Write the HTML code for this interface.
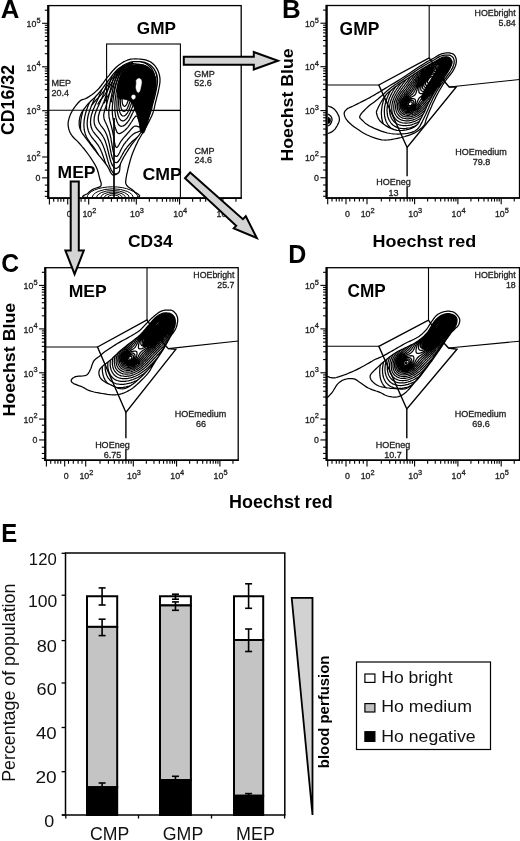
<!DOCTYPE html>
<html><head><meta charset="utf-8"><style>
html,body{margin:0;padding:0;background:#fff;overflow:hidden;width:520px;height:841px;}
svg{display:block;will-change:transform;}
text{font-family:"Liberation Sans", sans-serif;}
text[fill="#222"]{stroke:#222;stroke-width:0.3px;}
</style></head><body>
<svg width="520" height="841" viewBox="0 0 520 841">
<rect width="520" height="841" fill="#fff"/>
<rect x="48.5" y="5.6" width="192.7" height="192.5" fill="none" stroke="#000" stroke-width="1.3"/>
<line x1="48.2" y1="5.0" x2="48.2" y2="198.9" stroke="#000" stroke-width="2.2"/>
<line x1="47.7" y1="198.1" x2="241.79999999999998" y2="198.1" stroke="#000" stroke-width="1.6"/>
<line x1="42.1" y1="23.299999999999997" x2="48.5" y2="23.299999999999997" stroke="#000" stroke-width="1.1"/>
<line x1="44.800000000000004" y1="53.70519518861682" x2="48.5" y2="53.70519518861682" stroke="#000" stroke-width="1.1"/>
<line x1="44.800000000000004" y1="46.04522541969469" x2="48.5" y2="46.04522541969469" stroke="#000" stroke-width="1.1"/>
<line x1="44.800000000000004" y1="40.610390377233635" x2="48.5" y2="40.610390377233635" stroke="#000" stroke-width="1.1"/>
<line x1="44.800000000000004" y1="36.39480481138318" x2="48.5" y2="36.39480481138318" stroke="#000" stroke-width="1.1"/>
<line x1="44.800000000000004" y1="32.950420608311504" x2="48.5" y2="32.950420608311504" stroke="#000" stroke-width="1.1"/>
<line x1="44.800000000000004" y1="30.03823525937983" x2="48.5" y2="30.03823525937983" stroke="#000" stroke-width="1.1"/>
<line x1="44.800000000000004" y1="27.515585565850458" x2="48.5" y2="27.515585565850458" stroke="#000" stroke-width="1.1"/>
<line x1="44.800000000000004" y1="25.290450839389372" x2="48.5" y2="25.290450839389372" stroke="#000" stroke-width="1.1"/>
<line x1="42.1" y1="66.8" x2="48.5" y2="66.8" stroke="#000" stroke-width="1.1"/>
<line x1="44.800000000000004" y1="97.48478319035121" x2="48.5" y2="97.48478319035121" stroke="#000" stroke-width="1.1"/>
<line x1="44.800000000000004" y1="89.75437691780681" x2="48.5" y2="89.75437691780681" stroke="#000" stroke-width="1.1"/>
<line x1="44.800000000000004" y1="84.26956638070244" x2="48.5" y2="84.26956638070244" stroke="#000" stroke-width="1.1"/>
<line x1="44.800000000000004" y1="80.01521680964876" x2="48.5" y2="80.01521680964876" stroke="#000" stroke-width="1.1"/>
<line x1="44.800000000000004" y1="76.53916010815804" x2="48.5" y2="76.53916010815804" stroke="#000" stroke-width="1.1"/>
<line x1="44.800000000000004" y1="73.60019604337413" x2="48.5" y2="73.60019604337413" stroke="#000" stroke-width="1.1"/>
<line x1="44.800000000000004" y1="71.05434957105368" x2="48.5" y2="71.05434957105368" stroke="#000" stroke-width="1.1"/>
<line x1="44.800000000000004" y1="68.80875383561364" x2="48.5" y2="68.80875383561364" stroke="#000" stroke-width="1.1"/>
<line x1="42.1" y1="110.69999999999999" x2="48.5" y2="110.69999999999999" stroke="#000" stroke-width="1.1"/>
<line x1="44.800000000000004" y1="143.06231120075768" x2="48.5" y2="143.06231120075768" stroke="#000" stroke-width="1.1"/>
<line x1="44.800000000000004" y1="134.90928590647962" x2="48.5" y2="134.90928590647962" stroke="#000" stroke-width="1.1"/>
<line x1="44.800000000000004" y1="129.12462240151535" x2="48.5" y2="129.12462240151535" stroke="#000" stroke-width="1.1"/>
<line x1="44.800000000000004" y1="124.63768879924231" x2="48.5" y2="124.63768879924231" stroke="#000" stroke-width="1.1"/>
<line x1="44.800000000000004" y1="120.9715971072373" x2="48.5" y2="120.9715971072373" stroke="#000" stroke-width="1.1"/>
<line x1="44.800000000000004" y1="117.8719607473399" x2="48.5" y2="117.8719607473399" stroke="#000" stroke-width="1.1"/>
<line x1="44.800000000000004" y1="115.186933602273" x2="48.5" y2="115.186933602273" stroke="#000" stroke-width="1.1"/>
<line x1="44.800000000000004" y1="112.81857181295925" x2="48.5" y2="112.81857181295925" stroke="#000" stroke-width="1.1"/>
<line x1="42.1" y1="157.0" x2="48.5" y2="157.0" stroke="#000" stroke-width="1.1"/>
<line x1="44.800000000000004" y1="10.205195188616816" x2="48.5" y2="10.205195188616816" stroke="#000" stroke-width="1.1"/>
<line x1="42.1" y1="177.85" x2="48.5" y2="177.85" stroke="#000" stroke-width="1.1"/>
<line x1="44.800000000000004" y1="163.1" x2="48.5" y2="163.1" stroke="#000" stroke-width="1.1"/>
<line x1="44.800000000000004" y1="170.1" x2="48.5" y2="170.1" stroke="#000" stroke-width="1.1"/>
<line x1="44.800000000000004" y1="185.1" x2="48.5" y2="185.1" stroke="#000" stroke-width="1.1"/>
<line x1="44.800000000000004" y1="191.35" x2="48.5" y2="191.35" stroke="#000" stroke-width="1.1"/>
<line x1="44.800000000000004" y1="196.35" x2="48.5" y2="196.35" stroke="#000" stroke-width="1.1"/>
<line x1="88.7" y1="198.1" x2="88.7" y2="204.4" stroke="#000" stroke-width="1.1"/>
<line x1="103.02902779360551" y1="198.1" x2="103.02902779360551" y2="201.70000000000002" stroke="#000" stroke-width="1.1"/>
<line x1="111.41097172465594" y1="198.1" x2="111.41097172465594" y2="201.70000000000002" stroke="#000" stroke-width="1.1"/>
<line x1="117.35805558721101" y1="198.1" x2="117.35805558721101" y2="201.70000000000002" stroke="#000" stroke-width="1.1"/>
<line x1="121.97097220639449" y1="198.1" x2="121.97097220639449" y2="201.70000000000002" stroke="#000" stroke-width="1.1"/>
<line x1="125.73999951826144" y1="198.1" x2="125.73999951826144" y2="201.70000000000002" stroke="#000" stroke-width="1.1"/>
<line x1="128.9266667046786" y1="198.1" x2="128.9266667046786" y2="201.70000000000002" stroke="#000" stroke-width="1.1"/>
<line x1="131.68708338081652" y1="198.1" x2="131.68708338081652" y2="201.70000000000002" stroke="#000" stroke-width="1.1"/>
<line x1="134.12194344931186" y1="198.1" x2="134.12194344931186" y2="201.70000000000002" stroke="#000" stroke-width="1.1"/>
<line x1="136.3" y1="198.1" x2="136.3" y2="204.4" stroke="#000" stroke-width="1.1"/>
<line x1="149.33459881225036" y1="198.1" x2="149.33459881225036" y2="201.70000000000002" stroke="#000" stroke-width="1.1"/>
<line x1="156.95935032936137" y1="198.1" x2="156.95935032936137" y2="201.70000000000002" stroke="#000" stroke-width="1.1"/>
<line x1="162.36919762450077" y1="198.1" x2="162.36919762450077" y2="201.70000000000002" stroke="#000" stroke-width="1.1"/>
<line x1="166.56540118774961" y1="198.1" x2="166.56540118774961" y2="201.70000000000002" stroke="#000" stroke-width="1.1"/>
<line x1="169.99394914161178" y1="198.1" x2="169.99394914161178" y2="201.70000000000002" stroke="#000" stroke-width="1.1"/>
<line x1="172.8927451326173" y1="198.1" x2="172.8927451326173" y2="201.70000000000002" stroke="#000" stroke-width="1.1"/>
<line x1="175.40379643675115" y1="198.1" x2="175.40379643675115" y2="201.70000000000002" stroke="#000" stroke-width="1.1"/>
<line x1="177.61870065872276" y1="198.1" x2="177.61870065872276" y2="201.70000000000002" stroke="#000" stroke-width="1.1"/>
<line x1="179.6" y1="198.1" x2="179.6" y2="204.4" stroke="#000" stroke-width="1.1"/>
<line x1="192.63459881225037" y1="198.1" x2="192.63459881225037" y2="201.70000000000002" stroke="#000" stroke-width="1.1"/>
<line x1="200.25935032936138" y1="198.1" x2="200.25935032936138" y2="201.70000000000002" stroke="#000" stroke-width="1.1"/>
<line x1="205.66919762450078" y1="198.1" x2="205.66919762450078" y2="201.70000000000002" stroke="#000" stroke-width="1.1"/>
<line x1="209.86540118774963" y1="198.1" x2="209.86540118774963" y2="201.70000000000002" stroke="#000" stroke-width="1.1"/>
<line x1="213.29394914161176" y1="198.1" x2="213.29394914161176" y2="201.70000000000002" stroke="#000" stroke-width="1.1"/>
<line x1="216.19274513261732" y1="198.1" x2="216.19274513261732" y2="201.70000000000002" stroke="#000" stroke-width="1.1"/>
<line x1="218.70379643675116" y1="198.1" x2="218.70379643675116" y2="201.70000000000002" stroke="#000" stroke-width="1.1"/>
<line x1="220.91870065872277" y1="198.1" x2="220.91870065872277" y2="201.70000000000002" stroke="#000" stroke-width="1.1"/>
<line x1="222.9" y1="198.1" x2="222.9" y2="204.4" stroke="#000" stroke-width="1.1"/>
<line x1="235.93459881225039" y1="198.1" x2="235.93459881225039" y2="201.70000000000002" stroke="#000" stroke-width="1.1"/>
<line x1="67.7" y1="198.1" x2="67.7" y2="204.4" stroke="#000" stroke-width="1.1"/>
<line x1="49.4" y1="198.1" x2="49.4" y2="204.4" stroke="#000" stroke-width="1.1"/>
<line x1="53.7" y1="198.1" x2="53.7" y2="201.70000000000002" stroke="#000" stroke-width="1.1"/>
<line x1="58.0" y1="198.1" x2="58.0" y2="201.70000000000002" stroke="#000" stroke-width="1.1"/>
<line x1="60.9" y1="198.1" x2="60.9" y2="201.70000000000002" stroke="#000" stroke-width="1.1"/>
<line x1="63.7" y1="198.1" x2="63.7" y2="201.70000000000002" stroke="#000" stroke-width="1.1"/>
<line x1="71.5" y1="198.1" x2="71.5" y2="201.70000000000002" stroke="#000" stroke-width="1.1"/>
<line x1="76.3" y1="198.1" x2="76.3" y2="201.70000000000002" stroke="#000" stroke-width="1.1"/>
<line x1="81.1" y1="198.1" x2="81.1" y2="201.70000000000002" stroke="#000" stroke-width="1.1"/>
<line x1="85.0" y1="198.1" x2="85.0" y2="201.70000000000002" stroke="#000" stroke-width="1.1"/>
<text x="40.5" y="27.00" font-size="8.8" text-anchor="end" fill="#222">10<tspan font-size="7.4" dy="-4.4">5</tspan></text>
<text x="40.5" y="70.50" font-size="8.8" text-anchor="end" fill="#222">10<tspan font-size="7.4" dy="-4.4">4</tspan></text>
<text x="40.5" y="114.40" font-size="8.8" text-anchor="end" fill="#222">10<tspan font-size="7.4" dy="-4.4">3</tspan></text>
<text x="40.5" y="160.70" font-size="8.8" text-anchor="end" fill="#222">10<tspan font-size="7.4" dy="-4.4">2</tspan></text>
<text x="40.5" y="181.35" font-size="8.8" text-anchor="end" fill="#222">0</text>
<text x="69.20" y="217.10" font-size="8.8" text-anchor="middle" fill="#222">0</text>
<text x="82.40" y="217.10" font-size="8.8" fill="#222">10<tspan font-size="7.4" dy="-4.4">2</tspan></text>
<text x="130.00" y="217.10" font-size="8.8" fill="#222">10<tspan font-size="7.4" dy="-4.4">3</tspan></text>
<text x="173.30" y="217.10" font-size="8.8" fill="#222">10<tspan font-size="7.4" dy="-4.4">4</tspan></text>
<text x="216.60" y="217.10" font-size="8.8" fill="#222">10<tspan font-size="7.4" dy="-4.4">5</tspan></text>
<clipPath id="clipA"><path d="M138.5 61.5 L140.2 61.6 L142.0 61.9 L143.8 62.2 L145.4 62.7 L147.0 63.3 L148.5 64.0 L149.8 64.8 L151.1 65.8 L152.2 66.8 L153.3 68.0 L154.2 69.2 L155.0 70.5 L155.7 71.8 L156.3 73.2 L156.8 74.7 L157.1 76.2 L157.4 77.8 L157.5 79.5 L157.5 81.3 L157.4 83.1 L157.1 85.1 L156.8 87.0 L156.4 89.0 L156.0 91.0 L155.6 93.0 L155.1 95.0 L154.6 97.0 L154.1 99.1 L153.5 101.1 L153.0 103.0 L152.5 104.8 L152.1 106.6 L151.8 108.3 L151.3 110.1 L150.7 111.9 L150.0 114.0 L149.1 116.3 L148.0 118.9 L146.8 121.6 L145.5 124.2 L144.2 126.7 L143.0 129.0 L141.8 131.0 L140.6 132.8 L139.4 134.5 L138.2 136.1 L137.0 137.6 L136.0 139.0 L135.1 140.2 L134.3 141.2 L133.5 142.2 L132.8 143.1 L132.0 144.1 L131.1 145.4 L130.1 147.0 L128.9 148.7 L127.7 150.6 L126.5 152.5 L125.4 154.3 L124.4 156.0 L123.5 157.5 L122.8 158.9 L122.1 160.3 L121.4 161.6 L120.9 162.9 L120.4 164.2 L120.1 165.6 L119.9 167.1 L119.8 168.6 L119.7 170.0 L119.4 171.3 L119.0 172.3 L118.3 173.1 L117.4 173.8 L116.4 174.3 L115.3 174.6 L114.4 174.9 L113.6 175.0 L113.0 175.0 L112.6 174.9 L112.2 174.6 L111.9 174.2 L111.5 173.7 L111.0 173.0 L110.5 172.1 L110.0 171.1 L109.4 169.9 L108.8 168.6 L108.0 167.2 L107.0 165.6 L105.7 163.9 L104.2 161.9 L102.6 159.9 L100.9 157.7 L99.1 155.6 L97.5 153.5 L95.9 151.4 L94.2 149.3 L92.6 147.1 L91.0 145.0 L89.4 142.9 L88.0 141.0 L86.6 139.2 L85.3 137.4 L84.0 135.7 L82.9 134.1 L81.8 132.5 L81.0 131.0 L80.4 129.6 L79.9 128.3 L79.6 127.1 L79.3 125.9 L79.2 124.6 L79.2 123.3 L79.2 121.9 L79.3 120.3 L79.6 118.8 L79.9 117.2 L80.4 115.6 L81.0 114.0 L81.8 112.4 L82.8 110.7 L84.0 109.0 L85.3 107.4 L86.6 105.7 L88.0 104.0 L89.5 102.4 L91.1 100.8 L92.8 99.2 L94.6 97.6 L96.3 95.8 L98.0 94.0 L99.7 92.0 L101.4 89.8 L103.1 87.6 L104.7 85.3 L106.4 83.1 L108.0 81.0 L109.5 79.0 L111.0 77.0 L112.4 75.1 L113.9 73.3 L115.4 71.6 L117.0 70.0 L118.7 68.5 L120.5 67.2 L122.4 65.9 L124.3 64.8 L126.2 63.8 L128.0 63.0 L129.8 62.4 L131.6 61.9 L133.3 61.7 L135.1 61.5 L136.8 61.5Z"/></clipPath>
<clipPath id="clipA2"><path d="M60 40 L136 40 L128 100 L60 110 Z"/></clipPath>
<path d="M138.3 59.0 L140.2 59.1 L142.3 59.4 L144.3 59.7 L146.3 60.2 L148.1 60.8 L149.8 61.5 L151.3 62.4 L152.7 63.5 L153.9 64.7 L155.1 66.0 L156.1 67.4 L157.0 68.8 L157.8 70.3 L158.5 71.9 L159.0 73.6 L159.5 75.3 L159.8 77.1 L160.0 78.9 L160.0 80.7 L159.9 82.6 L159.6 84.6 L159.3 86.5 L158.9 88.5 L158.5 90.4 L158.1 92.3 L157.6 94.3 L157.1 96.2 L156.6 98.1 L156.1 100.1 L155.6 102.0 L155.2 103.9 L154.8 105.7 L154.4 107.6 L154.0 109.4 L153.4 111.4 L152.7 113.5 L151.8 115.8 L150.6 118.2 L149.4 120.6 L148.1 123.1 L146.8 125.6 L145.5 128.0 L144.2 130.3 L142.9 132.6 L141.6 134.8 L140.3 137.0 L139.0 139.2 L137.9 141.3 L136.9 143.4 L135.9 145.4 L135.0 147.4 L134.1 149.4 L133.3 151.4 L132.5 153.5 L131.7 155.7 L131.0 157.9 L130.3 160.2 L129.7 162.5 L129.1 164.7 L128.5 167.0 L127.9 169.3 L127.4 171.8 L126.8 174.2 L126.4 176.5 L126.0 178.6 L125.8 180.4 L125.7 181.8 L125.7 182.8 L125.9 183.6 L126.1 184.3 L126.5 185.0 L127.1 185.8 L128.0 186.7 L129.1 187.5 L130.4 188.4 L131.7 189.3 L132.9 190.2 L133.8 191.1 L135.1 192.2 L137.0 193.4 L138.7 194.6 L139.7 195.8 L139.2 196.8 L136.5 197.5 L130.6 197.9 L121.7 198.1 L111.3 198.2 L100.9 198.1 L92.0 197.8 L86.0 197.5 L83.3 197.0 L82.6 196.4 L83.5 195.6 L85.1 194.8 L86.9 194.0 L88.0 193.2 L88.7 192.5 L89.5 191.8 L90.4 191.0 L91.4 190.3 L92.4 189.6 L93.5 189.0 L94.7 188.5 L96.2 188.0 L97.6 187.6 L99.0 187.2 L100.2 186.6 L100.9 185.8 L101.2 184.8 L101.2 183.6 L100.9 182.2 L100.4 180.8 L99.9 179.3 L99.5 177.7 L99.1 176.1 L98.7 174.4 L98.3 172.7 L97.7 170.8 L97.1 168.9 L96.2 167.0 L95.1 164.9 L93.8 162.7 L92.4 160.5 L90.9 158.2 L89.4 156.0 L88.0 154.0 L86.6 152.1 L85.2 150.3 L83.8 148.5 L82.3 146.8 L80.9 145.1 L79.5 143.5 L78.0 141.9 L76.5 140.4 L75.0 139.0 L73.5 137.5 L72.2 136.0 L71.1 134.4 L70.2 132.7 L69.4 130.9 L68.8 129.0 L68.4 127.1 L68.1 125.2 L68.1 123.3 L68.3 121.3 L68.8 119.3 L69.4 117.2 L70.2 115.1 L71.1 113.1 L72.1 111.2 L73.2 109.3 L74.5 107.4 L75.9 105.5 L77.3 103.8 L78.7 102.3 L80.0 101.0 L81.2 100.1 L82.3 99.6 L83.3 99.3 L84.4 99.0 L85.6 98.6 L87.0 97.9 L88.6 96.9 L90.3 95.7 L92.2 94.4 L94.1 93.0 L95.9 91.4 L97.7 89.8 L99.3 88.0 L100.9 86.0 L102.5 83.9 L104.0 81.8 L105.5 79.7 L107.1 77.7 L108.7 75.8 L110.2 73.9 L111.7 72.0 L113.3 70.2 L114.9 68.5 L116.5 67.0 L118.2 65.6 L120.0 64.2 L121.8 63.0 L123.6 61.9 L125.5 61.0 L127.3 60.2 L129.1 59.6 L130.9 59.2 L132.8 59.0 L134.6 58.9 L136.4 58.9ZM138.5 61.5 L140.2 61.6 L142.0 61.9 L143.8 62.2 L145.4 62.7 L147.0 63.3 L148.5 64.0 L149.8 64.8 L151.1 65.8 L152.2 66.8 L153.3 68.0 L154.2 69.2 L155.0 70.5 L155.7 71.8 L156.3 73.2 L156.8 74.7 L157.1 76.2 L157.4 77.8 L157.5 79.5 L157.5 81.3 L157.4 83.1 L157.1 85.1 L156.8 87.0 L156.4 89.0 L156.0 91.0 L155.6 93.0 L155.1 95.0 L154.6 97.0 L154.1 99.1 L153.5 101.1 L153.0 103.0 L152.5 104.8 L152.1 106.6 L151.8 108.3 L151.3 110.1 L150.7 111.9 L150.0 114.0 L149.1 116.3 L148.0 118.9 L146.8 121.6 L145.5 124.2 L144.2 126.7 L143.0 129.0 L141.8 131.0 L140.6 132.8 L139.4 134.5 L138.2 136.1 L137.0 137.6 L136.0 139.0 L135.1 140.2 L134.3 141.2 L133.5 142.2 L132.8 143.1 L132.0 144.1 L131.1 145.4 L130.1 147.0 L128.9 148.7 L127.7 150.6 L126.5 152.5 L125.4 154.3 L124.4 156.0 L123.5 157.5 L122.8 158.9 L122.1 160.3 L121.4 161.6 L120.9 162.9 L120.4 164.2 L120.1 165.6 L119.9 167.1 L119.8 168.6 L119.7 170.0 L119.4 171.3 L119.0 172.3 L118.3 173.1 L117.4 173.8 L116.4 174.3 L115.3 174.6 L114.4 174.9 L113.6 175.0 L113.0 175.0 L112.6 174.9 L112.2 174.6 L111.9 174.2 L111.5 173.7 L111.0 173.0 L110.5 172.1 L110.0 171.1 L109.4 169.9 L108.8 168.6 L108.0 167.2 L107.0 165.6 L105.7 163.9 L104.2 161.9 L102.6 159.9 L100.9 157.7 L99.1 155.6 L97.5 153.5 L95.9 151.4 L94.2 149.3 L92.6 147.1 L91.0 145.0 L89.4 142.9 L88.0 141.0 L86.6 139.2 L85.3 137.4 L84.0 135.7 L82.9 134.1 L81.8 132.5 L81.0 131.0 L80.4 129.6 L79.9 128.3 L79.6 127.1 L79.3 125.9 L79.2 124.6 L79.2 123.3 L79.2 121.9 L79.3 120.3 L79.6 118.8 L79.9 117.2 L80.4 115.6 L81.0 114.0 L81.8 112.4 L82.8 110.7 L84.0 109.0 L85.3 107.4 L86.6 105.7 L88.0 104.0 L89.5 102.4 L91.1 100.8 L92.8 99.2 L94.6 97.6 L96.3 95.8 L98.0 94.0 L99.7 92.0 L101.4 89.8 L103.1 87.6 L104.7 85.3 L106.4 83.1 L108.0 81.0 L109.5 79.0 L111.0 77.0 L112.4 75.1 L113.9 73.3 L115.4 71.6 L117.0 70.0 L118.7 68.5 L120.5 67.2 L122.4 65.9 L124.3 64.8 L126.2 63.8 L128.0 63.0 L129.8 62.4 L131.6 61.9 L133.3 61.7 L135.1 61.5 L136.8 61.5Z" fill="none" stroke="#000" stroke-width="1.25" stroke-linejoin="round"/>
<g clip-path="url(#clipA)"><path d="M117.2 200.0 L115.8 200.0 L114.2 200.0 L113.0 200.0 L111.9 199.5 L111.0 199.0 L110.0 198.2 L109.2 197.5 L108.5 196.8 L107.8 196.0 L107.2 195.2 L106.5 194.2 L106.0 193.5 L105.4 192.5 L104.8 191.5 L104.2 190.5 L103.8 189.6 L103.2 188.6 L102.8 187.6 L102.2 186.6 L101.8 185.5 L101.3 184.5 L100.9 183.5 L100.4 182.5 L100.0 181.5 L99.5 180.3 L99.0 179.2 L98.6 178.2 L98.2 177.2 L97.8 176.2 L97.3 175.0 L96.8 174.0 L96.4 173.0 L96.0 172.0 L95.5 170.9 L95.0 169.8 L94.5 168.8 L94.0 167.8 L93.5 166.8 L93.1 165.8 L92.5 164.8 L92.0 163.8 L91.5 162.8 L91.0 161.9 L90.5 161.0 L89.9 160.0 L89.3 159.0 L88.8 158.2 L88.2 157.2 L87.5 156.2 L87.0 155.5 L86.3 154.5 L85.8 153.6 L85.2 152.8 L84.5 151.8 L84.0 150.9 L83.4 150.0 L82.8 149.0 L82.2 148.1 L81.8 147.2 L81.2 146.2 L80.8 145.2 L80.2 144.1 L79.8 143.0 L79.4 142.0 L79.0 141.0 L78.6 139.8 L78.2 138.6 L78.0 137.5 L77.7 136.2 L77.5 135.0 L77.2 133.5 L77.1 132.2 L77.0 131.0 L76.9 129.5 L76.9 128.0 L76.9 126.5 L77.0 125.0 L77.1 123.8 L77.2 122.2 L77.3 121.0 L77.5 119.8 L77.8 118.3 L78.0 117.0 L78.2 115.8 L78.5 114.5 L78.8 113.5 L79.0 112.2 L79.4 111.0 L79.7 109.8 L80.0 108.8 L80.4 107.5 L80.8 106.3 L81.1 105.2 L81.5 104.0 L81.8 103.0 L82.2 101.8 L82.6 100.8 L83.0 99.6 L83.4 98.5 L83.8 97.5 L84.2 96.2 L84.6 95.2 L85.0 94.1 L85.4 93.0 L85.8 92.0 L86.2 90.8 L86.6 89.8 L87.0 88.7 L87.5 87.5 L87.8 86.5 L88.2 85.3 L88.7 84.2 L89.0 83.2 L89.5 82.0 L89.8 81.0 L90.2 79.9 L90.7 78.8 L91.0 77.8 L91.5 76.5 L91.8 75.5 L92.2 74.3 L92.6 73.2 L93.0 72.2 L93.4 71.0 L93.8 70.0 L94.2 68.8 L94.6 67.8 L95.0 66.8 L95.5 65.5 L95.8 64.5 L96.2 63.4 L96.7 62.2 L97.1 61.2 L97.5 60.2 L98.0 59.0 L98.4 58.0 L98.8 57.0 L99.2 55.8 L99.7 54.8 L100.1 53.8 L100.5 52.8 L101.0 51.6 L101.5 50.5 L102.2 50.0 L103.8 50.0 L105.2 50.0 L106.8 50.0 L108.2 50.0 L109.8 49.9 L111.2 49.9 L112.8 49.9 L114.2 49.9 L115.8 49.9 L117.2 49.9 L118.8 49.9 L120.2 49.9 L121.8 49.9 L123.2 49.9 L124.8 49.9 L126.2 49.9 L127.8 49.9 L129.2 49.9 L130.8 49.9 L132.2 49.9 L133.8 49.9 L135.2 49.9 L136.8 49.9 L138.2 49.9 L139.8 49.9 L141.2 49.9 L142.8 49.9 L144.2 49.9 L145.8 49.9 L147.2 49.9 L148.8 49.9 L150.2 49.9 L151.8 49.9 L153.2 49.9 L154.8 49.9 L156.2 49.9 L157.8 49.9 L159.2 49.9 L160.8 49.9 L162.2 49.9 L163.8 50.0 L165.2 50.0 L166.8 50.0 L168.2 50.0 L169.8 50.0 L170.0 51.0 L170.0 52.5 L170.0 54.0 L170.0 55.5 L170.0 57.0 L170.0 58.5 L170.0 60.0 L170.0 61.5 L170.0 63.0 L170.0 64.5 L170.0 66.0 L170.0 67.5 L170.0 69.0 L170.0 70.5 L170.1 72.0 L170.1 73.5 L170.1 75.0 L170.1 76.5 L170.1 78.0 L170.1 79.5 L170.1 81.0 L170.1 82.5 L170.0 84.0 L170.0 85.5 L170.0 87.0 L170.0 88.5 L170.0 90.0 L170.0 91.5 L170.0 93.0 L170.0 94.5 L170.0 96.0 L170.0 97.5 L170.0 99.0 L170.0 100.5 L170.0 102.0 L170.0 103.5 L170.0 105.0 L170.0 106.4 L169.7 107.5 L169.2 108.7 L168.9 109.8 L168.5 110.9 L168.1 112.0 L167.8 113.0 L167.3 114.2 L166.9 115.2 L166.5 116.4 L166.1 117.5 L165.7 118.5 L165.2 119.7 L164.8 120.8 L164.4 121.8 L164.0 122.8 L163.5 124.0 L163.1 125.0 L162.7 126.0 L162.2 127.1 L161.8 128.2 L161.4 129.2 L160.9 130.2 L160.5 131.3 L160.0 132.4 L159.5 133.5 L159.1 134.5 L158.7 135.5 L158.2 136.5 L157.8 137.6 L157.2 138.7 L156.8 139.8 L156.3 140.8 L155.9 141.8 L155.4 142.8 L155.0 143.8 L154.5 144.8 L154.0 145.8 L153.5 146.9 L153.0 147.9 L152.5 149.0 L152.0 150.0 L151.5 151.0 L151.0 152.0 L150.6 153.0 L150.1 154.0 L149.6 155.0 L149.1 156.0 L148.5 157.0 L148.0 158.0 L147.5 159.0 L147.0 160.0 L146.5 160.9 L146.0 161.9 L145.5 162.8 L145.0 163.8 L144.5 164.8 L143.9 165.8 L143.4 166.8 L142.8 167.8 L142.2 168.7 L141.8 169.6 L141.2 170.5 L140.6 171.5 L140.1 172.5 L139.5 173.4 L139.0 174.3 L138.4 175.2 L137.8 176.2 L137.2 177.1 L136.7 178.0 L136.1 179.0 L135.5 179.9 L135.0 180.8 L134.3 181.8 L133.8 182.6 L133.1 183.5 L132.5 184.5 L132.0 185.2 L131.3 186.2 L130.7 187.0 L130.0 188.0 L129.5 188.8 L128.8 189.7 L128.2 190.5 L127.5 191.3 L126.8 192.2 L126.2 193.0 L125.5 193.8 L124.8 194.6 L124.0 195.4 L123.2 196.1 L122.5 196.8 L121.7 197.5 L120.8 198.2 L120.0 198.8 L119.0 199.3 L118.0 199.8ZM116.5 192.8 L115.0 192.9 L113.8 192.6 L112.8 192.2 L111.8 191.6 L111.0 191.0 L110.2 190.2 L109.5 189.5 L108.8 188.5 L108.2 187.8 L107.5 186.8 L107.0 185.8 L106.5 185.0 L106.0 184.0 L105.5 183.0 L105.0 182.0 L104.5 180.9 L104.0 179.8 L103.6 178.8 L103.1 177.8 L102.7 176.8 L102.2 175.5 L101.8 174.5 L101.4 173.5 L101.0 172.4 L100.6 171.2 L100.2 170.2 L99.8 169.2 L99.3 168.0 L98.9 167.0 L98.5 166.0 L98.0 164.9 L97.5 163.8 L97.0 162.8 L96.6 161.8 L96.1 160.8 L95.6 159.8 L95.1 158.8 L94.6 157.8 L94.0 156.8 L93.5 155.9 L92.9 155.0 L92.3 154.0 L91.8 153.1 L91.1 152.2 L90.5 151.3 L89.9 150.5 L89.2 149.6 L88.7 148.8 L88.0 147.8 L87.4 147.0 L86.8 146.0 L86.2 145.2 L85.6 144.2 L85.0 143.3 L84.5 142.4 L84.0 141.5 L83.5 140.5 L83.0 139.3 L82.6 138.2 L82.2 137.2 L81.8 136.0 L81.5 134.9 L81.2 133.8 L81.0 132.5 L80.8 131.0 L80.6 129.8 L80.5 128.2 L80.5 127.0 L80.5 125.5 L80.5 124.2 L80.6 122.8 L80.8 121.5 L80.9 120.0 L81.1 118.8 L81.4 117.5 L81.6 116.2 L81.9 115.0 L82.2 113.8 L82.5 112.5 L82.8 111.5 L83.1 110.2 L83.5 109.1 L83.8 108.0 L84.2 106.8 L84.6 105.8 L85.0 104.6 L85.4 103.5 L85.8 102.5 L86.2 101.2 L86.6 100.2 L87.0 99.2 L87.5 98.0 L87.9 97.0 L88.2 96.0 L88.7 94.8 L89.1 93.8 L89.5 92.8 L90.0 91.5 L90.4 90.5 L90.8 89.5 L91.2 88.2 L91.6 87.2 L92.0 86.2 L92.5 85.0 L92.8 84.0 L93.2 82.9 L93.7 81.8 L94.0 80.8 L94.5 79.5 L94.8 78.5 L95.2 77.3 L95.6 76.2 L96.0 75.2 L96.4 74.0 L96.8 73.0 L97.2 71.8 L97.6 70.8 L98.0 69.7 L98.4 68.5 L98.8 67.5 L99.2 66.3 L99.6 65.2 L100.0 64.2 L100.5 63.0 L100.9 62.0 L101.3 61.0 L101.8 59.8 L102.2 58.8 L102.6 57.8 L103.0 56.8 L103.5 55.6 L104.0 54.5 L104.4 53.5 L104.8 52.5 L105.3 51.5 L105.8 50.5 L106.8 50.0 L108.2 50.0 L109.8 50.0 L111.2 50.0 L112.8 49.9 L114.2 49.9 L115.8 49.9 L117.2 49.9 L118.8 49.9 L120.2 49.9 L121.8 49.9 L123.2 49.9 L124.8 49.9 L126.2 49.9 L127.8 49.9 L129.2 49.9 L130.8 49.9 L132.2 49.9 L133.8 49.9 L135.2 49.9 L136.8 49.9 L138.2 49.9 L139.8 49.9 L141.2 49.9 L142.8 49.9 L144.2 49.9 L145.8 49.9 L147.2 49.9 L148.8 49.9 L150.2 49.9 L151.8 49.9 L153.2 49.9 L154.8 49.9 L156.2 49.9 L157.8 49.9 L159.2 50.0 L160.8 50.0 L162.2 50.0 L163.8 50.0 L165.2 50.0 L166.2 50.3 L166.8 51.3 L167.2 52.4 L167.7 53.5 L168.1 54.5 L168.5 55.5 L169.0 56.8 L169.3 57.8 L169.7 59.0 L170.0 60.1 L170.0 61.5 L170.0 63.0 L170.0 64.5 L170.0 66.0 L170.0 67.5 L170.0 69.0 L170.0 70.5 L170.0 72.0 L170.0 73.5 L170.0 75.0 L170.0 76.5 L170.0 78.0 L170.0 79.5 L170.0 81.0 L170.0 82.5 L170.0 84.0 L170.0 85.5 L170.0 87.0 L170.0 88.5 L170.0 90.0 L170.0 91.5 L170.0 93.0 L170.0 94.3 L169.7 95.5 L169.4 96.8 L169.1 98.0 L168.8 99.2 L168.5 100.3 L168.1 101.5 L167.8 102.8 L167.5 103.8 L167.1 105.0 L166.8 106.0 L166.3 107.2 L166.0 108.3 L165.6 109.5 L165.2 110.5 L164.8 111.8 L164.4 112.8 L164.0 113.8 L163.6 115.0 L163.2 116.0 L162.8 117.1 L162.3 118.2 L161.9 119.2 L161.5 120.3 L161.0 121.5 L160.6 122.5 L160.2 123.5 L159.8 124.6 L159.3 125.8 L158.9 126.8 L158.4 127.8 L158.0 128.8 L157.5 130.0 L157.0 131.0 L156.6 132.0 L156.2 133.0 L155.7 134.0 L155.2 135.1 L154.8 136.2 L154.3 137.2 L153.8 138.2 L153.3 139.2 L152.9 140.2 L152.4 141.2 L151.9 142.2 L151.5 143.2 L151.0 144.2 L150.5 145.2 L150.0 146.2 L149.5 147.2 L149.0 148.2 L148.5 149.2 L148.0 150.2 L147.4 151.2 L146.9 152.2 L146.4 153.2 L145.8 154.2 L145.3 155.2 L144.8 156.2 L144.2 157.1 L143.8 158.0 L143.2 159.0 L142.6 160.0 L142.1 161.0 L141.5 161.9 L141.0 162.8 L140.4 163.8 L139.8 164.8 L139.2 165.7 L138.8 166.5 L138.1 167.5 L137.5 168.5 L137.0 169.3 L136.4 170.2 L135.8 171.2 L135.2 172.0 L134.6 173.0 L134.0 173.9 L133.4 174.8 L132.8 175.8 L132.2 176.5 L131.6 177.5 L131.0 178.3 L130.4 179.2 L129.8 180.1 L129.1 181.0 L128.5 181.8 L127.8 182.8 L127.2 183.5 L126.5 184.5 L125.9 185.2 L125.2 186.1 L124.5 186.9 L123.8 187.8 L123.1 188.5 L122.3 189.2 L121.5 190.0 L120.8 190.7 L120.0 191.2 L119.0 191.9 L118.0 192.4 L116.8 192.7ZM116.2 186.0 L114.9 186.0 L113.8 185.7 L112.8 185.1 L111.9 184.5 L111.2 183.8 L110.5 183.0 L109.8 182.0 L109.2 181.2 L108.7 180.2 L108.1 179.2 L107.6 178.2 L107.2 177.2 L106.7 176.2 L106.2 175.2 L105.8 174.0 L105.4 173.0 L105.0 172.0 L104.5 170.8 L104.2 169.8 L103.8 168.6 L103.3 167.5 L103.0 166.5 L102.5 165.2 L102.2 164.2 L101.8 163.1 L101.3 162.0 L101.0 161.0 L100.5 159.8 L100.1 158.8 L99.6 157.8 L99.2 156.8 L98.8 155.7 L98.2 154.7 L97.8 153.7 L97.2 152.8 L96.7 151.8 L96.1 150.8 L95.5 149.8 L95.0 149.0 L94.3 148.0 L93.7 147.2 L93.0 146.3 L92.4 145.5 L91.8 144.7 L91.0 143.8 L90.5 143.0 L89.8 142.1 L89.2 141.2 L88.5 140.3 L88.0 139.5 L87.4 138.5 L86.8 137.5 L86.3 136.5 L85.9 135.5 L85.5 134.5 L85.1 133.2 L84.8 132.1 L84.5 131.0 L84.2 129.7 L84.1 128.2 L84.0 127.0 L83.9 125.5 L83.9 124.0 L84.0 122.5 L84.1 121.2 L84.2 119.8 L84.5 118.5 L84.7 117.2 L84.9 116.0 L85.2 114.8 L85.5 113.7 L85.8 112.5 L86.2 111.2 L86.5 110.2 L86.9 109.0 L87.3 108.0 L87.7 106.8 L88.1 105.8 L88.5 104.7 L89.0 103.5 L89.4 102.5 L89.8 101.5 L90.2 100.3 L90.7 99.2 L91.1 98.2 L91.5 97.2 L92.0 96.1 L92.4 95.0 L92.8 94.0 L93.2 93.0 L93.7 91.8 L94.1 90.8 L94.5 89.8 L95.0 88.5 L95.4 87.5 L95.8 86.5 L96.2 85.2 L96.6 84.2 L97.0 83.1 L97.4 82.0 L97.8 81.0 L98.2 79.8 L98.5 78.8 L99.0 77.5 L99.3 76.5 L99.8 75.3 L100.1 74.2 L100.5 73.2 L100.9 72.0 L101.3 71.0 L101.7 69.8 L102.1 68.8 L102.5 67.7 L102.9 66.5 L103.3 65.5 L103.8 64.4 L104.2 63.2 L104.6 62.2 L105.0 61.2 L105.5 60.0 L105.9 59.0 L106.3 58.0 L106.8 57.0 L107.2 55.9 L107.8 54.8 L108.2 53.8 L108.7 52.8 L109.2 51.8 L109.7 50.8 L110.2 50.0 L111.8 50.0 L113.2 50.0 L114.8 50.0 L116.2 50.0 L117.8 49.9 L119.2 49.9 L120.8 49.9 L122.2 49.9 L123.8 49.9 L125.2 49.9 L126.8 49.9 L128.2 49.9 L129.8 49.9 L131.2 49.9 L132.8 49.9 L134.2 49.9 L135.8 49.9 L137.2 49.9 L138.8 49.9 L140.2 49.9 L141.8 49.9 L143.2 49.9 L144.8 49.9 L146.2 49.9 L147.8 49.9 L149.2 49.9 L150.8 49.9 L152.2 50.0 L153.8 50.0 L155.2 50.0 L156.8 50.0 L158.2 50.0 L159.8 50.0 L161.1 50.0 L161.8 51.0 L162.2 51.8 L162.9 52.8 L163.4 53.8 L164.0 54.8 L164.5 55.8 L164.9 56.8 L165.4 57.8 L165.8 58.8 L166.2 60.0 L166.6 61.0 L167.0 62.2 L167.3 63.2 L167.6 64.5 L167.9 65.8 L168.1 67.0 L168.3 68.2 L168.5 69.5 L168.7 71.0 L168.8 72.2 L168.9 73.8 L169.0 75.0 L169.0 76.5 L169.1 78.0 L169.0 79.5 L169.0 80.8 L168.9 82.2 L168.8 83.8 L168.6 85.0 L168.5 86.2 L168.3 87.8 L168.1 89.0 L167.9 90.2 L167.6 91.5 L167.4 92.8 L167.1 94.0 L166.8 95.2 L166.5 96.5 L166.2 97.5 L165.9 98.8 L165.6 100.0 L165.2 101.1 L164.9 102.2 L164.5 103.5 L164.2 104.5 L163.8 105.8 L163.4 106.8 L163.0 108.0 L162.7 109.0 L162.2 110.2 L161.9 111.2 L161.5 112.3 L161.0 113.5 L160.7 114.5 L160.2 115.6 L159.8 116.8 L159.4 117.8 L159.0 118.8 L158.5 120.0 L158.1 121.0 L157.7 122.0 L157.2 123.1 L156.8 124.2 L156.4 125.2 L156.0 126.2 L155.5 127.3 L155.0 128.5 L154.6 129.5 L154.1 130.5 L153.7 131.5 L153.2 132.5 L152.8 133.5 L152.2 134.6 L151.8 135.7 L151.2 136.7 L150.8 137.8 L150.3 138.8 L149.8 139.8 L149.3 140.8 L148.8 141.8 L148.2 142.7 L147.8 143.7 L147.2 144.7 L146.8 145.6 L146.2 146.5 L145.7 147.5 L145.1 148.5 L144.6 149.5 L144.0 150.5 L143.5 151.4 L143.0 152.2 L142.4 153.2 L141.8 154.2 L141.2 155.1 L140.7 156.0 L140.1 157.0 L139.5 157.9 L139.0 158.8 L138.3 159.8 L137.8 160.6 L137.2 161.5 L136.5 162.5 L136.0 163.3 L135.3 164.2 L134.8 165.1 L134.1 166.0 L133.5 166.9 L132.9 167.8 L132.2 168.7 L131.7 169.5 L131.0 170.5 L130.5 171.2 L129.8 172.2 L129.2 173.0 L128.5 174.0 L128.0 174.8 L127.3 175.8 L126.7 176.5 L126.0 177.5 L125.4 178.2 L124.8 179.1 L124.0 180.0 L123.4 180.8 L122.8 181.5 L122.0 182.4 L121.2 183.1 L120.5 183.8 L119.6 184.5 L118.8 185.1 L117.8 185.6 L116.5 186.0ZM116.0 179.8 L114.8 179.6 L113.8 179.2 L112.8 178.5 L112.0 177.8 L111.4 177.0 L110.8 176.1 L110.2 175.2 L109.7 174.2 L109.2 173.2 L108.8 172.2 L108.2 171.0 L107.8 170.0 L107.5 169.0 L107.0 167.8 L106.7 166.8 L106.3 165.5 L105.9 164.5 L105.5 163.2 L105.2 162.2 L104.8 161.0 L104.5 160.0 L104.1 158.8 L103.7 157.8 L103.3 156.5 L102.9 155.5 L102.5 154.3 L102.1 153.2 L101.7 152.2 L101.2 151.2 L100.8 150.0 L100.3 149.0 L99.8 148.0 L99.2 147.1 L98.8 146.2 L98.1 145.2 L97.5 144.3 L96.9 143.5 L96.2 142.6 L95.6 141.8 L94.9 141.0 L94.2 140.2 L93.5 139.3 L92.9 138.5 L92.2 137.8 L91.5 136.8 L91.0 136.0 L90.3 135.0 L89.8 134.0 L89.2 133.0 L88.8 132.0 L88.4 131.0 L88.0 129.8 L87.8 128.7 L87.5 127.4 L87.3 126.0 L87.2 124.8 L87.2 123.2 L87.2 121.8 L87.4 120.5 L87.5 119.2 L87.7 117.8 L88.0 116.5 L88.2 115.4 L88.5 114.2 L88.9 113.0 L89.2 111.8 L89.6 110.8 L90.0 109.6 L90.4 108.5 L90.8 107.5 L91.2 106.4 L91.7 105.2 L92.1 104.2 L92.6 103.2 L93.0 102.2 L93.5 101.1 L94.0 100.0 L94.4 99.0 L94.8 98.0 L95.3 97.0 L95.8 95.8 L96.2 94.8 L96.6 93.8 L97.0 92.8 L97.5 91.5 L97.9 90.5 L98.3 89.5 L98.7 88.2 L99.1 87.2 L99.5 86.1 L99.9 85.0 L100.3 84.0 L100.7 82.8 L101.0 81.8 L101.5 80.5 L101.8 79.5 L102.2 78.2 L102.6 77.2 L103.0 76.0 L103.3 75.0 L103.8 73.8 L104.1 72.8 L104.5 71.7 L104.9 70.5 L105.3 69.5 L105.8 68.3 L106.1 67.2 L106.5 66.2 L107.0 65.0 L107.4 64.0 L107.8 63.0 L108.2 61.9 L108.7 60.8 L109.2 59.8 L109.6 58.8 L110.1 57.8 L110.5 56.8 L111.0 55.8 L111.5 54.8 L112.0 53.8 L112.5 52.8 L113.1 51.8 L113.6 50.8 L114.2 50.0 L115.8 50.0 L117.2 50.0 L118.8 50.0 L120.2 50.0 L121.8 49.9 L123.2 49.9 L124.8 49.9 L126.2 49.9 L127.8 49.9 L129.2 49.9 L130.8 49.9 L132.2 49.9 L133.8 49.9 L135.2 49.9 L136.8 49.9 L138.2 49.9 L139.8 49.9 L141.2 49.9 L142.8 49.9 L144.2 49.9 L145.8 50.0 L147.2 50.0 L148.8 50.0 L150.2 50.0 L151.8 50.0 L153.2 50.0 L154.8 50.0 L155.8 50.2 L156.5 51.0 L157.2 51.8 L158.0 52.7 L158.6 53.5 L159.2 54.4 L159.8 55.2 L160.5 56.2 L161.0 57.1 L161.5 58.0 L162.0 59.0 L162.5 60.0 L163.0 61.1 L163.5 62.2 L163.9 63.2 L164.2 64.4 L164.6 65.5 L164.9 66.8 L165.2 68.0 L165.5 69.2 L165.7 70.5 L165.9 71.8 L166.0 73.0 L166.1 74.5 L166.2 76.0 L166.3 77.2 L166.3 78.8 L166.3 80.2 L166.2 81.5 L166.1 83.0 L166.0 84.4 L165.9 85.8 L165.7 87.0 L165.5 88.4 L165.3 89.8 L165.0 91.0 L164.8 92.2 L164.5 93.5 L164.2 94.7 L164.0 95.8 L163.7 97.0 L163.3 98.2 L163.0 99.5 L162.7 100.5 L162.3 101.8 L162.0 102.8 L161.6 104.0 L161.2 105.1 L160.9 106.2 L160.5 107.4 L160.1 108.5 L159.8 109.5 L159.3 110.8 L159.0 111.8 L158.5 113.0 L158.1 114.0 L157.8 115.0 L157.3 116.2 L156.9 117.2 L156.5 118.3 L156.0 119.5 L155.6 120.5 L155.2 121.5 L154.8 122.6 L154.3 123.8 L153.9 124.8 L153.4 125.8 L153.0 126.8 L152.5 127.9 L152.0 129.0 L151.5 130.0 L151.1 131.0 L150.6 132.0 L150.1 133.0 L149.6 134.0 L149.1 135.0 L148.6 136.0 L148.1 137.0 L147.6 138.0 L147.1 139.0 L146.5 140.0 L146.0 140.9 L145.5 141.8 L144.9 142.8 L144.4 143.8 L143.8 144.7 L143.2 145.6 L142.7 146.5 L142.0 147.5 L141.5 148.3 L140.9 149.2 L140.2 150.2 L139.7 151.0 L139.0 152.0 L138.5 152.8 L137.8 153.8 L137.2 154.6 L136.6 155.5 L136.0 156.3 L135.3 157.2 L134.8 158.0 L134.0 159.0 L133.5 159.8 L132.8 160.7 L132.2 161.5 L131.5 162.4 L130.9 163.2 L130.2 164.2 L129.6 165.0 L129.0 165.9 L128.4 166.8 L127.8 167.6 L127.1 168.5 L126.5 169.4 L125.9 170.2 L125.2 171.2 L124.6 172.0 L124.0 172.9 L123.4 173.8 L122.8 174.6 L122.0 175.5 L121.3 176.2 L120.7 177.0 L119.9 177.8 L119.0 178.5 L118.2 179.0 L117.2 179.5 L116.0 179.8ZM116.8 173.8 L115.2 173.8 L114.2 173.5 L113.3 172.8 L112.6 172.0 L112.0 171.1 L111.5 170.2 L110.9 169.2 L110.5 168.2 L110.0 167.2 L109.6 166.0 L109.2 165.0 L108.8 163.8 L108.5 162.8 L108.1 161.5 L107.8 160.4 L107.4 159.2 L107.1 158.0 L106.8 156.8 L106.4 155.8 L106.1 154.5 L105.8 153.3 L105.4 152.2 L105.0 151.0 L104.7 150.0 L104.3 148.8 L103.9 147.8 L103.5 146.6 L103.0 145.5 L102.6 144.5 L102.1 143.5 L101.6 142.5 L101.0 141.5 L100.5 140.6 L99.9 139.8 L99.2 138.9 L98.6 138.0 L97.9 137.2 L97.2 136.5 L96.5 135.6 L95.8 134.8 L95.1 134.0 L94.5 133.2 L93.8 132.3 L93.2 131.5 L92.6 130.5 L92.1 129.5 L91.7 128.5 L91.2 127.3 L91.0 126.2 L90.7 125.0 L90.6 123.5 L90.5 122.0 L90.6 120.5 L90.7 119.0 L90.9 117.8 L91.1 116.5 L91.4 115.2 L91.8 114.1 L92.1 113.0 L92.5 111.8 L92.9 110.8 L93.2 109.7 L93.7 108.5 L94.2 107.5 L94.6 106.5 L95.0 105.5 L95.5 104.4 L96.0 103.3 L96.5 102.2 L96.9 101.2 L97.4 100.2 L97.8 99.2 L98.3 98.2 L98.8 97.1 L99.2 96.0 L99.6 95.0 L100.0 94.0 L100.5 92.8 L100.9 91.8 L101.3 90.8 L101.7 89.5 L102.1 88.5 L102.5 87.2 L102.8 86.2 L103.2 85.0 L103.6 84.0 L104.0 82.8 L104.3 81.8 L104.7 80.5 L105.1 79.5 L105.5 78.2 L105.8 77.2 L106.2 76.0 L106.5 75.0 L107.0 73.8 L107.3 72.8 L107.8 71.5 L108.1 70.5 L108.5 69.5 L109.0 68.2 L109.3 67.2 L109.8 66.2 L110.2 65.0 L110.7 64.0 L111.1 63.0 L111.5 62.0 L112.0 60.9 L112.5 59.9 L113.0 58.8 L113.5 57.8 L114.0 56.8 L114.5 55.9 L115.0 55.0 L115.5 54.0 L116.1 53.0 L116.8 52.0 L117.2 51.2 L117.9 50.2 L119.0 50.0 L120.5 50.0 L122.0 50.0 L123.5 50.0 L125.0 50.0 L126.5 50.0 L128.0 49.9 L129.5 49.9 L131.0 49.9 L132.5 49.9 L134.0 49.9 L135.5 49.9 L137.0 50.0 L138.5 50.0 L140.0 50.0 L141.5 50.0 L143.0 50.0 L144.5 50.0 L146.0 50.0 L147.5 50.0 L149.0 50.0 L150.0 50.5 L150.8 51.1 L151.5 51.8 L152.4 52.5 L153.2 53.2 L153.9 54.0 L154.7 54.8 L155.4 55.5 L156.0 56.2 L156.8 57.1 L157.4 58.0 L158.0 58.9 L158.6 59.8 L159.2 60.8 L159.7 61.8 L160.2 62.7 L160.7 63.8 L161.1 64.8 L161.5 65.8 L161.9 67.0 L162.2 68.0 L162.6 69.2 L162.9 70.5 L163.1 71.8 L163.3 73.0 L163.5 74.5 L163.6 75.8 L163.7 77.2 L163.8 78.5 L163.8 80.0 L163.7 81.2 L163.7 82.8 L163.6 84.2 L163.4 85.5 L163.2 87.0 L163.1 88.2 L162.9 89.5 L162.6 90.8 L162.4 92.0 L162.1 93.2 L161.8 94.5 L161.5 95.8 L161.2 96.9 L160.9 98.0 L160.6 99.2 L160.2 100.5 L159.9 101.5 L159.6 102.8 L159.2 103.8 L158.9 105.0 L158.5 106.1 L158.1 107.2 L157.8 108.3 L157.4 109.5 L157.0 110.5 L156.6 111.8 L156.2 112.8 L155.8 114.0 L155.4 115.0 L155.0 116.1 L154.6 117.2 L154.2 118.2 L153.8 119.3 L153.3 120.5 L152.9 121.5 L152.5 122.5 L152.0 123.6 L151.5 124.7 L151.1 125.8 L150.6 126.8 L150.1 127.8 L149.7 128.8 L149.2 129.8 L148.7 130.8 L148.2 131.8 L147.6 132.8 L147.1 133.8 L146.5 134.8 L146.0 135.7 L145.5 136.6 L144.9 137.5 L144.3 138.5 L143.8 139.4 L143.2 140.2 L142.5 141.2 L142.0 142.0 L141.3 143.0 L140.8 143.8 L140.0 144.8 L139.5 145.5 L138.8 146.4 L138.1 147.2 L137.5 148.0 L136.8 149.0 L136.1 149.8 L135.5 150.5 L134.8 151.5 L134.1 152.2 L133.5 153.0 L132.8 153.9 L132.1 154.8 L131.5 155.5 L130.8 156.4 L130.1 157.2 L129.5 158.0 L128.8 159.0 L128.2 159.8 L127.5 160.7 L127.0 161.5 L126.3 162.5 L125.8 163.3 L125.1 164.2 L124.5 165.1 L123.9 166.0 L123.2 167.0 L122.7 167.8 L122.1 168.8 L121.5 169.5 L120.8 170.5 L120.1 171.2 L119.4 172.0 L118.6 172.8 L117.8 173.3 L116.8 173.8ZM116.2 168.3 L115.0 168.1 L114.1 167.5 L113.4 166.8 L112.8 165.8 L112.2 164.9 L111.8 163.9 L111.3 162.8 L110.9 161.8 L110.5 160.5 L110.2 159.5 L109.9 158.2 L109.6 157.0 L109.2 155.8 L109.0 154.8 L108.7 153.5 L108.4 152.2 L108.1 151.0 L107.8 149.8 L107.5 148.6 L107.2 147.5 L106.9 146.2 L106.5 145.0 L106.2 144.0 L105.8 142.8 L105.5 141.8 L105.0 140.5 L104.6 139.5 L104.1 138.5 L103.6 137.5 L103.0 136.5 L102.5 135.6 L101.9 134.8 L101.2 133.9 L100.5 133.0 L99.9 132.2 L99.2 131.5 L98.5 130.7 L97.8 129.9 L97.0 129.0 L96.5 128.2 L95.8 127.2 L95.3 126.2 L94.9 125.2 L94.5 124.0 L94.2 122.8 L94.1 121.5 L94.1 120.0 L94.2 118.5 L94.3 117.2 L94.6 116.0 L94.9 114.8 L95.2 113.6 L95.6 112.5 L96.0 111.4 L96.5 110.2 L96.9 109.2 L97.3 108.2 L97.8 107.2 L98.2 106.2 L98.8 105.1 L99.2 104.0 L99.7 103.0 L100.2 102.0 L100.6 101.0 L101.0 100.0 L101.5 98.9 L102.0 97.8 L102.4 96.8 L102.8 95.8 L103.2 94.5 L103.6 93.5 L104.0 92.3 L104.3 91.2 L104.8 90.0 L105.1 89.0 L105.5 87.8 L105.8 86.8 L106.2 85.5 L106.5 84.4 L106.9 83.2 L107.2 82.0 L107.5 81.0 L107.9 79.8 L108.3 78.8 L108.7 77.5 L109.0 76.4 L109.4 75.2 L109.8 74.2 L110.2 73.0 L110.5 72.0 L111.0 70.8 L111.3 69.8 L111.8 68.7 L112.2 67.5 L112.6 66.5 L113.1 65.5 L113.5 64.5 L114.0 63.4 L114.5 62.3 L115.0 61.3 L115.5 60.3 L116.0 59.4 L116.5 58.5 L117.1 57.5 L117.7 56.5 L118.2 55.6 L118.8 54.8 L119.5 53.8 L120.1 53.0 L120.8 52.2 L121.5 51.3 L122.2 50.5 L123.0 50.0 L124.5 50.0 L126.0 50.0 L127.5 50.0 L129.0 50.0 L130.5 50.0 L132.0 50.0 L133.5 50.0 L135.0 50.0 L136.5 50.0 L138.0 50.0 L139.5 50.0 L141.0 50.0 L142.2 50.2 L143.2 50.8 L144.0 51.2 L145.0 51.9 L145.9 52.5 L146.8 53.0 L147.8 53.7 L148.5 54.3 L149.5 55.0 L150.2 55.6 L151.0 56.2 L151.9 57.0 L152.7 57.8 L153.4 58.5 L154.1 59.2 L154.8 60.0 L155.5 60.9 L156.1 61.8 L156.8 62.7 L157.3 63.5 L157.8 64.5 L158.3 65.5 L158.8 66.5 L159.2 67.6 L159.7 68.8 L160.0 69.9 L160.3 71.0 L160.6 72.2 L160.9 73.5 L161.1 74.8 L161.2 76.2 L161.3 77.5 L161.4 79.0 L161.4 80.5 L161.4 82.0 L161.3 83.5 L161.2 84.8 L161.1 86.2 L160.9 87.5 L160.7 88.8 L160.5 90.1 L160.2 91.5 L160.0 92.7 L159.8 93.8 L159.5 95.0 L159.2 96.2 L158.8 97.5 L158.5 98.8 L158.2 99.8 L157.9 101.0 L157.5 102.2 L157.2 103.2 L156.9 104.5 L156.5 105.6 L156.2 106.8 L155.8 108.0 L155.4 109.0 L155.0 110.2 L154.7 111.2 L154.3 112.5 L153.9 113.5 L153.5 114.7 L153.1 115.8 L152.7 116.8 L152.3 118.0 L151.9 119.0 L151.5 120.0 L151.0 121.2 L150.5 122.2 L150.1 123.2 L149.7 124.2 L149.2 125.2 L148.7 126.2 L148.2 127.2 L147.7 128.2 L147.2 129.2 L146.6 130.2 L146.0 131.2 L145.5 132.1 L145.0 133.0 L144.3 134.0 L143.8 134.8 L143.1 135.8 L142.5 136.6 L141.8 137.5 L141.2 138.2 L140.5 139.1 L139.8 140.0 L139.0 140.8 L138.4 141.5 L137.7 142.2 L136.9 143.0 L136.2 143.8 L135.5 144.5 L134.8 145.3 L134.0 146.1 L133.2 146.9 L132.5 147.7 L131.8 148.5 L131.1 149.2 L130.5 150.0 L129.8 150.8 L129.0 151.7 L128.4 152.5 L127.8 153.3 L127.1 154.2 L126.5 155.0 L125.8 156.0 L125.2 156.9 L124.7 157.8 L124.1 158.8 L123.5 159.7 L123.0 160.5 L122.4 161.5 L121.8 162.5 L121.2 163.4 L120.7 164.2 L120.0 165.2 L119.4 166.0 L118.8 166.8 L117.9 167.5 L117.0 168.1ZM116.8 162.6 L115.2 162.5 L114.5 162.0 L113.8 161.0 L113.2 160.1 L112.8 159.0 L112.4 158.0 L112.0 156.8 L111.7 155.8 L111.4 154.5 L111.1 153.2 L110.9 152.0 L110.6 150.8 L110.4 149.5 L110.1 148.2 L109.9 147.0 L109.6 145.8 L109.4 144.5 L109.1 143.2 L108.8 142.0 L108.5 140.8 L108.2 139.8 L107.9 138.5 L107.5 137.3 L107.2 136.2 L106.8 135.1 L106.3 134.0 L105.9 133.0 L105.4 132.0 L104.8 131.0 L104.2 130.0 L103.7 129.2 L103.0 128.3 L102.4 127.5 L101.8 126.7 L101.0 125.8 L100.5 125.0 L99.8 124.0 L99.3 123.0 L98.9 122.0 L98.5 120.8 L98.3 119.5 L98.3 118.0 L98.4 116.5 L98.7 115.2 L99.0 114.0 L99.3 113.0 L99.7 111.8 L100.1 110.8 L100.5 109.7 L101.0 108.5 L101.4 107.5 L101.9 106.5 L102.3 105.5 L102.8 104.5 L103.2 103.3 L103.7 102.2 L104.1 101.2 L104.5 100.1 L104.9 99.0 L105.2 97.9 L105.7 96.8 L106.0 95.7 L106.4 94.5 L106.7 93.2 L107.0 92.2 L107.4 91.0 L107.8 89.8 L108.0 88.8 L108.4 87.5 L108.7 86.2 L109.0 85.2 L109.4 84.0 L109.7 82.8 L110.0 81.8 L110.4 80.5 L110.8 79.4 L111.1 78.2 L111.5 77.0 L111.8 76.0 L112.2 74.8 L112.6 73.8 L113.0 72.6 L113.4 71.5 L113.8 70.5 L114.2 69.4 L114.7 68.2 L115.1 67.2 L115.6 66.2 L116.1 65.2 L116.6 64.2 L117.1 63.2 L117.6 62.2 L118.2 61.2 L118.8 60.3 L119.3 59.5 L119.9 58.5 L120.5 57.7 L121.2 56.8 L121.9 56.0 L122.6 55.2 L123.3 54.5 L124.1 53.8 L125.0 53.1 L125.8 52.5 L126.8 52.0 L127.8 51.5 L129.0 51.1 L130.2 50.9 L131.8 50.9 L133.0 51.0 L134.2 51.3 L135.5 51.7 L136.5 52.0 L137.6 52.5 L138.7 53.0 L139.7 53.5 L140.7 54.0 L141.7 54.5 L142.6 55.0 L143.6 55.5 L144.5 56.0 L145.5 56.6 L146.5 57.2 L147.4 57.8 L148.2 58.3 L149.2 59.0 L150.0 59.6 L150.8 60.3 L151.5 61.0 L152.3 61.8 L153.0 62.5 L153.8 63.4 L154.4 64.2 L155.0 65.1 L155.5 66.0 L156.1 67.0 L156.6 68.0 L157.0 69.0 L157.5 70.2 L157.9 71.2 L158.2 72.5 L158.5 73.7 L158.8 74.9 L159.0 76.2 L159.1 77.5 L159.2 79.0 L159.3 80.2 L159.3 81.8 L159.2 83.0 L159.1 84.5 L159.0 86.0 L158.8 87.2 L158.7 88.5 L158.5 89.8 L158.2 91.0 L158.0 92.3 L157.7 93.5 L157.5 94.8 L157.2 96.0 L156.9 97.2 L156.6 98.5 L156.2 99.7 L156.0 100.8 L155.6 102.0 L155.3 103.2 L155.0 104.3 L154.7 105.5 L154.3 106.8 L154.0 107.8 L153.6 109.0 L153.3 110.2 L152.9 111.2 L152.5 112.5 L152.2 113.5 L151.8 114.8 L151.4 115.8 L151.0 116.9 L150.6 118.0 L150.2 119.0 L149.7 120.0 L149.2 121.2 L148.8 122.2 L148.3 123.2 L147.8 124.2 L147.3 125.2 L146.8 126.2 L146.2 127.1 L145.7 128.0 L145.1 129.0 L144.5 129.9 L143.9 130.8 L143.2 131.6 L142.5 132.5 L141.9 133.2 L141.1 134.0 L140.4 134.8 L139.6 135.5 L138.8 136.2 L138.0 136.8 L137.1 137.5 L136.2 138.1 L135.5 138.8 L134.5 139.5 L133.8 140.1 L133.0 140.8 L132.2 141.5 L131.5 142.2 L130.8 143.0 L130.0 143.8 L129.2 144.6 L128.5 145.5 L127.9 146.2 L127.2 147.0 L126.5 148.0 L125.9 148.8 L125.2 149.7 L124.7 150.5 L124.1 151.5 L123.5 152.5 L123.0 153.4 L122.5 154.3 L122.0 155.2 L121.4 156.2 L120.9 157.2 L120.4 158.2 L119.8 159.2 L119.2 160.1 L118.6 161.0 L117.9 161.8 L117.0 162.5ZM116.5 156.5 L115.4 156.2 L114.7 155.5 L114.2 154.5 L113.8 153.3 L113.4 152.2 L113.1 151.0 L112.9 149.8 L112.6 148.5 L112.4 147.2 L112.2 146.0 L112.0 144.8 L111.8 143.3 L111.5 142.0 L111.3 140.8 L111.1 139.5 L110.9 138.2 L110.6 137.0 L110.3 135.8 L110.0 134.5 L109.8 133.4 L109.4 132.2 L109.1 131.0 L108.7 130.0 L108.3 128.8 L107.9 127.8 L107.5 126.7 L107.0 125.5 L106.5 124.5 L106.1 123.5 L105.6 122.5 L105.1 121.5 L104.7 120.5 L104.2 119.3 L104.0 118.2 L103.8 116.8 L103.7 115.5 L103.8 114.2 L104.0 113.0 L104.3 111.8 L104.6 110.5 L105.0 109.2 L105.3 108.2 L105.7 107.0 L106.0 106.0 L106.4 104.8 L106.8 103.5 L107.1 102.5 L107.4 101.2 L107.8 100.1 L108.0 99.0 L108.4 97.8 L108.7 96.5 L109.0 95.4 L109.3 94.2 L109.6 93.0 L109.9 91.8 L110.2 90.5 L110.5 89.3 L110.8 88.2 L111.1 87.0 L111.4 85.8 L111.7 84.5 L112.0 83.5 L112.4 82.2 L112.7 81.0 L113.0 80.0 L113.4 78.8 L113.8 77.6 L114.1 76.5 L114.5 75.4 L114.9 74.2 L115.3 73.2 L115.8 72.0 L116.2 71.0 L116.6 70.0 L117.0 69.0 L117.5 68.0 L118.0 67.0 L118.5 66.0 L119.1 65.0 L119.7 64.0 L120.2 63.1 L120.8 62.2 L121.5 61.3 L122.1 60.5 L122.8 59.8 L123.5 59.0 L124.3 58.2 L125.2 57.5 L126.0 57.0 L127.0 56.4 L128.0 56.0 L129.2 55.6 L130.5 55.4 L132.0 55.4 L133.2 55.6 L134.5 55.9 L135.8 56.2 L136.8 56.6 L137.9 57.0 L139.0 57.4 L140.0 57.8 L141.1 58.2 L142.2 58.7 L143.2 59.2 L144.2 59.7 L145.2 60.2 L146.2 60.7 L147.1 61.2 L148.0 61.8 L148.9 62.5 L149.8 63.2 L150.5 63.8 L151.2 64.6 L152.0 65.4 L152.7 66.2 L153.2 67.1 L153.8 68.0 L154.4 69.0 L154.9 70.0 L155.3 71.0 L155.8 72.1 L156.1 73.2 L156.5 74.5 L156.7 75.8 L156.9 77.0 L157.1 78.2 L157.2 79.8 L157.2 81.2 L157.2 82.8 L157.2 84.2 L157.0 85.8 L156.9 87.0 L156.7 88.2 L156.5 89.7 L156.3 91.0 L156.0 92.2 L155.8 93.5 L155.5 94.8 L155.2 95.9 L155.0 97.1 L154.7 98.2 L154.4 99.5 L154.2 100.8 L153.9 102.0 L153.6 103.2 L153.3 104.5 L153.0 105.5 L152.7 106.8 L152.4 108.0 L152.0 109.2 L151.7 110.2 L151.4 111.5 L151.0 112.6 L150.6 113.8 L150.2 114.9 L149.8 116.0 L149.5 117.0 L149.0 118.2 L148.5 119.2 L148.1 120.2 L147.6 121.2 L147.1 122.2 L146.6 123.2 L146.0 124.2 L145.5 125.1 L144.9 126.0 L144.2 126.9 L143.6 127.8 L142.9 128.5 L142.2 129.2 L141.3 130.0 L140.5 130.6 L139.5 131.2 L138.5 131.7 L137.5 132.1 L136.3 132.5 L135.2 132.9 L134.2 133.5 L133.4 134.0 L132.5 134.7 L131.8 135.4 L131.0 136.1 L130.2 136.9 L129.5 137.7 L128.8 138.5 L128.1 139.2 L127.4 140.0 L126.8 140.8 L126.0 141.7 L125.4 142.5 L124.8 143.3 L124.1 144.2 L123.5 145.1 L122.9 146.0 L122.4 147.0 L121.8 148.0 L121.3 149.0 L120.8 150.0 L120.3 151.0 L119.9 152.0 L119.4 153.0 L118.8 154.0 L118.2 155.0 L117.6 155.8 L116.8 156.4ZM116.8 147.5 L115.9 147.0 L115.4 146.0 L115.1 144.8 L114.8 143.5 L114.5 142.2 L114.3 141.0 L114.1 139.8 L113.9 138.5 L113.7 137.2 L113.5 136.0 L113.2 134.7 L113.0 133.5 L112.7 132.2 L112.5 131.0 L112.2 129.8 L111.9 128.5 L111.6 127.2 L111.2 126.0 L111.0 125.0 L110.6 123.8 L110.3 122.5 L110.0 121.3 L109.7 120.2 L109.5 119.0 L109.2 117.8 L109.0 116.4 L108.9 115.0 L108.8 113.5 L108.8 112.0 L108.9 110.5 L109.1 109.2 L109.2 107.8 L109.5 106.5 L109.7 105.2 L109.9 104.0 L110.1 102.8 L110.4 101.5 L110.6 100.2 L110.8 99.0 L111.1 97.8 L111.3 96.5 L111.6 95.2 L111.8 94.0 L112.1 92.8 L112.4 91.5 L112.6 90.2 L112.9 89.0 L113.2 87.8 L113.5 86.5 L113.8 85.4 L114.0 84.2 L114.4 83.0 L114.7 81.8 L115.0 80.8 L115.4 79.5 L115.8 78.4 L116.1 77.2 L116.5 76.2 L116.9 75.0 L117.3 74.0 L117.8 73.0 L118.2 71.8 L118.8 70.8 L119.2 69.8 L119.8 68.8 L120.2 67.9 L120.8 67.0 L121.5 66.0 L122.0 65.2 L122.8 64.3 L123.4 63.5 L124.1 62.8 L125.0 62.0 L125.8 61.4 L126.8 60.8 L127.8 60.3 L128.8 59.9 L130.0 59.7 L131.5 59.6 L133.0 59.7 L134.2 59.9 L135.5 60.2 L136.7 60.5 L137.8 60.8 L139.0 61.1 L140.2 61.5 L141.2 61.8 L142.5 62.2 L143.5 62.6 L144.5 63.0 L145.6 63.5 L146.5 64.0 L147.5 64.6 L148.3 65.2 L149.2 66.0 L150.0 66.7 L150.7 67.5 L151.3 68.2 L152.0 69.2 L152.5 70.1 L153.0 71.0 L153.5 72.0 L154.0 73.2 L154.3 74.2 L154.6 75.5 L154.9 76.8 L155.1 78.0 L155.2 79.4 L155.3 80.8 L155.3 82.2 L155.3 83.8 L155.2 85.0 L155.0 86.5 L154.9 87.8 L154.7 89.0 L154.5 90.2 L154.2 91.5 L154.0 92.8 L153.8 94.0 L153.5 95.3 L153.2 96.5 L153.0 97.8 L152.8 99.2 L152.5 100.5 L152.3 101.8 L152.0 103.0 L151.8 104.2 L151.5 105.5 L151.3 106.8 L151.0 107.8 L150.7 109.0 L150.4 110.2 L150.0 111.5 L149.7 112.5 L149.3 113.8 L149.0 114.8 L148.5 116.0 L148.1 117.0 L147.7 118.0 L147.2 119.0 L146.8 120.0 L146.2 121.0 L145.6 122.0 L145.0 123.0 L144.4 123.8 L143.8 124.6 L143.0 125.3 L142.2 126.0 L141.2 126.5 L140.0 126.9 L138.6 126.8 L137.5 126.4 L136.4 126.0 L135.0 126.0 L134.0 126.5 L133.2 127.0 L132.5 127.8 L131.8 128.5 L131.0 129.4 L130.3 130.2 L129.6 131.0 L129.0 131.8 L128.2 132.6 L127.5 133.5 L126.8 134.2 L126.2 135.0 L125.5 135.8 L124.8 136.5 L124.0 137.4 L123.2 138.2 L122.6 139.0 L122.0 139.8 L121.3 140.8 L120.8 141.5 L120.2 142.5 L119.6 143.5 L119.1 144.5 L118.5 145.5 L118.0 146.4 L117.3 147.2ZM119.5 133.6 L118.2 133.4 L117.5 132.8 L116.8 131.8 L116.4 130.8 L116.0 129.8 L115.5 128.5 L115.2 127.5 L114.8 126.2 L114.5 125.0 L114.2 124.0 L113.9 122.8 L113.6 121.5 L113.4 120.2 L113.1 119.0 L112.9 117.8 L112.7 116.5 L112.5 115.0 L112.4 113.8 L112.3 112.2 L112.3 110.8 L112.3 109.2 L112.3 107.8 L112.4 106.2 L112.5 105.0 L112.7 103.5 L112.8 102.2 L113.0 100.8 L113.2 99.5 L113.3 98.2 L113.5 97.0 L113.8 95.5 L114.0 94.2 L114.2 93.0 L114.4 91.8 L114.7 90.5 L114.9 89.2 L115.2 88.0 L115.5 86.8 L115.8 85.6 L116.0 84.5 L116.4 83.2 L116.7 82.0 L117.0 81.0 L117.4 79.8 L117.8 78.7 L118.2 77.5 L118.6 76.5 L119.0 75.4 L119.5 74.3 L120.0 73.2 L120.5 72.2 L121.0 71.3 L121.5 70.5 L122.1 69.5 L122.8 68.6 L123.4 67.8 L124.1 67.0 L124.8 66.2 L125.7 65.5 L126.5 64.9 L127.5 64.4 L128.5 64.0 L129.8 63.7 L131.2 63.5 L132.8 63.5 L134.2 63.7 L135.5 63.8 L137.0 64.0 L138.2 64.2 L139.5 64.4 L140.8 64.6 L142.0 64.9 L143.2 65.2 L144.2 65.6 L145.2 66.0 L146.2 66.6 L147.2 67.2 L148.0 67.8 L148.8 68.5 L149.5 69.3 L150.2 70.2 L150.8 71.0 L151.4 72.0 L151.8 73.0 L152.3 74.0 L152.7 75.2 L153.0 76.4 L153.2 77.7 L153.4 79.0 L153.5 80.2 L153.6 81.8 L153.5 83.2 L153.4 84.5 L153.3 86.0 L153.1 87.2 L152.9 88.5 L152.6 89.8 L152.4 91.0 L152.1 92.2 L151.8 93.5 L151.6 94.8 L151.4 96.0 L151.2 97.2 L151.0 98.5 L150.8 100.0 L150.7 101.2 L150.5 102.8 L150.3 104.0 L150.2 105.2 L150.0 106.5 L149.7 107.8 L149.5 109.0 L149.2 110.2 L148.9 111.5 L148.5 112.7 L148.2 113.8 L147.8 114.9 L147.3 116.0 L146.9 117.0 L146.4 118.0 L145.8 119.0 L145.2 120.0 L144.7 120.8 L144.0 121.6 L143.2 122.3 L142.2 122.8 L140.8 122.8 L140.0 122.2 L139.3 121.2 L138.8 120.2 L138.5 119.2 L138.1 118.0 L137.7 117.0 L137.0 116.1 L136.0 116.0 L135.1 116.8 L134.5 117.5 L133.8 118.5 L133.2 119.2 L132.6 120.2 L132.0 121.2 L131.5 122.0 L130.8 123.0 L130.2 123.9 L129.6 124.8 L129.0 125.6 L128.4 126.5 L127.8 127.3 L127.0 128.2 L126.2 129.0 L125.5 129.7 L124.8 130.4 L124.0 131.1 L123.1 131.8 L122.2 132.3 L121.2 132.9 L120.2 133.3ZM121.8 126.3 L120.5 126.1 L119.5 125.5 L118.8 124.8 L118.2 124.0 L117.7 123.0 L117.2 122.0 L116.8 120.8 L116.5 119.8 L116.1 118.5 L115.8 117.2 L115.6 116.0 L115.4 114.8 L115.2 113.5 L115.0 112.0 L114.9 110.8 L114.9 109.2 L114.8 107.8 L114.8 106.2 L114.9 104.8 L114.9 103.2 L115.0 102.0 L115.1 100.5 L115.3 99.2 L115.4 97.8 L115.6 96.5 L115.8 95.2 L116.0 93.8 L116.2 92.5 L116.4 91.2 L116.6 90.0 L116.9 88.8 L117.2 87.5 L117.5 86.2 L117.8 85.1 L118.0 84.0 L118.4 82.8 L118.8 81.6 L119.1 80.5 L119.5 79.5 L120.0 78.2 L120.4 77.2 L120.9 76.2 L121.3 75.2 L121.9 74.2 L122.5 73.2 L123.0 72.5 L123.7 71.5 L124.3 70.8 L125.1 70.0 L125.9 69.2 L126.8 68.7 L127.8 68.1 L128.8 67.7 L130.0 67.4 L131.2 67.2 L132.8 67.1 L134.2 67.0 L135.8 67.0 L137.0 67.0 L138.5 67.0 L139.8 67.0 L141.2 67.2 L142.5 67.4 L143.7 67.8 L144.8 68.2 L145.8 68.7 L146.6 69.2 L147.5 70.0 L148.2 70.7 L148.9 71.5 L149.5 72.3 L150.1 73.2 L150.5 74.2 L151.0 75.4 L151.3 76.5 L151.6 77.8 L151.8 79.0 L151.9 80.5 L151.9 82.0 L151.9 83.5 L151.7 84.8 L151.5 86.2 L151.2 87.4 L151.0 88.5 L150.7 89.8 L150.3 91.0 L150.0 92.0 L149.6 93.2 L149.2 94.4 L149.0 95.5 L148.7 96.8 L148.5 98.2 L148.5 99.8 L148.6 101.2 L148.7 102.8 L148.7 104.2 L148.7 105.8 L148.5 107.2 L148.3 108.5 L148.1 109.8 L147.8 111.0 L147.5 112.2 L147.2 113.2 L146.8 114.3 L146.3 115.5 L145.8 116.5 L145.2 117.3 L144.6 118.2 L143.8 119.0 L142.8 119.4 L141.8 118.9 L141.2 117.9 L141.0 116.8 L140.8 115.2 L140.8 113.8 L140.9 112.2 L141.0 111.0 L141.2 109.5 L141.4 108.2 L141.6 107.0 L141.7 105.5 L141.6 104.0 L141.0 103.2 L139.5 103.2 L138.5 103.7 L137.8 104.3 L137.0 105.1 L136.3 106.0 L135.8 106.8 L135.2 107.8 L134.7 108.8 L134.2 109.8 L133.7 110.8 L133.2 111.8 L132.8 112.8 L132.2 113.8 L131.8 114.9 L131.2 115.9 L130.8 116.9 L130.2 117.9 L129.8 118.8 L129.2 119.8 L128.5 120.8 L128.0 121.5 L127.3 122.5 L126.6 123.2 L125.9 124.0 L125.1 124.8 L124.2 125.4 L123.2 125.9 L122.0 126.2ZM123.2 120.8 L122.0 120.8 L121.0 120.2 L120.2 119.5 L119.5 118.5 L119.0 117.5 L118.6 116.5 L118.2 115.5 L117.9 114.2 L117.6 113.0 L117.4 111.8 L117.2 110.5 L117.1 109.0 L117.0 107.8 L116.9 106.2 L116.9 104.8 L116.9 103.2 L116.9 101.8 L117.0 100.2 L117.1 99.0 L117.2 97.5 L117.4 96.2 L117.5 95.0 L117.7 93.5 L117.9 92.2 L118.1 91.0 L118.4 89.8 L118.7 88.5 L119.0 87.2 L119.2 86.1 L119.6 85.0 L119.9 83.8 L120.3 82.8 L120.7 81.5 L121.1 80.5 L121.5 79.5 L122.0 78.5 L122.5 77.5 L123.1 76.5 L123.8 75.5 L124.3 74.8 L125.0 74.0 L125.8 73.2 L126.7 72.5 L127.5 72.0 L128.5 71.5 L129.8 71.1 L131.0 70.8 L132.2 70.5 L133.5 70.3 L134.8 70.0 L136.0 69.8 L137.2 69.5 L138.5 69.3 L139.8 69.2 L141.0 69.3 L142.5 69.5 L143.6 69.8 L144.8 70.2 L145.6 70.8 L146.5 71.4 L147.2 72.1 L148.0 73.0 L148.5 73.8 L149.1 74.8 L149.5 75.8 L149.9 77.0 L150.2 78.2 L150.4 79.5 L150.5 81.0 L150.4 82.5 L150.3 84.0 L150.1 85.2 L149.8 86.5 L149.5 87.5 L149.0 88.8 L148.6 89.8 L148.2 90.8 L147.6 91.8 L147.0 92.8 L146.5 93.5 L145.8 94.4 L145.0 95.1 L144.1 95.8 L143.2 96.3 L142.2 96.8 L141.1 97.2 L140.0 97.7 L139.0 98.2 L138.0 98.7 L137.2 99.2 L136.3 100.0 L135.6 100.8 L135.0 101.6 L134.5 102.5 L133.9 103.5 L133.5 104.5 L133.0 105.6 L132.5 106.8 L132.1 107.8 L131.7 108.8 L131.2 109.9 L130.8 111.0 L130.3 112.0 L129.9 113.0 L129.4 114.0 L128.9 115.0 L128.3 116.0 L127.8 116.9 L127.2 117.8 L126.5 118.6 L125.8 119.4 L125.0 120.0 L124.0 120.6ZM144.2 115.3 L143.2 114.9 L143.0 113.5 L143.0 112.5 L143.2 111.0 L143.5 109.9 L143.9 108.8 L144.3 107.8 L144.9 106.8 L145.8 106.0 L146.6 106.8 L146.8 108.0 L146.7 109.2 L146.5 110.7 L146.2 111.8 L145.8 113.0 L145.3 114.0 L144.8 114.9ZM123.8 116.0 L122.5 115.9 L121.6 115.2 L121.0 114.5 L120.5 113.5 L120.0 112.4 L119.6 111.2 L119.3 110.0 L119.1 108.8 L118.9 107.5 L118.8 106.0 L118.7 104.8 L118.6 103.2 L118.6 101.8 L118.7 100.2 L118.8 98.8 L118.8 97.5 L119.0 96.0 L119.1 94.8 L119.3 93.5 L119.5 92.2 L119.8 91.0 L120.0 89.8 L120.3 88.5 L120.7 87.2 L121.0 86.1 L121.3 85.0 L121.8 83.9 L122.2 82.8 L122.7 81.8 L123.2 80.8 L123.7 79.8 L124.2 79.0 L125.0 78.0 L125.7 77.2 L126.5 76.5 L127.2 76.0 L128.2 75.4 L129.2 75.0 L130.5 74.5 L131.5 74.2 L132.5 73.8 L133.7 73.2 L134.8 72.8 L135.8 72.3 L136.8 71.9 L138.0 71.5 L139.2 71.2 L140.5 71.1 L142.0 71.2 L143.2 71.4 L144.2 71.8 L145.2 72.4 L146.0 73.0 L146.8 73.8 L147.5 74.8 L148.0 75.7 L148.5 76.8 L148.8 77.8 L149.0 79.0 L149.2 80.5 L149.2 82.0 L149.0 83.5 L148.8 84.8 L148.5 85.8 L148.1 87.0 L147.6 88.0 L147.1 89.0 L146.5 90.0 L145.9 90.8 L145.2 91.5 L144.5 92.2 L143.5 93.0 L142.7 93.5 L141.7 94.0 L140.5 94.5 L139.5 94.8 L138.2 95.2 L137.2 95.5 L136.2 96.0 L135.2 96.6 L134.5 97.3 L133.8 98.2 L133.2 99.1 L132.8 100.0 L132.2 101.2 L131.8 102.2 L131.5 103.2 L131.0 104.5 L130.7 105.5 L130.2 106.6 L129.8 107.8 L129.4 108.8 L129.0 109.8 L128.5 110.8 L128.0 111.8 L127.4 112.8 L126.8 113.7 L126.1 114.5 L125.3 115.2 L124.5 115.8ZM124.5 111.3 L123.2 111.2 L122.3 110.5 L121.8 109.6 L121.3 108.5 L121.0 107.5 L120.7 106.2 L120.5 104.8 L120.4 103.5 L120.3 102.0 L120.3 100.5 L120.3 99.0 L120.4 97.5 L120.5 96.2 L120.7 94.8 L120.9 93.5 L121.1 92.2 L121.4 91.0 L121.7 89.8 L122.0 88.7 L122.4 87.5 L122.8 86.5 L123.2 85.3 L123.8 84.3 L124.2 83.4 L124.8 82.5 L125.5 81.7 L126.2 80.9 L127.1 80.2 L128.0 79.7 L129.1 79.2 L130.2 78.8 L131.1 78.2 L132.0 77.6 L132.8 77.0 L133.7 76.2 L134.5 75.6 L135.3 75.0 L136.2 74.3 L137.2 73.8 L138.2 73.3 L139.2 73.0 L140.5 72.7 L141.9 72.8 L143.1 73.0 L144.2 73.5 L145.0 74.0 L145.8 74.8 L146.5 75.6 L147.0 76.5 L147.5 77.8 L147.8 78.8 L148.0 80.2 L148.0 81.5 L147.9 82.8 L147.7 84.0 L147.3 85.2 L147.0 86.2 L146.5 87.2 L145.9 88.2 L145.2 89.1 L144.5 89.9 L143.8 90.6 L142.8 91.2 L141.9 91.8 L140.8 92.2 L139.6 92.5 L138.2 92.7 L137.0 92.8 L135.5 92.9 L134.2 93.2 L133.3 93.8 L132.6 94.5 L132.0 95.5 L131.6 96.5 L131.2 97.5 L130.8 98.8 L130.5 99.8 L130.1 101.0 L129.8 102.0 L129.4 103.2 L129.0 104.3 L128.5 105.5 L128.1 106.5 L127.7 107.5 L127.2 108.5 L126.5 109.5 L125.9 110.2 L125.1 111.0ZM124.8 106.3 L123.6 106.0 L123.0 105.1 L122.6 104.0 L122.3 102.8 L122.2 101.5 L122.1 100.0 L122.1 98.5 L122.2 97.0 L122.3 95.8 L122.5 94.4 L122.8 93.1 L123.0 92.0 L123.4 90.8 L123.8 89.8 L124.2 88.6 L124.8 87.7 L125.4 86.8 L126.2 86.0 L127.2 85.5 L128.5 85.4 L129.6 85.8 L130.8 86.2 L131.3 85.2 L131.8 84.1 L132.1 83.0 L132.6 82.0 L133.0 81.0 L133.6 80.0 L134.2 79.0 L134.8 78.2 L135.5 77.2 L136.2 76.5 L137.0 75.8 L137.8 75.2 L138.8 74.7 L140.0 74.3 L141.2 74.2 L142.5 74.3 L143.7 74.8 L144.5 75.3 L145.2 76.0 L145.9 77.0 L146.4 78.0 L146.8 79.2 L146.9 80.5 L146.9 82.0 L146.7 83.2 L146.4 84.5 L146.0 85.6 L145.5 86.5 L144.9 87.5 L144.2 88.2 L143.4 89.0 L142.5 89.7 L141.5 90.2 L140.5 90.5 L139.0 90.7 L137.5 90.5 L136.5 90.2 L135.3 89.8 L134.4 89.2 L133.5 88.7 L132.5 88.0 L131.8 87.5 L130.8 88.0 L130.5 89.2 L130.2 90.4 L130.0 91.7 L129.8 93.0 L129.5 94.2 L129.3 95.5 L129.0 96.8 L128.8 97.9 L128.5 99.0 L128.1 100.2 L127.8 101.5 L127.4 102.5 L127.0 103.5 L126.5 104.5 L125.8 105.5 L125.0 106.2ZM140.0 89.0 L138.8 89.0 L137.5 88.5 L136.7 88.0 L135.9 87.2 L135.3 86.2 L134.9 85.2 L134.7 84.0 L134.8 82.8 L135.0 81.5 L135.4 80.2 L135.9 79.2 L136.5 78.4 L137.2 77.5 L138.0 76.8 L138.8 76.2 L139.8 75.8 L141.1 75.5 L142.2 75.6 L143.3 76.0 L144.2 76.7 L144.9 77.5 L145.4 78.5 L145.8 79.5 L145.9 81.0 L145.9 82.5 L145.6 83.8 L145.2 84.8 L144.7 85.8 L144.0 86.8 L143.3 87.5 L142.5 88.1 L141.5 88.7 L140.2 89.0ZM140.8 87.5 L139.2 87.5 L138.2 87.1 L137.5 86.5 L136.8 85.5 L136.4 84.5 L136.2 83.0 L136.3 82.0 L136.7 80.8 L137.1 79.8 L137.7 78.8 L138.4 78.0 L139.2 77.4 L140.2 76.9 L141.8 76.8 L143.0 77.2 L143.8 77.8 L144.4 78.8 L144.8 79.8 L145.0 81.2 L144.9 82.8 L144.5 84.0 L144.0 85.0 L143.5 85.8 L142.7 86.5 L141.8 87.2 L140.8 87.5ZM141.2 86.0 L139.8 86.1 L138.8 85.7 L138.0 84.8 L137.6 83.8 L137.5 82.2 L137.8 81.0 L138.3 80.0 L139.0 79.1 L139.8 78.5 L141.0 78.0 L142.3 78.2 L143.2 79.0 L143.8 80.0 L144.0 81.1 L144.0 82.2 L143.6 83.5 L143.1 84.5 L142.5 85.2 L141.5 85.9ZM141.2 84.5 L139.8 84.5 L139.1 83.8 L138.8 82.5 L139.0 81.2 L139.6 80.2 L140.5 79.6 L141.5 79.5 L142.5 80.2 L142.9 81.2 L142.8 82.7 L142.2 83.7 L141.5 84.4Z" fill="none" stroke="#000" stroke-width="1.25" stroke-linejoin="round"/></g>
<g clip-path="url(#clipA2)"><path d="M156.1 90.0 L156.0 90.4 L155.9 90.8 L155.8 91.2 L155.7 91.5 L155.7 91.9 L155.6 92.3 L155.5 92.7 L155.4 93.1 L155.3 93.4 L155.2 93.8 L155.1 94.2 L155.1 94.6 L155.0 94.9 L154.9 95.3 L154.8 95.7 L154.7 96.1 L154.6 96.5 L154.5 96.9 L154.4 97.3 L154.3 97.7 L154.2 98.1 L154.0 98.5 L153.9 98.9 L153.8 99.3 L153.7 99.8 L153.6 100.2 L153.5 100.6 L153.3 101.1 L153.2 101.6 L153.1 102.1 L153.0 102.6 L152.8 103.1 L152.7 103.7 L152.5 104.3 L152.4 104.8 L152.2 105.5 L152.1 106.1 L151.9 106.8 L151.8 107.6 L151.6 108.3 L151.4 109.1 L151.2 110.0 L150.9 110.8 L150.7 111.7 L150.4 112.6 L150.1 113.6 L149.7 114.6 L149.3 115.6 L148.9 116.8 L148.5 117.9 L148.0 119.2 L147.5 120.5 L146.9 121.9 L146.3 123.3 L145.6 124.9 L144.8 126.5 L144.0 128.2 L143.1 129.8 L142.1 131.1 L141.0 132.2 L139.9 132.8 L138.7 133.1 L137.5 133.9 L136.3 135.0 L134.9 136.3 L133.4 137.7 L131.8 139.7 L129.9 142.2 L127.7 145.4 L122.2 160.0 L119.8 161.5 L117.7 161.8 L116.0 160.5 L114.8 158.3 L113.7 156.0 L112.5 154.0 L111.3 152.3 L110.1 150.7 L108.9 149.2 L107.7 147.7 L106.6 146.2 L105.4 144.8 L104.3 143.4 L103.2 142.0 L102.2 140.6 L101.1 139.2 L100.1 137.9 L99.1 136.6 L98.1 135.2 L97.1 133.9 L96.1 132.6 L95.1 131.4 L94.1 130.1 L93.0 128.8 L92.1 127.6 L91.1 126.2 L90.2 124.9 L89.5 123.5 L88.9 121.9 L88.4 120.3 L88.2 118.7 L88.1 116.9 L88.1 115.2 L88.1 113.6 L88.4 111.8 L89.1 109.9 L90.1 108.0 L91.3 106.2 L92.5 104.4 L93.8 102.6 L95.2 101.0 L96.6 99.4 L98.0 98.0 L99.3 96.6 L100.5 95.3 L101.5 94.2 L102.3 93.0 L103.1 92.0 L103.8 91.0 L104.5 90.0 L105.1 89.1 L105.7 88.1 L106.3 87.3 L106.8 86.4 L107.3 85.6 L107.9 84.8 L108.4 84.0 L108.9 83.2 L109.4 82.4 L109.9 81.7 L110.4 80.9 L110.9 80.2 L111.4 79.5 L111.8 78.8 L112.3 78.1 L112.8 77.4 L113.2 76.7 L113.7 76.1 L114.1 75.4 L114.6 74.7 L115.0 74.1 L115.5 73.5 L116.0 72.8 L116.5 72.2 L117.0 71.6 L117.5 71.0 L118.1 70.4 L118.6 69.9 L119.2 69.3 L119.8 68.8 L120.4 68.3 L121.0 67.8 L121.6 67.3 L122.2 66.8 L122.9 66.4 L123.5 66.0 L124.2 65.6 L124.9 65.2 L125.6 64.8 L126.3 64.5 L127.0 64.1 L127.7 63.8 L128.4 63.5 L129.1 63.3 L129.8 63.0 L130.6 62.8 L131.3 62.7 L132.1 62.5 L132.8 62.4 L133.6 62.3 L134.3 62.2 L135.1 62.1 L135.8 62.1 L136.6 62.1 L137.3 62.1 L138.1 62.1 L138.8 62.1 L139.5 62.2 L140.3 62.2 L141.0 62.3 L141.7 62.4 L142.4 62.5 L143.1 62.7 L143.9 62.9 L144.5 63.0 L145.2 63.2 L145.9 63.5 L146.6 63.7 L147.2 64.0 L147.9 64.3 L148.5 64.7 L149.1 65.0 L149.7 65.4 L150.3 65.9 L150.8 66.3 L151.3 66.8 L151.9 67.2 L152.3 67.8 L152.8 68.3 L153.2 68.8 L153.6 69.4 L154.0 69.9 L154.4 70.5 L154.7 71.1 L155.1 71.7 L155.4 72.3 L155.6 72.9 L155.9 73.5 L156.1 74.1 L156.3 74.7 L156.5 75.3 L156.6 75.9 L156.8 76.5 L156.9 77.1 L157.0 77.7 L157.1 78.3 L157.1 78.9 L157.2 79.5 L157.2 80.1 L157.2 80.6 L157.2 81.2 L157.2 81.8 L157.2 82.3 L157.1 82.8 L157.1 83.3 L157.0 83.9 L157.0 84.3 L156.9 84.8 L156.8 85.3 L156.8 85.8 L156.7 86.2 L156.6 86.7 L156.6 87.1 L156.5 87.5 L156.4 88.0 L156.4 88.4 L156.3 88.8 L156.2 89.2 L156.1 89.6ZM155.9 90.0 L155.8 90.4 L155.8 90.8 L155.7 91.2 L155.6 91.5 L155.5 91.9 L155.4 92.3 L155.4 92.7 L155.3 93.0 L155.2 93.4 L155.1 93.8 L155.0 94.1 L154.9 94.5 L154.8 94.9 L154.7 95.3 L154.6 95.6 L154.5 96.0 L154.4 96.4 L154.3 96.8 L154.2 97.2 L154.1 97.6 L154.0 98.0 L153.9 98.4 L153.8 98.8 L153.7 99.2 L153.6 99.6 L153.5 100.1 L153.3 100.5 L153.2 101.0 L153.1 101.5 L153.0 102.0 L152.8 102.5 L152.7 103.0 L152.6 103.5 L152.4 104.1 L152.3 104.7 L152.1 105.3 L152.0 106.0 L151.8 106.7 L151.6 107.4 L151.5 108.1 L151.3 108.9 L151.1 109.7 L150.8 110.6 L150.6 111.5 L150.3 112.5 L150.0 113.5 L149.7 114.5 L149.3 115.6 L148.9 116.8 L148.5 118.1 L148.1 119.4 L147.5 120.8 L147.0 122.3 L146.4 123.9 L145.7 125.6 L144.9 127.3 L144.1 129.1 L143.1 130.6 L142.1 131.6 L141.0 132.1 L139.9 131.8 L138.9 130.6 L137.8 130.5 L136.7 130.8 L135.6 131.3 L134.3 132.0 L133.0 133.1 L131.5 134.8 L129.7 136.9 L125.5 147.7 L123.6 148.6 L122.0 148.6 L120.6 147.5 L119.6 145.6 L118.7 143.8 L117.8 142.1 L116.8 140.7 L115.9 139.4 L114.9 138.1 L113.9 136.9 L113.0 135.7 L112.1 134.5 L111.2 133.3 L110.3 132.2 L109.5 131.1 L108.6 130.0 L107.8 128.9 L106.9 127.8 L106.1 126.8 L105.3 125.7 L104.4 124.7 L103.6 123.7 L102.7 122.7 L101.9 121.7 L101.0 120.7 L100.2 119.7 L99.4 118.6 L98.7 117.5 L98.1 116.3 L97.6 115.1 L97.2 113.8 L97.0 112.4 L96.7 111.1 L96.3 109.9 L96.2 108.5 L96.5 107.1 L97.2 105.5 L98.0 104.0 L98.9 102.5 L99.8 101.0 L100.8 99.6 L101.9 98.3 L102.9 97.1 L103.9 95.9 L104.8 94.8 L105.5 93.7 L106.1 92.7 L106.7 91.8 L107.2 90.9 L107.7 90.0 L108.2 89.1 L108.6 88.3 L109.1 87.5 L109.5 86.7 L109.9 85.9 L110.3 85.1 L110.7 84.4 L111.1 83.7 L111.5 82.9 L112.0 82.2 L112.4 81.5 L112.7 80.8 L113.1 80.1 L113.5 79.5 L113.9 78.8 L114.3 78.1 L114.7 77.4 L115.1 76.8 L115.4 76.1 L115.8 75.5 L116.2 74.8 L116.6 74.2 L117.1 73.5 L117.5 72.9 L117.9 72.3 L118.4 71.7 L118.9 71.1 L119.4 70.5 L119.9 69.9 L120.4 69.4 L120.9 68.9 L121.5 68.3 L122.1 67.8 L122.7 67.4 L123.3 66.9 L123.9 66.5 L124.6 66.1 L125.2 65.7 L125.9 65.3 L126.6 65.0 L127.3 64.7 L128.0 64.4 L128.7 64.1 L129.4 63.9 L130.1 63.6 L130.8 63.4 L131.5 63.3 L132.3 63.1 L133.0 63.0 L133.7 62.9 L134.5 62.8 L135.2 62.7 L135.9 62.7 L136.7 62.7 L137.4 62.7 L138.1 62.7 L138.9 62.7 L139.6 62.8 L140.3 62.8 L141.0 62.9 L141.7 63.0 L142.4 63.1 L143.1 63.3 L143.8 63.4 L144.5 63.6 L145.1 63.8 L145.8 64.0 L146.5 64.3 L147.1 64.6 L147.7 64.9 L148.3 65.2 L148.9 65.6 L149.5 66.0 L150.1 66.4 L150.6 66.8 L151.1 67.3 L151.6 67.8 L152.1 68.3 L152.5 68.8 L152.9 69.3 L153.3 69.8 L153.7 70.4 L154.1 71.0 L154.4 71.5 L154.7 72.1 L155.0 72.7 L155.3 73.3 L155.5 73.9 L155.8 74.5 L156.0 75.0 L156.1 75.6 L156.3 76.2 L156.4 76.8 L156.5 77.4 L156.6 78.0 L156.7 78.6 L156.8 79.1 L156.8 79.7 L156.9 80.3 L156.9 80.8 L156.9 81.4 L156.9 81.9 L156.9 82.4 L156.8 82.9 L156.8 83.4 L156.8 83.9 L156.7 84.4 L156.7 84.9 L156.6 85.4 L156.6 85.8 L156.5 86.3 L156.5 86.7 L156.4 87.1 L156.3 87.6 L156.3 88.0 L156.2 88.4 L156.1 88.8 L156.1 89.2 L156.0 89.6ZM155.8 90.0 L155.7 90.4 L155.6 90.8 L155.6 91.1 L155.5 91.5 L155.4 91.9 L155.3 92.3 L155.2 92.6 L155.1 93.0 L155.0 93.4 L154.9 93.7 L154.8 94.1 L154.8 94.5 L154.7 94.8 L154.6 95.2 L154.5 95.6 L154.4 96.0 L154.3 96.3 L154.2 96.7 L154.1 97.1 L154.0 97.5 L153.9 97.9 L153.8 98.3 L153.7 98.7 L153.5 99.1 L153.4 99.5 L153.3 100.0 L153.2 100.4 L153.1 100.9 L153.0 101.4 L152.8 101.8 L152.7 102.3 L152.6 102.9 L152.4 103.4 L152.3 104.0 L152.2 104.5 L152.0 105.2 L151.9 105.8 L151.7 106.5 L151.5 107.2 L151.3 107.9 L151.2 108.7 L151.0 109.5 L150.7 110.4 L150.5 111.3 L150.2 112.3 L150.0 113.4 L149.7 114.5 L149.3 115.6 L149.0 116.9 L148.6 118.2 L148.1 119.6 L147.6 121.1 L147.1 122.8 L146.5 124.4 L145.8 126.2 L145.0 128.1 L144.1 130.0 L143.2 131.4 L142.1 132.1 L141.0 132.1 L139.9 130.8 L139.0 128.2 L138.1 127.1 L137.2 126.6 L136.2 126.4 L135.2 126.3 L134.2 126.6 L133.1 127.4 L131.8 128.5 L128.8 135.3 L127.5 135.7 L126.2 135.4 L125.3 134.4 L124.5 133.0 L123.8 131.5 L123.1 130.2 L122.4 129.1 L121.6 128.0 L120.9 127.0 L120.2 126.1 L119.5 125.1 L118.8 124.2 L118.1 123.3 L117.5 122.4 L116.8 121.6 L116.1 120.7 L115.5 119.9 L114.8 119.1 L114.2 118.3 L113.5 117.5 L112.8 116.8 L112.1 116.0 L111.4 115.3 L110.7 114.5 L110.0 113.8 L109.2 113.1 L108.5 112.3 L107.9 111.5 L107.2 110.7 L106.7 109.8 L106.3 108.9 L105.8 107.9 L105.3 107.0 L104.5 106.2 L104.0 105.3 L104.0 104.2 L104.3 103.0 L104.8 101.8 L105.3 100.6 L105.9 99.4 L106.5 98.3 L107.1 97.2 L107.8 96.1 L108.4 95.2 L109.0 94.2 L109.5 93.3 L109.9 92.4 L110.3 91.6 L110.6 90.8 L111.0 90.0 L111.3 89.2 L111.6 88.5 L111.9 87.7 L112.2 87.0 L112.5 86.2 L112.8 85.5 L113.1 84.8 L113.4 84.1 L113.7 83.4 L114.0 82.8 L114.3 82.1 L114.6 81.4 L114.9 80.8 L115.2 80.1 L115.5 79.4 L115.8 78.8 L116.1 78.1 L116.4 77.5 L116.8 76.8 L117.1 76.2 L117.4 75.6 L117.8 74.9 L118.1 74.3 L118.5 73.6 L118.9 73.0 L119.2 72.4 L119.7 71.8 L120.1 71.2 L120.5 70.6 L121.0 70.0 L121.5 69.4 L122.0 68.9 L122.5 68.4 L123.1 67.9 L123.7 67.4 L124.3 67.0 L124.9 66.6 L125.6 66.2 L126.2 65.9 L126.9 65.6 L127.6 65.2 L128.2 65.0 L128.9 64.7 L129.6 64.4 L130.3 64.2 L131.0 64.0 L131.7 63.9 L132.5 63.7 L133.2 63.6 L133.9 63.5 L134.6 63.4 L135.3 63.4 L136.1 63.3 L136.8 63.3 L137.5 63.3 L138.2 63.3 L138.9 63.3 L139.6 63.3 L140.3 63.4 L141.0 63.5 L141.7 63.6 L142.4 63.7 L143.1 63.8 L143.7 64.0 L144.4 64.2 L145.1 64.4 L145.7 64.6 L146.3 64.9 L147.0 65.1 L147.6 65.4 L148.2 65.8 L148.8 66.1 L149.3 66.5 L149.9 66.9 L150.4 67.4 L150.9 67.8 L151.4 68.3 L151.8 68.8 L152.3 69.3 L152.7 69.8 L153.1 70.3 L153.4 70.9 L153.8 71.4 L154.1 72.0 L154.4 72.5 L154.7 73.1 L154.9 73.7 L155.2 74.2 L155.4 74.8 L155.6 75.4 L155.8 76.0 L155.9 76.5 L156.1 77.1 L156.2 77.7 L156.3 78.3 L156.4 78.8 L156.5 79.4 L156.5 79.9 L156.6 80.5 L156.6 81.0 L156.6 81.5 L156.6 82.1 L156.6 82.6 L156.6 83.1 L156.6 83.6 L156.5 84.0 L156.5 84.5 L156.5 85.0 L156.4 85.4 L156.4 85.9 L156.3 86.3 L156.3 86.8 L156.2 87.2 L156.2 87.6 L156.1 88.0 L156.0 88.4 L156.0 88.8 L155.9 89.2 L155.9 89.6ZM155.6 90.0 L155.6 90.4 L155.5 90.8 L155.4 91.1 L155.3 91.5 L155.2 91.9 L155.2 92.2 L155.1 92.6 L155.0 93.0 L154.9 93.3 L154.8 93.7 L154.7 94.1 L154.6 94.4 L154.5 94.8 L154.4 95.1 L154.3 95.5 L154.2 95.9 L154.1 96.3 L154.0 96.6 L153.9 97.0 L153.8 97.4 L153.7 97.8 L153.6 98.2 L153.5 98.6 L153.4 99.0 L153.3 99.4 L153.2 99.9 L153.1 100.3 L153.0 100.8 L152.8 101.2 L152.7 101.7 L152.6 102.2 L152.5 102.7 L152.3 103.3 L152.2 103.8 L152.0 104.4 L151.9 105.0 L151.7 105.6 L151.6 106.3 L151.4 107.0 L151.2 107.7 L151.0 108.5 L150.8 109.3 L150.6 110.2 L150.4 111.2 L150.2 112.2 L149.9 113.2 L149.6 114.4 L149.3 115.6 L149.0 116.9 L148.6 118.3 L148.2 119.8 L147.7 121.5 L147.2 123.2 L146.5 125.0 L145.9 126.9 L145.1 129.0 L144.2 130.9 L143.2 132.3 L142.1 132.6 L141.0 132.0 L140.0 129.8 L139.1 125.8 L138.3 123.8 L137.6 122.4 L136.9 121.4 L136.2 120.6 L135.4 120.1 L134.6 120.0 L133.8 120.0 L132.2 123.0 L131.3 122.7 L130.5 122.2 L129.9 121.4 L129.4 120.3 L128.9 119.3 L128.4 118.3 L127.9 117.5 L127.4 116.7 L126.9 115.9 L126.4 115.2 L125.9 114.6 L125.5 113.9 L125.0 113.2 L124.6 112.6 L124.1 112.0 L123.6 111.4 L123.2 110.9 L122.7 110.3 L122.2 109.8 L121.7 109.3 L121.2 108.8 L120.6 108.3 L120.1 107.8 L119.5 107.4 L118.9 106.9 L118.3 106.5 L117.7 106.0 L117.1 105.5 L116.4 105.1 L115.8 104.5 L115.3 104.0 L114.7 103.4 L113.9 102.9 L112.7 102.6 L111.9 102.1 L111.5 101.3 L111.4 100.5 L111.5 99.6 L111.7 98.7 L111.9 97.8 L112.1 96.9 L112.4 96.1 L112.7 95.2 L113.0 94.4 L113.3 93.7 L113.5 92.9 L113.7 92.2 L113.9 91.4 L114.0 90.7 L114.2 90.0 L114.4 89.3 L114.5 88.6 L114.7 87.9 L114.9 87.3 L115.0 86.6 L115.2 85.9 L115.4 85.3 L115.6 84.6 L115.8 83.9 L116.0 83.3 L116.2 82.7 L116.4 82.0 L116.7 81.4 L116.9 80.7 L117.1 80.1 L117.4 79.5 L117.6 78.8 L117.8 78.2 L118.1 77.6 L118.4 76.9 L118.6 76.3 L118.9 75.6 L119.2 75.0 L119.5 74.4 L119.8 73.7 L120.1 73.1 L120.4 72.4 L120.8 71.8 L121.2 71.2 L121.6 70.6 L122.0 70.0 L122.5 69.4 L123.0 68.9 L123.5 68.4 L124.1 68.0 L124.7 67.5 L125.3 67.1 L125.9 66.8 L126.5 66.4 L127.2 66.1 L127.9 65.8 L128.5 65.5 L129.2 65.3 L129.9 65.0 L130.6 64.8 L131.3 64.6 L132.0 64.5 L132.7 64.3 L133.4 64.2 L134.1 64.1 L134.8 64.0 L135.5 64.0 L136.2 63.9 L136.9 63.9 L137.6 63.9 L138.3 63.9 L138.9 63.9 L139.6 63.9 L140.3 64.0 L141.0 64.0 L141.7 64.1 L142.4 64.2 L143.0 64.4 L143.7 64.5 L144.3 64.7 L145.0 64.9 L145.6 65.2 L146.2 65.4 L146.8 65.7 L147.4 66.0 L148.0 66.3 L148.6 66.7 L149.1 67.1 L149.6 67.5 L150.2 67.9 L150.6 68.3 L151.1 68.8 L151.6 69.3 L152.0 69.8 L152.4 70.3 L152.8 70.8 L153.1 71.3 L153.5 71.9 L153.8 72.4 L154.1 73.0 L154.4 73.5 L154.6 74.1 L154.9 74.6 L155.1 75.2 L155.3 75.7 L155.4 76.3 L155.6 76.9 L155.8 77.4 L155.9 78.0 L156.0 78.5 L156.1 79.0 L156.1 79.6 L156.2 80.1 L156.2 80.7 L156.3 81.2 L156.3 81.7 L156.3 82.2 L156.3 82.7 L156.3 83.2 L156.3 83.7 L156.3 84.1 L156.3 84.6 L156.2 85.1 L156.2 85.5 L156.2 85.9 L156.1 86.4 L156.1 86.8 L156.0 87.2 L156.0 87.6 L156.0 88.0 L155.9 88.4 L155.8 88.8 L155.8 89.2 L155.7 89.6Z" fill="none" stroke="#000" stroke-width="1.25" stroke-linejoin="round"/></g>
<path d="M123.0 70.0 L123.8 69.1 L124.7 68.3 L125.7 67.6 L126.8 67.0 L127.9 66.5 L129.0 66.0 L130.2 65.6 L131.5 65.2 L132.9 64.9 L134.3 64.7 L135.6 64.6 L137.0 64.5 L138.4 64.5 L139.7 64.5 L141.1 64.6 L142.4 64.8 L143.8 65.1 L145.0 65.5 L146.2 66.0 L147.4 66.6 L148.5 67.3 L149.6 68.1 L150.6 69.0 L151.5 70.0 L152.4 71.1 L153.2 72.3 L153.9 73.7 L154.5 75.1 L155.1 76.5 L155.5 78.0 L155.8 79.6 L156.0 81.2 L156.0 82.9 L156.0 84.6 L155.9 86.3 L155.8 88.0 L155.6 89.7 L155.2 91.3 L154.8 93.0 L154.4 94.7 L153.9 96.3 L153.5 98.0 L153.1 99.7 L152.7 101.4 L152.2 103.1 L151.8 104.7 L151.4 106.4 L151.0 108.0 L150.6 109.6 L150.3 111.1 L150.0 112.6 L149.7 114.0 L149.4 115.5 L149.0 117.0 L148.6 118.5 L148.2 120.1 L147.8 121.6 L147.4 123.1 L147.0 124.6 L146.5 126.0 L146.0 127.4 L145.5 128.8 L145.0 130.2 L144.5 131.4 L144.0 132.4 L143.5 133.0 L143.0 133.3 L142.4 133.3 L141.9 133.0 L141.4 132.5 L140.9 131.8 L140.5 131.0 L140.2 129.9 L139.9 128.6 L139.8 127.0 L139.6 125.3 L139.3 123.6 L139.0 122.0 L138.6 120.4 L138.2 118.7 L137.7 117.1 L137.2 115.4 L136.6 113.7 L136.0 112.0 L135.3 110.3 L134.6 108.4 L133.8 106.6 L132.9 104.8 L132.0 103.3 L131.0 102.0 L129.9 101.1 L128.8 100.4 L127.5 99.9 L126.3 99.6 L125.1 99.3 L124.0 99.0 L122.9 98.8 L121.9 98.9 L120.9 98.9 L119.9 98.9 L119.1 98.7 L118.5 98.0 L118.0 96.9 L117.7 95.3 L117.5 93.6 L117.4 91.7 L117.4 89.8 L117.5 88.0 L117.6 86.3 L117.9 84.6 L118.2 82.9 L118.6 81.2 L119.0 79.6 L119.5 78.0 L120.0 76.5 L120.5 75.0 L121.0 73.6 L121.6 72.3 L122.3 71.1Z" fill="#000" stroke="#000" stroke-width="1.0" stroke-linejoin="round"/>
<path d="M87.0 197.8 A25.5 11.0 0 0 1 138.0 197.8M92.2 197.8 A20.5 9.0 0 0 1 133.2 197.8M96.4 197.8 A16.5 7.3 0 0 1 129.4 197.8M100.6 197.8 A12.5 5.8 0 0 1 125.6 197.8M104.3 197.8 A9.0 4.3 0 0 1 122.3 197.8M107.5 197.8 A6.0 2.8 0 0 1 119.5 197.8" fill="none" stroke="#000" stroke-width="1.0" stroke-linejoin="round"/>
<path d="M136.5 80.0 L136.8 79.6 L137.3 79.2 L137.9 78.8 L138.5 78.6 L139.0 78.5 L139.5 78.5 L139.9 78.7 L140.3 78.9 L140.7 79.3 L141.1 79.8 L141.3 80.4 L141.5 81.0 L141.6 81.7 L141.6 82.5 L141.5 83.3 L141.3 84.2 L141.2 85.1 L141.0 86.0 L140.8 86.9 L140.6 88.0 L140.3 89.0 L140.1 90.0 L139.8 90.9 L139.5 91.5 L139.2 91.9 L138.9 92.2 L138.5 92.3 L138.1 92.4 L137.8 92.2 L137.5 92.0 L137.2 91.6 L136.9 91.0 L136.6 90.3 L136.3 89.5 L136.1 88.7 L136.0 88.0 L135.9 87.3 L136.0 86.7 L136.0 86.0 L136.1 85.3 L136.2 84.7 L136.3 84.0 L136.3 83.3 L136.3 82.6 L136.2 81.8 L136.2 81.1 L136.3 80.5ZM132.0 95.5 L132.3 95.3 L132.7 95.1 L133.2 94.9 L133.7 94.9 L134.2 94.9 L134.5 95.0 L134.8 95.3 L135.0 95.6 L135.2 96.1 L135.3 96.6 L135.3 97.1 L135.3 97.5 L135.1 97.9 L134.9 98.3 L134.6 98.6 L134.2 99.0 L133.8 99.2 L133.5 99.3 L133.2 99.3 L132.9 99.1 L132.5 98.9 L132.2 98.6 L132.0 98.3 L131.8 98.0 L131.7 97.6 L131.6 97.2 L131.6 96.7 L131.7 96.2 L131.8 95.8Z" fill="#fff" stroke="#fff" stroke-width="0.5" stroke-linejoin="round"/>
<rect x="106.6" y="44" width="73.8" height="66.5" fill="none" stroke="#000" stroke-width="1.1"/>
<line x1="48.5" y1="110.2" x2="180.4" y2="110.2" stroke="#000" stroke-width="1.1"/>
<line x1="180.4" y1="110.2" x2="180.4" y2="198" stroke="#000" stroke-width="1.1"/>
<line x1="114" y1="118" x2="114" y2="198" stroke="#000" stroke-width="1.7"/>
<text transform="translate(0.75,17.90) scale(1.0123,1)" font-size="25.51" font-weight="bold" fill="#000">A</text>
<text transform="translate(136.81,34.30) scale(1.0462,1)" font-size="16.43" font-weight="bold" fill="#000">GMP</text>
<text transform="translate(57.56,177.90) scale(1.0431,1)" font-size="16.81" font-weight="bold" fill="#000">MEP</text>
<text transform="translate(142.39,179.90) scale(1.0337,1)" font-size="17.14" font-weight="bold" fill="#000">CMP</text>
<text x="51.5" y="85.8" font-size="9" text-anchor="start" fill="#222" >MEP</text>
<text x="51.5" y="95.8" font-size="9" text-anchor="start" fill="#222" >20.4</text>
<text x="194.2" y="76.5" font-size="9" text-anchor="start" fill="#222" >GMP</text>
<text x="194.2" y="86.4" font-size="9" text-anchor="start" fill="#222" >52.6</text>
<text x="194.6" y="153.8" font-size="9" text-anchor="start" fill="#222" >CMP</text>
<text x="194.6" y="163.1" font-size="9" text-anchor="start" fill="#222" >24.6</text>
<text transform="translate(14.30,135.01) rotate(-90) scale(0.9462,1)" font-size="18.76" font-weight="bold" fill="#000">CD16/32</text>
<text transform="translate(128.00,246.70) scale(1.0095,1)" font-size="17.29" font-weight="bold" fill="#000">CD34</text>
<rect x="326.8" y="5.5" width="192.7" height="192.5" fill="none" stroke="#000" stroke-width="1.3"/>
<line x1="326.5" y1="4.9" x2="326.5" y2="198.8" stroke="#000" stroke-width="2.2"/>
<line x1="326.0" y1="198.0" x2="520.1" y2="198.0" stroke="#000" stroke-width="1.6"/>
<line x1="320.40000000000003" y1="23.2" x2="326.8" y2="23.2" stroke="#000" stroke-width="1.1"/>
<line x1="323.1" y1="53.60519518861682" x2="326.8" y2="53.60519518861682" stroke="#000" stroke-width="1.1"/>
<line x1="323.1" y1="45.94522541969469" x2="326.8" y2="45.94522541969469" stroke="#000" stroke-width="1.1"/>
<line x1="323.1" y1="40.510390377233634" x2="326.8" y2="40.510390377233634" stroke="#000" stroke-width="1.1"/>
<line x1="323.1" y1="36.29480481138319" x2="326.8" y2="36.29480481138319" stroke="#000" stroke-width="1.1"/>
<line x1="323.1" y1="32.8504206083115" x2="326.8" y2="32.8504206083115" stroke="#000" stroke-width="1.1"/>
<line x1="323.1" y1="29.93823525937983" x2="326.8" y2="29.93823525937983" stroke="#000" stroke-width="1.1"/>
<line x1="323.1" y1="27.415585565850456" x2="326.8" y2="27.415585565850456" stroke="#000" stroke-width="1.1"/>
<line x1="323.1" y1="25.19045083938937" x2="326.8" y2="25.19045083938937" stroke="#000" stroke-width="1.1"/>
<line x1="320.40000000000003" y1="66.7" x2="326.8" y2="66.7" stroke="#000" stroke-width="1.1"/>
<line x1="323.1" y1="97.38478319035121" x2="326.8" y2="97.38478319035121" stroke="#000" stroke-width="1.1"/>
<line x1="323.1" y1="89.65437691780681" x2="326.8" y2="89.65437691780681" stroke="#000" stroke-width="1.1"/>
<line x1="323.1" y1="84.16956638070245" x2="326.8" y2="84.16956638070245" stroke="#000" stroke-width="1.1"/>
<line x1="323.1" y1="79.91521680964877" x2="326.8" y2="79.91521680964877" stroke="#000" stroke-width="1.1"/>
<line x1="323.1" y1="76.43916010815805" x2="326.8" y2="76.43916010815805" stroke="#000" stroke-width="1.1"/>
<line x1="323.1" y1="73.50019604337413" x2="326.8" y2="73.50019604337413" stroke="#000" stroke-width="1.1"/>
<line x1="323.1" y1="70.95434957105368" x2="326.8" y2="70.95434957105368" stroke="#000" stroke-width="1.1"/>
<line x1="323.1" y1="68.70875383561363" x2="326.8" y2="68.70875383561363" stroke="#000" stroke-width="1.1"/>
<line x1="320.40000000000003" y1="110.6" x2="326.8" y2="110.6" stroke="#000" stroke-width="1.1"/>
<line x1="323.1" y1="142.96231120075768" x2="326.8" y2="142.96231120075768" stroke="#000" stroke-width="1.1"/>
<line x1="323.1" y1="134.80928590647963" x2="326.8" y2="134.80928590647963" stroke="#000" stroke-width="1.1"/>
<line x1="323.1" y1="129.02462240151533" x2="326.8" y2="129.02462240151533" stroke="#000" stroke-width="1.1"/>
<line x1="323.1" y1="124.53768879924232" x2="326.8" y2="124.53768879924232" stroke="#000" stroke-width="1.1"/>
<line x1="323.1" y1="120.8715971072373" x2="326.8" y2="120.8715971072373" stroke="#000" stroke-width="1.1"/>
<line x1="323.1" y1="117.7719607473399" x2="326.8" y2="117.7719607473399" stroke="#000" stroke-width="1.1"/>
<line x1="323.1" y1="115.086933602273" x2="326.8" y2="115.086933602273" stroke="#000" stroke-width="1.1"/>
<line x1="323.1" y1="112.71857181295925" x2="326.8" y2="112.71857181295925" stroke="#000" stroke-width="1.1"/>
<line x1="320.40000000000003" y1="156.9" x2="326.8" y2="156.9" stroke="#000" stroke-width="1.1"/>
<line x1="323.1" y1="10.105195188616817" x2="326.8" y2="10.105195188616817" stroke="#000" stroke-width="1.1"/>
<line x1="320.40000000000003" y1="177.75" x2="326.8" y2="177.75" stroke="#000" stroke-width="1.1"/>
<line x1="323.1" y1="163.0" x2="326.8" y2="163.0" stroke="#000" stroke-width="1.1"/>
<line x1="323.1" y1="170.0" x2="326.8" y2="170.0" stroke="#000" stroke-width="1.1"/>
<line x1="323.1" y1="185.0" x2="326.8" y2="185.0" stroke="#000" stroke-width="1.1"/>
<line x1="323.1" y1="191.25" x2="326.8" y2="191.25" stroke="#000" stroke-width="1.1"/>
<line x1="323.1" y1="196.25" x2="326.8" y2="196.25" stroke="#000" stroke-width="1.1"/>
<line x1="367.0" y1="198.0" x2="367.0" y2="204.3" stroke="#000" stroke-width="1.1"/>
<line x1="381.3290277936055" y1="198.0" x2="381.3290277936055" y2="201.60000000000002" stroke="#000" stroke-width="1.1"/>
<line x1="389.71097172465596" y1="198.0" x2="389.71097172465596" y2="201.60000000000002" stroke="#000" stroke-width="1.1"/>
<line x1="395.65805558721104" y1="198.0" x2="395.65805558721104" y2="201.60000000000002" stroke="#000" stroke-width="1.1"/>
<line x1="400.2709722063945" y1="198.0" x2="400.2709722063945" y2="201.60000000000002" stroke="#000" stroke-width="1.1"/>
<line x1="404.0399995182614" y1="198.0" x2="404.0399995182614" y2="201.60000000000002" stroke="#000" stroke-width="1.1"/>
<line x1="407.2266667046786" y1="198.0" x2="407.2266667046786" y2="201.60000000000002" stroke="#000" stroke-width="1.1"/>
<line x1="409.98708338081656" y1="198.0" x2="409.98708338081656" y2="201.60000000000002" stroke="#000" stroke-width="1.1"/>
<line x1="412.42194344931187" y1="198.0" x2="412.42194344931187" y2="201.60000000000002" stroke="#000" stroke-width="1.1"/>
<line x1="414.6" y1="198.0" x2="414.6" y2="204.3" stroke="#000" stroke-width="1.1"/>
<line x1="427.6345988122504" y1="198.0" x2="427.6345988122504" y2="201.60000000000002" stroke="#000" stroke-width="1.1"/>
<line x1="435.2593503293614" y1="198.0" x2="435.2593503293614" y2="201.60000000000002" stroke="#000" stroke-width="1.1"/>
<line x1="440.6691976245008" y1="198.0" x2="440.6691976245008" y2="201.60000000000002" stroke="#000" stroke-width="1.1"/>
<line x1="444.8654011877496" y1="198.0" x2="444.8654011877496" y2="201.60000000000002" stroke="#000" stroke-width="1.1"/>
<line x1="448.2939491416118" y1="198.0" x2="448.2939491416118" y2="201.60000000000002" stroke="#000" stroke-width="1.1"/>
<line x1="451.19274513261735" y1="198.0" x2="451.19274513261735" y2="201.60000000000002" stroke="#000" stroke-width="1.1"/>
<line x1="453.7037964367512" y1="198.0" x2="453.7037964367512" y2="201.60000000000002" stroke="#000" stroke-width="1.1"/>
<line x1="455.91870065872274" y1="198.0" x2="455.91870065872274" y2="201.60000000000002" stroke="#000" stroke-width="1.1"/>
<line x1="457.9" y1="198.0" x2="457.9" y2="204.3" stroke="#000" stroke-width="1.1"/>
<line x1="470.9345988122504" y1="198.0" x2="470.9345988122504" y2="201.60000000000002" stroke="#000" stroke-width="1.1"/>
<line x1="478.5593503293614" y1="198.0" x2="478.5593503293614" y2="201.60000000000002" stroke="#000" stroke-width="1.1"/>
<line x1="483.9691976245008" y1="198.0" x2="483.9691976245008" y2="201.60000000000002" stroke="#000" stroke-width="1.1"/>
<line x1="488.16540118774964" y1="198.0" x2="488.16540118774964" y2="201.60000000000002" stroke="#000" stroke-width="1.1"/>
<line x1="491.5939491416118" y1="198.0" x2="491.5939491416118" y2="201.60000000000002" stroke="#000" stroke-width="1.1"/>
<line x1="494.4927451326173" y1="198.0" x2="494.4927451326173" y2="201.60000000000002" stroke="#000" stroke-width="1.1"/>
<line x1="497.00379643675114" y1="198.0" x2="497.00379643675114" y2="201.60000000000002" stroke="#000" stroke-width="1.1"/>
<line x1="499.2187006587228" y1="198.0" x2="499.2187006587228" y2="201.60000000000002" stroke="#000" stroke-width="1.1"/>
<line x1="501.20000000000005" y1="198.0" x2="501.20000000000005" y2="204.3" stroke="#000" stroke-width="1.1"/>
<line x1="514.2345988122504" y1="198.0" x2="514.2345988122504" y2="201.60000000000002" stroke="#000" stroke-width="1.1"/>
<line x1="346.0" y1="198.0" x2="346.0" y2="204.3" stroke="#000" stroke-width="1.1"/>
<line x1="327.7" y1="198.0" x2="327.7" y2="204.3" stroke="#000" stroke-width="1.1"/>
<line x1="332.0" y1="198.0" x2="332.0" y2="201.60000000000002" stroke="#000" stroke-width="1.1"/>
<line x1="336.3" y1="198.0" x2="336.3" y2="201.60000000000002" stroke="#000" stroke-width="1.1"/>
<line x1="339.2" y1="198.0" x2="339.2" y2="201.60000000000002" stroke="#000" stroke-width="1.1"/>
<line x1="342.0" y1="198.0" x2="342.0" y2="201.60000000000002" stroke="#000" stroke-width="1.1"/>
<line x1="349.8" y1="198.0" x2="349.8" y2="201.60000000000002" stroke="#000" stroke-width="1.1"/>
<line x1="354.6" y1="198.0" x2="354.6" y2="201.60000000000002" stroke="#000" stroke-width="1.1"/>
<line x1="359.40000000000003" y1="198.0" x2="359.40000000000003" y2="201.60000000000002" stroke="#000" stroke-width="1.1"/>
<line x1="363.3" y1="198.0" x2="363.3" y2="201.60000000000002" stroke="#000" stroke-width="1.1"/>
<text x="318.8" y="26.90" font-size="8.8" text-anchor="end" fill="#222">10<tspan font-size="7.4" dy="-4.4">5</tspan></text>
<text x="318.8" y="70.40" font-size="8.8" text-anchor="end" fill="#222">10<tspan font-size="7.4" dy="-4.4">4</tspan></text>
<text x="318.8" y="114.30" font-size="8.8" text-anchor="end" fill="#222">10<tspan font-size="7.4" dy="-4.4">3</tspan></text>
<text x="318.8" y="160.60" font-size="8.8" text-anchor="end" fill="#222">10<tspan font-size="7.4" dy="-4.4">2</tspan></text>
<text x="318.8" y="181.25" font-size="8.8" text-anchor="end" fill="#222">0</text>
<text x="347.50" y="217.00" font-size="8.8" text-anchor="middle" fill="#222">0</text>
<text x="360.70" y="217.00" font-size="8.8" fill="#222">10<tspan font-size="7.4" dy="-4.4">2</tspan></text>
<text x="408.30" y="217.00" font-size="8.8" fill="#222">10<tspan font-size="7.4" dy="-4.4">3</tspan></text>
<text x="451.60" y="217.00" font-size="8.8" fill="#222">10<tspan font-size="7.4" dy="-4.4">4</tspan></text>
<text x="494.90" y="217.00" font-size="8.8" fill="#222">10<tspan font-size="7.4" dy="-4.4">5</tspan></text>
<clipPath id="clipB"><path d="M448.0 57.0 L448.7 57.2 L449.3 57.6 L449.8 58.0 L450.3 58.5 L450.7 59.0 L451.0 59.5 L451.3 60.0 L451.6 60.5 L451.9 61.0 L452.0 61.5 L452.1 62.2 L452.0 63.0 L451.8 63.9 L451.5 64.9 L451.0 66.0 L450.5 67.2 L449.8 68.5 L449.0 70.0 L448.0 71.7 L446.8 73.5 L445.5 75.5 L444.1 77.6 L442.8 79.6 L441.5 81.5 L440.3 83.3 L439.1 85.1 L437.9 86.8 L436.7 88.5 L435.6 90.2 L434.5 92.0 L433.4 93.8 L432.4 95.6 L431.4 97.4 L430.5 99.2 L429.5 101.1 L428.5 103.0 L427.5 105.0 L426.6 107.1 L425.6 109.2 L424.7 111.4 L423.6 113.5 L422.5 115.5 L421.4 117.6 L420.3 119.7 L419.2 121.8 L417.9 123.8 L416.3 125.6 L414.4 127.0 L412.0 128.1 L409.2 129.1 L406.1 129.8 L403.0 130.3 L399.9 130.5 L397.0 130.3 L394.2 129.7 L391.5 128.7 L388.7 127.4 L386.2 125.9 L383.9 124.3 L382.0 122.9 L380.5 121.5 L379.3 119.9 L378.3 118.4 L377.6 116.8 L377.1 115.3 L376.7 114.0 L376.5 112.9 L376.4 112.0 L376.6 111.2 L376.9 110.3 L377.4 109.3 L378.0 108.0 L378.8 106.3 L379.9 104.2 L381.1 102.0 L382.5 99.8 L383.8 97.8 L385.0 96.0 L386.2 94.6 L387.3 93.4 L388.4 92.4 L389.6 91.4 L390.8 90.5 L392.0 89.5 L393.2 88.5 L394.4 87.6 L395.6 86.6 L396.9 85.7 L398.4 84.6 L400.0 83.5 L401.9 82.2 L404.0 80.9 L406.2 79.4 L408.5 77.9 L410.8 76.4 L413.0 75.0 L415.2 73.5 L417.5 72.0 L419.8 70.5 L422.0 69.1 L424.1 67.7 L426.0 66.5 L427.8 65.5 L429.4 64.5 L430.9 63.7 L432.3 63.0 L433.7 62.2 L435.0 61.5 L436.3 60.7 L437.5 60.0 L438.7 59.2 L439.8 58.5 L440.9 58.0 L442.0 57.5 L443.1 57.2 L444.2 57.0 L445.2 56.8 L446.3 56.8 L447.2 56.9Z"/></clipPath>
<path d="M448.7 52.8 L449.5 52.9 L450.4 53.1 L451.2 53.3 L452.1 53.5 L452.8 53.9 L453.5 54.3 L454.1 54.8 L454.6 55.5 L455.1 56.1 L455.4 56.9 L455.8 57.7 L456.0 58.5 L456.2 59.3 L456.3 60.2 L456.3 61.1 L456.3 62.1 L456.2 63.0 L456.0 64.0 L455.7 65.0 L455.4 66.0 L454.9 67.1 L454.4 68.1 L454.0 69.1 L453.5 70.0 L453.1 70.7 L452.7 71.4 L452.4 71.9 L451.9 72.5 L451.4 73.2 L450.8 74.0 L450.0 75.0 L449.1 76.1 L448.2 77.3 L447.1 78.6 L446.1 80.0 L445.0 81.5 L443.9 83.2 L442.7 85.0 L441.5 87.0 L440.3 89.0 L439.1 91.0 L438.0 93.0 L437.0 94.9 L436.0 96.8 L435.1 98.7 L434.2 100.6 L433.2 102.5 L432.3 104.6 L431.3 106.9 L430.3 109.3 L429.2 111.8 L428.2 114.3 L427.3 116.6 L426.5 118.5 L425.9 120.1 L425.6 121.4 L425.3 122.5 L425.0 123.5 L424.5 124.5 L423.8 125.6 L422.8 126.8 L421.6 128.0 L420.3 129.1 L418.9 130.3 L417.4 131.3 L415.8 132.3 L414.2 133.2 L412.4 133.9 L410.6 134.7 L408.7 135.3 L406.8 135.9 L405.0 136.5 L403.2 137.0 L401.3 137.5 L399.5 137.9 L397.6 138.3 L395.8 138.7 L394.0 139.0 L392.2 139.3 L390.5 139.6 L388.8 139.8 L387.1 140.0 L385.3 140.1 L383.5 140.0 L381.6 139.8 L379.7 139.4 L377.8 138.9 L375.8 138.3 L373.9 137.7 L372.0 137.0 L370.2 136.3 L368.4 135.5 L366.6 134.7 L364.8 133.7 L362.9 132.7 L361.0 131.5 L358.9 130.1 L356.6 128.6 L354.3 126.9 L352.1 125.2 L350.1 123.5 L348.5 122.0 L347.2 120.5 L346.2 119.1 L345.4 117.7 L344.8 116.4 L344.4 115.1 L344.2 114.0 L344.2 113.0 L344.5 112.0 L345.0 111.2 L345.6 110.4 L346.3 109.7 L347.0 109.0 L347.7 108.5 L348.3 108.1 L349.1 107.8 L350.0 107.4 L351.2 106.9 L352.7 106.2 L354.7 105.2 L357.0 104.1 L359.7 102.8 L362.4 101.4 L365.0 100.1 L367.5 98.8 L369.8 97.6 L372.0 96.3 L374.2 95.1 L376.3 93.8 L378.3 92.6 L380.2 91.5 L382.0 90.4 L383.7 89.4 L385.3 88.4 L386.8 87.5 L388.4 86.5 L390.0 85.5 L391.6 84.5 L393.2 83.6 L394.9 82.6 L396.5 81.6 L398.2 80.6 L400.0 79.5 L401.9 78.3 L403.8 77.0 L405.8 75.7 L407.9 74.3 L409.9 72.9 L412.0 71.5 L414.2 70.1 L416.4 68.6 L418.7 67.1 L420.9 65.6 L423.1 64.2 L425.0 63.0 L426.8 61.9 L428.4 61.0 L429.9 60.2 L431.4 59.4 L432.7 58.7 L434.0 58.0 L435.2 57.3 L436.3 56.6 L437.3 56.0 L438.3 55.4 L439.2 54.9 L440.0 54.5 L440.8 54.2 L441.5 53.9 L442.1 53.7 L442.7 53.6 L443.3 53.4 L444.0 53.3 L444.7 53.2 L445.5 53.0 L446.3 52.9 L447.1 52.8 L447.9 52.8ZM448.5 55.0 L449.4 55.1 L450.2 55.4 L450.9 55.8 L451.5 56.1 L452.0 56.6 L452.5 57.0 L452.9 57.4 L453.2 57.9 L453.5 58.3 L453.7 58.9 L453.9 59.4 L454.0 60.0 L454.1 60.6 L454.2 61.3 L454.2 62.1 L454.1 62.8 L454.0 63.6 L453.8 64.5 L453.5 65.4 L453.2 66.2 L452.9 67.1 L452.4 68.1 L451.8 69.2 L451.0 70.5 L450.0 72.0 L448.8 73.6 L447.5 75.4 L446.2 77.3 L444.8 79.2 L443.5 81.0 L442.3 82.8 L441.0 84.6 L439.8 86.4 L438.6 88.3 L437.4 90.1 L436.3 92.0 L435.3 93.9 L434.3 95.7 L433.3 97.6 L432.4 99.5 L431.5 101.5 L430.5 103.5 L429.5 105.6 L428.6 107.9 L427.6 110.2 L426.6 112.5 L425.6 114.8 L424.5 117.0 L423.4 119.3 L422.3 121.6 L421.1 123.9 L419.9 126.1 L418.5 128.0 L417.0 129.6 L415.3 130.8 L413.5 131.7 L411.6 132.4 L409.6 132.9 L407.4 133.3 L405.0 133.6 L402.4 133.8 L399.6 134.0 L396.6 134.0 L393.5 133.8 L390.5 133.5 L387.5 133.0 L384.5 132.2 L381.3 131.2 L378.2 129.9 L375.1 128.7 L372.4 127.4 L370.0 126.2 L368.0 125.1 L366.4 124.0 L365.0 122.9 L363.9 121.9 L362.9 120.9 L362.0 120.0 L361.2 119.2 L360.5 118.6 L360.0 118.0 L359.7 117.4 L359.7 116.6 L360.0 115.7 L360.7 114.5 L361.7 113.2 L363.0 111.7 L364.4 110.2 L366.0 108.6 L367.5 107.2 L369.1 105.8 L370.7 104.5 L372.5 103.2 L374.3 101.9 L376.1 100.5 L378.0 99.0 L379.9 97.3 L382.0 95.5 L384.0 93.7 L386.1 91.8 L388.1 90.1 L390.0 88.5 L391.8 87.1 L393.4 85.9 L395.0 84.8 L396.6 83.8 L398.2 82.7 L400.0 81.5 L401.9 80.2 L403.8 78.9 L405.8 77.6 L407.9 76.2 L409.9 74.9 L412.0 73.5 L414.2 72.1 L416.4 70.6 L418.7 69.1 L420.9 67.6 L423.1 66.2 L425.0 65.0 L426.8 64.0 L428.4 63.0 L429.9 62.2 L431.3 61.5 L432.7 60.7 L434.0 60.0 L435.3 59.2 L436.5 58.5 L437.6 57.8 L438.7 57.1 L439.8 56.5 L441.0 56.0 L442.3 55.6 L443.6 55.3 L444.9 55.1 L446.2 55.0 L447.4 55.0ZM448.0 57.0 L448.7 57.2 L449.3 57.6 L449.8 58.0 L450.3 58.5 L450.7 59.0 L451.0 59.5 L451.3 60.0 L451.6 60.5 L451.9 61.0 L452.0 61.5 L452.1 62.2 L452.0 63.0 L451.8 63.9 L451.5 64.9 L451.0 66.0 L450.5 67.2 L449.8 68.5 L449.0 70.0 L448.0 71.7 L446.8 73.5 L445.5 75.5 L444.1 77.6 L442.8 79.6 L441.5 81.5 L440.3 83.3 L439.1 85.1 L437.9 86.8 L436.7 88.5 L435.6 90.2 L434.5 92.0 L433.4 93.8 L432.4 95.6 L431.4 97.4 L430.5 99.2 L429.5 101.1 L428.5 103.0 L427.5 105.0 L426.6 107.1 L425.6 109.2 L424.7 111.4 L423.6 113.5 L422.5 115.5 L421.4 117.6 L420.3 119.7 L419.2 121.8 L417.9 123.8 L416.3 125.6 L414.4 127.0 L412.0 128.1 L409.2 129.1 L406.1 129.8 L403.0 130.3 L399.9 130.5 L397.0 130.3 L394.2 129.7 L391.5 128.7 L388.7 127.4 L386.2 125.9 L383.9 124.3 L382.0 122.9 L380.5 121.5 L379.3 119.9 L378.3 118.4 L377.6 116.8 L377.1 115.3 L376.7 114.0 L376.5 112.9 L376.4 112.0 L376.6 111.2 L376.9 110.3 L377.4 109.3 L378.0 108.0 L378.8 106.3 L379.9 104.2 L381.1 102.0 L382.5 99.8 L383.8 97.8 L385.0 96.0 L386.2 94.6 L387.3 93.4 L388.4 92.4 L389.6 91.4 L390.8 90.5 L392.0 89.5 L393.2 88.5 L394.4 87.6 L395.6 86.6 L396.9 85.7 L398.4 84.6 L400.0 83.5 L401.9 82.2 L404.0 80.9 L406.2 79.4 L408.5 77.9 L410.8 76.4 L413.0 75.0 L415.2 73.5 L417.5 72.0 L419.8 70.5 L422.0 69.1 L424.1 67.7 L426.0 66.5 L427.8 65.5 L429.4 64.5 L430.9 63.7 L432.3 63.0 L433.7 62.2 L435.0 61.5 L436.3 60.7 L437.5 60.0 L438.7 59.2 L439.8 58.5 L440.9 58.0 L442.0 57.5 L443.1 57.2 L444.2 57.0 L445.2 56.8 L446.3 56.8 L447.2 56.9Z" fill="none" stroke="#000" stroke-width="1.25" stroke-linejoin="round"/>
<g clip-path="url(#clipB)"><path d="M402.0 135.0 L400.5 135.0 L399.0 135.0 L397.8 134.9 L396.5 134.7 L395.2 134.5 L394.0 134.1 L393.0 133.8 L391.8 133.2 L390.8 132.8 L390.0 132.2 L389.0 131.6 L388.2 131.0 L387.5 130.2 L386.7 129.5 L386.0 128.6 L385.4 127.8 L384.8 126.8 L384.2 125.9 L383.8 124.9 L383.2 123.8 L382.9 122.8 L382.5 121.5 L382.2 120.5 L382.0 119.2 L381.7 118.0 L381.6 116.5 L381.5 115.2 L381.4 113.8 L381.4 112.2 L381.5 110.8 L381.6 109.5 L381.8 108.2 L382.0 106.8 L382.2 105.5 L382.5 104.2 L382.8 103.1 L383.0 102.0 L383.4 100.8 L383.8 99.7 L384.2 98.5 L384.6 97.5 L385.0 96.4 L385.5 95.2 L385.9 94.2 L386.4 93.2 L386.9 92.2 L387.4 91.2 L388.0 90.2 L388.5 89.3 L389.0 88.4 L389.5 87.5 L390.2 86.5 L390.8 85.5 L391.3 84.8 L391.9 83.8 L392.5 82.9 L393.1 82.0 L393.8 81.0 L394.3 80.2 L395.0 79.3 L395.6 78.5 L396.2 77.5 L396.8 76.8 L397.5 75.8 L398.1 75.0 L398.8 74.2 L399.5 73.2 L400.0 72.5 L400.8 71.5 L401.4 70.8 L402.0 69.9 L402.7 69.0 L403.3 68.2 L404.0 67.3 L404.6 66.5 L405.2 65.7 L406.0 64.8 L406.6 64.0 L407.2 63.2 L408.0 62.2 L408.6 61.5 L409.2 60.7 L410.0 59.8 L410.6 59.0 L411.2 58.2 L412.0 57.3 L412.7 56.5 L413.3 55.8 L414.0 54.9 L414.8 54.0 L415.4 53.2 L416.0 52.5 L416.8 51.7 L417.5 50.9 L418.2 50.0 L418.9 49.2 L419.6 48.5 L420.3 47.8 L421.1 47.0 L421.8 46.2 L422.5 45.5 L423.5 45.0 L425.0 45.0 L426.5 45.0 L428.0 45.0 L429.5 44.9 L431.0 44.9 L432.5 44.9 L434.0 44.9 L435.5 44.9 L437.0 44.9 L438.5 44.9 L440.0 44.9 L441.5 44.9 L443.0 44.9 L444.5 44.9 L446.0 44.9 L447.5 44.9 L449.0 44.9 L450.5 44.9 L452.0 44.9 L453.5 44.9 L455.0 44.9 L456.5 44.9 L458.0 44.9 L459.5 44.9 L460.1 45.8 L460.1 47.2 L460.1 48.8 L460.1 50.2 L460.1 51.8 L460.1 53.2 L460.1 54.8 L460.1 56.2 L460.1 57.8 L460.1 59.2 L460.1 60.8 L460.1 62.2 L460.1 63.8 L460.1 65.2 L460.1 66.8 L460.1 68.2 L460.1 69.8 L460.1 71.2 L460.1 72.8 L460.1 74.2 L460.1 75.8 L460.1 77.2 L460.1 78.8 L460.1 80.2 L460.1 81.8 L460.0 83.2 L460.0 84.8 L460.0 86.2 L460.0 87.8 L460.0 89.2 L459.8 90.5 L459.2 91.2 L458.5 92.2 L457.9 93.0 L457.2 93.8 L456.5 94.7 L455.9 95.5 L455.2 96.3 L454.5 97.2 L453.9 98.0 L453.2 98.8 L452.5 99.7 L451.8 100.5 L451.2 101.2 L450.5 102.0 L449.8 102.9 L449.0 103.8 L448.4 104.5 L447.7 105.2 L447.0 106.1 L446.2 106.9 L445.5 107.8 L444.8 108.5 L444.2 109.2 L443.5 110.0 L442.8 110.8 L442.0 111.6 L441.2 112.4 L440.5 113.2 L439.8 113.9 L439.0 114.7 L438.2 115.4 L437.5 116.2 L436.8 116.9 L436.0 117.6 L435.2 118.3 L434.5 119.0 L433.7 119.8 L432.8 120.5 L432.0 121.2 L431.2 121.8 L430.4 122.5 L429.5 123.2 L428.8 123.8 L427.8 124.5 L427.0 125.1 L426.0 125.8 L425.2 126.3 L424.2 126.9 L423.4 127.5 L422.5 128.0 L421.5 128.6 L420.5 129.2 L419.5 129.7 L418.5 130.2 L417.5 130.7 L416.5 131.2 L415.5 131.6 L414.5 132.0 L413.3 132.5 L412.2 132.9 L411.1 133.2 L410.0 133.6 L408.8 133.9 L407.5 134.2 L406.2 134.5 L405.0 134.7 L403.8 134.9 L402.2 135.0ZM404.8 131.5 L403.2 131.6 L401.8 131.6 L400.2 131.6 L399.0 131.4 L397.8 131.2 L396.5 130.9 L395.3 130.5 L394.2 130.1 L393.2 129.6 L392.3 129.0 L391.5 128.4 L390.6 127.8 L389.8 127.0 L389.1 126.2 L388.5 125.5 L387.8 124.5 L387.2 123.6 L386.8 122.7 L386.2 121.7 L385.8 120.5 L385.5 119.5 L385.1 118.2 L384.8 117.0 L384.6 115.8 L384.5 114.5 L384.4 113.0 L384.3 111.5 L384.4 110.0 L384.5 108.5 L384.6 107.2 L384.8 106.0 L385.1 104.8 L385.3 103.5 L385.7 102.2 L386.0 101.1 L386.3 100.0 L386.8 98.8 L387.2 97.8 L387.6 96.8 L388.0 95.7 L388.5 94.6 L389.0 93.6 L389.5 92.6 L390.0 91.7 L390.5 90.8 L391.1 89.8 L391.7 88.8 L392.2 87.8 L392.8 87.0 L393.4 86.0 L394.0 85.1 L394.6 84.2 L395.2 83.3 L395.8 82.5 L396.5 81.5 L397.0 80.8 L397.8 79.8 L398.3 79.0 L399.0 78.1 L399.6 77.2 L400.2 76.4 L400.9 75.5 L401.5 74.7 L402.2 73.8 L402.8 73.0 L403.5 72.1 L404.2 71.2 L404.8 70.5 L405.5 69.5 L406.1 68.8 L406.8 67.9 L407.4 67.0 L408.0 66.2 L408.8 65.3 L409.4 64.5 L410.0 63.7 L410.8 62.8 L411.4 62.0 L412.0 61.2 L412.8 60.3 L413.4 59.5 L414.0 58.7 L414.8 57.8 L415.4 57.0 L416.1 56.2 L416.8 55.4 L417.5 54.6 L418.2 53.8 L418.8 53.0 L419.5 52.2 L420.2 51.4 L421.0 50.6 L421.8 49.8 L422.5 49.0 L423.2 48.2 L423.9 47.5 L424.7 46.8 L425.4 46.0 L426.2 45.2 L427.2 45.0 L428.8 45.0 L430.2 45.0 L431.8 45.0 L433.2 44.9 L434.8 44.9 L436.2 44.9 L437.8 44.9 L439.2 44.9 L440.8 44.9 L442.2 44.9 L443.8 44.9 L445.2 44.9 L446.8 44.9 L448.2 44.9 L449.8 44.9 L451.2 44.9 L452.8 44.9 L454.2 44.9 L455.8 44.9 L457.2 44.9 L458.8 44.9 L460.1 45.0 L460.1 46.5 L460.1 48.0 L460.1 49.5 L460.1 51.0 L460.1 52.5 L460.1 54.0 L460.1 55.5 L460.1 57.0 L460.1 58.5 L460.1 60.0 L460.1 61.5 L460.1 63.0 L460.1 64.5 L460.1 66.0 L460.1 67.5 L460.1 69.0 L460.1 70.5 L460.1 72.0 L460.1 73.5 L460.1 75.0 L460.1 76.5 L460.1 78.0 L460.0 79.5 L460.0 81.0 L460.0 82.5 L460.0 84.0 L460.0 85.5 L459.6 86.5 L459.0 87.3 L458.3 88.2 L457.8 89.0 L457.0 90.0 L456.4 90.8 L455.8 91.6 L455.0 92.5 L454.4 93.2 L453.8 94.1 L453.0 95.0 L452.4 95.8 L451.8 96.5 L451.0 97.4 L450.3 98.2 L449.7 99.0 L449.0 99.8 L448.2 100.6 L447.5 101.5 L446.9 102.2 L446.2 103.0 L445.5 103.8 L444.8 104.7 L444.0 105.5 L443.3 106.2 L442.7 107.0 L442.0 107.8 L441.2 108.6 L440.5 109.4 L439.8 110.2 L439.0 111.0 L438.3 111.8 L437.5 112.5 L436.8 113.2 L436.0 114.0 L435.3 114.8 L434.5 115.5 L433.8 116.2 L433.0 116.9 L432.2 117.6 L431.5 118.2 L430.6 119.0 L429.8 119.7 L429.0 120.3 L428.2 121.0 L427.2 121.7 L426.5 122.3 L425.5 123.0 L424.8 123.5 L423.8 124.2 L422.9 124.8 L422.0 125.3 L421.0 125.9 L420.0 126.4 L419.0 127.0 L418.0 127.5 L417.0 128.0 L416.0 128.4 L415.0 128.8 L413.9 129.2 L412.8 129.7 L411.8 130.0 L410.5 130.4 L409.2 130.7 L408.0 131.0 L406.8 131.2 L405.5 131.4ZM404.8 128.5 L403.2 128.5 L402.0 128.5 L400.5 128.3 L399.2 128.1 L398.1 127.8 L397.0 127.4 L396.0 126.9 L395.0 126.4 L394.0 125.8 L393.2 125.2 L392.4 124.5 L391.6 123.8 L391.0 123.0 L390.3 122.0 L389.8 121.2 L389.2 120.2 L388.8 119.2 L388.3 118.0 L387.9 117.0 L387.6 115.8 L387.4 114.5 L387.2 113.2 L387.1 111.8 L387.0 110.2 L387.1 108.8 L387.2 107.2 L387.4 106.0 L387.6 104.8 L387.8 103.5 L388.1 102.2 L388.5 101.0 L388.8 100.0 L389.2 98.8 L389.6 97.8 L390.1 96.8 L390.5 95.8 L391.0 94.7 L391.5 93.7 L392.0 92.8 L392.6 91.8 L393.1 90.8 L393.7 89.8 L394.2 88.9 L394.8 88.0 L395.5 87.0 L396.0 86.2 L396.7 85.2 L397.2 84.5 L397.9 83.5 L398.5 82.7 L399.2 81.8 L399.8 81.0 L400.5 80.0 L401.0 79.2 L401.8 78.3 L402.4 77.5 L403.0 76.7 L403.7 75.8 L404.3 75.0 L405.0 74.0 L405.6 73.2 L406.2 72.4 L406.9 71.5 L407.5 70.8 L408.2 69.8 L408.8 69.0 L409.5 68.1 L410.2 67.2 L410.8 66.5 L411.5 65.6 L412.1 64.8 L412.8 64.0 L413.5 63.0 L414.1 62.2 L414.8 61.4 L415.5 60.5 L416.1 59.8 L416.8 59.0 L417.5 58.1 L418.2 57.2 L418.8 56.5 L419.5 55.7 L420.2 54.8 L421.0 54.0 L421.6 53.2 L422.3 52.5 L423.0 51.7 L423.8 50.9 L424.5 50.1 L425.2 49.4 L426.0 48.6 L426.8 47.9 L427.5 47.1 L428.2 46.4 L429.0 45.7 L429.8 45.0 L431.2 45.0 L432.8 45.0 L434.2 45.0 L435.8 44.9 L437.2 44.9 L438.8 44.9 L440.2 44.9 L441.8 44.9 L443.2 44.9 L444.8 44.9 L446.2 44.9 L447.8 44.9 L449.2 44.9 L450.8 44.9 L452.2 44.9 L453.8 44.9 L455.2 44.9 L456.8 44.9 L458.2 44.9 L459.8 44.9 L460.1 46.0 L460.1 47.5 L460.1 49.0 L460.1 50.5 L460.1 52.0 L460.1 53.5 L460.1 55.0 L460.1 56.5 L460.1 58.0 L460.1 59.5 L460.1 61.0 L460.1 62.5 L460.1 64.0 L460.1 65.5 L460.1 67.0 L460.1 68.5 L460.1 70.0 L460.1 71.5 L460.1 73.0 L460.1 74.5 L460.0 76.0 L460.0 77.5 L460.0 79.0 L460.0 80.5 L460.0 82.0 L459.5 82.8 L458.8 83.8 L458.2 84.5 L457.5 85.5 L457.0 86.2 L456.2 87.2 L455.6 88.0 L455.0 88.8 L454.2 89.7 L453.6 90.5 L453.0 91.2 L452.2 92.2 L451.5 93.0 L450.9 93.8 L450.2 94.5 L449.5 95.4 L448.8 96.2 L448.2 97.0 L447.5 97.8 L446.8 98.6 L446.0 99.5 L445.3 100.2 L444.7 101.0 L444.0 101.8 L443.2 102.6 L442.5 103.5 L441.8 104.2 L441.2 105.0 L440.5 105.8 L439.8 106.6 L439.0 107.4 L438.2 108.2 L437.5 109.0 L436.8 109.8 L436.1 110.5 L435.4 111.2 L434.6 112.0 L433.9 112.8 L433.1 113.5 L432.3 114.2 L431.5 115.0 L430.8 115.7 L430.0 116.4 L429.2 117.1 L428.4 117.8 L427.5 118.5 L426.8 119.1 L425.9 119.8 L425.0 120.4 L424.2 121.0 L423.2 121.6 L422.3 122.2 L421.5 122.8 L420.5 123.4 L419.5 123.9 L418.5 124.5 L417.5 125.0 L416.5 125.4 L415.5 125.9 L414.5 126.3 L413.2 126.7 L412.2 127.1 L411.0 127.5 L409.8 127.8 L408.7 128.0 L407.3 128.2 L406.0 128.4 L404.8 128.5ZM407.8 125.5 L406.2 125.7 L404.8 125.7 L403.2 125.7 L402.0 125.5 L400.7 125.2 L399.5 124.9 L398.4 124.5 L397.3 124.0 L396.4 123.5 L395.5 122.9 L394.7 122.2 L393.9 121.5 L393.2 120.7 L392.5 119.8 L392.0 119.0 L391.4 118.0 L391.0 117.0 L390.5 115.8 L390.2 114.8 L389.9 113.5 L389.7 112.2 L389.5 110.8 L389.5 109.5 L389.5 108.2 L389.6 106.8 L389.8 105.5 L390.0 104.1 L390.2 102.9 L390.6 101.8 L390.9 100.5 L391.3 99.5 L391.8 98.3 L392.2 97.2 L392.6 96.2 L393.1 95.2 L393.6 94.2 L394.2 93.2 L394.7 92.2 L395.2 91.4 L395.8 90.5 L396.4 89.5 L397.0 88.6 L397.6 87.8 L398.2 86.8 L398.8 86.0 L399.5 85.0 L400.1 84.2 L400.8 83.3 L401.4 82.5 L402.0 81.6 L402.7 80.8 L403.2 80.0 L404.0 79.0 L404.6 78.2 L405.2 77.3 L405.9 76.5 L406.5 75.7 L407.2 74.8 L407.8 74.0 L408.5 73.0 L409.1 72.2 L409.8 71.4 L410.4 70.5 L411.0 69.7 L411.8 68.8 L412.3 68.0 L413.0 67.1 L413.7 66.2 L414.3 65.5 L415.0 64.6 L415.6 63.8 L416.2 63.0 L417.0 62.0 L417.6 61.2 L418.2 60.5 L419.0 59.6 L419.7 58.8 L420.3 58.0 L421.0 57.2 L421.8 56.3 L422.4 55.5 L423.1 54.8 L423.8 54.0 L424.5 53.2 L425.2 52.4 L426.0 51.6 L426.8 50.8 L427.5 50.0 L428.2 49.3 L429.0 48.6 L429.8 47.9 L430.5 47.2 L431.3 46.5 L432.1 45.8 L433.0 45.0 L434.2 45.0 L435.8 45.0 L437.2 45.0 L438.8 45.0 L440.2 44.9 L441.8 44.9 L443.2 44.9 L444.8 44.9 L446.2 44.9 L447.8 44.9 L449.2 44.9 L450.8 44.9 L452.2 44.9 L453.8 44.9 L455.2 44.9 L456.8 44.9 L458.2 44.9 L459.8 44.9 L460.1 46.0 L460.1 47.5 L460.1 49.0 L460.1 50.5 L460.1 52.0 L460.1 53.5 L460.1 55.0 L460.1 56.5 L460.1 58.0 L460.1 59.5 L460.1 61.0 L460.1 62.5 L460.1 64.0 L460.1 65.5 L460.1 67.0 L460.1 68.5 L460.1 70.0 L460.1 71.5 L460.0 73.0 L460.0 74.5 L460.0 76.0 L460.0 77.5 L459.8 78.7 L459.2 79.5 L458.5 80.5 L458.0 81.3 L457.3 82.2 L456.7 83.0 L456.0 84.0 L455.4 84.8 L454.8 85.6 L454.0 86.5 L453.4 87.2 L452.8 88.1 L452.0 89.0 L451.4 89.8 L450.7 90.5 L450.0 91.4 L449.3 92.2 L448.6 93.0 L448.0 93.8 L447.2 94.6 L446.5 95.4 L445.8 96.2 L445.1 97.0 L444.5 97.8 L443.8 98.6 L443.0 99.4 L442.3 100.2 L441.6 101.0 L441.0 101.8 L440.2 102.6 L439.5 103.4 L438.8 104.2 L438.1 105.0 L437.4 105.8 L436.7 106.5 L436.0 107.3 L435.2 108.1 L434.5 108.9 L433.8 109.7 L433.0 110.4 L432.2 111.2 L431.5 112.0 L430.8 112.7 L430.0 113.4 L429.2 114.1 L428.5 114.8 L427.7 115.5 L426.8 116.2 L426.0 116.9 L425.2 117.5 L424.2 118.2 L423.5 118.8 L422.5 119.5 L421.7 120.0 L420.8 120.6 L419.8 121.2 L418.8 121.8 L417.8 122.2 L416.8 122.8 L415.8 123.2 L414.8 123.6 L413.8 124.0 L412.5 124.4 L411.5 124.8 L410.2 125.1 L409.0 125.3 L407.8 125.5ZM408.2 123.0 L406.8 123.1 L405.2 123.2 L403.8 123.0 L402.5 122.8 L401.2 122.5 L400.2 122.2 L399.2 121.8 L398.2 121.2 L397.2 120.6 L396.5 120.0 L395.8 119.2 L395.0 118.4 L394.3 117.5 L393.8 116.6 L393.2 115.6 L392.8 114.5 L392.5 113.5 L392.1 112.2 L391.9 111.0 L391.8 109.5 L391.7 108.2 L391.8 107.0 L391.9 105.5 L392.1 104.2 L392.3 103.0 L392.7 101.8 L393.0 100.6 L393.4 99.5 L393.8 98.5 L394.2 97.4 L394.8 96.3 L395.2 95.4 L395.8 94.4 L396.3 93.5 L396.9 92.5 L397.5 91.5 L398.0 90.7 L398.7 89.8 L399.2 88.9 L399.9 88.0 L400.5 87.1 L401.1 86.2 L401.8 85.4 L402.4 84.5 L403.0 83.7 L403.7 82.8 L404.3 82.0 L405.0 81.1 L405.6 80.2 L406.2 79.4 L406.9 78.5 L407.5 77.7 L408.2 76.8 L408.8 76.0 L409.5 75.1 L410.1 74.2 L410.8 73.4 L411.4 72.5 L412.0 71.7 L412.7 70.8 L413.3 70.0 L414.0 69.1 L414.6 68.2 L415.2 67.4 L416.0 66.5 L416.6 65.8 L417.2 64.9 L417.9 64.0 L418.5 63.2 L419.2 62.3 L419.9 61.5 L420.5 60.8 L421.2 59.9 L422.0 59.0 L422.6 58.2 L423.3 57.5 L424.0 56.6 L424.8 55.8 L425.5 55.0 L426.1 54.2 L426.8 53.5 L427.6 52.8 L428.3 52.0 L429.0 51.2 L429.8 50.5 L430.6 49.8 L431.4 49.0 L432.2 48.2 L433.0 47.6 L433.8 47.0 L434.6 46.2 L435.5 45.6 L436.3 45.0 L437.8 45.0 L439.2 45.0 L440.8 45.0 L442.2 45.0 L443.8 44.9 L445.2 44.9 L446.8 44.9 L448.2 44.9 L449.8 44.9 L451.2 44.9 L452.8 44.9 L454.2 44.9 L455.8 44.9 L457.2 44.9 L458.8 45.0 L460.0 45.0 L460.0 46.5 L460.1 48.0 L460.1 49.5 L460.1 51.0 L460.1 52.5 L460.1 54.0 L460.1 55.5 L460.1 57.0 L460.1 58.5 L460.1 60.0 L460.1 61.5 L460.1 63.0 L460.1 64.5 L460.1 66.0 L460.1 67.5 L460.0 69.0 L460.0 70.5 L460.0 72.0 L460.0 73.5 L460.0 74.8 L459.4 75.8 L458.8 76.7 L458.2 77.5 L457.6 78.5 L457.0 79.3 L456.4 80.2 L455.8 81.1 L455.1 82.0 L454.5 82.8 L453.8 83.7 L453.1 84.5 L452.5 85.2 L451.8 86.1 L451.0 87.0 L450.4 87.8 L449.8 88.5 L449.0 89.4 L448.2 90.2 L447.6 91.0 L446.9 91.8 L446.2 92.5 L445.5 93.4 L444.8 94.2 L444.1 95.0 L443.4 95.8 L442.8 96.5 L442.0 97.4 L441.2 98.2 L440.5 99.0 L439.9 99.8 L439.2 100.5 L438.5 101.3 L437.8 102.1 L437.0 103.0 L436.3 103.8 L435.6 104.5 L435.0 105.2 L434.2 106.0 L433.5 106.8 L432.8 107.7 L432.0 108.4 L431.2 109.2 L430.5 110.0 L429.8 110.7 L429.0 111.5 L428.2 112.2 L427.5 112.9 L426.8 113.6 L426.0 114.2 L425.1 115.0 L424.2 115.7 L423.5 116.2 L422.5 117.0 L421.8 117.5 L420.8 118.2 L419.8 118.8 L419.0 119.2 L418.0 119.8 L417.0 120.3 L416.0 120.8 L414.9 121.2 L413.8 121.7 L412.8 122.0 L411.5 122.4 L410.2 122.7 L409.0 122.9ZM408.8 120.8 L407.2 120.9 L405.8 120.8 L404.5 120.7 L403.2 120.5 L402.0 120.1 L401.0 119.8 L400.0 119.2 L399.0 118.6 L398.2 118.0 L397.4 117.2 L396.7 116.5 L396.0 115.5 L395.5 114.7 L395.0 113.7 L394.5 112.5 L394.2 111.5 L394.0 110.2 L393.8 108.8 L393.8 107.2 L393.8 105.8 L394.0 104.5 L394.2 103.2 L394.5 102.0 L394.9 100.8 L395.3 99.8 L395.8 98.5 L396.2 97.5 L396.7 96.5 L397.2 95.5 L397.8 94.6 L398.3 93.8 L398.9 92.8 L399.5 91.8 L400.1 91.0 L400.8 90.0 L401.3 89.2 L402.0 88.3 L402.6 87.5 L403.2 86.6 L403.9 85.8 L404.5 85.0 L405.2 84.0 L405.8 83.2 L406.5 82.3 L407.1 81.5 L407.8 80.6 L408.4 79.8 L409.0 78.9 L409.7 78.0 L410.2 77.2 L411.0 76.2 L411.5 75.5 L412.2 74.5 L412.8 73.8 L413.5 72.8 L414.1 72.0 L414.8 71.1 L415.4 70.2 L416.0 69.5 L416.7 68.5 L417.3 67.8 L418.0 66.8 L418.7 66.0 L419.2 65.2 L420.0 64.3 L420.6 63.5 L421.2 62.7 L422.0 61.8 L422.7 61.0 L423.3 60.2 L424.0 59.4 L424.8 58.5 L425.4 57.8 L426.1 57.0 L426.8 56.2 L427.5 55.4 L428.2 54.6 L429.0 53.8 L429.8 53.1 L430.5 52.3 L431.2 51.6 L432.0 50.9 L432.8 50.2 L433.6 49.5 L434.5 48.8 L435.2 48.1 L436.0 47.5 L437.0 46.8 L437.8 46.2 L438.8 45.6 L439.7 45.0 L441.0 45.0 L442.5 45.0 L444.0 45.0 L445.5 45.0 L447.0 45.0 L448.5 45.0 L450.0 45.0 L451.5 45.0 L453.0 45.0 L454.5 45.0 L456.0 45.0 L457.5 45.0 L459.0 45.0 L460.0 45.2 L460.0 46.8 L460.0 48.2 L460.0 49.8 L460.0 51.2 L460.0 52.8 L460.1 54.2 L460.1 55.8 L460.1 57.2 L460.1 58.8 L460.1 60.2 L460.1 61.8 L460.0 63.2 L460.0 64.8 L460.0 66.2 L460.0 67.8 L460.0 69.2 L460.0 70.8 L459.7 71.8 L459.1 72.8 L458.5 73.8 L458.0 74.7 L457.5 75.5 L456.8 76.5 L456.2 77.3 L455.6 78.2 L455.0 79.1 L454.3 80.0 L453.7 80.8 L453.0 81.7 L452.3 82.5 L451.7 83.2 L451.0 84.1 L450.2 85.0 L449.6 85.8 L449.0 86.5 L448.2 87.3 L447.5 88.2 L446.8 89.0 L446.1 89.8 L445.5 90.5 L444.8 91.3 L444.0 92.1 L443.2 93.0 L442.6 93.8 L441.9 94.5 L441.2 95.2 L440.5 96.1 L439.8 96.9 L439.0 97.7 L438.3 98.5 L437.7 99.2 L437.0 100.0 L436.2 100.8 L435.5 101.7 L434.8 102.5 L434.1 103.2 L433.4 104.0 L432.7 104.8 L432.0 105.5 L431.2 106.3 L430.5 107.1 L429.8 107.9 L429.0 108.7 L428.2 109.5 L427.5 110.2 L426.8 110.9 L426.0 111.7 L425.2 112.3 L424.5 113.0 L423.6 113.8 L422.8 114.4 L422.0 115.0 L421.0 115.7 L420.2 116.2 L419.2 116.9 L418.2 117.5 L417.3 118.0 L416.3 118.5 L415.2 119.0 L414.2 119.4 L413.2 119.8 L412.0 120.1 L410.8 120.4 L409.5 120.7ZM408.5 118.8 L407.0 118.8 L405.8 118.7 L404.4 118.5 L403.2 118.2 L402.1 117.8 L401.1 117.2 L400.2 116.7 L399.4 116.0 L398.6 115.2 L398.0 114.5 L397.3 113.5 L396.8 112.5 L396.4 111.5 L396.0 110.2 L395.8 109.0 L395.6 107.8 L395.6 106.2 L395.8 104.8 L396.0 103.5 L396.2 102.3 L396.5 101.2 L397.0 100.0 L397.4 99.0 L397.8 98.0 L398.3 97.0 L398.9 96.0 L399.5 95.0 L400.0 94.2 L400.6 93.2 L401.2 92.3 L401.9 91.5 L402.5 90.6 L403.2 89.8 L403.8 89.0 L404.5 88.0 L405.0 87.2 L405.8 86.3 L406.4 85.5 L407.0 84.7 L407.7 83.8 L408.2 83.0 L409.0 82.0 L409.5 81.2 L410.2 80.2 L410.8 79.5 L411.5 78.5 L412.0 77.8 L412.7 76.8 L413.3 76.0 L414.0 75.0 L414.5 74.2 L415.2 73.3 L415.8 72.5 L416.5 71.6 L417.1 70.8 L417.8 69.9 L418.5 69.0 L419.0 68.2 L419.8 67.3 L420.4 66.5 L421.0 65.7 L421.8 64.8 L422.4 64.0 L423.0 63.2 L423.8 62.3 L424.4 61.5 L425.1 60.8 L425.8 59.9 L426.5 59.1 L427.2 58.2 L427.9 57.5 L428.6 56.8 L429.3 56.0 L430.0 55.2 L430.8 54.4 L431.5 53.7 L432.2 53.0 L433.0 52.2 L433.8 51.5 L434.7 50.8 L435.5 50.1 L436.3 49.5 L437.2 48.8 L438.0 48.2 L439.0 47.5 L439.9 47.0 L440.8 46.5 L441.8 46.0 L442.8 45.5 L443.9 45.0 L445.2 45.0 L446.8 45.0 L448.2 45.0 L449.8 45.0 L451.2 45.0 L452.8 45.0 L454.2 45.0 L455.8 45.0 L456.9 45.2 L457.8 45.9 L458.5 46.6 L459.2 47.4 L459.8 48.2 L460.0 49.5 L460.0 51.0 L460.0 52.5 L460.0 54.0 L460.0 55.5 L460.0 57.0 L460.0 58.5 L460.0 60.0 L460.0 61.5 L460.0 63.0 L460.0 64.5 L460.0 66.0 L460.0 67.2 L459.5 68.4 L459.0 69.5 L458.5 70.5 L458.0 71.5 L457.5 72.4 L457.0 73.2 L456.4 74.2 L455.8 75.2 L455.2 76.0 L454.5 77.0 L453.9 77.8 L453.2 78.6 L452.6 79.5 L452.0 80.2 L451.2 81.1 L450.5 82.0 L449.9 82.8 L449.2 83.5 L448.5 84.3 L447.8 85.2 L447.0 86.0 L446.4 86.8 L445.7 87.5 L445.0 88.3 L444.2 89.1 L443.5 90.0 L442.8 90.8 L442.1 91.5 L441.5 92.2 L440.8 93.0 L440.0 93.9 L439.2 94.7 L438.5 95.5 L437.9 96.2 L437.2 97.0 L436.5 97.8 L435.8 98.6 L435.0 99.4 L434.3 100.2 L433.6 101.0 L432.9 101.8 L432.2 102.5 L431.5 103.3 L430.8 104.1 L430.0 104.9 L429.3 105.8 L428.6 106.5 L427.8 107.2 L427.1 108.0 L426.4 108.8 L425.6 109.5 L424.8 110.2 L424.0 111.0 L423.2 111.7 L422.5 112.3 L421.7 113.0 L420.8 113.7 L420.0 114.3 L419.0 114.9 L418.1 115.5 L417.2 116.0 L416.2 116.5 L415.2 117.0 L414.0 117.5 L413.0 117.8 L411.8 118.2 L410.5 118.5 L409.2 118.7ZM410.0 116.8 L408.5 116.9 L407.0 116.9 L405.6 116.8 L404.5 116.5 L403.2 116.1 L402.2 115.6 L401.4 115.0 L400.5 114.3 L399.8 113.5 L399.2 112.8 L398.6 111.8 L398.1 110.8 L397.8 109.6 L397.5 108.5 L397.3 107.0 L397.3 105.5 L397.5 104.1 L397.8 102.8 L398.0 101.8 L398.5 100.5 L398.9 99.5 L399.3 98.5 L399.9 97.5 L400.4 96.5 L401.0 95.6 L401.6 94.8 L402.2 93.8 L402.8 93.0 L403.5 92.1 L404.1 91.2 L404.8 90.5 L405.5 89.5 L406.1 88.8 L406.8 87.9 L407.4 87.0 L408.0 86.2 L408.7 85.2 L409.3 84.5 L410.0 83.5 L410.5 82.8 L411.2 81.8 L411.8 81.0 L412.4 80.0 L413.0 79.2 L413.6 78.2 L414.2 77.4 L414.9 76.5 L415.5 75.6 L416.1 74.8 L416.8 73.9 L417.4 73.0 L418.0 72.2 L418.7 71.2 L419.3 70.5 L420.0 69.5 L420.6 68.8 L421.2 67.9 L422.0 67.0 L422.6 66.2 L423.2 65.4 L424.0 64.5 L424.6 63.8 L425.2 62.9 L426.0 62.1 L426.7 61.2 L427.3 60.5 L428.0 59.7 L428.8 58.9 L429.5 58.1 L430.2 57.2 L430.9 56.5 L431.7 55.8 L432.4 55.0 L433.2 54.2 L434.0 53.5 L434.8 52.8 L435.5 52.2 L436.3 51.5 L437.2 50.8 L438.0 50.2 L439.0 49.5 L439.8 49.0 L440.8 48.4 L441.8 47.9 L442.8 47.4 L443.8 47.0 L445.0 46.5 L446.0 46.2 L447.2 45.9 L448.5 45.7 L450.0 45.6 L451.5 45.7 L452.8 46.0 L453.8 46.3 L454.8 46.8 L455.8 47.3 L456.6 48.0 L457.4 48.8 L458.0 49.5 L458.6 50.5 L459.1 51.5 L459.5 52.5 L459.9 53.8 L460.0 55.0 L460.0 56.5 L460.0 58.0 L460.0 59.5 L460.0 61.0 L459.9 62.2 L459.6 63.5 L459.3 64.8 L459.0 65.8 L458.5 67.0 L458.1 68.0 L457.6 69.0 L457.1 70.0 L456.6 71.0 L456.0 72.0 L455.5 72.9 L454.9 73.8 L454.2 74.7 L453.7 75.5 L453.0 76.4 L452.4 77.2 L451.8 78.0 L451.0 78.9 L450.3 79.8 L449.7 80.5 L449.0 81.3 L448.2 82.1 L447.5 83.0 L446.8 83.8 L446.2 84.5 L445.5 85.2 L444.8 86.1 L444.0 86.9 L443.3 87.8 L442.6 88.5 L441.9 89.2 L441.2 90.0 L440.5 90.8 L439.8 91.6 L439.0 92.5 L438.3 93.2 L437.6 94.0 L436.9 94.8 L436.2 95.5 L435.5 96.3 L434.8 97.1 L434.0 97.9 L433.3 98.8 L432.6 99.5 L431.9 100.2 L431.2 101.0 L430.5 101.8 L429.8 102.6 L429.0 103.4 L428.2 104.2 L427.5 105.0 L426.8 105.8 L426.1 106.5 L425.4 107.2 L424.7 108.0 L423.9 108.8 L423.2 109.5 L422.3 110.2 L421.5 111.0 L420.8 111.6 L419.9 112.2 L419.0 112.9 L418.2 113.5 L417.2 114.1 L416.2 114.6 L415.2 115.1 L414.2 115.6 L413.2 116.0 L412.0 116.4 L410.8 116.7ZM409.0 115.3 L407.5 115.3 L406.2 115.1 L405.0 114.8 L404.0 114.4 L403.0 113.9 L402.1 113.2 L401.3 112.5 L400.7 111.8 L400.0 110.8 L399.6 109.8 L399.2 108.8 L399.0 107.5 L398.9 106.0 L398.9 104.5 L399.1 103.2 L399.5 102.0 L399.8 101.0 L400.2 99.9 L400.8 98.9 L401.2 98.0 L401.8 97.0 L402.5 96.0 L403.0 95.2 L403.8 94.3 L404.4 93.5 L405.0 92.7 L405.8 91.8 L406.4 91.0 L407.0 90.2 L407.8 89.3 L408.4 88.5 L409.0 87.7 L409.7 86.8 L410.2 85.9 L410.9 85.0 L411.5 84.1 L412.1 83.2 L412.8 82.3 L413.3 81.5 L413.9 80.5 L414.5 79.6 L415.1 78.8 L415.8 77.8 L416.3 77.0 L417.0 76.0 L417.5 75.2 L418.2 74.3 L418.8 73.5 L419.5 72.5 L420.1 71.8 L420.8 70.9 L421.4 70.0 L422.0 69.2 L422.8 68.3 L423.4 67.5 L424.0 66.7 L424.8 65.8 L425.4 65.0 L426.1 64.2 L426.8 63.4 L427.5 62.5 L428.2 61.8 L428.8 61.0 L429.5 60.2 L430.2 59.4 L431.0 58.6 L431.8 57.8 L432.5 57.0 L433.2 56.3 L434.0 55.5 L434.8 54.8 L435.5 54.1 L436.2 53.5 L437.1 52.8 L438.0 52.1 L438.8 51.5 L439.8 50.8 L440.7 50.2 L441.5 49.8 L442.5 49.2 L443.6 48.8 L444.8 48.3 L445.9 48.0 L447.0 47.8 L448.5 47.6 L450.0 47.6 L451.4 47.8 L452.5 48.0 L453.6 48.5 L454.5 49.0 L455.4 49.8 L456.2 50.5 L456.8 51.2 L457.4 52.2 L457.9 53.2 L458.2 54.3 L458.5 55.5 L458.8 56.9 L458.8 58.2 L458.8 59.8 L458.7 61.0 L458.5 62.2 L458.2 63.5 L457.9 64.8 L457.5 65.8 L457.1 67.0 L456.6 68.0 L456.1 69.0 L455.6 70.0 L455.0 71.0 L454.5 71.9 L453.9 72.8 L453.2 73.7 L452.7 74.5 L452.0 75.4 L451.3 76.2 L450.7 77.0 L450.0 77.8 L449.2 78.7 L448.6 79.5 L447.9 80.2 L447.2 81.0 L446.5 81.8 L445.8 82.6 L445.0 83.5 L444.3 84.2 L443.6 85.0 L443.0 85.8 L442.2 86.6 L441.5 87.4 L440.8 88.2 L440.1 89.0 L439.4 89.8 L438.7 90.5 L438.0 91.3 L437.2 92.1 L436.5 92.9 L435.8 93.7 L435.0 94.5 L434.3 95.2 L433.6 96.0 L432.9 96.8 L432.2 97.5 L431.5 98.2 L430.8 99.0 L430.0 99.8 L429.2 100.6 L428.5 101.4 L427.8 102.2 L427.1 103.0 L426.4 103.8 L425.7 104.5 L425.0 105.3 L424.2 106.1 L423.5 106.9 L422.8 107.6 L422.0 108.4 L421.2 109.1 L420.5 109.8 L419.7 110.5 L418.8 111.2 L418.0 111.8 L417.0 112.5 L416.1 113.0 L415.2 113.5 L414.1 114.0 L413.0 114.4 L412.0 114.8 L410.8 115.0 L409.2 115.2ZM409.2 113.8 L407.8 113.8 L406.5 113.6 L405.4 113.2 L404.2 112.8 L403.4 112.2 L402.6 111.5 L401.9 110.8 L401.3 109.8 L400.8 108.8 L400.5 107.7 L400.3 106.2 L400.3 104.8 L400.5 103.4 L400.8 102.2 L401.2 101.0 L401.7 100.0 L402.2 99.0 L402.8 98.1 L403.3 97.2 L404.0 96.3 L404.6 95.5 L405.3 94.8 L406.0 93.9 L406.8 93.0 L407.4 92.2 L408.0 91.5 L408.8 90.6 L409.4 89.8 L410.0 89.0 L410.7 88.0 L411.3 87.2 L411.9 86.2 L412.5 85.4 L413.1 84.5 L413.7 83.5 L414.2 82.6 L414.8 81.8 L415.4 80.8 L416.0 79.9 L416.6 79.0 L417.2 78.0 L417.8 77.2 L418.5 76.2 L419.0 75.5 L419.7 74.5 L420.2 73.7 L421.0 72.8 L421.5 72.0 L422.2 71.1 L422.9 70.2 L423.5 69.5 L424.2 68.5 L424.9 67.8 L425.5 67.0 L426.2 66.1 L427.0 65.2 L427.6 64.5 L428.3 63.8 L429.0 62.9 L429.8 62.1 L430.5 61.2 L431.2 60.5 L431.8 59.8 L432.5 59.0 L433.2 58.2 L434.0 57.5 L434.8 56.7 L435.5 56.0 L436.3 55.2 L437.2 54.5 L438.0 53.8 L438.8 53.2 L439.8 52.5 L440.5 52.0 L441.5 51.4 L442.5 50.9 L443.5 50.4 L444.6 50.0 L445.8 49.7 L447.0 49.4 L448.5 49.3 L450.0 49.3 L451.2 49.6 L452.4 50.0 L453.3 50.5 L454.2 51.2 L455.0 51.9 L455.7 52.8 L456.2 53.8 L456.7 54.8 L457.0 55.8 L457.3 57.0 L457.4 58.5 L457.4 60.0 L457.3 61.5 L457.1 62.8 L456.8 64.0 L456.5 65.0 L456.0 66.2 L455.6 67.2 L455.2 68.2 L454.6 69.2 L454.1 70.2 L453.5 71.1 L452.9 72.0 L452.2 72.9 L451.6 73.8 L451.0 74.5 L450.2 75.4 L449.6 76.2 L448.9 77.0 L448.2 77.8 L447.5 78.6 L446.8 79.4 L446.0 80.2 L445.3 81.0 L444.6 81.8 L443.9 82.5 L443.2 83.3 L442.5 84.1 L441.8 85.0 L441.1 85.8 L440.4 86.5 L439.7 87.2 L439.0 88.1 L438.2 88.9 L437.5 89.7 L436.8 90.5 L436.1 91.2 L435.4 92.0 L434.7 92.8 L434.0 93.5 L433.2 94.2 L432.5 95.0 L431.8 95.8 L431.0 96.6 L430.2 97.3 L429.5 98.1 L428.8 98.8 L428.0 99.6 L427.2 100.4 L426.5 101.2 L425.8 102.0 L425.1 102.8 L424.4 103.5 L423.7 104.2 L423.0 105.1 L422.2 105.9 L421.5 106.7 L420.8 107.5 L420.0 108.2 L419.2 108.9 L418.5 109.6 L417.7 110.2 L416.8 110.9 L415.9 111.5 L415.0 112.0 L414.0 112.5 L412.8 113.0 L411.8 113.3 L410.5 113.6 L409.2 113.8ZM410.5 112.3 L409.0 112.4 L407.5 112.3 L406.2 112.1 L405.2 111.7 L404.2 111.0 L403.5 110.4 L402.8 109.5 L402.2 108.6 L401.8 107.5 L401.6 106.2 L401.6 104.8 L401.8 103.5 L402.1 102.2 L402.5 101.1 L403.0 100.1 L403.5 99.2 L404.2 98.2 L404.8 97.5 L405.5 96.6 L406.2 95.8 L406.9 95.0 L407.6 94.2 L408.3 93.5 L409.0 92.8 L409.8 91.9 L410.5 91.0 L411.1 90.2 L411.8 89.3 L412.3 88.5 L412.9 87.5 L413.5 86.6 L414.0 85.7 L414.6 84.8 L415.2 83.8 L415.8 82.8 L416.2 81.9 L416.8 81.0 L417.5 80.0 L418.0 79.1 L418.6 78.2 L419.2 77.3 L419.8 76.5 L420.5 75.5 L421.0 74.8 L421.7 73.8 L422.3 73.0 L423.0 72.1 L423.7 71.2 L424.3 70.5 L425.0 69.6 L425.7 68.8 L426.3 68.0 L427.0 67.2 L427.8 66.3 L428.5 65.5 L429.1 64.8 L429.8 64.0 L430.5 63.2 L431.2 62.4 L432.0 61.5 L432.7 60.8 L433.4 60.0 L434.1 59.2 L434.8 58.5 L435.6 57.8 L436.4 57.0 L437.2 56.2 L438.0 55.5 L438.8 54.9 L439.6 54.2 L440.5 53.6 L441.4 53.0 L442.3 52.5 L443.3 52.0 L444.5 51.5 L445.5 51.2 L446.8 50.9 L448.2 50.8 L449.8 50.9 L451.0 51.2 L452.0 51.7 L452.9 52.2 L453.8 53.0 L454.4 53.8 L455.0 54.7 L455.5 55.8 L455.8 56.8 L456.1 58.0 L456.2 59.5 L456.1 61.0 L456.0 62.2 L455.7 63.5 L455.4 64.8 L455.0 65.8 L454.5 67.0 L454.0 68.0 L453.5 69.0 L453.0 69.8 L452.4 70.8 L451.8 71.6 L451.1 72.5 L450.5 73.2 L449.8 74.1 L449.0 74.9 L448.3 75.8 L447.6 76.5 L446.9 77.2 L446.2 78.0 L445.5 78.8 L444.8 79.6 L444.0 80.4 L443.2 81.2 L442.6 82.0 L441.9 82.8 L441.2 83.5 L440.5 84.4 L439.8 85.2 L439.1 86.0 L438.4 86.8 L437.8 87.5 L437.0 88.3 L436.2 89.2 L435.5 90.0 L434.8 90.8 L434.0 91.5 L433.3 92.2 L432.6 93.0 L431.8 93.8 L431.1 94.5 L430.3 95.2 L429.5 96.0 L428.8 96.7 L428.0 97.4 L427.2 98.2 L426.5 98.9 L425.8 99.7 L425.0 100.4 L424.2 101.2 L423.5 102.0 L422.9 102.8 L422.2 103.5 L421.5 104.4 L420.8 105.2 L420.1 106.0 L419.5 106.8 L418.7 107.5 L418.0 108.2 L417.1 109.0 L416.2 109.7 L415.4 110.2 L414.5 110.8 L413.5 111.3 L412.5 111.8 L411.2 112.1ZM410.8 111.0 L409.2 111.2 L407.8 111.1 L406.5 110.8 L405.5 110.3 L404.7 109.8 L404.0 109.0 L403.4 108.0 L403.0 107.0 L402.8 105.5 L402.8 104.5 L403.0 103.1 L403.4 102.0 L403.8 101.0 L404.4 100.0 L405.0 99.1 L405.7 98.2 L406.3 97.5 L407.1 96.8 L407.9 96.0 L408.7 95.2 L409.5 94.5 L410.2 93.8 L411.0 93.0 L411.6 92.2 L412.2 91.4 L412.9 90.5 L413.5 89.5 L414.0 88.7 L414.5 87.8 L415.0 86.8 L415.6 85.8 L416.1 84.8 L416.7 83.8 L417.2 82.8 L417.8 81.8 L418.2 81.0 L418.8 80.0 L419.5 79.0 L420.0 78.2 L420.6 77.2 L421.2 76.3 L421.8 75.5 L422.5 74.6 L423.1 73.8 L423.8 73.0 L424.5 72.0 L425.1 71.2 L425.8 70.5 L426.5 69.6 L427.2 68.8 L427.9 68.0 L428.5 67.2 L429.2 66.5 L430.0 65.6 L430.8 64.8 L431.5 64.0 L432.2 63.2 L432.8 62.5 L433.5 61.8 L434.2 61.0 L435.0 60.2 L435.8 59.4 L436.5 58.6 L437.2 57.8 L438.0 57.1 L438.8 56.5 L439.6 55.8 L440.5 55.1 L441.3 54.5 L442.2 53.9 L443.2 53.4 L444.2 53.0 L445.5 52.6 L446.8 52.3 L448.0 52.2 L449.2 52.3 L450.5 52.6 L451.5 53.1 L452.4 53.8 L453.2 54.5 L453.8 55.3 L454.3 56.2 L454.7 57.5 L455.0 58.8 L455.1 60.0 L455.0 61.5 L454.8 62.8 L454.5 64.0 L454.2 65.0 L453.8 66.2 L453.3 67.2 L452.8 68.2 L452.2 69.0 L451.6 70.0 L451.0 70.8 L450.2 71.7 L449.6 72.5 L448.9 73.2 L448.2 74.0 L447.5 74.8 L446.8 75.5 L446.0 76.3 L445.2 77.1 L444.5 77.9 L443.8 78.7 L443.0 79.5 L442.4 80.2 L441.7 81.0 L441.0 81.9 L440.3 82.8 L439.6 83.5 L439.0 84.2 L438.2 85.1 L437.5 86.0 L436.8 86.8 L436.1 87.5 L435.5 88.2 L434.8 89.0 L434.0 89.8 L433.2 90.6 L432.5 91.3 L431.8 92.0 L431.0 92.8 L430.2 93.5 L429.4 94.2 L428.6 95.0 L427.8 95.7 L427.0 96.4 L426.2 97.0 L425.5 97.8 L424.6 98.5 L423.9 99.2 L423.1 100.0 L422.4 100.8 L421.8 101.5 L421.0 102.5 L420.4 103.2 L419.8 104.1 L419.1 105.0 L418.5 105.8 L417.8 106.6 L417.0 107.4 L416.2 108.1 L415.5 108.8 L414.5 109.4 L413.5 110.0 L412.5 110.5 L411.5 110.8ZM410.0 110.0 L408.5 110.0 L407.2 109.8 L406.2 109.3 L405.4 108.8 L404.8 108.0 L404.2 107.0 L403.9 105.8 L403.9 104.2 L404.1 103.0 L404.5 102.0 L405.0 101.0 L405.7 100.0 L406.3 99.2 L407.0 98.5 L407.8 97.8 L408.7 97.0 L409.5 96.4 L410.4 95.8 L411.2 95.1 L412.0 94.5 L412.8 93.7 L413.5 92.8 L414.0 92.0 L414.6 91.0 L415.1 90.0 L415.6 89.0 L416.0 88.0 L416.5 86.9 L417.0 85.9 L417.5 84.8 L418.0 83.8 L418.5 82.9 L419.0 81.9 L419.5 81.0 L420.1 80.0 L420.7 79.0 L421.2 78.2 L421.9 77.2 L422.5 76.4 L423.1 75.5 L423.8 74.7 L424.5 73.8 L425.0 73.0 L425.8 72.1 L426.5 71.2 L427.1 70.5 L427.8 69.8 L428.5 69.0 L429.2 68.2 L430.0 67.4 L430.8 66.6 L431.5 65.8 L432.2 65.0 L432.9 64.2 L433.6 63.5 L434.3 62.8 L435.0 62.0 L435.8 61.1 L436.5 60.3 L437.2 59.5 L438.0 58.8 L438.8 58.0 L439.5 57.3 L440.2 56.7 L441.1 56.0 L442.0 55.4 L443.0 54.8 L444.0 54.3 L445.0 53.9 L446.2 53.6 L447.5 53.5 L448.8 53.5 L450.0 53.8 L451.0 54.3 L451.9 55.0 L452.6 55.8 L453.2 56.8 L453.6 57.8 L453.9 59.0 L454.0 60.2 L454.0 61.7 L453.8 63.0 L453.5 64.2 L453.1 65.2 L452.7 66.2 L452.2 67.2 L451.6 68.2 L451.0 69.2 L450.4 70.0 L449.7 70.8 L449.0 71.6 L448.2 72.4 L447.5 73.1 L446.8 73.8 L446.0 74.6 L445.2 75.3 L444.5 76.1 L443.8 76.8 L443.0 77.7 L442.3 78.5 L441.6 79.2 L441.0 80.0 L440.2 80.9 L439.6 81.8 L439.0 82.5 L438.2 83.4 L437.5 84.2 L436.9 85.0 L436.2 85.8 L435.5 86.6 L434.8 87.4 L434.0 88.2 L433.2 89.0 L432.5 89.7 L431.8 90.4 L431.0 91.1 L430.2 91.8 L429.5 92.5 L428.6 93.2 L427.8 93.9 L427.0 94.5 L426.1 95.2 L425.2 95.9 L424.5 96.5 L423.5 97.2 L422.8 97.9 L422.0 98.6 L421.2 99.3 L420.5 100.2 L419.9 101.0 L419.3 102.0 L418.8 102.9 L418.2 103.8 L417.5 104.8 L417.0 105.5 L416.2 106.4 L415.5 107.2 L414.8 107.9 L413.9 108.5 L413.0 109.0 L412.0 109.5 L410.8 109.9ZM409.5 109.0 L408.2 108.9 L407.1 108.5 L406.2 107.9 L405.5 107.0 L405.1 106.0 L404.9 104.8 L405.1 103.5 L405.5 102.2 L406.0 101.3 L406.6 100.5 L407.3 99.8 L408.1 99.0 L409.0 98.3 L410.0 97.8 L410.9 97.2 L411.9 96.8 L413.0 96.2 L413.8 95.8 L414.8 95.0 L415.4 94.2 L415.9 93.2 L416.2 92.2 L416.6 91.0 L417.0 89.8 L417.3 88.8 L417.7 87.5 L418.1 86.5 L418.5 85.5 L419.0 84.4 L419.5 83.3 L420.0 82.4 L420.5 81.4 L421.0 80.5 L421.6 79.5 L422.2 78.5 L422.8 77.7 L423.4 76.8 L424.0 76.0 L424.7 75.0 L425.3 74.2 L426.0 73.4 L426.7 72.5 L427.4 71.8 L428.1 71.0 L428.8 70.2 L429.5 69.5 L430.2 68.7 L431.0 67.9 L431.8 67.2 L432.5 66.4 L433.2 65.7 L434.0 64.9 L434.8 64.1 L435.5 63.2 L436.1 62.5 L436.8 61.8 L437.5 60.9 L438.2 60.1 L439.0 59.3 L439.8 58.5 L440.5 57.8 L441.2 57.2 L442.2 56.5 L443.0 56.0 L444.0 55.4 L445.1 55.0 L446.2 54.7 L447.8 54.6 L449.0 54.8 L450.2 55.2 L451.0 55.8 L451.8 56.5 L452.4 57.5 L452.8 58.5 L453.1 59.8 L453.1 61.2 L453.0 62.6 L452.7 63.8 L452.3 65.0 L451.9 66.0 L451.4 67.0 L450.8 68.0 L450.2 68.8 L449.5 69.6 L448.8 70.4 L448.0 71.2 L447.2 71.9 L446.5 72.5 L445.7 73.2 L444.8 74.0 L444.0 74.8 L443.3 75.5 L442.6 76.2 L441.9 77.0 L441.2 77.8 L440.5 78.8 L439.9 79.5 L439.2 80.4 L438.6 81.2 L438.0 82.0 L437.2 82.9 L436.6 83.8 L435.9 84.5 L435.2 85.3 L434.5 86.1 L433.8 86.9 L433.0 87.7 L432.2 88.5 L431.5 89.2 L430.8 89.9 L430.0 90.5 L429.2 91.2 L428.2 92.0 L427.5 92.5 L426.5 93.2 L425.8 93.8 L424.8 94.4 L423.8 95.0 L422.9 95.5 L422.0 96.0 L421.0 96.6 L420.1 97.2 L419.2 98.0 L418.7 98.8 L418.2 99.8 L417.8 100.8 L417.3 102.0 L416.9 103.0 L416.4 104.0 L415.8 105.0 L415.2 105.8 L414.5 106.7 L413.8 107.3 L412.8 108.0 L411.8 108.5 L410.8 108.8 L409.5 109.0ZM422.2 93.5 L420.8 93.7 L419.6 93.2 L419.0 92.3 L418.8 91.0 L418.8 89.5 L419.0 88.2 L419.3 87.0 L419.7 85.8 L420.1 84.8 L420.5 83.8 L421.0 82.7 L421.5 81.7 L422.0 80.7 L422.6 79.8 L423.2 78.8 L423.8 77.9 L424.4 77.0 L425.0 76.2 L425.7 75.2 L426.3 74.5 L427.0 73.7 L427.8 72.8 L428.5 72.0 L429.2 71.2 L429.9 70.5 L430.7 69.8 L431.5 69.0 L432.2 68.3 L433.0 67.6 L433.8 66.9 L434.5 66.1 L435.2 65.4 L436.0 64.5 L436.7 63.8 L437.3 63.0 L438.0 62.1 L438.7 61.2 L439.3 60.5 L440.0 59.7 L440.8 58.9 L441.5 58.2 L442.4 57.5 L443.2 56.9 L444.2 56.3 L445.2 55.9 L446.5 55.6 L448.0 55.6 L449.2 55.9 L450.2 56.5 L451.0 57.2 L451.6 58.0 L452.0 59.1 L452.3 60.2 L452.3 61.8 L452.1 63.0 L451.8 64.2 L451.4 65.2 L450.9 66.2 L450.3 67.2 L449.7 68.0 L449.0 68.9 L448.2 69.7 L447.5 70.3 L446.7 71.0 L445.8 71.8 L445.0 72.3 L444.1 73.0 L443.3 73.8 L442.5 74.5 L441.8 75.2 L441.2 76.0 L440.5 76.9 L439.8 77.8 L439.2 78.6 L438.6 79.5 L438.0 80.3 L437.3 81.2 L436.7 82.0 L436.0 82.9 L435.3 83.8 L434.7 84.5 L434.0 85.3 L433.2 86.1 L432.5 86.8 L431.8 87.6 L431.0 88.3 L430.2 89.0 L429.3 89.8 L428.5 90.3 L427.6 91.0 L426.8 91.5 L425.8 92.1 L424.8 92.7 L423.8 93.1 L422.5 93.5ZM410.8 107.8 L409.2 108.0 L408.0 107.7 L407.0 107.1 L406.3 106.2 L406.0 105.2 L406.0 103.9 L406.3 102.8 L406.9 101.8 L407.5 101.0 L408.3 100.2 L409.2 99.6 L410.2 99.1 L411.2 98.7 L412.8 98.5 L414.2 98.8 L415.0 99.3 L415.5 100.4 L415.6 101.8 L415.4 103.0 L415.0 104.0 L414.5 105.0 L413.8 105.9 L413.0 106.6 L412.1 107.2 L411.0 107.7ZM423.2 91.3 L422.0 91.1 L421.2 90.5 L420.8 89.3 L420.7 88.0 L420.8 86.8 L421.1 85.5 L421.5 84.2 L421.9 83.2 L422.3 82.2 L422.8 81.2 L423.3 80.2 L423.9 79.2 L424.5 78.4 L425.1 77.5 L425.8 76.6 L426.4 75.8 L427.0 75.0 L427.8 74.2 L428.5 73.4 L429.2 72.6 L430.0 71.8 L430.8 71.1 L431.5 70.5 L432.3 69.8 L433.2 69.0 L434.0 68.3 L434.8 67.7 L435.5 67.0 L436.3 66.2 L437.0 65.4 L437.7 64.5 L438.2 63.7 L438.9 62.8 L439.5 61.8 L440.1 61.0 L440.8 60.2 L441.5 59.4 L442.2 58.7 L443.1 58.0 L444.0 57.4 L445.0 56.9 L446.2 56.6 L447.4 56.5 L448.7 56.8 L449.7 57.2 L450.5 58.0 L451.0 58.8 L451.4 60.0 L451.6 61.2 L451.5 62.5 L451.2 63.8 L450.8 65.0 L450.2 66.0 L449.8 66.8 L449.0 67.7 L448.3 68.5 L447.5 69.2 L446.8 69.8 L445.8 70.5 L444.9 71.0 L444.0 71.6 L443.0 72.2 L442.2 72.9 L441.5 73.6 L440.8 74.5 L440.2 75.2 L439.5 76.2 L439.0 77.0 L438.3 78.0 L437.8 78.9 L437.2 79.8 L436.5 80.7 L435.9 81.5 L435.2 82.3 L434.5 83.2 L433.9 84.0 L433.2 84.8 L432.5 85.5 L431.8 86.3 L431.0 87.0 L430.1 87.8 L429.2 88.4 L428.5 89.0 L427.5 89.7 L426.5 90.2 L425.5 90.7 L424.5 91.1 L423.2 91.3ZM410.8 106.8 L409.2 106.9 L408.1 106.5 L407.4 105.8 L407.0 104.5 L407.2 103.2 L407.8 102.2 L408.5 101.4 L409.4 100.8 L410.5 100.3 L411.8 100.2 L412.8 100.5 L413.6 101.2 L413.9 102.5 L413.7 103.8 L413.2 104.8 L412.5 105.7 L411.8 106.3 L410.8 106.8ZM424.8 89.3 L423.5 89.1 L422.8 88.5 L422.3 87.2 L422.3 85.8 L422.6 84.5 L423.0 83.2 L423.4 82.2 L423.9 81.2 L424.4 80.2 L425.0 79.2 L425.5 78.5 L426.2 77.5 L426.8 76.7 L427.5 75.8 L428.2 75.0 L428.9 74.2 L429.7 73.5 L430.5 72.8 L431.2 72.1 L432.0 71.5 L432.9 70.8 L433.8 70.2 L434.7 69.5 L435.5 69.0 L436.5 68.2 L437.2 67.5 L437.9 66.8 L438.5 65.8 L439.0 64.8 L439.5 63.8 L440.0 62.9 L440.5 62.0 L441.2 61.0 L441.8 60.2 L442.5 59.5 L443.3 58.8 L444.2 58.1 L445.2 57.7 L446.5 57.3 L448.0 57.4 L449.0 57.8 L449.8 58.5 L450.5 59.5 L450.8 60.5 L450.9 62.0 L450.7 63.2 L450.3 64.5 L449.8 65.5 L449.2 66.3 L448.5 67.2 L447.8 68.0 L447.0 68.6 L446.0 69.2 L445.1 69.8 L444.0 70.2 L443.0 70.6 L442.0 71.1 L441.1 71.8 L440.3 72.5 L439.8 73.3 L439.2 74.2 L438.6 75.2 L438.1 76.2 L437.5 77.2 L437.0 78.1 L436.5 79.0 L435.8 80.0 L435.2 80.8 L434.6 81.8 L434.0 82.5 L433.2 83.4 L432.5 84.2 L431.8 85.0 L431.0 85.7 L430.2 86.4 L429.5 87.0 L428.5 87.7 L427.6 88.2 L426.6 88.8 L425.5 89.1ZM410.5 105.6 L409.0 105.5 L408.4 104.8 L408.5 103.3 L409.1 102.5 L410.0 101.9 L411.0 101.8 L412.0 102.2 L412.3 103.5 L411.9 104.5 L411.2 105.2ZM444.0 69.0 L442.5 69.2 L441.0 69.0 L440.2 68.5 L440.0 67.2 L440.1 66.0 L440.3 64.8 L440.7 63.5 L441.2 62.5 L441.8 61.5 L442.3 60.8 L443.0 60.0 L443.8 59.2 L444.8 58.6 L445.8 58.2 L447.2 58.1 L448.5 58.4 L449.2 59.0 L449.9 60.0 L450.2 61.2 L450.2 62.2 L450.0 63.5 L449.5 64.8 L449.0 65.6 L448.3 66.5 L447.6 67.2 L446.8 67.9 L445.8 68.4 L444.8 68.8ZM426.5 87.3 L425.0 87.3 L424.2 86.8 L423.8 85.5 L423.9 84.0 L424.2 82.9 L424.7 81.8 L425.2 80.8 L425.7 79.8 L426.2 78.9 L426.9 78.0 L427.5 77.2 L428.2 76.3 L429.0 75.5 L429.7 74.8 L430.5 74.1 L431.2 73.4 L432.2 72.8 L433.0 72.2 L434.0 71.7 L435.2 71.2 L436.5 71.0 L437.5 71.5 L437.7 73.0 L437.4 74.2 L437.0 75.5 L436.6 76.5 L436.1 77.5 L435.6 78.5 L435.0 79.5 L434.5 80.3 L433.8 81.2 L433.2 82.0 L432.5 82.9 L431.8 83.7 L431.0 84.4 L430.2 85.1 L429.4 85.8 L428.5 86.4 L427.5 86.9 L426.5 87.3ZM445.2 67.8 L443.8 68.0 L442.5 67.6 L441.8 66.8 L441.4 65.8 L441.5 64.2 L441.8 63.2 L442.2 62.0 L442.8 61.2 L443.5 60.3 L444.2 59.7 L445.2 59.1 L446.5 58.8 L448.0 59.0 L448.8 59.5 L449.4 60.5 L449.7 61.8 L449.5 63.2 L449.2 64.2 L448.6 65.2 L448.0 66.0 L447.2 66.8 L446.2 67.4 L445.2 67.8ZM427.8 85.3 L426.2 85.4 L425.5 84.5 L425.5 83.2 L425.8 82.1 L426.2 81.0 L426.7 80.0 L427.2 79.1 L427.9 78.2 L428.5 77.4 L429.2 76.6 L430.0 75.9 L430.8 75.2 L431.8 74.6 L432.8 74.0 L433.8 73.7 L434.9 74.0 L435.3 75.0 L435.2 76.2 L434.8 77.5 L434.4 78.5 L433.8 79.5 L433.2 80.4 L432.6 81.2 L432.0 82.0 L431.2 82.8 L430.5 83.5 L429.6 84.2 L428.8 84.8 L427.8 85.3ZM445.2 67.0 L444.0 67.0 L443.0 66.5 L442.4 65.5 L442.3 64.0 L442.6 62.8 L443.1 61.8 L443.8 60.9 L444.5 60.2 L445.5 59.6 L446.8 59.4 L448.0 59.8 L448.7 60.5 L449.1 61.5 L449.0 63.0 L448.7 64.0 L448.1 65.0 L447.5 65.8 L446.5 66.5 L445.5 66.9ZM428.8 83.1 L427.5 82.8 L427.4 81.5 L427.8 80.5 L428.4 79.5 L429.0 78.6 L429.8 77.8 L430.5 77.1 L431.5 76.5 L432.8 76.5 L433.1 77.5 L432.8 78.7 L432.2 79.7 L431.7 80.5 L431.0 81.4 L430.2 82.1 L429.4 82.8ZM445.2 66.3 L444.0 66.1 L443.2 65.3 L443.0 64.0 L443.3 62.8 L443.8 61.8 L444.5 60.9 L445.5 60.3 L446.8 60.0 L447.9 60.5 L448.5 61.5 L448.5 62.8 L448.2 63.8 L447.7 64.8 L447.0 65.5 L446.0 66.1ZM445.8 65.5 L444.5 65.4 L443.8 64.5 L443.7 63.2 L444.1 62.2 L444.8 61.4 L445.8 60.8 L447.0 60.7 L447.8 61.3 L448.0 62.5 L447.8 63.7 L447.2 64.5 L446.4 65.2ZM445.8 64.8 L444.7 64.5 L444.4 63.2 L444.8 62.2 L445.6 61.5 L446.9 61.5 L447.5 62.5 L447.1 63.8 L446.4 64.5ZM446.0 63.9 L445.2 63.2 L445.8 62.3 L446.6 62.5 L446.2 63.7Z" fill="none" stroke="#000" stroke-width="1.25" stroke-linejoin="round"/></g>
<path d="M445.0 58.5 L445.9 58.2 L446.8 58.3 L447.5 58.8 L448.2 59.5 L448.7 60.2 L449.0 61.0 L449.1 61.7 L449.1 62.5 L449.0 63.4 L448.6 64.4 L448.2 65.6 L447.5 67.0 L446.6 68.6 L445.5 70.5 L444.2 72.6 L442.8 74.7 L441.4 76.9 L440.0 79.0 L438.6 81.2 L437.0 83.4 L435.4 85.8 L433.8 88.0 L432.3 90.1 L431.0 92.0 L429.8 93.7 L428.7 95.4 L427.7 96.8 L426.7 98.1 L425.8 99.2 L425.0 100.0 L424.2 100.5 L423.5 100.7 L422.8 100.7 L422.2 100.4 L421.8 100.0 L421.5 99.5 L421.4 98.8 L421.4 98.0 L421.6 97.0 L421.9 95.8 L422.4 94.5 L423.0 93.0 L423.8 91.3 L424.9 89.4 L426.1 87.4 L427.4 85.3 L428.7 83.1 L430.0 81.0 L431.3 78.9 L432.6 76.6 L434.0 74.3 L435.4 72.1 L436.7 70.0 L438.0 68.0 L439.3 66.1 L440.5 64.1 L441.8 62.3 L442.9 60.6 L444.0 59.3Z" fill="#000" stroke="#000" stroke-width="1.0" stroke-linejoin="round"/>
<path d="M328.0 106.0 L328.6 106.2 L329.5 106.6 L330.5 106.9 L331.6 107.4 L332.6 107.9 L333.5 108.5 L334.3 109.2 L335.0 109.9 L335.7 110.8 L336.4 111.7 L337.0 112.6 L337.5 113.5 L338.0 114.4 L338.4 115.4 L338.9 116.4 L339.2 117.4 L339.4 118.5 L339.4 119.5 L339.3 120.6 L339.0 121.7 L338.6 122.8 L338.1 123.9 L337.5 125.0 L337.0 126.0 L336.4 126.9 L335.8 127.9 L335.2 128.8 L334.5 129.6 L333.7 130.3 L333.0 131.0 L332.2 131.6 L331.2 132.1 L330.2 132.6 L329.3 132.9 L328.6 133.3 L328.0 133.5M328.0 114.0 L328.3 114.3 L328.9 114.6 L329.4 115.0 L330.0 115.5 L330.6 116.0 L331.0 116.5 L331.3 117.0 L331.6 117.6 L331.8 118.2 L331.9 118.8 L332.0 119.4 L332.0 120.0 L331.9 120.7 L331.7 121.4 L331.5 122.1 L331.2 122.8 L330.8 123.4 L330.5 124.0 L330.1 124.5 L329.6 124.9 L329.2 125.2 L328.7 125.6 L328.3 125.8 L328.0 126.0" fill="none" stroke="#000" stroke-width="1.25" stroke-linejoin="round"/>
<path d="M328.0 117.0 L328.2 117.2 L328.6 117.4 L329.0 117.6 L329.4 117.9 L329.7 118.2 L330.0 118.5 L330.2 118.9 L330.3 119.3 L330.4 119.7 L330.5 120.2 L330.5 120.6 L330.5 121.0 L330.4 121.4 L330.3 121.8 L330.1 122.1 L329.9 122.5 L329.7 122.8 L329.5 123.0 L329.3 123.2 L329.0 123.3 L328.7 123.4 L328.4 123.4 L328.2 123.5 L328.0 123.5" fill="#000" stroke="#000" stroke-width="1.0" stroke-linejoin="round"/>
<line x1="429.2" y1="5.5" x2="429.2" y2="57.8" stroke="#000" stroke-width="1.1"/>
<line x1="326.8" y1="85" x2="378.8" y2="85" stroke="#000" stroke-width="1.1"/>
<polygon points="378.8,85.0 429.2,57.8 444.5,81.5 449.2,87.0 456.3,87.0 407.1,147.5" fill="none" stroke="#000" stroke-width="1.4" stroke-linejoin="miter"/>
<line x1="449.2" y1="87" x2="519.5" y2="79.5" stroke="#000" stroke-width="1.1"/>
<line x1="407.1" y1="147.5" x2="407.1" y2="176.3" stroke="#000" stroke-width="1.4"/>
<line x1="407.1" y1="186.8" x2="407.1" y2="198.0" stroke="#000" stroke-width="1.4"/>
<text transform="translate(282.12,18.10) scale(0.9984,1)" font-size="25.94" font-weight="bold" fill="#000">B</text>
<text transform="translate(339.60,34.50) scale(1.0005,1)" font-size="17.43" font-weight="bold" fill="#000">GMP</text>
<text x="515.7" y="16.0" font-size="8.8" text-anchor="end" fill="#222" >HOEbright</text>
<text x="515.7" y="26.2" font-size="8.8" text-anchor="end" fill="#222" >5.84</text>
<text x="480.9" y="154.8" font-size="9" text-anchor="middle" fill="#222" >HOEmedium</text>
<text x="481.4" y="165.2" font-size="9" text-anchor="middle" fill="#222" >79.8</text>
<text x="393.6" y="185.4" font-size="9" text-anchor="middle" fill="#222" >HOEneg</text>
<text x="393.6" y="196.0" font-size="9" text-anchor="middle" fill="#222" >13</text>
<text transform="translate(292.90,161.55) rotate(-90) scale(1.1032,1)" font-size="16.07" font-weight="bold" fill="#000">Hoechst Blue</text>
<text transform="translate(372.53,246.50) scale(1.0676,1)" font-size="16.83" font-weight="bold" fill="#000">Hoechst red</text>
<rect x="45.5" y="267.7" width="192.7" height="192.5" fill="none" stroke="#000" stroke-width="1.3"/>
<line x1="45.2" y1="267.09999999999997" x2="45.2" y2="461.0" stroke="#000" stroke-width="2.2"/>
<line x1="44.7" y1="460.2" x2="238.79999999999998" y2="460.2" stroke="#000" stroke-width="1.6"/>
<line x1="39.1" y1="285.4" x2="45.5" y2="285.4" stroke="#000" stroke-width="1.1"/>
<line x1="41.800000000000004" y1="315.80519518861684" x2="45.5" y2="315.80519518861684" stroke="#000" stroke-width="1.1"/>
<line x1="41.800000000000004" y1="308.14522541969467" x2="45.5" y2="308.14522541969467" stroke="#000" stroke-width="1.1"/>
<line x1="41.800000000000004" y1="302.71039037723364" x2="45.5" y2="302.71039037723364" stroke="#000" stroke-width="1.1"/>
<line x1="41.800000000000004" y1="298.4948048113832" x2="45.5" y2="298.4948048113832" stroke="#000" stroke-width="1.1"/>
<line x1="41.800000000000004" y1="295.05042060831147" x2="45.5" y2="295.05042060831147" stroke="#000" stroke-width="1.1"/>
<line x1="41.800000000000004" y1="292.1382352593798" x2="45.5" y2="292.1382352593798" stroke="#000" stroke-width="1.1"/>
<line x1="41.800000000000004" y1="289.61558556585044" x2="45.5" y2="289.61558556585044" stroke="#000" stroke-width="1.1"/>
<line x1="41.800000000000004" y1="287.39045083938936" x2="45.5" y2="287.39045083938936" stroke="#000" stroke-width="1.1"/>
<line x1="39.1" y1="328.9" x2="45.5" y2="328.9" stroke="#000" stroke-width="1.1"/>
<line x1="41.800000000000004" y1="359.58478319035123" x2="45.5" y2="359.58478319035123" stroke="#000" stroke-width="1.1"/>
<line x1="41.800000000000004" y1="351.8543769178068" x2="45.5" y2="351.8543769178068" stroke="#000" stroke-width="1.1"/>
<line x1="41.800000000000004" y1="346.36956638070245" x2="45.5" y2="346.36956638070245" stroke="#000" stroke-width="1.1"/>
<line x1="41.800000000000004" y1="342.11521680964876" x2="45.5" y2="342.11521680964876" stroke="#000" stroke-width="1.1"/>
<line x1="41.800000000000004" y1="338.639160108158" x2="45.5" y2="338.639160108158" stroke="#000" stroke-width="1.1"/>
<line x1="41.800000000000004" y1="335.70019604337415" x2="45.5" y2="335.70019604337415" stroke="#000" stroke-width="1.1"/>
<line x1="41.800000000000004" y1="333.1543495710537" x2="45.5" y2="333.1543495710537" stroke="#000" stroke-width="1.1"/>
<line x1="41.800000000000004" y1="330.90875383561365" x2="45.5" y2="330.90875383561365" stroke="#000" stroke-width="1.1"/>
<line x1="39.1" y1="372.79999999999995" x2="45.5" y2="372.79999999999995" stroke="#000" stroke-width="1.1"/>
<line x1="41.800000000000004" y1="405.1623112007577" x2="45.5" y2="405.1623112007577" stroke="#000" stroke-width="1.1"/>
<line x1="41.800000000000004" y1="397.0092859064796" x2="45.5" y2="397.0092859064796" stroke="#000" stroke-width="1.1"/>
<line x1="41.800000000000004" y1="391.2246224015153" x2="45.5" y2="391.2246224015153" stroke="#000" stroke-width="1.1"/>
<line x1="41.800000000000004" y1="386.7376887992423" x2="45.5" y2="386.7376887992423" stroke="#000" stroke-width="1.1"/>
<line x1="41.800000000000004" y1="383.07159710723727" x2="45.5" y2="383.07159710723727" stroke="#000" stroke-width="1.1"/>
<line x1="41.800000000000004" y1="379.9719607473399" x2="45.5" y2="379.9719607473399" stroke="#000" stroke-width="1.1"/>
<line x1="41.800000000000004" y1="377.286933602273" x2="45.5" y2="377.286933602273" stroke="#000" stroke-width="1.1"/>
<line x1="41.800000000000004" y1="374.91857181295927" x2="45.5" y2="374.91857181295927" stroke="#000" stroke-width="1.1"/>
<line x1="39.1" y1="419.1" x2="45.5" y2="419.1" stroke="#000" stroke-width="1.1"/>
<line x1="41.800000000000004" y1="272.3051951886168" x2="45.5" y2="272.3051951886168" stroke="#000" stroke-width="1.1"/>
<line x1="39.1" y1="439.95" x2="45.5" y2="439.95" stroke="#000" stroke-width="1.1"/>
<line x1="41.800000000000004" y1="425.2" x2="45.5" y2="425.2" stroke="#000" stroke-width="1.1"/>
<line x1="41.800000000000004" y1="432.2" x2="45.5" y2="432.2" stroke="#000" stroke-width="1.1"/>
<line x1="41.800000000000004" y1="447.2" x2="45.5" y2="447.2" stroke="#000" stroke-width="1.1"/>
<line x1="41.800000000000004" y1="453.45" x2="45.5" y2="453.45" stroke="#000" stroke-width="1.1"/>
<line x1="41.800000000000004" y1="458.45" x2="45.5" y2="458.45" stroke="#000" stroke-width="1.1"/>
<line x1="85.7" y1="460.2" x2="85.7" y2="466.5" stroke="#000" stroke-width="1.1"/>
<line x1="100.02902779360551" y1="460.2" x2="100.02902779360551" y2="463.8" stroke="#000" stroke-width="1.1"/>
<line x1="108.41097172465594" y1="460.2" x2="108.41097172465594" y2="463.8" stroke="#000" stroke-width="1.1"/>
<line x1="114.35805558721101" y1="460.2" x2="114.35805558721101" y2="463.8" stroke="#000" stroke-width="1.1"/>
<line x1="118.97097220639449" y1="460.2" x2="118.97097220639449" y2="463.8" stroke="#000" stroke-width="1.1"/>
<line x1="122.73999951826144" y1="460.2" x2="122.73999951826144" y2="463.8" stroke="#000" stroke-width="1.1"/>
<line x1="125.92666670467862" y1="460.2" x2="125.92666670467862" y2="463.8" stroke="#000" stroke-width="1.1"/>
<line x1="128.68708338081652" y1="460.2" x2="128.68708338081652" y2="463.8" stroke="#000" stroke-width="1.1"/>
<line x1="131.12194344931186" y1="460.2" x2="131.12194344931186" y2="463.8" stroke="#000" stroke-width="1.1"/>
<line x1="133.3" y1="460.2" x2="133.3" y2="466.5" stroke="#000" stroke-width="1.1"/>
<line x1="146.33459881225036" y1="460.2" x2="146.33459881225036" y2="463.8" stroke="#000" stroke-width="1.1"/>
<line x1="153.95935032936137" y1="460.2" x2="153.95935032936137" y2="463.8" stroke="#000" stroke-width="1.1"/>
<line x1="159.36919762450077" y1="460.2" x2="159.36919762450077" y2="463.8" stroke="#000" stroke-width="1.1"/>
<line x1="163.56540118774961" y1="460.2" x2="163.56540118774961" y2="463.8" stroke="#000" stroke-width="1.1"/>
<line x1="166.99394914161178" y1="460.2" x2="166.99394914161178" y2="463.8" stroke="#000" stroke-width="1.1"/>
<line x1="169.8927451326173" y1="460.2" x2="169.8927451326173" y2="463.8" stroke="#000" stroke-width="1.1"/>
<line x1="172.40379643675115" y1="460.2" x2="172.40379643675115" y2="463.8" stroke="#000" stroke-width="1.1"/>
<line x1="174.61870065872276" y1="460.2" x2="174.61870065872276" y2="463.8" stroke="#000" stroke-width="1.1"/>
<line x1="176.6" y1="460.2" x2="176.6" y2="466.5" stroke="#000" stroke-width="1.1"/>
<line x1="189.63459881225037" y1="460.2" x2="189.63459881225037" y2="463.8" stroke="#000" stroke-width="1.1"/>
<line x1="197.25935032936138" y1="460.2" x2="197.25935032936138" y2="463.8" stroke="#000" stroke-width="1.1"/>
<line x1="202.66919762450078" y1="460.2" x2="202.66919762450078" y2="463.8" stroke="#000" stroke-width="1.1"/>
<line x1="206.86540118774963" y1="460.2" x2="206.86540118774963" y2="463.8" stroke="#000" stroke-width="1.1"/>
<line x1="210.29394914161176" y1="460.2" x2="210.29394914161176" y2="463.8" stroke="#000" stroke-width="1.1"/>
<line x1="213.19274513261732" y1="460.2" x2="213.19274513261732" y2="463.8" stroke="#000" stroke-width="1.1"/>
<line x1="215.70379643675116" y1="460.2" x2="215.70379643675116" y2="463.8" stroke="#000" stroke-width="1.1"/>
<line x1="217.91870065872277" y1="460.2" x2="217.91870065872277" y2="463.8" stroke="#000" stroke-width="1.1"/>
<line x1="219.9" y1="460.2" x2="219.9" y2="466.5" stroke="#000" stroke-width="1.1"/>
<line x1="232.93459881225039" y1="460.2" x2="232.93459881225039" y2="463.8" stroke="#000" stroke-width="1.1"/>
<line x1="64.7" y1="460.2" x2="64.7" y2="466.5" stroke="#000" stroke-width="1.1"/>
<line x1="46.4" y1="460.2" x2="46.4" y2="466.5" stroke="#000" stroke-width="1.1"/>
<line x1="50.7" y1="460.2" x2="50.7" y2="463.8" stroke="#000" stroke-width="1.1"/>
<line x1="55.0" y1="460.2" x2="55.0" y2="463.8" stroke="#000" stroke-width="1.1"/>
<line x1="57.9" y1="460.2" x2="57.9" y2="463.8" stroke="#000" stroke-width="1.1"/>
<line x1="60.7" y1="460.2" x2="60.7" y2="463.8" stroke="#000" stroke-width="1.1"/>
<line x1="68.5" y1="460.2" x2="68.5" y2="463.8" stroke="#000" stroke-width="1.1"/>
<line x1="73.3" y1="460.2" x2="73.3" y2="463.8" stroke="#000" stroke-width="1.1"/>
<line x1="78.1" y1="460.2" x2="78.1" y2="463.8" stroke="#000" stroke-width="1.1"/>
<line x1="82.0" y1="460.2" x2="82.0" y2="463.8" stroke="#000" stroke-width="1.1"/>
<text x="37.5" y="289.10" font-size="8.8" text-anchor="end" fill="#222">10<tspan font-size="7.4" dy="-4.4">5</tspan></text>
<text x="37.5" y="332.60" font-size="8.8" text-anchor="end" fill="#222">10<tspan font-size="7.4" dy="-4.4">4</tspan></text>
<text x="37.5" y="376.50" font-size="8.8" text-anchor="end" fill="#222">10<tspan font-size="7.4" dy="-4.4">3</tspan></text>
<text x="37.5" y="422.80" font-size="8.8" text-anchor="end" fill="#222">10<tspan font-size="7.4" dy="-4.4">2</tspan></text>
<text x="37.5" y="443.45" font-size="8.8" text-anchor="end" fill="#222">0</text>
<text x="66.20" y="479.20" font-size="8.8" text-anchor="middle" fill="#222">0</text>
<text x="79.40" y="479.20" font-size="8.8" fill="#222">10<tspan font-size="7.4" dy="-4.4">2</tspan></text>
<text x="127.00" y="479.20" font-size="8.8" fill="#222">10<tspan font-size="7.4" dy="-4.4">3</tspan></text>
<text x="170.30" y="479.20" font-size="8.8" fill="#222">10<tspan font-size="7.4" dy="-4.4">4</tspan></text>
<text x="213.60" y="479.20" font-size="8.8" fill="#222">10<tspan font-size="7.4" dy="-4.4">5</tspan></text>
<clipPath id="clipC"><path d="M98.9 372.4 L99.0 371.5 L99.2 370.6 L99.5 369.8 L100.0 369.0 L100.7 368.1 L101.5 367.2 L102.6 366.2 L103.9 365.1 L105.4 364.0 L107.0 362.8 L108.6 361.6 L110.2 360.3 L111.8 358.9 L113.4 357.3 L115.0 355.7 L116.7 354.1 L118.3 352.5 L120.0 351.0 L121.7 349.6 L123.3 348.2 L125.0 346.9 L126.7 345.6 L128.3 344.3 L130.0 343.0 L131.7 341.7 L133.4 340.4 L135.1 339.1 L136.8 337.7 L138.4 336.4 L140.0 335.0 L141.5 333.5 L142.9 332.0 L144.2 330.5 L145.5 329.0 L146.7 327.5 L148.0 326.0 L149.2 324.6 L150.4 323.1 L151.6 321.7 L152.7 320.4 L153.8 319.1 L155.0 318.0 L156.2 317.0 L157.4 316.1 L158.6 315.3 L159.8 314.6 L160.9 314.0 L162.0 313.5 L163.0 313.2 L164.0 313.0 L164.9 312.9 L165.8 312.9 L166.7 312.9 L167.5 313.0 L168.3 313.1 L169.1 313.2 L169.9 313.4 L170.6 313.7 L171.3 314.1 L172.0 314.5 L172.6 315.0 L173.2 315.6 L173.8 316.3 L174.3 317.1 L174.7 318.0 L175.0 319.0 L175.2 320.1 L175.3 321.2 L175.3 322.5 L175.2 323.8 L175.0 325.3 L174.5 327.0 L173.8 328.8 L172.9 330.8 L171.8 332.9 L170.6 335.2 L169.4 337.5 L168.0 340.0 L166.6 342.6 L165.0 345.4 L163.3 348.4 L161.6 351.3 L159.8 354.2 L158.0 357.0 L156.1 359.7 L154.2 362.3 L152.2 364.8 L150.1 367.3 L148.1 369.7 L146.0 372.0 L143.9 374.3 L141.7 376.5 L139.4 378.6 L137.2 380.6 L135.0 382.5 L133.0 384.0 L131.1 385.3 L129.3 386.4 L127.5 387.4 L125.8 388.1 L124.0 388.6 L122.3 388.8 L120.5 388.7 L118.8 388.4 L117.1 387.8 L115.4 387.0 L113.6 386.2 L111.9 385.4 L110.1 384.5 L108.1 383.6 L106.2 382.6 L104.4 381.5 L102.8 380.4 L101.5 379.3 L100.6 378.2 L99.9 377.0 L99.4 375.8 L99.1 374.6 L98.9 373.5Z"/></clipPath>
<path d="M71.2 380.2 L71.5 379.6 L71.9 379.0 L72.6 378.3 L73.4 377.7 L74.4 377.2 L75.6 376.7 L77.1 376.4 L78.8 376.2 L80.8 376.1 L82.8 376.0 L84.6 375.7 L86.0 375.3 L87.1 374.7 L87.9 373.9 L88.6 373.0 L89.2 372.0 L89.7 370.9 L90.3 369.8 L90.9 368.5 L91.4 367.0 L91.9 365.4 L92.4 363.9 L93.0 362.4 L93.7 361.1 L94.6 360.0 L95.6 359.1 L96.6 358.3 L97.7 357.5 L98.8 356.8 L99.8 356.0 L100.6 355.3 L101.3 354.6 L102.0 354.0 L102.8 353.3 L103.8 352.5 L105.0 351.6 L106.6 350.5 L108.5 349.2 L110.6 347.9 L112.7 346.5 L114.9 345.1 L117.0 343.8 L119.0 342.6 L121.1 341.4 L123.2 340.3 L125.3 339.2 L127.3 338.1 L129.2 337.0 L131.0 336.0 L132.7 335.0 L134.4 334.0 L136.0 333.0 L137.6 332.0 L139.0 331.0 L140.3 329.9 L141.6 328.7 L142.7 327.5 L143.8 326.3 L144.9 325.1 L146.0 324.0 L147.1 322.9 L148.1 321.9 L149.1 320.9 L150.0 319.9 L151.0 318.9 L152.0 318.0 L153.0 317.1 L154.0 316.2 L155.1 315.3 L156.1 314.4 L157.1 313.7 L158.0 313.0 L158.9 312.4 L159.8 311.9 L160.6 311.5 L161.4 311.1 L162.2 310.8 L163.0 310.5 L163.8 310.3 L164.5 310.1 L165.2 310.0 L165.9 310.0 L166.7 310.0 L167.5 310.0 L168.4 310.0 L169.3 310.0 L170.2 310.1 L171.2 310.2 L172.1 310.5 L173.0 311.0 L173.9 311.7 L174.8 312.6 L175.7 313.7 L176.5 314.9 L177.1 316.2 L177.5 317.5 L177.7 319.0 L177.7 320.6 L177.5 322.3 L177.2 324.0 L176.8 325.8 L176.2 327.5 L175.5 329.1 L174.6 330.7 L173.5 332.3 L172.3 334.0 L171.1 335.7 L170.0 337.5 L168.9 339.4 L167.8 341.5 L166.6 343.6 L165.4 345.8 L164.2 347.9 L163.0 350.0 L161.7 352.0 L160.4 354.0 L159.0 356.0 L157.7 358.0 L156.3 360.0 L155.0 362.0 L153.8 364.0 L152.6 365.9 L151.5 367.8 L150.4 369.8 L149.0 371.8 L147.5 373.8 L145.7 375.9 L143.6 378.1 L141.4 380.3 L139.2 382.5 L137.0 384.5 L135.0 386.2 L133.2 387.7 L131.5 388.9 L129.8 390.0 L128.2 390.9 L126.6 391.8 L125.0 392.5 L123.4 393.2 L121.9 393.7 L120.3 394.1 L118.7 394.5 L117.0 394.7 L115.0 394.8 L112.7 394.8 L110.1 394.6 L107.4 394.3 L104.7 393.9 L102.1 393.5 L99.8 393.1 L97.7 392.7 L95.8 392.4 L94.1 392.0 L92.4 391.5 L90.9 391.1 L89.4 390.6 L88.1 390.1 L86.9 389.5 L85.8 388.9 L84.8 388.2 L83.7 387.6 L82.5 387.0 L81.1 386.4 L79.5 385.9 L77.9 385.3 L76.3 384.7 L74.9 384.2 L73.8 383.6 L72.9 383.0 L72.2 382.5 L71.7 381.9 L71.3 381.3 L71.2 380.8ZM98.9 372.4 L99.0 371.5 L99.2 370.6 L99.5 369.8 L100.0 369.0 L100.7 368.1 L101.5 367.2 L102.6 366.2 L103.9 365.1 L105.4 364.0 L107.0 362.8 L108.6 361.6 L110.2 360.3 L111.8 358.9 L113.4 357.3 L115.0 355.7 L116.7 354.1 L118.3 352.5 L120.0 351.0 L121.7 349.6 L123.3 348.2 L125.0 346.9 L126.7 345.6 L128.3 344.3 L130.0 343.0 L131.7 341.7 L133.4 340.4 L135.1 339.1 L136.8 337.7 L138.4 336.4 L140.0 335.0 L141.5 333.5 L142.9 332.0 L144.2 330.5 L145.5 329.0 L146.7 327.5 L148.0 326.0 L149.2 324.6 L150.4 323.1 L151.6 321.7 L152.7 320.4 L153.8 319.1 L155.0 318.0 L156.2 317.0 L157.4 316.1 L158.6 315.3 L159.8 314.6 L160.9 314.0 L162.0 313.5 L163.0 313.2 L164.0 313.0 L164.9 312.9 L165.8 312.9 L166.7 312.9 L167.5 313.0 L168.3 313.1 L169.1 313.2 L169.9 313.4 L170.6 313.7 L171.3 314.1 L172.0 314.5 L172.6 315.0 L173.2 315.6 L173.8 316.3 L174.3 317.1 L174.7 318.0 L175.0 319.0 L175.2 320.1 L175.3 321.2 L175.3 322.5 L175.2 323.8 L175.0 325.3 L174.5 327.0 L173.8 328.8 L172.9 330.8 L171.8 332.9 L170.6 335.2 L169.4 337.5 L168.0 340.0 L166.6 342.6 L165.0 345.4 L163.3 348.4 L161.6 351.3 L159.8 354.2 L158.0 357.0 L156.1 359.7 L154.2 362.3 L152.2 364.8 L150.1 367.3 L148.1 369.7 L146.0 372.0 L143.9 374.3 L141.7 376.5 L139.4 378.6 L137.2 380.6 L135.0 382.5 L133.0 384.0 L131.1 385.3 L129.3 386.4 L127.5 387.4 L125.8 388.1 L124.0 388.6 L122.3 388.8 L120.5 388.7 L118.8 388.4 L117.1 387.8 L115.4 387.0 L113.6 386.2 L111.9 385.4 L110.1 384.5 L108.1 383.6 L106.2 382.6 L104.4 381.5 L102.8 380.4 L101.5 379.3 L100.6 378.2 L99.9 377.0 L99.4 375.8 L99.1 374.6 L98.9 373.5Z" fill="none" stroke="#000" stroke-width="1.25" stroke-linejoin="round"/>
<g clip-path="url(#clipC)"><path d="M122.0 387.5 L120.5 387.6 L119.0 387.6 L117.5 387.5 L116.2 387.4 L115.0 387.1 L113.8 386.8 L112.8 386.5 L111.6 386.0 L110.6 385.5 L109.8 385.0 L108.8 384.3 L108.0 383.6 L107.2 382.9 L106.5 382.1 L105.9 381.2 L105.2 380.3 L104.8 379.4 L104.2 378.4 L103.8 377.2 L103.4 376.2 L103.1 375.0 L102.8 373.8 L102.6 372.5 L102.4 371.2 L102.3 369.8 L102.3 368.2 L102.3 366.8 L102.4 365.2 L102.5 363.9 L102.7 362.5 L102.9 361.2 L103.1 360.0 L103.4 358.8 L103.8 357.5 L104.1 356.5 L104.5 355.2 L104.8 354.2 L105.2 353.0 L105.7 352.0 L106.1 351.0 L106.6 350.0 L107.0 349.0 L107.5 348.0 L108.1 347.0 L108.6 346.0 L109.2 345.0 L109.8 344.1 L110.3 343.2 L110.9 342.2 L111.5 341.3 L112.1 340.5 L112.8 339.5 L113.3 338.8 L114.0 337.8 L114.6 337.0 L115.2 336.1 L115.9 335.2 L116.5 334.5 L117.2 333.6 L117.9 332.8 L118.5 332.0 L119.2 331.1 L119.9 330.2 L120.5 329.5 L121.2 328.6 L122.0 327.8 L122.6 327.0 L123.2 326.2 L124.0 325.3 L124.7 324.5 L125.3 323.8 L126.0 322.9 L126.7 322.0 L127.3 321.2 L128.0 320.5 L128.8 319.6 L129.4 318.8 L130.1 318.0 L130.8 317.2 L131.5 316.3 L132.2 315.5 L132.8 314.8 L133.5 313.9 L134.2 313.0 L134.9 312.2 L135.6 311.5 L136.2 310.7 L137.0 309.9 L137.8 309.0 L138.5 308.2 L139.2 307.5 L139.8 306.8 L140.5 306.0 L141.3 305.2 L142.0 304.5 L142.8 303.7 L143.5 302.9 L144.2 302.2 L145.0 301.5 L145.8 300.8 L146.6 300.0 L148.0 300.0 L149.5 300.0 L151.0 300.0 L152.5 300.0 L154.0 299.9 L155.5 299.9 L157.0 299.9 L158.5 299.9 L160.0 299.9 L161.5 299.9 L163.0 299.9 L164.5 299.9 L166.0 299.9 L167.5 299.9 L169.0 299.9 L170.5 299.9 L172.0 299.9 L173.5 299.9 L175.0 299.9 L176.5 299.9 L178.0 299.9 L179.5 299.9 L181.0 299.9 L182.5 299.9 L184.0 299.9 L185.5 299.9 L187.0 299.9 L188.5 299.9 L190.0 299.9 L190.1 301.2 L190.1 302.8 L190.1 304.2 L190.1 305.8 L190.1 307.2 L190.1 308.8 L190.1 310.2 L190.1 311.8 L190.1 313.2 L190.1 314.8 L190.1 316.2 L190.1 317.8 L190.0 319.2 L190.0 320.8 L190.0 322.2 L190.0 323.8 L190.0 325.2 L190.0 326.8 L190.0 328.2 L189.6 329.2 L189.1 330.2 L188.5 331.2 L188.0 332.2 L187.5 333.0 L186.9 334.0 L186.3 335.0 L185.8 335.8 L185.2 336.8 L184.5 337.7 L184.0 338.5 L183.2 339.5 L182.7 340.2 L182.0 341.2 L181.4 342.0 L180.8 342.8 L180.0 343.8 L179.4 344.5 L178.8 345.3 L178.0 346.2 L177.3 347.0 L176.7 347.8 L176.0 348.6 L175.2 349.4 L174.5 350.2 L173.8 351.0 L173.2 351.8 L172.5 352.5 L171.8 353.3 L171.0 354.1 L170.2 354.9 L169.5 355.8 L168.8 356.5 L168.1 357.2 L167.4 358.0 L166.7 358.8 L166.0 359.5 L165.2 360.3 L164.5 361.1 L163.8 361.9 L163.0 362.6 L162.2 363.4 L161.5 364.2 L160.8 364.9 L160.0 365.7 L159.2 366.4 L158.5 367.2 L157.8 367.9 L157.0 368.6 L156.2 369.4 L155.5 370.1 L154.8 370.8 L153.9 371.5 L153.1 372.2 L152.2 373.0 L151.5 373.6 L150.7 374.2 L149.8 375.0 L149.0 375.6 L148.2 376.2 L147.2 377.0 L146.5 377.5 L145.5 378.2 L144.7 378.8 L143.8 379.4 L142.8 380.0 L141.9 380.5 L141.0 381.1 L140.0 381.6 L139.0 382.2 L138.0 382.7 L137.0 383.2 L136.0 383.6 L135.0 384.1 L134.0 384.5 L132.8 385.0 L131.8 385.3 L130.5 385.8 L129.5 386.1 L128.2 386.4 L127.0 386.7 L125.8 387.0 L124.5 387.2 L123.2 387.4 L122.0 387.5ZM123.5 384.3 L122.0 384.3 L120.5 384.3 L119.2 384.2 L117.8 384.0 L116.5 383.8 L115.5 383.5 L114.3 383.0 L113.2 382.5 L112.4 382.0 L111.5 381.4 L110.7 380.8 L109.9 380.0 L109.2 379.2 L108.5 378.3 L107.9 377.5 L107.4 376.5 L106.9 375.5 L106.5 374.5 L106.1 373.2 L105.8 372.0 L105.5 370.8 L105.3 369.5 L105.2 368.2 L105.1 366.8 L105.2 365.2 L105.2 363.8 L105.4 362.5 L105.5 361.2 L105.8 360.0 L106.0 358.8 L106.3 357.5 L106.7 356.2 L107.0 355.2 L107.5 354.0 L107.8 353.0 L108.3 352.0 L108.8 350.9 L109.2 349.8 L109.8 348.8 L110.2 347.9 L110.8 347.0 L111.3 346.0 L111.9 345.0 L112.5 344.1 L113.0 343.2 L113.7 342.2 L114.2 341.5 L114.9 340.5 L115.5 339.7 L116.2 338.8 L116.8 338.0 L117.5 337.1 L118.2 336.2 L118.8 335.5 L119.5 334.6 L120.2 333.8 L120.8 333.0 L121.5 332.1 L122.2 331.2 L122.8 330.5 L123.5 329.7 L124.2 328.8 L124.9 328.0 L125.5 327.2 L126.2 326.4 L127.0 325.5 L127.6 324.8 L128.2 323.9 L129.0 323.0 L129.6 322.2 L130.3 321.5 L131.0 320.6 L131.7 319.8 L132.3 319.0 L133.0 318.2 L133.8 317.3 L134.4 316.5 L135.0 315.8 L135.8 314.9 L136.5 314.0 L137.1 313.2 L137.8 312.5 L138.5 311.7 L139.2 310.8 L140.0 310.0 L140.6 309.2 L141.3 308.5 L142.0 307.8 L142.8 307.0 L143.5 306.2 L144.2 305.4 L145.0 304.6 L145.8 303.9 L146.5 303.2 L147.2 302.4 L148.0 301.7 L148.8 301.0 L149.6 300.2 L150.8 300.0 L152.2 300.0 L153.8 300.0 L155.2 300.0 L156.8 299.9 L158.2 299.9 L159.8 299.9 L161.2 299.9 L162.8 299.9 L164.2 299.9 L165.8 299.9 L167.2 299.9 L168.8 299.9 L170.2 299.9 L171.8 299.9 L173.2 299.9 L174.8 299.9 L176.2 299.9 L177.8 299.9 L179.2 299.9 L180.8 299.9 L182.2 299.9 L183.8 299.9 L185.2 299.9 L186.8 299.9 L188.2 299.9 L189.8 300.0 L190.0 301.0 L190.0 302.5 L190.0 304.0 L190.0 305.5 L190.0 307.0 L190.0 308.5 L190.0 310.0 L190.0 311.5 L190.0 313.0 L190.0 314.5 L190.0 316.0 L190.0 317.5 L190.0 319.0 L190.0 320.5 L190.0 322.0 L190.0 323.2 L189.5 324.3 L189.0 325.4 L188.5 326.5 L188.0 327.5 L187.5 328.5 L187.0 329.4 L186.5 330.3 L186.0 331.2 L185.4 332.2 L184.8 333.2 L184.2 334.0 L183.6 335.0 L183.0 335.9 L182.4 336.8 L181.8 337.7 L181.2 338.5 L180.5 339.4 L179.8 340.2 L179.2 341.0 L178.5 341.9 L177.8 342.8 L177.2 343.5 L176.5 344.3 L175.8 345.2 L175.1 346.0 L174.4 346.8 L173.7 347.5 L173.0 348.3 L172.2 349.1 L171.5 349.9 L170.8 350.8 L170.1 351.5 L169.4 352.2 L168.7 353.0 L167.9 353.8 L167.2 354.5 L166.5 355.3 L165.8 356.1 L165.0 356.9 L164.2 357.7 L163.5 358.4 L162.8 359.2 L162.0 360.0 L161.3 360.8 L160.6 361.5 L159.8 362.2 L159.1 363.0 L158.4 363.8 L157.6 364.5 L156.9 365.2 L156.2 366.0 L155.4 366.8 L154.6 367.5 L153.8 368.2 L153.0 369.0 L152.2 369.7 L151.5 370.4 L150.8 371.1 L149.9 371.8 L149.0 372.5 L148.2 373.1 L147.5 373.8 L146.5 374.5 L145.8 375.1 L144.8 375.8 L144.0 376.3 L143.0 377.0 L142.2 377.5 L141.2 378.1 L140.2 378.7 L139.2 379.2 L138.2 379.7 L137.3 380.2 L136.2 380.7 L135.2 381.2 L134.2 381.6 L133.2 382.0 L132.0 382.4 L131.0 382.8 L129.8 383.1 L128.5 383.5 L127.2 383.7 L126.0 384.0 L124.8 384.1 L123.5 384.3ZM125.5 381.3 L124.0 381.4 L122.5 381.4 L121.0 381.3 L119.8 381.1 L118.5 380.9 L117.3 380.5 L116.2 380.1 L115.2 379.6 L114.2 379.0 L113.5 378.5 L112.6 377.8 L111.9 377.0 L111.2 376.2 L110.5 375.2 L110.0 374.4 L109.5 373.4 L109.0 372.2 L108.7 371.2 L108.3 370.0 L108.1 368.8 L107.9 367.5 L107.8 366.0 L107.8 364.5 L107.8 363.0 L108.0 361.5 L108.1 360.2 L108.4 359.0 L108.7 357.8 L109.0 356.5 L109.3 355.5 L109.7 354.2 L110.1 353.2 L110.5 352.2 L111.0 351.2 L111.5 350.2 L112.0 349.2 L112.5 348.2 L113.1 347.2 L113.7 346.2 L114.2 345.3 L114.8 344.5 L115.5 343.5 L116.0 342.8 L116.7 341.8 L117.3 341.0 L118.0 340.1 L118.6 339.2 L119.2 338.5 L120.0 337.5 L120.6 336.8 L121.2 336.0 L122.0 335.1 L122.7 334.2 L123.3 333.5 L124.0 332.6 L124.7 331.8 L125.4 331.0 L126.0 330.2 L126.8 329.3 L127.4 328.5 L128.0 327.8 L128.8 326.9 L129.5 326.0 L130.1 325.2 L130.8 324.4 L131.5 323.5 L132.1 322.8 L132.8 322.0 L133.5 321.0 L134.1 320.2 L134.8 319.5 L135.5 318.6 L136.2 317.8 L136.8 317.0 L137.5 316.2 L138.2 315.3 L138.9 314.5 L139.5 313.8 L140.2 312.9 L141.0 312.0 L141.7 311.2 L142.4 310.5 L143.0 309.8 L143.8 309.0 L144.5 308.2 L145.2 307.4 L146.0 306.6 L146.8 305.8 L147.5 305.1 L148.2 304.4 L149.0 303.6 L149.8 302.9 L150.5 302.2 L151.4 301.5 L152.2 300.8 L153.0 300.1 L154.2 300.0 L155.8 300.0 L157.2 300.0 L158.8 300.0 L160.2 299.9 L161.8 299.9 L163.2 299.9 L164.8 299.9 L166.2 299.9 L167.8 299.9 L169.2 299.9 L170.8 299.9 L172.2 299.9 L173.8 299.9 L175.2 299.9 L176.8 299.9 L178.2 299.9 L179.8 299.9 L181.2 299.9 L182.8 299.9 L184.2 299.9 L185.8 300.0 L187.2 300.0 L188.8 300.0 L190.0 300.0 L190.0 301.5 L190.0 303.0 L190.0 304.5 L190.0 306.0 L190.0 307.5 L190.0 309.0 L190.0 310.5 L190.0 312.0 L190.0 313.5 L190.0 315.0 L190.0 316.5 L189.7 317.5 L189.4 318.8 L189.0 319.8 L188.6 321.0 L188.2 322.0 L187.8 323.1 L187.2 324.2 L186.8 325.2 L186.3 326.2 L185.8 327.2 L185.3 328.2 L184.8 329.2 L184.2 330.1 L183.7 331.0 L183.1 332.0 L182.5 333.0 L182.0 333.8 L181.3 334.8 L180.8 335.5 L180.1 336.5 L179.5 337.2 L178.8 338.2 L178.1 339.0 L177.5 339.8 L176.8 340.7 L176.1 341.5 L175.4 342.2 L174.8 343.0 L174.0 343.9 L173.2 344.7 L172.5 345.5 L171.8 346.2 L171.1 347.0 L170.4 347.8 L169.7 348.5 L169.0 349.3 L168.2 350.1 L167.5 350.8 L166.8 351.6 L166.0 352.4 L165.2 353.2 L164.5 354.0 L163.8 354.7 L163.0 355.5 L162.3 356.2 L161.6 357.0 L160.9 357.8 L160.2 358.5 L159.4 359.2 L158.7 360.0 L158.0 360.8 L157.2 361.5 L156.5 362.3 L155.8 363.1 L155.0 363.9 L154.2 364.6 L153.5 365.4 L152.8 366.1 L152.0 366.8 L151.2 367.5 L150.5 368.2 L149.6 369.0 L148.8 369.8 L148.0 370.4 L147.2 371.1 L146.4 371.8 L145.5 372.5 L144.8 373.0 L143.8 373.7 L143.0 374.3 L142.0 374.9 L141.1 375.5 L140.2 376.0 L139.2 376.6 L138.2 377.2 L137.2 377.7 L136.2 378.2 L135.2 378.6 L134.2 379.0 L133.0 379.5 L132.0 379.8 L130.8 380.2 L129.7 380.5 L128.5 380.8 L127.2 381.0 L125.8 381.2ZM127.2 378.5 L125.8 378.7 L124.2 378.7 L122.8 378.7 L121.5 378.5 L120.2 378.2 L119.0 377.9 L118.0 377.5 L117.0 377.0 L116.0 376.4 L115.2 375.8 L114.3 375.0 L113.6 374.2 L113.0 373.4 L112.4 372.5 L111.9 371.5 L111.4 370.5 L111.0 369.4 L110.7 368.2 L110.4 367.0 L110.2 365.6 L110.2 364.2 L110.2 362.8 L110.2 361.5 L110.4 360.0 L110.6 358.8 L110.9 357.5 L111.2 356.3 L111.6 355.2 L112.0 354.0 L112.4 353.0 L112.8 352.0 L113.3 351.0 L113.8 350.0 L114.4 349.0 L115.0 348.0 L115.5 347.1 L116.0 346.2 L116.7 345.2 L117.2 344.5 L118.0 343.5 L118.5 342.8 L119.2 341.8 L119.9 341.0 L120.5 340.2 L121.2 339.3 L121.9 338.5 L122.5 337.8 L123.2 336.9 L124.0 336.0 L124.6 335.2 L125.2 334.4 L126.0 333.5 L126.7 332.8 L127.3 332.0 L128.0 331.1 L128.7 330.2 L129.3 329.5 L130.0 328.7 L130.7 327.8 L131.3 327.0 L132.0 326.2 L132.7 325.2 L133.3 324.5 L134.0 323.7 L134.7 322.8 L135.3 322.0 L136.0 321.2 L136.7 320.2 L137.3 319.5 L138.0 318.7 L138.8 317.8 L139.4 317.0 L140.0 316.2 L140.8 315.4 L141.5 314.5 L142.1 313.8 L142.8 313.0 L143.5 312.1 L144.2 311.3 L145.0 310.5 L145.7 309.8 L146.4 309.0 L147.1 308.2 L147.8 307.5 L148.6 306.8 L149.3 306.0 L150.1 305.2 L150.9 304.5 L151.7 303.8 L152.5 303.1 L153.2 302.4 L154.1 301.8 L155.0 301.0 L155.8 300.4 L156.8 300.0 L158.2 300.0 L159.8 300.0 L161.2 300.0 L162.8 299.9 L164.2 299.9 L165.8 299.9 L167.2 299.9 L168.8 299.9 L170.2 299.9 L171.8 299.9 L173.2 299.9 L174.8 299.9 L176.2 299.9 L177.8 299.9 L179.2 299.9 L180.8 299.9 L182.2 300.0 L183.8 300.0 L185.2 300.0 L186.8 300.0 L188.2 300.0 L188.6 301.0 L188.9 302.2 L189.1 303.5 L189.2 305.0 L189.2 306.5 L189.2 308.0 L189.1 309.5 L189.0 310.8 L188.8 312.2 L188.5 313.5 L188.3 314.8 L188.0 316.0 L187.7 317.0 L187.4 318.2 L187.0 319.5 L186.6 320.5 L186.2 321.6 L185.8 322.8 L185.4 323.8 L184.9 324.8 L184.4 325.8 L183.9 326.8 L183.4 327.8 L182.9 328.8 L182.3 329.8 L181.8 330.6 L181.2 331.5 L180.6 332.5 L180.0 333.3 L179.3 334.2 L178.8 335.1 L178.0 336.0 L177.5 336.8 L176.8 337.6 L176.0 338.5 L175.4 339.2 L174.8 340.0 L174.0 340.9 L173.2 341.7 L172.5 342.5 L171.8 343.2 L171.1 344.0 L170.4 344.8 L169.7 345.5 L169.0 346.2 L168.2 347.0 L167.5 347.8 L166.8 348.5 L166.0 349.3 L165.2 350.0 L164.5 350.8 L163.8 351.6 L163.0 352.3 L162.2 353.1 L161.5 353.9 L160.8 354.7 L160.0 355.5 L159.2 356.2 L158.5 357.0 L157.8 357.8 L157.1 358.5 L156.4 359.2 L155.7 360.0 L155.0 360.8 L154.2 361.5 L153.5 362.3 L152.8 363.0 L152.0 363.8 L151.2 364.5 L150.5 365.3 L149.8 366.0 L149.0 366.8 L148.2 367.5 L147.3 368.2 L146.5 369.0 L145.8 369.6 L144.9 370.2 L144.0 371.0 L143.2 371.5 L142.3 372.2 L141.5 372.8 L140.5 373.4 L139.6 374.0 L138.7 374.5 L137.8 375.0 L136.8 375.5 L135.8 376.0 L134.6 376.5 L133.5 376.9 L132.5 377.3 L131.2 377.7 L130.1 378.0 L128.9 378.2 L127.5 378.5ZM126.8 376.3 L125.2 376.3 L124.0 376.2 L122.5 376.0 L121.2 375.8 L120.2 375.4 L119.2 375.0 L118.2 374.5 L117.2 373.8 L116.5 373.2 L115.8 372.4 L115.0 371.5 L114.5 370.8 L113.9 369.8 L113.5 368.8 L113.0 367.5 L112.8 366.4 L112.5 365.1 L112.4 363.8 L112.3 362.2 L112.4 360.8 L112.6 359.5 L112.8 358.2 L113.1 357.0 L113.4 355.8 L113.8 354.8 L114.2 353.5 L114.7 352.5 L115.1 351.5 L115.7 350.5 L116.2 349.5 L116.8 348.6 L117.3 347.8 L118.0 346.8 L118.5 346.0 L119.2 345.0 L119.8 344.2 L120.5 343.3 L121.1 342.5 L121.8 341.7 L122.5 340.8 L123.2 340.0 L123.8 339.2 L124.5 338.4 L125.2 337.5 L125.9 336.8 L126.5 336.0 L127.2 335.1 L128.0 334.2 L128.6 333.5 L129.2 332.7 L130.0 331.8 L130.6 331.0 L131.2 330.2 L132.0 329.3 L132.6 328.5 L133.2 327.7 L134.0 326.8 L134.6 326.0 L135.2 325.1 L135.9 324.2 L136.5 323.5 L137.2 322.6 L137.9 321.8 L138.5 321.0 L139.2 320.1 L139.9 319.2 L140.5 318.5 L141.2 317.6 L142.0 316.8 L142.6 316.0 L143.2 315.2 L144.0 314.3 L144.7 313.5 L145.4 312.8 L146.0 312.0 L146.8 311.2 L147.5 310.4 L148.2 309.6 L149.0 308.8 L149.8 308.1 L150.5 307.3 L151.2 306.6 L152.0 305.9 L152.8 305.2 L153.6 304.5 L154.5 303.8 L155.2 303.1 L156.1 302.5 L157.0 301.8 L157.8 301.2 L158.8 300.6 L159.6 300.0 L161.0 300.0 L162.5 300.0 L164.0 300.0 L165.5 300.0 L167.0 300.0 L168.5 299.9 L170.0 299.9 L171.5 299.9 L173.0 299.9 L174.5 299.9 L176.0 299.9 L177.5 299.9 L179.0 300.0 L180.5 300.0 L182.0 300.0 L183.5 300.0 L185.0 300.0 L185.5 300.8 L186.0 302.0 L186.3 303.0 L186.5 304.2 L186.7 305.8 L186.9 307.0 L186.9 308.5 L186.8 310.0 L186.8 311.3 L186.6 312.8 L186.4 314.0 L186.2 315.2 L185.9 316.5 L185.6 317.8 L185.2 318.8 L184.9 320.0 L184.5 321.1 L184.1 322.2 L183.6 323.2 L183.2 324.2 L182.7 325.2 L182.2 326.2 L181.7 327.2 L181.2 328.2 L180.6 329.2 L180.0 330.2 L179.5 331.0 L178.8 332.0 L178.2 332.8 L177.5 333.8 L177.0 334.5 L176.2 335.4 L175.6 336.2 L174.9 337.0 L174.2 337.8 L173.5 338.6 L172.8 339.5 L172.0 340.2 L171.3 341.0 L170.6 341.8 L169.9 342.5 L169.2 343.2 L168.4 344.0 L167.7 344.8 L166.9 345.5 L166.2 346.2 L165.4 347.0 L164.7 347.8 L163.9 348.5 L163.2 349.2 L162.4 350.0 L161.7 350.8 L161.0 351.5 L160.2 352.2 L159.5 353.0 L158.8 353.8 L158.0 354.5 L157.2 355.3 L156.5 356.1 L155.8 356.9 L155.0 357.7 L154.2 358.5 L153.5 359.2 L152.8 360.0 L152.1 360.8 L151.4 361.5 L150.7 362.2 L149.9 363.0 L149.2 363.8 L148.4 364.5 L147.7 365.2 L146.9 366.0 L146.1 366.8 L145.2 367.5 L144.5 368.1 L143.7 368.8 L142.8 369.5 L142.0 370.1 L141.1 370.8 L140.2 371.3 L139.2 371.9 L138.3 372.5 L137.4 373.0 L136.4 373.5 L135.3 374.0 L134.2 374.5 L133.2 374.8 L132.1 375.2 L131.0 375.6 L129.8 375.8 L128.5 376.1 L127.0 376.2ZM128.5 374.0 L127.0 374.1 L125.5 374.1 L124.2 374.0 L123.0 373.8 L121.8 373.4 L120.8 373.0 L119.8 372.4 L118.8 371.8 L118.0 371.1 L117.2 370.3 L116.6 369.5 L116.0 368.6 L115.5 367.6 L115.1 366.5 L114.8 365.4 L114.5 364.2 L114.3 362.8 L114.3 361.2 L114.4 359.8 L114.6 358.5 L114.9 357.2 L115.2 356.0 L115.5 355.0 L116.0 353.8 L116.5 352.8 L116.9 351.8 L117.5 350.8 L118.0 349.9 L118.5 349.0 L119.2 348.0 L119.8 347.2 L120.5 346.2 L121.0 345.5 L121.8 344.6 L122.4 343.8 L123.1 343.0 L123.8 342.2 L124.5 341.3 L125.2 340.5 L125.8 339.8 L126.5 338.9 L127.2 338.0 L127.9 337.2 L128.5 336.5 L129.2 335.6 L130.0 334.8 L130.6 334.0 L131.2 333.1 L131.9 332.2 L132.5 331.5 L133.2 330.6 L133.9 329.8 L134.5 329.0 L135.2 328.0 L135.8 327.2 L136.5 326.4 L137.2 325.5 L137.8 324.8 L138.5 323.8 L139.1 323.0 L139.8 322.2 L140.5 321.2 L141.1 320.5 L141.8 319.7 L142.5 318.8 L143.1 318.0 L143.8 317.2 L144.5 316.3 L145.2 315.5 L145.8 314.8 L146.5 314.0 L147.2 313.1 L148.0 312.3 L148.7 311.5 L149.4 310.8 L150.2 310.0 L150.9 309.2 L151.7 308.5 L152.5 307.8 L153.2 307.0 L154.0 306.4 L154.8 305.7 L155.6 305.0 L156.5 304.3 L157.2 303.7 L158.2 303.0 L159.0 302.5 L160.0 301.8 L161.0 301.2 L161.8 300.8 L162.8 300.2 L164.0 300.0 L165.5 300.0 L167.0 300.0 L168.5 300.0 L170.0 300.0 L171.5 300.0 L173.0 300.0 L174.5 300.0 L176.0 300.0 L177.5 300.0 L179.0 300.0 L180.5 300.0 L181.8 300.2 L182.4 301.0 L183.0 302.0 L183.5 303.0 L183.9 304.0 L184.2 305.2 L184.5 306.5 L184.6 307.8 L184.7 309.2 L184.8 310.5 L184.7 311.8 L184.6 313.2 L184.4 314.5 L184.2 315.8 L183.9 317.0 L183.6 318.2 L183.2 319.5 L182.9 320.5 L182.5 321.7 L182.1 322.8 L181.6 323.8 L181.2 324.8 L180.7 325.8 L180.2 326.8 L179.6 327.8 L179.0 328.8 L178.5 329.6 L177.9 330.5 L177.2 331.4 L176.6 332.2 L176.0 333.1 L175.3 334.0 L174.7 334.8 L174.0 335.5 L173.2 336.4 L172.5 337.2 L171.8 338.0 L171.1 338.8 L170.4 339.5 L169.6 340.2 L168.9 341.0 L168.1 341.8 L167.4 342.5 L166.6 343.2 L165.8 344.0 L165.1 344.8 L164.3 345.5 L163.5 346.2 L162.8 347.0 L162.0 347.8 L161.3 348.5 L160.5 349.2 L159.8 350.0 L159.0 350.8 L158.3 351.5 L157.5 352.2 L156.8 353.0 L156.1 353.8 L155.4 354.5 L154.6 355.2 L153.9 356.0 L153.2 356.8 L152.5 357.5 L151.8 358.3 L151.0 359.1 L150.2 359.9 L149.5 360.7 L148.8 361.5 L148.0 362.2 L147.3 363.0 L146.5 363.8 L145.8 364.5 L145.0 365.2 L144.2 365.9 L143.5 366.6 L142.7 367.2 L141.8 368.0 L141.0 368.6 L140.1 369.2 L139.2 369.8 L138.2 370.4 L137.3 371.0 L136.3 371.5 L135.3 372.0 L134.2 372.5 L133.2 372.8 L132.0 373.2 L131.0 373.5 L129.8 373.8 L128.5 374.0ZM129.2 372.0 L127.8 372.2 L126.2 372.2 L124.9 372.0 L123.7 371.8 L122.5 371.3 L121.5 370.9 L120.5 370.3 L119.8 369.7 L119.0 369.0 L118.2 368.1 L117.7 367.2 L117.2 366.2 L116.8 365.2 L116.4 364.0 L116.2 362.8 L116.1 361.2 L116.2 359.8 L116.3 358.5 L116.6 357.2 L116.9 356.0 L117.2 355.0 L117.7 353.8 L118.2 352.8 L118.7 351.8 L119.2 350.9 L119.8 350.0 L120.5 349.0 L121.0 348.2 L121.7 347.2 L122.3 346.5 L123.0 345.7 L123.8 344.8 L124.4 344.0 L125.1 343.2 L125.8 342.5 L126.5 341.6 L127.2 340.8 L127.9 340.0 L128.5 339.2 L129.2 338.4 L130.0 337.5 L130.6 336.8 L131.2 335.9 L132.0 335.0 L132.5 334.2 L133.2 333.3 L133.9 332.5 L134.5 331.7 L135.2 330.8 L135.8 330.0 L136.5 329.0 L137.1 328.2 L137.8 327.4 L138.4 326.5 L139.0 325.7 L139.8 324.8 L140.3 324.0 L141.0 323.1 L141.7 322.2 L142.3 321.5 L143.0 320.6 L143.7 319.8 L144.3 319.0 L145.0 318.1 L145.7 317.2 L146.4 316.5 L147.0 315.8 L147.8 314.9 L148.5 314.0 L149.2 313.2 L149.9 312.5 L150.6 311.8 L151.3 311.0 L152.1 310.2 L152.9 309.5 L153.6 308.8 L154.5 308.0 L155.2 307.3 L156.0 306.7 L156.9 306.0 L157.8 305.3 L158.6 304.8 L159.5 304.1 L160.4 303.5 L161.3 303.0 L162.2 302.4 L163.2 301.9 L164.2 301.5 L165.3 301.0 L166.5 300.6 L167.5 300.2 L168.8 300.0 L170.2 300.0 L171.8 300.0 L173.2 300.0 L174.8 300.0 L176.2 300.0 L177.2 300.3 L178.2 300.9 L179.1 301.5 L179.9 302.2 L180.5 303.0 L181.1 304.0 L181.6 305.0 L182.0 306.0 L182.4 307.2 L182.6 308.5 L182.8 309.8 L182.8 311.2 L182.8 312.8 L182.7 314.0 L182.5 315.5 L182.3 316.8 L182.0 318.0 L181.7 319.0 L181.4 320.2 L181.0 321.3 L180.5 322.5 L180.1 323.5 L179.7 324.5 L179.2 325.5 L178.6 326.5 L178.0 327.5 L177.5 328.4 L176.9 329.2 L176.3 330.2 L175.7 331.0 L175.0 331.9 L174.4 332.8 L173.7 333.5 L173.0 334.4 L172.2 335.2 L171.5 336.0 L170.8 336.8 L170.1 337.5 L169.3 338.2 L168.6 339.0 L167.8 339.8 L167.0 340.5 L166.3 341.2 L165.5 342.0 L164.8 342.7 L164.0 343.4 L163.2 344.1 L162.5 344.9 L161.8 345.6 L161.0 346.3 L160.2 347.0 L159.5 347.8 L158.8 348.5 L158.0 349.3 L157.2 350.0 L156.5 350.8 L155.8 351.5 L155.0 352.3 L154.2 353.0 L153.5 353.8 L152.8 354.6 L152.0 355.4 L151.2 356.2 L150.5 357.0 L149.8 357.8 L149.1 358.5 L148.4 359.2 L147.7 360.0 L147.0 360.8 L146.2 361.5 L145.5 362.3 L144.8 363.1 L144.0 363.8 L143.2 364.5 L142.5 365.2 L141.6 366.0 L140.8 366.7 L140.0 367.3 L139.0 368.0 L138.2 368.5 L137.2 369.1 L136.2 369.7 L135.2 370.2 L134.2 370.6 L133.2 371.0 L132.0 371.4 L130.8 371.8 L129.5 372.0ZM129.8 370.3 L128.2 370.4 L126.8 370.4 L125.5 370.2 L124.2 369.9 L123.1 369.5 L122.2 369.0 L121.2 368.4 L120.5 367.7 L119.8 366.8 L119.2 366.0 L118.7 365.0 L118.2 363.9 L118.0 362.8 L117.8 361.2 L117.8 360.0 L117.9 358.8 L118.1 357.5 L118.4 356.2 L118.8 355.2 L119.2 354.0 L119.7 353.0 L120.2 352.1 L120.8 351.2 L121.4 350.2 L122.0 349.4 L122.7 348.5 L123.3 347.8 L124.0 346.9 L124.8 346.1 L125.5 345.2 L126.2 344.5 L126.8 343.8 L127.5 343.0 L128.2 342.2 L129.0 341.3 L129.7 340.5 L130.3 339.8 L131.0 338.9 L131.7 338.0 L132.3 337.2 L133.0 336.3 L133.6 335.5 L134.2 334.6 L134.9 333.8 L135.5 332.9 L136.2 332.0 L136.8 331.2 L137.5 330.2 L138.0 329.5 L138.8 328.5 L139.3 327.8 L140.0 326.8 L140.6 326.0 L141.2 325.2 L142.0 324.2 L142.6 323.5 L143.2 322.6 L143.9 321.8 L144.5 321.0 L145.2 320.1 L145.9 319.2 L146.6 318.5 L147.2 317.7 L148.0 316.8 L148.7 316.0 L149.3 315.2 L150.0 314.5 L150.8 313.7 L151.5 312.9 L152.2 312.1 L153.0 311.4 L153.8 310.6 L154.5 309.9 L155.2 309.2 L156.1 308.5 L157.0 307.8 L157.8 307.2 L158.7 306.5 L159.5 305.9 L160.5 305.3 L161.3 304.8 L162.2 304.2 L163.2 303.7 L164.3 303.2 L165.5 302.8 L166.5 302.4 L167.8 302.0 L169.0 301.8 L170.2 301.6 L171.8 301.5 L173.2 301.6 L174.5 301.9 L175.5 302.2 L176.5 302.8 L177.5 303.4 L178.2 304.1 L179.0 305.0 L179.5 305.9 L180.0 306.9 L180.4 308.0 L180.7 309.2 L180.9 310.5 L181.0 311.8 L181.1 313.2 L181.0 314.6 L180.8 316.0 L180.6 317.2 L180.4 318.5 L180.0 319.8 L179.7 320.8 L179.2 322.0 L178.8 323.0 L178.4 324.0 L177.9 325.0 L177.4 326.0 L176.8 327.0 L176.2 327.8 L175.6 328.8 L175.0 329.7 L174.4 330.5 L173.8 331.3 L173.0 332.2 L172.3 333.0 L171.6 333.8 L170.9 334.5 L170.2 335.2 L169.5 336.0 L168.7 336.8 L167.9 337.5 L167.2 338.2 L166.4 339.0 L165.6 339.8 L164.8 340.5 L164.0 341.2 L163.2 342.0 L162.5 342.7 L161.8 343.4 L161.0 344.1 L160.2 344.8 L159.5 345.5 L158.8 346.3 L158.0 347.0 L157.2 347.8 L156.4 348.5 L155.7 349.2 L154.9 350.0 L154.2 350.8 L153.4 351.5 L152.7 352.2 L151.9 353.0 L151.2 353.8 L150.5 354.5 L149.8 355.3 L149.0 356.1 L148.2 356.9 L147.5 357.7 L146.8 358.5 L146.1 359.2 L145.4 360.0 L144.7 360.8 L144.0 361.5 L143.2 362.3 L142.5 363.0 L141.7 363.8 L140.9 364.5 L140.0 365.2 L139.2 365.9 L138.4 366.5 L137.5 367.1 L136.5 367.8 L135.6 368.2 L134.6 368.8 L133.5 369.2 L132.5 369.6 L131.2 370.0 L130.0 370.2ZM129.5 368.8 L128.0 368.8 L126.7 368.8 L125.4 368.5 L124.2 368.1 L123.2 367.6 L122.4 367.0 L121.5 366.2 L120.9 365.5 L120.3 364.5 L119.8 363.5 L119.5 362.4 L119.3 361.0 L119.2 359.8 L119.3 358.5 L119.6 357.2 L119.9 356.0 L120.3 355.0 L120.8 354.0 L121.3 353.0 L121.9 352.0 L122.5 351.1 L123.1 350.2 L123.8 349.5 L124.5 348.6 L125.2 347.8 L125.9 347.0 L126.7 346.2 L127.4 345.5 L128.1 344.8 L128.8 344.0 L129.5 343.2 L130.2 342.3 L130.9 341.5 L131.5 340.8 L132.2 339.8 L132.9 339.0 L133.5 338.2 L134.2 337.2 L134.8 336.4 L135.4 335.5 L136.0 334.7 L136.6 333.8 L137.2 332.9 L137.9 332.0 L138.5 331.1 L139.1 330.2 L139.8 329.4 L140.4 328.5 L141.0 327.7 L141.7 326.8 L142.3 326.0 L143.0 325.1 L143.7 324.2 L144.2 323.5 L145.0 322.5 L145.6 321.8 L146.2 321.0 L147.0 320.1 L147.7 319.2 L148.3 318.5 L149.0 317.7 L149.8 316.8 L150.5 316.0 L151.1 315.2 L151.8 314.5 L152.5 313.8 L153.2 313.0 L154.0 312.2 L154.8 311.5 L155.6 310.8 L156.4 310.0 L157.2 309.3 L158.0 308.7 L158.9 308.0 L159.8 307.4 L160.8 306.8 L161.6 306.2 L162.5 305.8 L163.5 305.2 L164.7 304.8 L165.8 304.3 L166.9 304.0 L168.0 303.7 L169.5 303.5 L170.8 303.5 L172.0 303.5 L173.2 303.8 L174.5 304.2 L175.4 304.8 L176.2 305.4 L177.0 306.1 L177.7 307.0 L178.2 308.0 L178.7 309.0 L179.0 310.0 L179.3 311.2 L179.4 312.8 L179.5 314.2 L179.4 315.8 L179.2 317.0 L179.0 318.3 L178.7 319.5 L178.3 320.8 L178.0 321.8 L177.5 322.9 L177.0 324.0 L176.5 325.0 L176.0 325.9 L175.5 326.8 L174.8 327.8 L174.2 328.6 L173.6 329.5 L173.0 330.2 L172.2 331.1 L171.5 331.9 L170.8 332.8 L170.0 333.5 L169.3 334.2 L168.5 335.0 L167.8 335.8 L167.0 336.5 L166.2 337.2 L165.5 337.9 L164.8 338.6 L164.0 339.3 L163.2 340.0 L162.4 340.8 L161.6 341.5 L160.8 342.2 L160.0 343.0 L159.2 343.7 L158.5 344.4 L157.8 345.2 L157.0 345.9 L156.2 346.6 L155.5 347.3 L154.8 348.0 L154.0 348.8 L153.2 349.5 L152.5 350.2 L151.7 351.0 L150.9 351.8 L150.2 352.5 L149.4 353.2 L148.7 354.0 L148.0 354.8 L147.2 355.5 L146.5 356.3 L145.8 357.1 L145.0 358.0 L144.3 358.8 L143.7 359.5 L143.0 360.2 L142.2 361.1 L141.5 361.9 L140.8 362.6 L140.0 363.3 L139.2 364.0 L138.4 364.8 L137.5 365.4 L136.6 366.0 L135.8 366.5 L134.8 367.1 L133.8 367.6 L132.7 368.0 L131.5 368.4 L130.2 368.6ZM130.2 367.3 L128.8 367.4 L127.2 367.3 L126.0 367.1 L125.0 366.8 L124.0 366.2 L123.0 365.5 L122.3 364.8 L121.8 364.0 L121.2 363.0 L120.8 361.8 L120.6 360.5 L120.6 359.0 L120.8 357.8 L121.1 356.5 L121.5 355.4 L122.0 354.3 L122.5 353.4 L123.1 352.5 L123.8 351.5 L124.4 350.8 L125.0 350.0 L125.8 349.2 L126.5 348.5 L127.2 347.7 L128.0 347.0 L128.8 346.2 L129.5 345.5 L130.2 344.7 L131.0 343.9 L131.8 343.0 L132.4 342.2 L133.0 341.4 L133.7 340.5 L134.2 339.7 L134.9 338.8 L135.5 337.8 L136.1 337.0 L136.7 336.0 L137.2 335.2 L137.9 334.2 L138.5 333.4 L139.1 332.5 L139.8 331.6 L140.3 330.8 L141.0 329.8 L141.6 329.0 L142.2 328.1 L142.9 327.2 L143.5 326.4 L144.2 325.5 L144.8 324.8 L145.5 323.9 L146.2 323.0 L146.8 322.2 L147.5 321.4 L148.2 320.5 L148.9 319.8 L149.5 319.0 L150.2 318.1 L151.0 317.3 L151.7 316.5 L152.4 315.8 L153.1 315.0 L153.8 314.2 L154.5 313.5 L155.3 312.8 L156.1 312.0 L156.9 311.2 L157.8 310.5 L158.5 309.9 L159.4 309.2 L160.2 308.7 L161.2 308.0 L162.2 307.5 L163.1 307.0 L164.2 306.5 L165.2 306.1 L166.3 305.8 L167.5 305.5 L169.0 305.3 L170.2 305.2 L171.5 305.4 L172.8 305.7 L173.8 306.1 L174.7 306.8 L175.5 307.4 L176.2 308.2 L176.8 309.1 L177.2 310.2 L177.6 311.2 L177.9 312.5 L178.0 313.8 L178.0 315.2 L178.0 316.5 L177.8 318.0 L177.5 319.2 L177.2 320.2 L176.8 321.5 L176.4 322.5 L176.0 323.5 L175.4 324.5 L174.9 325.5 L174.3 326.5 L173.8 327.3 L173.0 328.2 L172.5 329.0 L171.8 329.9 L171.0 330.7 L170.3 331.5 L169.5 332.2 L168.8 333.0 L168.0 333.7 L167.2 334.4 L166.5 335.1 L165.8 335.8 L165.0 336.5 L164.2 337.2 L163.4 338.0 L162.6 338.8 L161.8 339.5 L161.0 340.2 L160.2 340.9 L159.5 341.6 L158.8 342.3 L158.0 343.1 L157.2 343.8 L156.5 344.5 L155.7 345.2 L154.9 346.0 L154.1 346.8 L153.3 347.5 L152.5 348.2 L151.8 348.9 L151.0 349.6 L150.2 350.3 L149.5 351.0 L148.7 351.8 L148.0 352.5 L147.2 353.2 L146.5 354.0 L145.7 354.8 L145.0 355.6 L144.2 356.4 L143.5 357.2 L142.9 358.0 L142.2 358.8 L141.5 359.6 L140.8 360.5 L140.1 361.2 L139.4 362.0 L138.6 362.8 L137.8 363.5 L137.0 364.1 L136.1 364.8 L135.2 365.3 L134.2 365.9 L133.2 366.4 L132.2 366.8 L131.0 367.1ZM130.0 366.0 L128.5 366.1 L127.2 366.0 L126.0 365.7 L125.0 365.2 L124.0 364.5 L123.3 363.8 L122.8 363.0 L122.2 361.9 L121.9 360.8 L121.8 359.2 L122.0 357.8 L122.2 356.7 L122.7 355.5 L123.2 354.5 L123.8 353.6 L124.3 352.8 L125.0 351.9 L125.8 351.1 L126.5 350.3 L127.2 349.6 L128.0 348.9 L128.8 348.2 L129.7 347.5 L130.5 346.8 L131.2 346.0 L131.9 345.2 L132.6 344.5 L133.2 343.7 L133.9 342.8 L134.5 341.9 L135.1 341.0 L135.7 340.0 L136.2 339.2 L136.8 338.2 L137.4 337.2 L138.0 336.4 L138.5 335.5 L139.2 334.5 L139.8 333.7 L140.4 332.8 L141.0 331.8 L141.6 331.0 L142.2 330.0 L142.8 329.2 L143.5 328.3 L144.1 327.5 L144.8 326.7 L145.5 325.8 L146.1 325.0 L146.8 324.1 L147.5 323.2 L148.1 322.5 L148.8 321.7 L149.5 320.8 L150.2 320.0 L150.8 319.2 L151.5 318.5 L152.2 317.6 L153.0 316.8 L153.7 316.0 L154.4 315.2 L155.2 314.5 L155.9 313.8 L156.7 313.0 L157.5 312.3 L158.2 311.7 L159.1 311.0 L160.0 310.3 L160.8 309.8 L161.8 309.2 L162.8 308.6 L163.8 308.1 L164.8 307.7 L166.0 307.3 L167.2 307.0 L168.5 306.9 L170.0 306.9 L171.2 307.1 L172.4 307.5 L173.3 308.0 L174.2 308.8 L174.9 309.5 L175.5 310.4 L176.0 311.4 L176.4 312.5 L176.6 313.8 L176.7 315.2 L176.7 316.8 L176.5 318.2 L176.3 319.5 L176.0 320.5 L175.5 321.8 L175.1 322.8 L174.7 323.8 L174.1 324.8 L173.5 325.8 L173.0 326.5 L172.3 327.5 L171.7 328.2 L171.0 329.1 L170.2 329.9 L169.5 330.7 L168.8 331.4 L168.0 332.1 L167.2 332.8 L166.5 333.5 L165.6 334.2 L164.8 335.0 L164.0 335.7 L163.2 336.4 L162.5 337.1 L161.8 337.8 L161.0 338.5 L160.2 339.2 L159.4 340.0 L158.6 340.8 L157.8 341.5 L157.1 342.2 L156.3 343.0 L155.5 343.7 L154.8 344.4 L154.0 345.1 L153.2 345.8 L152.5 346.5 L151.6 347.2 L150.8 348.0 L150.0 348.7 L149.2 349.3 L148.5 350.0 L147.6 350.8 L146.8 351.5 L146.0 352.2 L145.2 353.0 L144.5 353.7 L143.8 354.5 L143.1 355.2 L142.5 356.0 L141.8 356.9 L141.1 357.8 L140.5 358.5 L139.8 359.5 L139.1 360.2 L138.5 361.0 L137.8 361.8 L137.0 362.5 L136.1 363.2 L135.2 363.9 L134.3 364.5 L133.3 365.0 L132.2 365.5 L131.2 365.8 L130.0 366.0ZM130.5 364.8 L129.0 364.9 L127.5 364.8 L126.5 364.5 L125.5 364.0 L124.6 363.2 L124.0 362.5 L123.4 361.5 L123.1 360.2 L123.0 359.0 L123.1 357.8 L123.5 356.5 L123.9 355.5 L124.4 354.5 L125.0 353.7 L125.8 352.8 L126.5 352.0 L127.2 351.3 L128.0 350.6 L128.8 350.0 L129.8 349.3 L130.5 348.8 L131.5 348.0 L132.2 347.3 L133.0 346.6 L133.7 345.8 L134.3 345.0 L135.0 344.0 L135.5 343.2 L136.0 342.2 L136.6 341.2 L137.2 340.2 L137.7 339.2 L138.2 338.3 L138.8 337.4 L139.3 336.5 L139.9 335.5 L140.5 334.5 L141.0 333.8 L141.7 332.8 L142.2 331.9 L142.8 331.0 L143.5 330.1 L144.1 329.2 L144.8 328.4 L145.4 327.5 L146.0 326.8 L146.8 325.8 L147.4 325.0 L148.0 324.2 L148.8 323.4 L149.5 322.5 L150.1 321.8 L150.8 321.0 L151.5 320.1 L152.2 319.3 L152.9 318.5 L153.6 317.8 L154.3 317.0 L155.0 316.2 L155.8 315.5 L156.5 314.8 L157.3 314.0 L158.1 313.2 L159.0 312.5 L159.8 311.9 L160.7 311.2 L161.5 310.7 L162.5 310.1 L163.5 309.6 L164.5 309.2 L165.7 308.8 L166.8 308.5 L168.2 308.3 L169.8 308.4 L171.0 308.7 L172.0 309.1 L172.9 309.8 L173.7 310.5 L174.2 311.3 L174.8 312.2 L175.2 313.5 L175.5 314.8 L175.6 316.0 L175.5 317.5 L175.3 318.8 L175.1 320.0 L174.8 321.0 L174.3 322.2 L173.8 323.2 L173.3 324.2 L172.8 325.1 L172.2 326.0 L171.5 326.9 L170.8 327.8 L170.1 328.5 L169.4 329.2 L168.7 330.0 L167.8 330.8 L167.0 331.5 L166.2 332.2 L165.5 332.8 L164.7 333.5 L163.9 334.2 L163.0 335.0 L162.2 335.7 L161.5 336.4 L160.8 337.1 L160.0 337.8 L159.2 338.6 L158.5 339.3 L157.8 340.0 L157.0 340.8 L156.2 341.5 L155.4 342.2 L154.6 343.0 L153.8 343.8 L153.0 344.4 L152.2 345.1 L151.5 345.8 L150.6 346.5 L149.8 347.2 L149.0 347.8 L148.2 348.5 L147.2 349.2 L146.5 349.8 L145.6 350.5 L144.8 351.2 L144.0 351.9 L143.2 352.6 L142.5 353.3 L141.8 354.2 L141.1 355.0 L140.5 355.9 L139.9 356.8 L139.3 357.8 L138.7 358.5 L138.0 359.5 L137.4 360.2 L136.8 361.0 L136.0 361.8 L135.2 362.5 L134.2 363.2 L133.3 363.8 L132.3 364.2 L131.2 364.6ZM130.2 363.8 L128.8 363.8 L127.5 363.6 L126.5 363.2 L125.5 362.5 L124.9 361.8 L124.4 360.8 L124.1 359.5 L124.1 358.0 L124.5 356.8 L124.9 355.8 L125.5 354.8 L126.1 354.0 L126.8 353.2 L127.6 352.5 L128.5 351.8 L129.3 351.2 L130.2 350.7 L131.2 350.1 L132.2 349.5 L133.1 349.0 L134.0 348.4 L134.8 347.6 L135.4 346.8 L136.0 345.8 L136.5 344.9 L137.0 343.8 L137.5 342.8 L137.9 341.8 L138.4 340.8 L138.9 339.8 L139.4 338.8 L139.9 337.8 L140.4 336.8 L141.0 335.8 L141.5 334.9 L142.0 334.0 L142.7 333.0 L143.2 332.2 L143.9 331.2 L144.5 330.4 L145.1 329.5 L145.8 328.7 L146.4 327.8 L147.0 327.0 L147.8 326.1 L148.5 325.2 L149.1 324.5 L149.8 323.7 L150.5 322.8 L151.2 322.0 L151.9 321.2 L152.6 320.5 L153.2 319.7 L154.0 318.9 L154.8 318.1 L155.5 317.3 L156.2 316.5 L157.0 315.8 L157.8 315.0 L158.5 314.3 L159.2 313.7 L160.1 313.0 L161.0 312.3 L161.9 311.8 L162.8 311.2 L163.8 310.7 L164.9 310.2 L166.0 309.9 L167.2 309.7 L168.8 309.7 L170.0 309.9 L171.0 310.3 L172.0 310.9 L172.8 311.6 L173.4 312.5 L173.9 313.5 L174.2 314.5 L174.5 316.0 L174.5 317.2 L174.4 318.5 L174.2 319.8 L173.8 321.0 L173.4 322.0 L173.0 323.0 L172.4 324.0 L171.8 325.0 L171.2 325.8 L170.5 326.7 L169.8 327.5 L169.0 328.2 L168.3 329.0 L167.5 329.7 L166.8 330.3 L166.0 331.0 L165.1 331.8 L164.2 332.4 L163.5 333.1 L162.7 333.8 L161.9 334.5 L161.1 335.2 L160.3 336.0 L159.6 336.8 L158.8 337.5 L158.1 338.2 L157.3 339.0 L156.5 339.8 L155.8 340.5 L155.0 341.2 L154.2 341.9 L153.5 342.6 L152.7 343.2 L151.8 344.0 L151.0 344.7 L150.2 345.3 L149.3 346.0 L148.5 346.6 L147.7 347.2 L146.8 347.9 L145.9 348.5 L145.0 349.1 L144.0 349.7 L143.2 350.2 L142.2 351.0 L141.5 351.6 L140.8 352.3 L140.0 353.2 L139.5 354.0 L138.9 355.0 L138.5 356.0 L138.0 357.0 L137.4 358.0 L136.8 359.0 L136.2 359.8 L135.5 360.7 L134.8 361.5 L134.0 362.1 L133.0 362.7 L132.0 363.2 L131.0 363.6ZM141.0 348.8 L139.5 348.9 L138.6 348.2 L138.4 347.0 L138.5 345.6 L138.7 344.2 L139.0 343.2 L139.4 342.0 L139.8 340.9 L140.2 339.8 L140.6 338.8 L141.1 337.8 L141.6 336.8 L142.1 335.8 L142.7 334.8 L143.2 333.9 L143.8 333.0 L144.5 332.0 L145.0 331.2 L145.7 330.2 L146.2 329.5 L147.0 328.5 L147.6 327.8 L148.2 326.9 L149.0 326.0 L149.7 325.2 L150.3 324.5 L151.0 323.7 L151.8 322.9 L152.5 322.1 L153.2 321.2 L153.9 320.5 L154.6 319.8 L155.3 319.0 L156.0 318.2 L156.8 317.5 L157.5 316.7 L158.2 315.9 L159.0 315.2 L159.8 314.5 L160.7 313.8 L161.5 313.2 L162.5 312.6 L163.5 312.0 L164.5 311.6 L165.5 311.2 L166.8 311.0 L168.2 310.9 L169.5 311.1 L170.5 311.5 L171.5 312.2 L172.2 313.0 L172.8 313.8 L173.2 315.0 L173.5 316.2 L173.6 317.5 L173.5 318.8 L173.2 320.0 L172.8 321.2 L172.4 322.2 L171.9 323.2 L171.3 324.2 L170.8 325.0 L170.0 326.0 L169.3 326.8 L168.5 327.5 L167.8 328.2 L167.0 328.8 L166.2 329.5 L165.2 330.2 L164.5 330.8 L163.7 331.5 L162.8 332.2 L162.0 333.0 L161.2 333.7 L160.5 334.4 L159.8 335.1 L159.0 335.9 L158.2 336.7 L157.5 337.4 L156.8 338.2 L156.0 338.9 L155.2 339.6 L154.5 340.3 L153.8 341.0 L152.9 341.8 L152.0 342.5 L151.2 343.2 L150.5 343.8 L149.5 344.5 L148.8 345.0 L147.8 345.7 L146.8 346.2 L146.0 346.8 L145.0 347.3 L144.0 347.8 L142.8 348.2 L141.8 348.6ZM130.0 362.8 L128.5 362.8 L127.5 362.5 L126.5 361.9 L125.8 361.1 L125.3 360.0 L125.1 358.8 L125.3 357.5 L125.7 356.2 L126.2 355.4 L126.9 354.5 L127.7 353.8 L128.5 353.1 L129.5 352.5 L130.5 352.0 L131.5 351.7 L132.8 351.3 L134.0 351.1 L135.5 351.1 L136.6 351.5 L137.0 352.8 L137.0 353.8 L136.8 355.2 L136.5 356.5 L136.2 357.5 L135.7 358.5 L135.1 359.5 L134.5 360.2 L133.7 361.0 L132.8 361.7 L131.8 362.2 L130.8 362.6ZM144.2 345.8 L142.8 345.9 L141.7 345.5 L141.0 344.6 L140.8 343.2 L141.0 341.8 L141.2 340.5 L141.6 339.5 L142.0 338.4 L142.5 337.2 L143.0 336.2 L143.5 335.3 L144.0 334.4 L144.5 333.5 L145.2 332.5 L145.8 331.6 L146.4 330.8 L147.0 329.9 L147.7 329.0 L148.3 328.2 L149.0 327.4 L149.8 326.5 L150.4 325.8 L151.1 325.0 L151.8 324.2 L152.5 323.5 L153.2 322.7 L154.0 321.9 L154.8 321.1 L155.5 320.3 L156.2 319.5 L156.9 318.8 L157.6 318.0 L158.3 317.2 L159.1 316.5 L159.8 315.8 L160.7 315.0 L161.5 314.4 L162.4 313.8 L163.2 313.2 L164.2 312.7 L165.5 312.3 L166.8 312.0 L168.0 312.0 L169.2 312.2 L170.2 312.7 L171.0 313.3 L171.8 314.2 L172.2 315.2 L172.6 316.2 L172.7 317.8 L172.6 319.2 L172.3 320.5 L171.9 321.5 L171.5 322.5 L170.9 323.5 L170.2 324.4 L169.6 325.2 L168.9 326.0 L168.1 326.8 L167.2 327.5 L166.5 328.1 L165.6 328.8 L164.8 329.4 L163.9 330.0 L163.0 330.7 L162.2 331.3 L161.5 332.0 L160.7 332.8 L160.0 333.5 L159.2 334.2 L158.5 335.0 L157.8 335.8 L157.0 336.6 L156.2 337.4 L155.5 338.1 L154.8 338.8 L154.0 339.6 L153.2 340.2 L152.4 341.0 L151.5 341.7 L150.8 342.3 L149.8 343.0 L149.0 343.5 L148.0 344.2 L147.0 344.7 L146.0 345.2 L145.0 345.6ZM130.0 361.8 L128.8 361.7 L127.5 361.3 L126.8 360.6 L126.2 359.5 L126.1 358.2 L126.4 357.0 L127.0 356.0 L127.6 355.2 L128.4 354.5 L129.2 353.9 L130.2 353.5 L131.5 353.2 L133.0 353.2 L134.0 353.6 L134.7 354.5 L135.0 355.5 L135.0 356.8 L134.6 358.0 L134.1 359.0 L133.5 359.8 L132.8 360.5 L131.8 361.2 L130.8 361.6ZM145.5 343.8 L144.0 343.8 L143.2 343.2 L142.7 342.2 L142.6 340.8 L142.8 339.5 L143.2 338.2 L143.6 337.2 L144.0 336.2 L144.5 335.2 L145.1 334.2 L145.7 333.2 L146.2 332.4 L146.8 331.5 L147.5 330.6 L148.1 329.8 L148.8 329.0 L149.5 328.1 L150.2 327.2 L150.9 326.5 L151.6 325.8 L152.3 325.0 L153.0 324.2 L153.8 323.5 L154.5 322.8 L155.2 322.0 L156.0 321.2 L156.8 320.4 L157.5 319.6 L158.2 318.8 L158.9 318.0 L159.6 317.2 L160.4 316.5 L161.2 315.8 L162.0 315.1 L162.8 314.5 L163.8 314.0 L164.8 313.5 L166.0 313.1 L167.2 313.0 L168.5 313.1 L169.5 313.5 L170.5 314.2 L171.1 315.0 L171.6 316.0 L171.9 317.2 L171.9 318.8 L171.7 320.0 L171.3 321.2 L170.8 322.2 L170.2 323.2 L169.7 324.0 L169.0 324.8 L168.2 325.6 L167.5 326.2 L166.5 327.0 L165.8 327.5 L164.8 328.2 L163.9 328.8 L163.0 329.4 L162.2 330.0 L161.3 330.8 L160.5 331.5 L159.8 332.2 L159.1 333.0 L158.4 333.8 L157.8 334.5 L157.0 335.3 L156.2 336.1 L155.5 336.9 L154.8 337.7 L154.0 338.4 L153.2 339.1 L152.5 339.8 L151.5 340.5 L150.8 341.1 L149.8 341.8 L149.0 342.3 L148.0 342.8 L147.0 343.3 L145.8 343.7ZM130.8 360.5 L129.2 360.7 L128.1 360.2 L127.5 359.5 L127.2 358.2 L127.5 357.1 L128.0 356.2 L128.8 355.5 L129.8 354.9 L131.0 354.6 L132.2 354.8 L133.2 355.5 L133.5 356.5 L133.4 357.8 L133.0 358.8 L132.2 359.6 L131.4 360.2ZM147.2 341.8 L145.8 342.0 L144.7 341.5 L144.2 340.5 L144.2 339.0 L144.5 337.8 L144.9 336.8 L145.3 335.8 L145.8 334.8 L146.3 333.8 L147.0 332.8 L147.5 331.9 L148.2 331.0 L148.8 330.2 L149.5 329.3 L150.2 328.5 L150.9 327.8 L151.6 327.0 L152.3 326.2 L153.1 325.5 L153.8 324.8 L154.6 324.0 L155.4 323.2 L156.2 322.5 L156.9 321.8 L157.6 321.0 L158.3 320.2 L159.0 319.4 L159.7 318.5 L160.4 317.8 L161.1 317.0 L161.9 316.2 L162.8 315.5 L163.6 315.0 L164.5 314.5 L165.8 314.0 L167.0 313.9 L168.2 314.0 L169.4 314.5 L170.2 315.2 L170.8 316.1 L171.1 317.2 L171.2 318.8 L171.0 320.0 L170.6 321.2 L170.1 322.2 L169.5 323.2 L168.8 324.0 L168.1 324.8 L167.3 325.5 L166.5 326.1 L165.5 326.7 L164.5 327.2 L163.6 327.8 L162.7 328.2 L161.8 328.9 L161.0 329.6 L160.2 330.3 L159.5 331.1 L158.8 332.0 L158.1 332.8 L157.5 333.5 L156.8 334.3 L156.0 335.2 L155.2 336.0 L154.5 336.7 L153.8 337.5 L153.0 338.2 L152.2 338.8 L151.4 339.5 L150.5 340.1 L149.6 340.8 L148.6 341.2 L147.5 341.7ZM130.5 359.3 L129.1 359.2 L128.5 358.2 L129.0 357.0 L129.8 356.3 L131.0 356.1 L131.8 356.8 L131.8 358.2 L131.1 359.0ZM148.5 340.0 L147.0 340.2 L146.0 339.7 L145.7 338.5 L145.8 337.2 L146.2 336.0 L146.7 335.0 L147.2 334.0 L147.8 333.0 L148.3 332.2 L149.0 331.2 L149.6 330.5 L150.2 329.7 L151.0 328.8 L151.8 328.0 L152.5 327.3 L153.2 326.6 L154.0 325.9 L154.8 325.2 L155.7 324.5 L156.5 323.8 L157.2 323.1 L158.0 322.3 L158.6 321.5 L159.2 320.7 L159.9 319.8 L160.5 319.0 L161.2 318.0 L162.0 317.2 L162.8 316.5 L163.5 315.9 L164.5 315.3 L165.5 314.9 L166.8 314.7 L168.0 314.8 L169.0 315.3 L169.8 316.0 L170.3 317.0 L170.5 318.2 L170.5 319.5 L170.1 320.8 L169.7 321.8 L169.1 322.8 L168.5 323.5 L167.7 324.2 L166.8 325.0 L166.0 325.5 L165.0 326.0 L163.8 326.5 L162.8 327.0 L161.8 327.5 L161.0 328.0 L160.2 328.8 L159.5 329.5 L158.8 330.4 L158.1 331.2 L157.5 332.0 L156.8 333.0 L156.1 333.8 L155.5 334.5 L154.8 335.3 L154.0 336.1 L153.2 336.8 L152.5 337.5 L151.5 338.2 L150.8 338.8 L149.8 339.4 L148.8 339.9ZM149.2 338.3 L147.8 338.2 L147.3 337.2 L147.5 335.8 L147.9 334.8 L148.3 333.8 L148.9 332.8 L149.5 331.9 L150.2 331.0 L150.8 330.2 L151.5 329.5 L152.3 328.8 L153.1 328.0 L154.0 327.3 L154.8 326.7 L155.8 326.1 L156.6 325.5 L157.5 324.9 L158.4 324.2 L159.0 323.5 L159.6 322.5 L160.1 321.5 L160.6 320.5 L161.2 319.5 L161.8 318.7 L162.5 317.8 L163.2 317.0 L164.0 316.4 L165.0 315.9 L166.1 315.5 L167.5 315.5 L168.5 315.9 L169.2 316.6 L169.8 317.6 L169.9 319.0 L169.7 320.2 L169.2 321.4 L168.8 322.3 L168.0 323.2 L167.2 323.9 L166.3 324.5 L165.3 325.0 L164.2 325.4 L163.0 325.6 L161.8 325.9 L160.6 326.2 L159.8 326.9 L159.0 327.8 L158.5 328.6 L157.9 329.5 L157.3 330.5 L156.8 331.4 L156.1 332.2 L155.5 333.1 L154.8 334.0 L154.1 334.8 L153.4 335.5 L152.6 336.2 L151.8 336.9 L150.9 337.5 L150.0 338.0ZM165.0 324.3 L163.5 324.5 L162.2 324.2 L161.5 323.5 L161.2 322.2 L161.5 321.0 L161.9 320.0 L162.4 319.0 L163.0 318.2 L163.8 317.4 L164.7 316.8 L165.8 316.3 L167.0 316.1 L168.1 316.5 L168.9 317.2 L169.3 318.2 L169.3 319.8 L169.0 320.8 L168.5 321.8 L167.8 322.7 L167.0 323.3 L166.0 323.9 L165.0 324.3ZM150.2 336.3 L149.2 336.0 L149.2 334.6 L149.7 333.5 L150.2 332.6 L150.9 331.8 L151.5 331.0 L152.2 330.2 L153.1 329.5 L154.0 328.9 L155.0 328.5 L156.1 328.8 L156.0 330.0 L155.5 331.1 L155.0 332.0 L154.3 333.0 L153.6 333.8 L152.9 334.5 L152.1 335.2 L151.2 335.8 L150.2 336.3ZM165.2 323.5 L163.8 323.5 L162.9 323.0 L162.4 322.0 L162.5 320.5 L162.9 319.5 L163.5 318.5 L164.2 317.8 L165.0 317.2 L166.2 316.8 L167.6 317.0 L168.4 317.8 L168.8 318.8 L168.7 320.0 L168.2 321.1 L167.7 322.0 L166.9 322.8 L166.0 323.3ZM165.5 322.8 L164.2 322.7 L163.4 322.0 L163.2 320.8 L163.5 319.7 L164.1 318.8 L164.9 318.0 L165.9 317.5 L167.1 317.5 L168.0 318.2 L168.2 319.5 L167.9 320.8 L167.2 321.7 L166.5 322.3 L165.5 322.8ZM165.8 322.0 L164.5 321.9 L164.0 321.0 L164.2 319.8 L164.8 318.9 L165.6 318.2 L167.0 318.2 L167.6 319.0 L167.5 320.3 L166.9 321.2 L166.0 321.9ZM165.5 321.3 L164.8 320.5 L165.2 319.3 L166.2 318.9 L167.0 319.8 L166.5 320.8 L165.5 321.3Z" fill="none" stroke="#000" stroke-width="1.25" stroke-linejoin="round"/></g>
<path d="M167.0 316.5 L167.7 316.5 L168.5 316.6 L169.2 316.9 L169.8 317.4 L170.2 317.9 L170.5 318.5 L170.6 319.2 L170.6 319.9 L170.5 320.8 L170.2 321.7 L169.7 322.8 L169.0 324.0 L167.9 325.4 L166.6 327.0 L165.0 328.7 L163.4 330.5 L161.6 332.3 L160.0 334.0 L158.3 335.7 L156.6 337.6 L154.8 339.4 L153.0 341.2 L151.4 342.7 L150.0 344.0 L148.8 345.0 L147.9 345.7 L147.0 346.2 L146.3 346.6 L145.6 346.9 L145.0 347.0 L144.4 347.0 L143.8 346.9 L143.3 346.6 L142.9 346.1 L142.6 345.6 L142.5 345.0 L142.6 344.3 L142.8 343.4 L143.1 342.5 L143.6 341.4 L144.2 340.3 L145.0 339.0 L146.0 337.6 L147.2 335.9 L148.6 334.2 L150.1 332.4 L151.5 330.7 L153.0 329.0 L154.5 327.4 L156.1 325.7 L157.7 324.1 L159.3 322.6 L160.7 321.2 L162.0 320.0 L163.1 319.0 L164.0 318.2 L164.8 317.6 L165.6 317.1 L166.3 316.7Z" fill="#000" stroke="#000" stroke-width="1.0" stroke-linejoin="round"/>
<line x1="147" y1="267.7" x2="147" y2="320" stroke="#000" stroke-width="1.1"/>
<line x1="45.5" y1="347" x2="97.5" y2="347" stroke="#000" stroke-width="1.1"/>
<polygon points="97.5,347.0 147.0,320.0 162.5,342.3 168.3,348.6 175.8,349.4 125.9,412.5" fill="none" stroke="#000" stroke-width="1.4" stroke-linejoin="miter"/>
<line x1="168.3" y1="348.6" x2="238.2" y2="341" stroke="#000" stroke-width="1.1"/>
<line x1="125.9" y1="412.5" x2="125.9" y2="438.2" stroke="#000" stroke-width="1.4"/>
<line x1="125.9" y1="449.2" x2="125.9" y2="460.2" stroke="#000" stroke-width="1.4"/>
<text transform="translate(1.31,272.00) scale(0.9358,1)" font-size="26.43" font-weight="bold" fill="#000">C</text>
<text transform="translate(68.66,297.00) scale(1.0282,1)" font-size="17.10" font-weight="bold" fill="#000">MEP</text>
<text x="234.4" y="278.2" font-size="8.8" text-anchor="end" fill="#222" >HOEbright</text>
<text x="234.4" y="288.4" font-size="8.8" text-anchor="end" fill="#222" >25.7</text>
<text x="200.5" y="417.0" font-size="9" text-anchor="middle" fill="#222" >HOEmedium</text>
<text x="201.0" y="427.4" font-size="9" text-anchor="middle" fill="#222" >66</text>
<text x="112.4" y="447.6" font-size="9" text-anchor="middle" fill="#222" >HOEneg</text>
<text x="112.4" y="458.2" font-size="9" text-anchor="middle" fill="#222" >6.75</text>
<text transform="translate(15.00,416.56) rotate(-90) scale(1.0337,1)" font-size="17.24" font-weight="bold" fill="#000">Hoechst Blue</text>
<text transform="translate(229.03,508.20) scale(1.0255,1)" font-size="17.52" font-weight="bold" fill="#000">Hoechst red</text>
<rect x="326.8" y="267.7" width="192.7" height="192.5" fill="none" stroke="#000" stroke-width="1.3"/>
<line x1="326.5" y1="267.09999999999997" x2="326.5" y2="461.0" stroke="#000" stroke-width="2.2"/>
<line x1="326.0" y1="460.2" x2="520.1" y2="460.2" stroke="#000" stroke-width="1.6"/>
<line x1="320.40000000000003" y1="285.4" x2="326.8" y2="285.4" stroke="#000" stroke-width="1.1"/>
<line x1="323.1" y1="315.80519518861684" x2="326.8" y2="315.80519518861684" stroke="#000" stroke-width="1.1"/>
<line x1="323.1" y1="308.14522541969467" x2="326.8" y2="308.14522541969467" stroke="#000" stroke-width="1.1"/>
<line x1="323.1" y1="302.71039037723364" x2="326.8" y2="302.71039037723364" stroke="#000" stroke-width="1.1"/>
<line x1="323.1" y1="298.4948048113832" x2="326.8" y2="298.4948048113832" stroke="#000" stroke-width="1.1"/>
<line x1="323.1" y1="295.05042060831147" x2="326.8" y2="295.05042060831147" stroke="#000" stroke-width="1.1"/>
<line x1="323.1" y1="292.1382352593798" x2="326.8" y2="292.1382352593798" stroke="#000" stroke-width="1.1"/>
<line x1="323.1" y1="289.61558556585044" x2="326.8" y2="289.61558556585044" stroke="#000" stroke-width="1.1"/>
<line x1="323.1" y1="287.39045083938936" x2="326.8" y2="287.39045083938936" stroke="#000" stroke-width="1.1"/>
<line x1="320.40000000000003" y1="328.9" x2="326.8" y2="328.9" stroke="#000" stroke-width="1.1"/>
<line x1="323.1" y1="359.58478319035123" x2="326.8" y2="359.58478319035123" stroke="#000" stroke-width="1.1"/>
<line x1="323.1" y1="351.8543769178068" x2="326.8" y2="351.8543769178068" stroke="#000" stroke-width="1.1"/>
<line x1="323.1" y1="346.36956638070245" x2="326.8" y2="346.36956638070245" stroke="#000" stroke-width="1.1"/>
<line x1="323.1" y1="342.11521680964876" x2="326.8" y2="342.11521680964876" stroke="#000" stroke-width="1.1"/>
<line x1="323.1" y1="338.639160108158" x2="326.8" y2="338.639160108158" stroke="#000" stroke-width="1.1"/>
<line x1="323.1" y1="335.70019604337415" x2="326.8" y2="335.70019604337415" stroke="#000" stroke-width="1.1"/>
<line x1="323.1" y1="333.1543495710537" x2="326.8" y2="333.1543495710537" stroke="#000" stroke-width="1.1"/>
<line x1="323.1" y1="330.90875383561365" x2="326.8" y2="330.90875383561365" stroke="#000" stroke-width="1.1"/>
<line x1="320.40000000000003" y1="372.79999999999995" x2="326.8" y2="372.79999999999995" stroke="#000" stroke-width="1.1"/>
<line x1="323.1" y1="405.1623112007577" x2="326.8" y2="405.1623112007577" stroke="#000" stroke-width="1.1"/>
<line x1="323.1" y1="397.0092859064796" x2="326.8" y2="397.0092859064796" stroke="#000" stroke-width="1.1"/>
<line x1="323.1" y1="391.2246224015153" x2="326.8" y2="391.2246224015153" stroke="#000" stroke-width="1.1"/>
<line x1="323.1" y1="386.7376887992423" x2="326.8" y2="386.7376887992423" stroke="#000" stroke-width="1.1"/>
<line x1="323.1" y1="383.07159710723727" x2="326.8" y2="383.07159710723727" stroke="#000" stroke-width="1.1"/>
<line x1="323.1" y1="379.9719607473399" x2="326.8" y2="379.9719607473399" stroke="#000" stroke-width="1.1"/>
<line x1="323.1" y1="377.286933602273" x2="326.8" y2="377.286933602273" stroke="#000" stroke-width="1.1"/>
<line x1="323.1" y1="374.91857181295927" x2="326.8" y2="374.91857181295927" stroke="#000" stroke-width="1.1"/>
<line x1="320.40000000000003" y1="419.1" x2="326.8" y2="419.1" stroke="#000" stroke-width="1.1"/>
<line x1="323.1" y1="272.3051951886168" x2="326.8" y2="272.3051951886168" stroke="#000" stroke-width="1.1"/>
<line x1="320.40000000000003" y1="439.95" x2="326.8" y2="439.95" stroke="#000" stroke-width="1.1"/>
<line x1="323.1" y1="425.2" x2="326.8" y2="425.2" stroke="#000" stroke-width="1.1"/>
<line x1="323.1" y1="432.2" x2="326.8" y2="432.2" stroke="#000" stroke-width="1.1"/>
<line x1="323.1" y1="447.2" x2="326.8" y2="447.2" stroke="#000" stroke-width="1.1"/>
<line x1="323.1" y1="453.45" x2="326.8" y2="453.45" stroke="#000" stroke-width="1.1"/>
<line x1="323.1" y1="458.45" x2="326.8" y2="458.45" stroke="#000" stroke-width="1.1"/>
<line x1="367.0" y1="460.2" x2="367.0" y2="466.5" stroke="#000" stroke-width="1.1"/>
<line x1="381.3290277936055" y1="460.2" x2="381.3290277936055" y2="463.8" stroke="#000" stroke-width="1.1"/>
<line x1="389.71097172465596" y1="460.2" x2="389.71097172465596" y2="463.8" stroke="#000" stroke-width="1.1"/>
<line x1="395.65805558721104" y1="460.2" x2="395.65805558721104" y2="463.8" stroke="#000" stroke-width="1.1"/>
<line x1="400.2709722063945" y1="460.2" x2="400.2709722063945" y2="463.8" stroke="#000" stroke-width="1.1"/>
<line x1="404.0399995182614" y1="460.2" x2="404.0399995182614" y2="463.8" stroke="#000" stroke-width="1.1"/>
<line x1="407.2266667046786" y1="460.2" x2="407.2266667046786" y2="463.8" stroke="#000" stroke-width="1.1"/>
<line x1="409.98708338081656" y1="460.2" x2="409.98708338081656" y2="463.8" stroke="#000" stroke-width="1.1"/>
<line x1="412.42194344931187" y1="460.2" x2="412.42194344931187" y2="463.8" stroke="#000" stroke-width="1.1"/>
<line x1="414.6" y1="460.2" x2="414.6" y2="466.5" stroke="#000" stroke-width="1.1"/>
<line x1="427.6345988122504" y1="460.2" x2="427.6345988122504" y2="463.8" stroke="#000" stroke-width="1.1"/>
<line x1="435.2593503293614" y1="460.2" x2="435.2593503293614" y2="463.8" stroke="#000" stroke-width="1.1"/>
<line x1="440.6691976245008" y1="460.2" x2="440.6691976245008" y2="463.8" stroke="#000" stroke-width="1.1"/>
<line x1="444.8654011877496" y1="460.2" x2="444.8654011877496" y2="463.8" stroke="#000" stroke-width="1.1"/>
<line x1="448.2939491416118" y1="460.2" x2="448.2939491416118" y2="463.8" stroke="#000" stroke-width="1.1"/>
<line x1="451.19274513261735" y1="460.2" x2="451.19274513261735" y2="463.8" stroke="#000" stroke-width="1.1"/>
<line x1="453.7037964367512" y1="460.2" x2="453.7037964367512" y2="463.8" stroke="#000" stroke-width="1.1"/>
<line x1="455.91870065872274" y1="460.2" x2="455.91870065872274" y2="463.8" stroke="#000" stroke-width="1.1"/>
<line x1="457.9" y1="460.2" x2="457.9" y2="466.5" stroke="#000" stroke-width="1.1"/>
<line x1="470.9345988122504" y1="460.2" x2="470.9345988122504" y2="463.8" stroke="#000" stroke-width="1.1"/>
<line x1="478.5593503293614" y1="460.2" x2="478.5593503293614" y2="463.8" stroke="#000" stroke-width="1.1"/>
<line x1="483.9691976245008" y1="460.2" x2="483.9691976245008" y2="463.8" stroke="#000" stroke-width="1.1"/>
<line x1="488.16540118774964" y1="460.2" x2="488.16540118774964" y2="463.8" stroke="#000" stroke-width="1.1"/>
<line x1="491.5939491416118" y1="460.2" x2="491.5939491416118" y2="463.8" stroke="#000" stroke-width="1.1"/>
<line x1="494.4927451326173" y1="460.2" x2="494.4927451326173" y2="463.8" stroke="#000" stroke-width="1.1"/>
<line x1="497.00379643675114" y1="460.2" x2="497.00379643675114" y2="463.8" stroke="#000" stroke-width="1.1"/>
<line x1="499.2187006587228" y1="460.2" x2="499.2187006587228" y2="463.8" stroke="#000" stroke-width="1.1"/>
<line x1="501.20000000000005" y1="460.2" x2="501.20000000000005" y2="466.5" stroke="#000" stroke-width="1.1"/>
<line x1="514.2345988122504" y1="460.2" x2="514.2345988122504" y2="463.8" stroke="#000" stroke-width="1.1"/>
<line x1="346.0" y1="460.2" x2="346.0" y2="466.5" stroke="#000" stroke-width="1.1"/>
<line x1="327.7" y1="460.2" x2="327.7" y2="466.5" stroke="#000" stroke-width="1.1"/>
<line x1="332.0" y1="460.2" x2="332.0" y2="463.8" stroke="#000" stroke-width="1.1"/>
<line x1="336.3" y1="460.2" x2="336.3" y2="463.8" stroke="#000" stroke-width="1.1"/>
<line x1="339.2" y1="460.2" x2="339.2" y2="463.8" stroke="#000" stroke-width="1.1"/>
<line x1="342.0" y1="460.2" x2="342.0" y2="463.8" stroke="#000" stroke-width="1.1"/>
<line x1="349.8" y1="460.2" x2="349.8" y2="463.8" stroke="#000" stroke-width="1.1"/>
<line x1="354.6" y1="460.2" x2="354.6" y2="463.8" stroke="#000" stroke-width="1.1"/>
<line x1="359.40000000000003" y1="460.2" x2="359.40000000000003" y2="463.8" stroke="#000" stroke-width="1.1"/>
<line x1="363.3" y1="460.2" x2="363.3" y2="463.8" stroke="#000" stroke-width="1.1"/>
<text x="318.8" y="289.10" font-size="8.8" text-anchor="end" fill="#222">10<tspan font-size="7.4" dy="-4.4">5</tspan></text>
<text x="318.8" y="332.60" font-size="8.8" text-anchor="end" fill="#222">10<tspan font-size="7.4" dy="-4.4">4</tspan></text>
<text x="318.8" y="376.50" font-size="8.8" text-anchor="end" fill="#222">10<tspan font-size="7.4" dy="-4.4">3</tspan></text>
<text x="318.8" y="422.80" font-size="8.8" text-anchor="end" fill="#222">10<tspan font-size="7.4" dy="-4.4">2</tspan></text>
<text x="318.8" y="443.45" font-size="8.8" text-anchor="end" fill="#222">0</text>
<text x="347.50" y="479.20" font-size="8.8" text-anchor="middle" fill="#222">0</text>
<text x="360.70" y="479.20" font-size="8.8" fill="#222">10<tspan font-size="7.4" dy="-4.4">2</tspan></text>
<text x="408.30" y="479.20" font-size="8.8" fill="#222">10<tspan font-size="7.4" dy="-4.4">3</tspan></text>
<text x="451.60" y="479.20" font-size="8.8" fill="#222">10<tspan font-size="7.4" dy="-4.4">4</tspan></text>
<text x="494.90" y="479.20" font-size="8.8" fill="#222">10<tspan font-size="7.4" dy="-4.4">5</tspan></text>
<clipPath id="clipD"><path d="M370.2 375.6 L370.6 374.7 L371.1 373.8 L371.9 372.9 L372.8 372.0 L373.8 370.9 L375.0 369.8 L376.3 368.5 L377.8 367.1 L379.4 365.6 L381.1 364.0 L382.8 362.5 L384.6 361.0 L386.4 359.5 L388.3 358.0 L390.2 356.5 L392.2 355.1 L394.1 353.7 L396.0 352.5 L397.9 351.4 L399.7 350.5 L401.5 349.6 L403.3 348.8 L405.2 347.9 L407.0 347.0 L408.9 346.1 L410.7 345.1 L412.6 344.2 L414.5 343.2 L416.3 342.1 L418.0 341.0 L419.6 339.8 L421.2 338.6 L422.8 337.3 L424.2 336.0 L425.6 334.5 L427.0 333.0 L428.3 331.3 L429.5 329.4 L430.7 327.3 L431.9 325.4 L432.9 323.5 L434.0 322.0 L435.0 320.7 L435.9 319.6 L436.8 318.7 L437.7 317.9 L438.6 317.2 L439.5 316.5 L440.4 315.9 L441.4 315.4 L442.3 314.9 L443.2 314.6 L444.1 314.2 L445.0 314.0 L445.9 313.8 L446.7 313.7 L447.5 313.6 L448.4 313.6 L449.2 313.7 L450.0 313.8 L450.9 314.0 L451.8 314.3 L452.7 314.6 L453.6 315.0 L454.3 315.5 L455.0 316.0 L455.5 316.5 L456.0 317.1 L456.4 317.8 L456.7 318.5 L456.9 319.2 L457.0 320.0 L457.0 320.9 L456.9 321.8 L456.7 322.8 L456.4 323.9 L456.0 324.9 L455.5 326.0 L454.9 327.1 L454.2 328.3 L453.5 329.4 L452.6 330.6 L451.8 331.8 L451.0 333.0 L450.2 334.1 L449.5 335.1 L448.7 336.2 L447.9 337.3 L447.0 338.5 L446.0 340.0 L444.9 341.7 L443.6 343.6 L442.3 345.6 L440.9 347.7 L439.5 349.8 L438.0 352.0 L436.5 354.2 L434.9 356.5 L433.2 358.9 L431.5 361.3 L429.7 363.6 L428.0 366.0 L426.2 368.4 L424.3 370.9 L422.4 373.4 L420.6 375.8 L418.7 378.0 L417.0 380.0 L415.3 381.7 L413.7 383.2 L412.2 384.5 L410.7 385.7 L409.3 386.7 L408.0 387.5 L406.9 388.1 L406.1 388.5 L405.3 388.8 L404.4 388.9 L403.4 389.0 L402.0 389.0 L400.1 389.0 L397.9 388.9 L395.5 388.7 L393.0 388.5 L390.6 388.3 L388.5 388.0 L386.6 387.8 L384.9 387.5 L383.2 387.2 L381.7 386.9 L380.2 386.5 L378.8 386.0 L377.4 385.3 L376.1 384.6 L374.9 383.7 L373.8 382.8 L372.8 381.9 L372.0 381.0 L371.3 380.1 L370.8 379.2 L370.4 378.3 L370.1 377.4 L370.1 376.5Z"/></clipPath>
<path d="M327.0 376.4 L327.7 376.6 L328.7 376.9 L329.8 377.3 L331.1 377.6 L332.4 377.9 L333.7 377.9 L335.0 377.8 L336.3 377.5 L337.7 377.1 L339.1 376.7 L340.7 376.2 L342.3 375.6 L344.0 375.0 L345.9 374.3 L347.9 373.5 L349.9 372.7 L351.8 371.9 L353.8 371.0 L355.8 370.1 L357.7 369.1 L359.7 368.1 L361.7 367.0 L363.6 366.0 L365.4 365.0 L367.1 364.0 L368.8 363.1 L370.4 362.1 L372.0 361.2 L373.5 360.3 L375.0 359.5 L376.4 358.8 L377.7 358.3 L378.9 357.8 L380.1 357.3 L381.5 356.7 L383.0 356.0 L384.7 355.1 L386.6 354.1 L388.6 352.9 L390.6 351.8 L392.6 350.6 L394.6 349.5 L396.5 348.4 L398.4 347.3 L400.3 346.2 L402.2 345.1 L404.1 344.0 L406.0 343.0 L408.0 342.0 L410.0 341.1 L412.0 340.2 L414.0 339.3 L415.9 338.3 L417.7 337.3 L419.3 336.2 L420.8 335.0 L422.2 333.9 L423.5 332.6 L424.8 331.3 L426.0 330.0 L427.1 328.6 L428.2 327.0 L429.2 325.4 L430.2 323.8 L431.1 322.3 L432.0 321.0 L432.9 319.8 L433.7 318.7 L434.5 317.6 L435.3 316.7 L436.1 315.8 L437.0 315.0 L437.9 314.3 L438.9 313.7 L439.9 313.2 L440.9 312.7 L442.0 312.3 L443.0 312.0 L444.0 311.7 L445.1 311.5 L446.1 311.3 L447.2 311.2 L448.2 311.2 L449.2 311.2 L450.2 311.3 L451.2 311.5 L452.2 311.7 L453.2 312.0 L454.1 312.4 L455.0 313.0 L455.9 313.8 L456.8 314.7 L457.7 315.7 L458.5 316.8 L459.2 318.0 L459.6 319.0 L459.8 320.0 L459.8 321.0 L459.6 322.1 L459.3 323.1 L459.0 324.1 L458.5 325.0 L457.9 325.9 L457.2 326.8 L456.3 327.6 L455.4 328.4 L454.6 329.2 L453.8 330.0 L453.1 330.7 L452.5 331.2 L451.9 331.8 L451.3 332.3 L450.6 333.1 L449.8 334.0 L448.8 335.2 L447.7 336.5 L446.6 338.0 L445.4 339.6 L444.2 341.2 L443.0 342.8 L441.9 344.4 L440.9 345.9 L439.8 347.6 L438.7 349.2 L437.6 351.0 L436.3 352.9 L434.9 354.9 L433.5 357.0 L432.1 359.1 L430.5 361.4 L428.8 363.8 L427.0 366.3 L424.9 369.1 L422.6 372.1 L420.2 375.3 L417.8 378.4 L415.5 381.3 L413.5 383.8 L411.8 385.9 L410.3 387.7 L408.9 389.2 L407.6 390.6 L406.3 391.9 L405.0 393.0 L403.7 394.0 L402.4 394.9 L401.1 395.6 L399.8 396.2 L398.4 396.7 L397.0 397.0 L395.5 397.2 L393.9 397.1 L392.2 397.0 L390.6 396.7 L389.0 396.4 L387.5 396.0 L386.2 395.5 L384.9 395.0 L383.8 394.4 L382.6 393.7 L381.3 393.0 L379.8 392.3 L378.1 391.6 L376.1 391.0 L374.1 390.3 L372.1 389.6 L370.1 388.8 L368.3 388.0 L366.7 387.1 L365.1 386.1 L363.6 385.0 L362.2 384.0 L360.8 383.0 L359.6 382.2 L358.5 381.4 L357.6 380.7 L356.7 380.1 L355.8 379.6 L354.9 379.1 L353.8 378.8 L352.5 378.6 L351.1 378.5 L349.6 378.6 L348.1 378.7 L346.6 379.0 L345.2 379.3 L343.9 379.7 L342.6 380.3 L341.4 380.9 L340.2 381.7 L339.1 382.6 L338.0 383.6 L336.9 384.8 L335.9 386.3 L335.0 387.9 L334.0 389.5 L333.1 391.0 L332.2 392.3 L331.2 393.5 L330.2 394.6 L329.2 395.7 L328.3 396.6 L327.6 397.4 L327.0 398.0M370.2 375.6 L370.6 374.7 L371.1 373.8 L371.9 372.9 L372.8 372.0 L373.8 370.9 L375.0 369.8 L376.3 368.5 L377.8 367.1 L379.4 365.6 L381.1 364.0 L382.8 362.5 L384.6 361.0 L386.4 359.5 L388.3 358.0 L390.2 356.5 L392.2 355.1 L394.1 353.7 L396.0 352.5 L397.9 351.4 L399.7 350.5 L401.5 349.6 L403.3 348.8 L405.2 347.9 L407.0 347.0 L408.9 346.1 L410.7 345.1 L412.6 344.2 L414.5 343.2 L416.3 342.1 L418.0 341.0 L419.6 339.8 L421.2 338.6 L422.8 337.3 L424.2 336.0 L425.6 334.5 L427.0 333.0 L428.3 331.3 L429.5 329.4 L430.7 327.3 L431.9 325.4 L432.9 323.5 L434.0 322.0 L435.0 320.7 L435.9 319.6 L436.8 318.7 L437.7 317.9 L438.6 317.2 L439.5 316.5 L440.4 315.9 L441.4 315.4 L442.3 314.9 L443.2 314.6 L444.1 314.2 L445.0 314.0 L445.9 313.8 L446.7 313.7 L447.5 313.6 L448.4 313.6 L449.2 313.7 L450.0 313.8 L450.9 314.0 L451.8 314.3 L452.7 314.6 L453.6 315.0 L454.3 315.5 L455.0 316.0 L455.5 316.5 L456.0 317.1 L456.4 317.8 L456.7 318.5 L456.9 319.2 L457.0 320.0 L457.0 320.9 L456.9 321.8 L456.7 322.8 L456.4 323.9 L456.0 324.9 L455.5 326.0 L454.9 327.1 L454.2 328.3 L453.5 329.4 L452.6 330.6 L451.8 331.8 L451.0 333.0 L450.2 334.1 L449.5 335.1 L448.7 336.2 L447.9 337.3 L447.0 338.5 L446.0 340.0 L444.9 341.7 L443.6 343.6 L442.3 345.6 L440.9 347.7 L439.5 349.8 L438.0 352.0 L436.5 354.2 L434.9 356.5 L433.2 358.9 L431.5 361.3 L429.7 363.6 L428.0 366.0 L426.2 368.4 L424.3 370.9 L422.4 373.4 L420.6 375.8 L418.7 378.0 L417.0 380.0 L415.3 381.7 L413.7 383.2 L412.2 384.5 L410.7 385.7 L409.3 386.7 L408.0 387.5 L406.9 388.1 L406.1 388.5 L405.3 388.8 L404.4 388.9 L403.4 389.0 L402.0 389.0 L400.1 389.0 L397.9 388.9 L395.5 388.7 L393.0 388.5 L390.6 388.3 L388.5 388.0 L386.6 387.8 L384.9 387.5 L383.2 387.2 L381.7 386.9 L380.2 386.5 L378.8 386.0 L377.4 385.3 L376.1 384.6 L374.9 383.7 L373.8 382.8 L372.8 381.9 L372.0 381.0 L371.3 380.1 L370.8 379.2 L370.4 378.3 L370.1 377.4 L370.1 376.5Z" fill="none" stroke="#000" stroke-width="1.25" stroke-linejoin="round"/>
<g clip-path="url(#clipD)"><path d="M399.5 391.5 L398.0 391.6 L396.5 391.6 L395.2 391.5 L393.8 391.3 L392.5 391.0 L391.4 390.8 L390.2 390.4 L389.2 389.9 L388.2 389.4 L387.2 388.8 L386.5 388.2 L385.6 387.5 L384.8 386.8 L384.2 386.0 L383.5 385.2 L382.9 384.2 L382.3 383.2 L381.8 382.2 L381.4 381.2 L381.0 380.2 L380.6 379.0 L380.3 377.8 L380.1 376.5 L379.9 375.2 L379.8 373.8 L379.7 372.5 L379.7 371.0 L379.8 369.8 L379.9 368.2 L380.0 367.0 L380.2 365.7 L380.5 364.4 L380.8 363.2 L381.1 362.0 L381.5 360.8 L381.8 359.8 L382.2 358.5 L382.6 357.5 L383.1 356.5 L383.5 355.5 L384.0 354.5 L384.5 353.5 L385.0 352.5 L385.6 351.5 L386.2 350.5 L386.8 349.5 L387.2 348.7 L387.9 347.8 L388.5 346.8 L389.1 346.0 L389.8 345.1 L390.4 344.2 L391.0 343.4 L391.7 342.5 L392.3 341.8 L393.0 340.8 L393.7 340.0 L394.3 339.2 L395.0 338.4 L395.7 337.5 L396.4 336.8 L397.0 336.0 L397.8 335.1 L398.5 334.2 L399.1 333.5 L399.8 332.7 L400.5 331.8 L401.2 331.0 L401.8 330.2 L402.5 329.5 L403.2 328.6 L403.9 327.8 L404.6 327.0 L405.2 326.2 L406.0 325.3 L406.6 324.5 L407.3 323.8 L408.0 322.9 L408.7 322.0 L409.3 321.2 L410.0 320.4 L410.8 319.5 L411.4 318.8 L412.0 318.0 L412.8 317.2 L413.5 316.3 L414.2 315.5 L414.8 314.8 L415.5 313.9 L416.2 313.1 L417.0 312.2 L417.6 311.5 L418.3 310.8 L419.0 310.0 L419.8 309.2 L420.5 308.3 L421.2 307.6 L422.0 306.8 L422.7 306.0 L423.5 305.2 L424.2 304.5 L425.0 303.8 L425.8 303.0 L426.5 302.3 L427.2 301.6 L428.0 301.0 L428.8 300.2 L430.0 300.0 L431.5 300.0 L433.0 300.0 L434.5 300.0 L436.0 299.9 L437.5 299.9 L439.0 299.9 L440.5 299.9 L442.0 299.9 L443.5 299.9 L445.0 299.9 L446.5 299.9 L448.0 299.9 L449.5 299.9 L451.0 299.9 L452.5 299.9 L454.0 299.9 L455.5 299.9 L457.0 299.9 L458.5 299.9 L460.0 299.9 L461.5 299.9 L463.0 299.9 L464.5 299.9 L466.0 299.9 L467.5 299.9 L469.0 299.9 L470.1 300.2 L470.1 301.8 L470.1 303.2 L470.1 304.8 L470.1 306.2 L470.1 307.8 L470.1 309.2 L470.1 310.8 L470.1 312.2 L470.1 313.8 L470.1 315.2 L470.1 316.8 L470.1 318.2 L470.0 319.8 L470.0 321.2 L470.0 322.8 L470.0 324.2 L470.0 325.8 L470.0 327.2 L470.0 328.8 L469.8 330.0 L469.3 331.0 L468.8 332.0 L468.2 333.0 L467.8 333.9 L467.2 334.8 L466.6 335.8 L466.0 336.7 L465.5 337.5 L464.9 338.5 L464.2 339.4 L463.6 340.2 L463.0 341.1 L462.4 342.0 L461.8 342.8 L461.0 343.8 L460.4 344.5 L459.8 345.4 L459.0 346.2 L458.4 347.0 L457.8 347.8 L457.0 348.6 L456.3 349.5 L455.6 350.2 L454.9 351.0 L454.2 351.8 L453.5 352.6 L452.8 353.4 L452.0 354.2 L451.2 355.0 L450.5 355.8 L449.8 356.5 L449.1 357.2 L448.4 358.0 L447.7 358.8 L447.0 359.5 L446.2 360.2 L445.5 361.0 L444.8 361.8 L444.0 362.6 L443.2 363.3 L442.5 364.1 L441.8 364.9 L441.0 365.7 L440.2 366.4 L439.5 367.2 L438.8 367.9 L438.0 368.7 L437.2 369.5 L436.5 370.2 L435.8 370.9 L435.0 371.7 L434.2 372.4 L433.5 373.1 L432.8 373.8 L432.0 374.5 L431.2 375.2 L430.4 376.0 L429.5 376.8 L428.8 377.4 L428.0 378.1 L427.2 378.8 L426.3 379.5 L425.5 380.1 L424.6 380.8 L423.8 381.4 L422.9 382.0 L422.0 382.7 L421.1 383.2 L420.2 383.8 L419.2 384.5 L418.4 385.0 L417.5 385.5 L416.5 386.1 L415.5 386.6 L414.5 387.1 L413.5 387.6 L412.5 388.0 L411.4 388.5 L410.2 389.0 L409.2 389.3 L408.1 389.8 L407.0 390.1 L405.8 390.4 L404.5 390.7 L403.3 391.0 L402.0 391.2 L400.8 391.4 L399.5 391.5ZM401.8 388.3 L400.2 388.4 L398.8 388.4 L397.2 388.3 L396.0 388.2 L394.8 388.0 L393.5 387.6 L392.4 387.2 L391.2 386.8 L390.3 386.2 L389.5 385.7 L388.5 385.0 L387.8 384.3 L387.0 383.6 L386.3 382.8 L385.7 382.0 L385.1 381.0 L384.6 380.0 L384.1 379.0 L383.7 378.0 L383.3 376.8 L383.0 375.5 L382.8 374.2 L382.6 373.0 L382.5 371.5 L382.5 370.2 L382.5 369.0 L382.6 367.5 L382.8 366.2 L383.0 364.8 L383.2 363.5 L383.5 362.5 L383.8 361.2 L384.2 360.0 L384.6 359.0 L385.0 357.9 L385.5 356.8 L385.9 355.8 L386.4 354.8 L387.0 353.8 L387.5 352.8 L388.0 351.9 L388.5 351.0 L389.2 350.0 L389.8 349.1 L390.3 348.2 L391.0 347.3 L391.6 346.5 L392.2 345.6 L392.9 344.8 L393.5 344.0 L394.2 343.1 L394.9 342.2 L395.5 341.5 L396.2 340.6 L397.0 339.8 L397.6 339.0 L398.3 338.2 L399.0 337.4 L399.8 336.5 L400.4 335.8 L401.0 335.0 L401.8 334.2 L402.5 333.3 L403.1 332.5 L403.8 331.8 L404.5 330.9 L405.2 330.0 L405.9 329.2 L406.5 328.5 L407.2 327.6 L407.9 326.8 L408.5 326.0 L409.2 325.1 L410.0 324.2 L410.6 323.5 L411.2 322.7 L412.0 321.8 L412.6 321.0 L413.2 320.2 L414.0 319.3 L414.7 318.5 L415.3 317.8 L416.0 316.9 L416.8 316.0 L417.4 315.2 L418.1 314.5 L418.8 313.7 L419.5 312.8 L420.2 312.0 L420.9 311.2 L421.6 310.5 L422.3 309.8 L423.0 309.0 L423.8 308.2 L424.5 307.4 L425.2 306.7 L426.0 305.9 L426.8 305.2 L427.5 304.5 L428.3 303.8 L429.1 303.0 L429.9 302.2 L430.8 301.5 L431.5 300.9 L432.3 300.2 L433.5 300.0 L435.0 300.0 L436.5 300.0 L438.0 300.0 L439.5 299.9 L441.0 299.9 L442.5 299.9 L444.0 299.9 L445.5 299.9 L447.0 299.9 L448.5 299.9 L450.0 299.9 L451.5 299.9 L453.0 299.9 L454.5 299.9 L456.0 299.9 L457.5 299.9 L459.0 299.9 L460.5 299.9 L462.0 299.9 L463.5 299.9 L465.0 299.9 L466.5 299.9 L468.0 300.0 L469.5 300.0 L470.0 300.8 L470.0 302.2 L470.0 303.8 L470.0 305.2 L470.0 306.8 L470.0 308.2 L470.0 309.8 L470.0 311.2 L470.0 312.8 L470.0 314.2 L470.0 315.8 L470.0 317.2 L470.0 318.8 L470.0 320.2 L470.0 321.8 L470.0 323.2 L469.9 324.5 L469.5 325.5 L469.0 326.6 L468.5 327.7 L468.0 328.7 L467.5 329.7 L467.0 330.7 L466.5 331.6 L466.0 332.5 L465.4 333.5 L464.8 334.5 L464.2 335.4 L463.7 336.2 L463.0 337.2 L462.5 338.0 L461.8 339.0 L461.2 339.8 L460.5 340.8 L459.9 341.5 L459.2 342.4 L458.5 343.2 L457.9 344.0 L457.2 344.8 L456.5 345.7 L455.8 346.5 L455.1 347.2 L454.4 348.0 L453.8 348.8 L453.0 349.6 L452.2 350.4 L451.5 351.2 L450.8 352.0 L450.0 352.7 L449.3 353.5 L448.6 354.2 L447.8 355.0 L447.1 355.8 L446.4 356.5 L445.6 357.2 L444.9 358.0 L444.2 358.8 L443.4 359.5 L442.7 360.2 L442.0 361.0 L441.2 361.8 L440.5 362.5 L439.8 363.3 L439.0 364.1 L438.2 364.8 L437.5 365.6 L436.8 366.4 L436.0 367.1 L435.2 367.9 L434.5 368.6 L433.8 369.4 L433.0 370.1 L432.2 370.9 L431.5 371.6 L430.8 372.3 L430.0 373.0 L429.2 373.8 L428.4 374.5 L427.5 375.2 L426.8 375.9 L426.0 376.6 L425.2 377.2 L424.2 378.0 L423.5 378.6 L422.6 379.2 L421.8 379.9 L420.9 380.5 L420.0 381.1 L419.0 381.7 L418.2 382.2 L417.2 382.8 L416.2 383.4 L415.2 383.9 L414.2 384.4 L413.2 384.9 L412.2 385.4 L411.2 385.8 L410.0 386.2 L409.0 386.6 L407.8 387.0 L406.8 387.3 L405.5 387.6 L404.2 387.9 L403.0 388.1 L401.8 388.3ZM401.0 385.5 L399.7 385.5 L398.2 385.4 L397.0 385.2 L395.8 384.9 L394.5 384.5 L393.5 384.1 L392.5 383.6 L391.5 383.0 L390.8 382.5 L389.9 381.8 L389.2 381.0 L388.5 380.2 L387.8 379.2 L387.2 378.3 L386.8 377.3 L386.3 376.2 L385.9 375.2 L385.6 374.0 L385.3 372.8 L385.1 371.5 L385.0 370.0 L385.0 368.5 L385.1 367.0 L385.2 365.5 L385.4 364.2 L385.7 363.0 L386.0 361.8 L386.3 360.8 L386.7 359.5 L387.1 358.5 L387.5 357.5 L388.0 356.4 L388.5 355.4 L389.0 354.4 L389.5 353.5 L390.1 352.5 L390.7 351.5 L391.2 350.7 L391.9 349.8 L392.5 348.9 L393.2 348.0 L393.8 347.2 L394.5 346.3 L395.1 345.5 L395.8 344.7 L396.5 343.8 L397.2 343.0 L397.8 342.2 L398.5 341.5 L399.2 340.6 L400.0 339.8 L400.6 339.0 L401.3 338.2 L402.0 337.4 L402.8 336.5 L403.4 335.8 L404.0 335.0 L404.8 334.1 L405.5 333.2 L406.1 332.5 L406.8 331.7 L407.5 330.8 L408.2 330.0 L408.8 329.2 L409.5 328.4 L410.2 327.5 L410.8 326.8 L411.5 325.9 L412.2 325.0 L412.8 324.2 L413.5 323.4 L414.2 322.5 L414.8 321.8 L415.5 320.9 L416.2 320.0 L416.8 319.2 L417.5 318.5 L418.2 317.6 L418.9 316.8 L419.6 316.0 L420.2 315.2 L421.0 314.3 L421.7 313.5 L422.4 312.8 L423.1 312.0 L423.8 311.2 L424.5 310.4 L425.2 309.6 L426.0 308.9 L426.8 308.1 L427.5 307.3 L428.2 306.6 L429.0 305.9 L429.8 305.2 L430.5 304.5 L431.4 303.8 L432.2 303.0 L433.0 302.4 L433.8 301.8 L434.8 301.0 L435.5 300.4 L436.5 300.0 L438.0 300.0 L439.5 300.0 L441.0 300.0 L442.5 300.0 L444.0 299.9 L445.5 299.9 L447.0 299.9 L448.5 299.9 L450.0 299.9 L451.5 299.9 L453.0 299.9 L454.5 299.9 L456.0 299.9 L457.5 299.9 L459.0 299.9 L460.5 299.9 L462.0 299.9 L463.5 300.0 L465.0 300.0 L466.5 300.0 L468.0 300.0 L469.5 300.0 L470.0 300.8 L470.0 302.2 L470.0 303.8 L470.0 305.2 L470.0 306.8 L470.0 308.2 L470.0 309.8 L470.0 311.2 L470.0 312.8 L470.0 314.2 L470.0 315.8 L470.0 317.0 L469.7 318.2 L469.3 319.5 L469.0 320.6 L468.6 321.8 L468.2 322.9 L467.8 324.0 L467.4 325.0 L467.0 326.0 L466.5 327.1 L466.0 328.2 L465.5 329.2 L465.0 330.1 L464.5 331.0 L463.9 332.0 L463.4 333.0 L462.8 334.0 L462.2 334.8 L461.6 335.8 L461.0 336.6 L460.4 337.5 L459.8 338.3 L459.1 339.2 L458.5 340.0 L457.8 340.9 L457.1 341.8 L456.4 342.5 L455.8 343.3 L455.0 344.1 L454.2 345.0 L453.5 345.8 L452.9 346.5 L452.2 347.2 L451.4 348.0 L450.7 348.8 L450.0 349.5 L449.2 350.3 L448.5 351.0 L447.8 351.8 L447.0 352.6 L446.2 353.3 L445.5 354.1 L444.8 354.8 L444.0 355.6 L443.2 356.3 L442.5 357.1 L441.8 357.8 L441.0 358.6 L440.2 359.4 L439.5 360.1 L438.8 360.9 L438.0 361.7 L437.2 362.4 L436.5 363.2 L435.8 364.0 L435.0 364.7 L434.3 365.5 L433.5 366.2 L432.8 367.0 L432.0 367.8 L431.3 368.5 L430.5 369.2 L429.8 370.0 L429.0 370.8 L428.2 371.5 L427.5 372.2 L426.8 372.9 L426.0 373.5 L425.2 374.2 L424.3 375.0 L423.5 375.7 L422.8 376.3 L421.8 377.0 L421.0 377.6 L420.1 378.2 L419.2 378.9 L418.3 379.5 L417.5 380.0 L416.5 380.6 L415.5 381.2 L414.5 381.7 L413.5 382.2 L412.5 382.7 L411.5 383.1 L410.5 383.5 L409.2 383.9 L408.2 384.3 L407.0 384.6 L405.8 384.9 L404.5 385.2 L403.2 385.3 L401.8 385.5ZM404.0 382.8 L402.5 382.9 L401.0 382.9 L399.5 382.8 L398.2 382.6 L397.0 382.3 L396.0 382.0 L394.9 381.5 L394.0 381.0 L393.0 380.4 L392.2 379.8 L391.4 379.0 L390.7 378.2 L390.0 377.3 L389.5 376.5 L388.9 375.5 L388.5 374.5 L388.1 373.2 L387.8 372.1 L387.5 370.8 L387.4 369.5 L387.3 368.0 L387.3 366.5 L387.5 365.0 L387.7 363.8 L387.9 362.5 L388.2 361.3 L388.6 360.2 L389.0 359.1 L389.4 358.0 L389.9 357.0 L390.4 356.0 L390.9 355.0 L391.5 354.0 L392.0 353.2 L392.6 352.2 L393.2 351.3 L393.8 350.5 L394.5 349.6 L395.1 348.8 L395.8 348.0 L396.5 347.0 L397.2 346.2 L397.8 345.5 L398.5 344.7 L399.2 343.8 L400.0 343.0 L400.6 342.2 L401.3 341.5 L402.0 340.7 L402.8 339.8 L403.5 339.0 L404.1 338.2 L404.8 337.5 L405.5 336.6 L406.2 335.8 L406.8 335.0 L407.5 334.2 L408.2 333.2 L408.8 332.5 L409.5 331.7 L410.2 330.8 L410.8 330.0 L411.5 329.2 L412.2 328.2 L412.8 327.5 L413.5 326.6 L414.2 325.8 L414.8 325.0 L415.5 324.1 L416.2 323.2 L416.8 322.5 L417.5 321.6 L418.2 320.8 L418.8 320.0 L419.5 319.1 L420.2 318.2 L420.8 317.5 L421.5 316.7 L422.2 315.8 L423.0 315.0 L423.6 314.2 L424.3 313.5 L425.0 312.7 L425.8 311.9 L426.5 311.1 L427.2 310.3 L428.0 309.6 L428.8 308.8 L429.5 308.1 L430.2 307.4 L431.0 306.7 L431.8 306.0 L432.6 305.2 L433.5 304.5 L434.2 303.9 L435.0 303.2 L436.0 302.5 L436.8 302.0 L437.8 301.3 L438.5 300.8 L439.5 300.1 L440.8 300.0 L442.2 300.0 L443.8 300.0 L445.2 300.0 L446.8 300.0 L448.2 300.0 L449.8 299.9 L451.2 299.9 L452.8 299.9 L454.2 299.9 L455.8 299.9 L457.2 299.9 L458.8 300.0 L460.2 300.0 L461.8 300.0 L463.2 300.0 L464.8 300.0 L466.2 300.0 L467.0 300.7 L467.4 301.8 L467.8 302.8 L468.1 304.0 L468.4 305.2 L468.5 306.5 L468.6 308.0 L468.7 309.5 L468.6 311.0 L468.5 312.5 L468.4 313.8 L468.2 315.0 L468.0 316.2 L467.7 317.5 L467.4 318.8 L467.1 320.0 L466.8 321.1 L466.4 322.2 L466.0 323.3 L465.5 324.5 L465.1 325.5 L464.7 326.5 L464.2 327.5 L463.7 328.5 L463.2 329.5 L462.7 330.5 L462.1 331.5 L461.5 332.5 L461.0 333.3 L460.3 334.2 L459.8 335.1 L459.1 336.0 L458.5 336.9 L457.8 337.8 L457.2 338.5 L456.5 339.4 L455.8 340.2 L455.2 341.0 L454.5 341.8 L453.8 342.6 L453.0 343.4 L452.2 344.2 L451.5 345.0 L450.8 345.8 L450.0 346.5 L449.3 347.2 L448.6 348.0 L447.8 348.8 L447.1 349.5 L446.3 350.2 L445.5 351.0 L444.8 351.8 L444.0 352.5 L443.3 353.2 L442.5 354.0 L441.8 354.7 L441.0 355.5 L440.2 356.2 L439.5 357.0 L438.8 357.7 L438.0 358.5 L437.3 359.2 L436.5 360.0 L435.8 360.8 L435.1 361.5 L434.3 362.2 L433.6 363.0 L432.9 363.8 L432.1 364.5 L431.4 365.2 L430.7 366.0 L429.9 366.8 L429.2 367.5 L428.4 368.2 L427.7 369.0 L426.9 369.8 L426.1 370.5 L425.3 371.2 L424.5 372.0 L423.8 372.7 L423.0 373.3 L422.2 374.0 L421.3 374.8 L420.5 375.4 L419.7 376.0 L418.8 376.7 L417.9 377.2 L417.0 377.8 L416.0 378.4 L415.0 379.0 L414.1 379.5 L413.1 380.0 L412.0 380.5 L411.0 380.9 L410.0 381.3 L408.8 381.7 L407.8 382.0 L406.5 382.3 L405.2 382.6 L404.0 382.8ZM403.8 380.5 L402.2 380.6 L401.0 380.5 L399.5 380.3 L398.3 380.0 L397.2 379.6 L396.2 379.2 L395.2 378.7 L394.3 378.0 L393.5 377.3 L392.8 376.6 L392.1 375.8 L391.5 374.9 L391.0 374.0 L390.5 373.0 L390.0 371.8 L389.8 370.6 L389.5 369.2 L389.4 368.0 L389.4 366.5 L389.5 365.0 L389.6 363.8 L389.9 362.5 L390.2 361.2 L390.5 360.2 L391.0 359.0 L391.4 358.0 L391.9 357.0 L392.4 356.0 L393.0 355.0 L393.5 354.2 L394.1 353.2 L394.8 352.3 L395.3 351.5 L396.0 350.6 L396.7 349.8 L397.3 349.0 L398.0 348.2 L398.8 347.3 L399.5 346.5 L400.2 345.8 L400.8 345.0 L401.5 344.2 L402.2 343.4 L403.0 342.6 L403.7 341.8 L404.4 341.0 L405.0 340.2 L405.8 339.4 L406.5 338.5 L407.1 337.8 L407.8 337.0 L408.5 336.1 L409.1 335.2 L409.8 334.5 L410.5 333.5 L411.1 332.8 L411.8 331.9 L412.5 331.0 L413.1 330.2 L413.8 329.4 L414.4 328.5 L415.0 327.7 L415.8 326.8 L416.4 326.0 L417.0 325.2 L417.7 324.2 L418.3 323.5 L419.0 322.6 L419.7 321.8 L420.3 321.0 L421.0 320.2 L421.7 319.2 L422.4 318.5 L423.0 317.7 L423.8 316.9 L424.5 316.0 L425.1 315.2 L425.8 314.5 L426.5 313.7 L427.2 312.9 L428.0 312.1 L428.8 311.3 L429.5 310.6 L430.2 309.8 L431.0 309.1 L431.8 308.4 L432.5 307.7 L433.3 307.0 L434.2 306.2 L435.0 305.6 L435.8 305.0 L436.7 304.2 L437.5 303.7 L438.5 303.0 L439.3 302.5 L440.2 301.9 L441.2 301.3 L442.2 300.8 L443.2 300.2 L444.2 300.0 L445.8 300.0 L447.2 300.0 L448.8 300.0 L450.2 300.0 L451.8 300.0 L453.2 300.0 L454.8 300.0 L456.2 300.0 L457.8 300.0 L459.2 300.0 L460.8 300.0 L462.2 300.0 L463.1 300.5 L463.8 301.3 L464.4 302.2 L464.9 303.2 L465.3 304.2 L465.7 305.5 L466.0 306.8 L466.2 308.0 L466.3 309.2 L466.4 310.8 L466.4 312.2 L466.3 313.8 L466.1 315.0 L465.9 316.2 L465.7 317.5 L465.4 318.8 L465.1 320.0 L464.8 321.2 L464.5 322.2 L464.0 323.5 L463.6 324.5 L463.2 325.5 L462.8 326.5 L462.2 327.6 L461.8 328.6 L461.2 329.5 L460.7 330.5 L460.1 331.5 L459.5 332.4 L459.0 333.2 L458.3 334.2 L457.7 335.0 L457.0 336.0 L456.4 336.8 L455.8 337.5 L455.0 338.4 L454.3 339.2 L453.6 340.0 L453.0 340.8 L452.2 341.5 L451.5 342.3 L450.8 343.1 L450.0 343.8 L449.2 344.6 L448.5 345.4 L447.8 346.1 L447.0 346.8 L446.2 347.6 L445.5 348.3 L444.8 349.0 L444.0 349.8 L443.2 350.5 L442.4 351.2 L441.7 352.0 L440.9 352.8 L440.1 353.5 L439.4 354.2 L438.6 355.0 L437.9 355.8 L437.1 356.5 L436.4 357.2 L435.6 358.0 L434.9 358.8 L434.1 359.5 L433.4 360.2 L432.6 361.0 L431.9 361.8 L431.2 362.5 L430.5 363.2 L429.7 364.0 L429.0 364.8 L428.2 365.5 L427.5 366.3 L426.8 367.0 L426.0 367.8 L425.2 368.5 L424.5 369.3 L423.7 370.0 L422.9 370.8 L422.1 371.5 L421.2 372.2 L420.5 372.9 L419.7 373.5 L418.8 374.2 L418.0 374.8 L417.0 375.5 L416.2 376.0 L415.2 376.6 L414.2 377.2 L413.2 377.7 L412.2 378.2 L411.2 378.6 L410.2 379.0 L409.0 379.5 L408.0 379.8 L406.8 380.1 L405.5 380.3 L404.0 380.5ZM405.5 378.3 L404.0 378.4 L402.5 378.4 L401.0 378.3 L399.8 378.0 L398.8 377.7 L397.6 377.2 L396.7 376.8 L395.8 376.1 L395.0 375.5 L394.2 374.8 L393.5 373.8 L393.0 373.0 L392.4 372.0 L392.0 370.9 L391.6 369.8 L391.4 368.5 L391.3 367.0 L391.2 365.8 L391.3 364.5 L391.5 363.2 L391.8 362.0 L392.2 360.8 L392.5 359.8 L393.0 358.6 L393.5 357.5 L394.0 356.6 L394.5 355.7 L395.1 354.8 L395.8 353.8 L396.3 353.0 L397.0 352.1 L397.7 351.2 L398.4 350.5 L399.0 349.8 L399.8 348.9 L400.5 348.1 L401.2 347.3 L402.0 346.5 L402.7 345.8 L403.4 345.0 L404.1 344.2 L404.8 343.5 L405.5 342.6 L406.2 341.8 L406.9 341.0 L407.5 340.2 L408.2 339.3 L408.9 338.5 L409.5 337.8 L410.2 336.8 L410.9 336.0 L411.5 335.2 L412.2 334.2 L412.8 333.5 L413.5 332.6 L414.1 331.8 L414.8 330.9 L415.4 330.0 L416.0 329.2 L416.8 328.3 L417.3 327.5 L418.0 326.7 L418.7 325.8 L419.3 325.0 L420.0 324.1 L420.7 323.2 L421.3 322.5 L422.0 321.6 L422.7 320.8 L423.3 320.0 L424.0 319.1 L424.7 318.2 L425.4 317.5 L426.0 316.8 L426.8 315.9 L427.5 315.1 L428.2 314.3 L428.9 313.5 L429.7 312.8 L430.4 312.0 L431.1 311.2 L431.9 310.5 L432.7 309.8 L433.5 309.0 L434.2 308.4 L435.0 307.8 L435.9 307.0 L436.8 306.4 L437.6 305.8 L438.5 305.1 L439.4 304.5 L440.2 304.0 L441.2 303.4 L442.2 302.8 L443.2 302.3 L444.2 301.8 L445.2 301.4 L446.3 301.0 L447.5 300.6 L448.8 300.3 L449.9 300.0 L451.2 300.0 L452.8 300.0 L454.2 300.0 L455.8 300.0 L457.0 300.1 L458.0 300.5 L459.0 301.0 L460.0 301.7 L460.8 302.3 L461.5 303.2 L462.1 304.0 L462.7 305.0 L463.1 306.0 L463.5 307.0 L463.8 308.2 L464.1 309.5 L464.2 311.0 L464.3 312.2 L464.3 313.8 L464.2 315.0 L464.0 316.5 L463.8 317.8 L463.6 319.0 L463.3 320.2 L463.0 321.2 L462.6 322.5 L462.2 323.5 L461.8 324.8 L461.3 325.8 L460.9 326.8 L460.4 327.8 L459.9 328.8 L459.3 329.8 L458.8 330.7 L458.2 331.5 L457.6 332.5 L457.0 333.3 L456.3 334.2 L455.7 335.0 L455.0 335.9 L454.3 336.8 L453.6 337.5 L453.0 338.2 L452.2 339.0 L451.5 339.8 L450.8 340.6 L450.0 341.4 L449.2 342.1 L448.5 342.9 L447.8 343.6 L447.0 344.3 L446.2 345.1 L445.5 345.8 L444.7 346.5 L444.0 347.2 L443.2 348.0 L442.4 348.8 L441.6 349.5 L440.8 350.2 L440.0 351.0 L439.3 351.8 L438.5 352.5 L437.8 353.2 L437.0 353.9 L436.2 354.7 L435.5 355.4 L434.8 356.2 L434.0 356.9 L433.2 357.6 L432.5 358.4 L431.8 359.1 L431.0 359.9 L430.2 360.7 L429.5 361.4 L428.8 362.2 L428.0 363.0 L427.2 363.7 L426.5 364.5 L425.8 365.2 L425.1 366.0 L424.3 366.8 L423.6 367.5 L422.8 368.2 L422.0 369.0 L421.2 369.7 L420.5 370.4 L419.8 371.1 L419.0 371.8 L418.0 372.5 L417.2 373.1 L416.3 373.8 L415.5 374.3 L414.5 374.9 L413.5 375.5 L412.6 376.0 L411.5 376.5 L410.5 376.9 L409.5 377.3 L408.2 377.7 L407.1 378.0 L405.8 378.2ZM404.8 376.5 L403.2 376.5 L402.0 376.4 L400.8 376.2 L399.5 375.8 L398.5 375.4 L397.5 374.8 L396.7 374.2 L395.9 373.5 L395.2 372.8 L394.5 371.8 L394.0 370.8 L393.6 369.8 L393.2 368.6 L393.0 367.2 L392.9 366.0 L393.0 364.5 L393.2 363.2 L393.4 362.0 L393.8 360.9 L394.2 359.8 L394.6 358.8 L395.1 357.8 L395.7 356.8 L396.2 355.8 L396.8 355.0 L397.5 354.1 L398.1 353.2 L398.8 352.5 L399.5 351.7 L400.2 350.9 L401.0 350.1 L401.8 349.3 L402.5 348.5 L403.2 347.8 L404.0 347.0 L404.7 346.2 L405.4 345.5 L406.1 344.8 L406.8 344.0 L407.5 343.1 L408.2 342.2 L408.8 341.5 L409.5 340.6 L410.2 339.8 L410.8 339.0 L411.5 338.0 L412.0 337.2 L412.8 336.3 L413.3 335.5 L414.0 334.6 L414.6 333.8 L415.2 332.9 L415.9 332.0 L416.5 331.2 L417.2 330.2 L417.8 329.5 L418.5 328.6 L419.1 327.8 L419.8 326.9 L420.5 326.0 L421.1 325.2 L421.8 324.4 L422.4 323.5 L423.0 322.8 L423.8 321.9 L424.5 321.0 L425.1 320.2 L425.8 319.4 L426.5 318.5 L427.2 317.8 L427.8 317.0 L428.5 316.2 L429.2 315.4 L430.0 314.6 L430.8 313.8 L431.5 313.1 L432.2 312.3 L433.0 311.6 L433.8 310.9 L434.5 310.2 L435.3 309.5 L436.2 308.8 L437.0 308.2 L437.9 307.5 L438.8 306.9 L439.7 306.2 L440.5 305.7 L441.5 305.2 L442.5 304.6 L443.5 304.1 L444.5 303.7 L445.6 303.2 L446.8 302.8 L447.9 302.5 L449.0 302.2 L450.5 302.0 L451.8 301.9 L453.2 302.0 L454.5 302.1 L455.8 302.5 L456.8 302.9 L457.8 303.4 L458.6 304.0 L459.4 304.8 L460.0 305.5 L460.6 306.5 L461.1 307.5 L461.5 308.5 L461.9 309.8 L462.2 311.0 L462.3 312.2 L462.4 313.8 L462.4 315.2 L462.2 316.7 L462.1 318.0 L461.9 319.2 L461.6 320.5 L461.2 321.6 L460.9 322.8 L460.5 323.9 L460.0 325.0 L459.6 326.0 L459.1 327.0 L458.6 328.0 L458.1 329.0 L457.5 329.9 L457.0 330.8 L456.3 331.8 L455.8 332.5 L455.0 333.5 L454.4 334.2 L453.8 335.1 L453.0 335.9 L452.3 336.8 L451.6 337.5 L450.9 338.2 L450.1 339.0 L449.4 339.8 L448.6 340.5 L447.9 341.2 L447.1 342.0 L446.3 342.8 L445.5 343.5 L444.8 344.2 L444.0 344.9 L443.2 345.6 L442.5 346.3 L441.8 347.0 L441.0 347.8 L440.2 348.5 L439.4 349.2 L438.6 350.0 L437.8 350.8 L437.1 351.5 L436.3 352.2 L435.5 353.0 L434.8 353.7 L434.0 354.4 L433.2 355.2 L432.5 355.9 L431.8 356.6 L431.0 357.3 L430.2 358.1 L429.5 358.8 L428.8 359.6 L428.0 360.3 L427.2 361.1 L426.5 361.9 L425.8 362.6 L425.0 363.4 L424.2 364.2 L423.5 365.0 L422.8 365.7 L422.0 366.5 L421.3 367.2 L420.5 368.0 L419.8 368.7 L419.0 369.4 L418.2 370.1 L417.5 370.8 L416.5 371.5 L415.8 372.1 L414.8 372.8 L414.0 373.3 L413.0 373.9 L412.0 374.4 L411.0 374.9 L410.0 375.3 L408.8 375.7 L407.8 376.0 L406.5 376.3 L405.0 376.5ZM405.5 374.8 L404.0 374.8 L402.7 374.8 L401.3 374.5 L400.2 374.2 L399.2 373.7 L398.2 373.1 L397.5 372.5 L396.8 371.7 L396.0 370.8 L395.5 369.9 L395.0 368.8 L394.8 367.7 L394.5 366.2 L394.5 365.0 L394.6 363.8 L394.8 362.5 L395.1 361.2 L395.5 360.2 L396.0 359.1 L396.5 358.1 L397.0 357.2 L397.7 356.2 L398.2 355.5 L399.0 354.5 L399.7 353.8 L400.3 353.0 L401.1 352.2 L401.8 351.5 L402.6 350.8 L403.4 350.0 L404.2 349.2 L404.9 348.5 L405.7 347.8 L406.4 347.0 L407.1 346.2 L407.8 345.5 L408.5 344.6 L409.2 343.8 L409.8 343.0 L410.5 342.1 L411.1 341.2 L411.8 340.4 L412.4 339.5 L413.0 338.6 L413.6 337.8 L414.2 336.8 L414.8 336.0 L415.5 335.1 L416.1 334.2 L416.8 333.3 L417.4 332.5 L418.0 331.6 L418.7 330.8 L419.2 329.9 L420.0 329.0 L420.5 328.2 L421.2 327.3 L421.9 326.5 L422.5 325.7 L423.2 324.8 L423.9 324.0 L424.5 323.2 L425.2 322.3 L425.9 321.5 L426.5 320.8 L427.2 319.9 L428.0 319.0 L428.6 318.2 L429.3 317.5 L430.0 316.7 L430.8 315.9 L431.5 315.1 L432.2 314.3 L433.0 313.6 L433.8 312.9 L434.5 312.2 L435.2 311.5 L436.1 310.8 L437.0 310.0 L437.8 309.4 L438.7 308.8 L439.5 308.2 L440.5 307.5 L441.4 307.0 L442.3 306.5 L443.3 306.0 L444.4 305.5 L445.5 305.1 L446.5 304.8 L447.8 304.4 L449.0 304.2 L450.5 304.0 L452.0 304.0 L453.5 304.2 L454.5 304.5 L455.6 305.0 L456.5 305.5 L457.4 306.2 L458.1 307.0 L458.8 307.8 L459.3 308.8 L459.8 309.8 L460.1 311.0 L460.4 312.2 L460.6 313.5 L460.7 315.0 L460.6 316.5 L460.5 318.0 L460.3 319.2 L460.1 320.5 L459.8 321.7 L459.4 322.8 L459.0 323.9 L458.6 325.0 L458.1 326.0 L457.6 327.0 L457.1 328.0 L456.5 329.0 L456.0 329.8 L455.4 330.8 L454.8 331.6 L454.1 332.5 L453.5 333.2 L452.8 334.1 L452.0 335.0 L451.3 335.8 L450.6 336.5 L449.8 337.2 L449.1 338.0 L448.3 338.8 L447.5 339.5 L446.8 340.2 L446.0 340.9 L445.2 341.6 L444.5 342.3 L443.8 343.0 L443.0 343.8 L442.2 344.5 L441.4 345.2 L440.6 346.0 L439.8 346.8 L439.0 347.5 L438.2 348.2 L437.5 348.9 L436.8 349.6 L436.0 350.3 L435.2 351.0 L434.5 351.8 L433.7 352.5 L432.9 353.2 L432.1 354.0 L431.3 354.8 L430.5 355.5 L429.8 356.2 L429.0 356.9 L428.2 357.6 L427.5 358.4 L426.8 359.1 L426.0 359.8 L425.2 360.6 L424.5 361.4 L423.8 362.1 L423.0 362.9 L422.2 363.7 L421.5 364.5 L420.8 365.2 L420.1 366.0 L419.4 366.8 L418.6 367.5 L417.8 368.2 L417.0 369.0 L416.2 369.7 L415.5 370.3 L414.6 371.0 L413.8 371.6 L412.8 372.2 L411.8 372.8 L410.8 373.2 L409.8 373.7 L408.8 374.1 L407.5 374.4 L406.2 374.7ZM405.5 373.3 L404.0 373.3 L402.8 373.2 L401.5 372.9 L400.5 372.5 L399.5 372.0 L398.6 371.2 L397.8 370.5 L397.2 369.7 L396.7 368.8 L396.2 367.5 L396.0 366.4 L395.9 365.0 L396.0 363.5 L396.2 362.2 L396.5 361.2 L397.0 360.0 L397.5 359.0 L398.0 358.1 L398.6 357.2 L399.2 356.3 L399.9 355.5 L400.6 354.8 L401.3 354.0 L402.1 353.2 L402.9 352.5 L403.8 351.8 L404.5 351.1 L405.2 350.5 L406.0 349.8 L406.8 349.0 L407.6 348.2 L408.3 347.5 L409.0 346.7 L409.8 345.8 L410.3 345.0 L411.0 344.1 L411.6 343.2 L412.2 342.3 L412.8 341.5 L413.5 340.5 L414.0 339.7 L414.7 338.8 L415.2 337.9 L415.9 337.0 L416.5 336.1 L417.1 335.2 L417.8 334.3 L418.3 333.5 L419.0 332.5 L419.6 331.8 L420.2 330.8 L420.8 330.0 L421.5 329.1 L422.2 328.2 L422.8 327.5 L423.5 326.5 L424.1 325.8 L424.8 325.0 L425.5 324.0 L426.1 323.2 L426.8 322.5 L427.5 321.6 L428.2 320.8 L428.9 320.0 L429.5 319.2 L430.2 318.4 L431.0 317.6 L431.8 316.8 L432.5 316.0 L433.2 315.2 L434.0 314.5 L434.8 313.8 L435.5 313.1 L436.2 312.4 L437.0 311.8 L438.0 311.0 L438.8 310.4 L439.7 309.8 L440.5 309.2 L441.5 308.6 L442.5 308.1 L443.5 307.6 L444.5 307.1 L445.6 306.8 L446.8 306.4 L448.0 306.1 L449.2 306.0 L450.8 305.9 L452.0 306.1 L453.2 306.4 L454.2 306.8 L455.2 307.4 L456.1 308.0 L456.8 308.8 L457.5 309.8 L458.0 310.7 L458.4 311.8 L458.8 312.9 L459.0 314.2 L459.1 315.5 L459.1 317.0 L459.0 318.5 L458.8 319.8 L458.6 321.0 L458.2 322.1 L457.9 323.2 L457.5 324.3 L457.0 325.5 L456.5 326.5 L456.0 327.4 L455.5 328.3 L454.9 329.2 L454.2 330.2 L453.7 331.0 L453.0 331.8 L452.2 332.7 L451.6 333.5 L450.9 334.2 L450.2 335.0 L449.4 335.8 L448.7 336.5 L447.9 337.2 L447.1 338.0 L446.3 338.8 L445.5 339.5 L444.8 340.1 L444.0 340.8 L443.2 341.5 L442.5 342.2 L441.7 343.0 L440.9 343.8 L440.1 344.5 L439.3 345.2 L438.5 346.0 L437.8 346.7 L437.0 347.4 L436.2 348.1 L435.5 348.8 L434.8 349.5 L434.0 350.2 L433.2 351.0 L432.3 351.8 L431.5 352.5 L430.8 353.2 L430.0 353.9 L429.2 354.5 L428.5 355.2 L427.6 356.0 L426.8 356.8 L426.0 357.5 L425.2 358.2 L424.5 358.9 L423.8 359.6 L423.0 360.4 L422.2 361.2 L421.5 362.0 L420.8 362.8 L420.1 363.5 L419.4 364.2 L418.8 365.0 L418.0 365.8 L417.2 366.6 L416.5 367.4 L415.8 368.1 L415.0 368.8 L414.1 369.5 L413.2 370.2 L412.4 370.8 L411.5 371.3 L410.5 371.8 L409.5 372.3 L408.2 372.7 L407.2 373.0 L405.8 373.2ZM406.5 371.8 L405.0 371.9 L403.5 371.9 L402.2 371.6 L401.2 371.2 L400.2 370.7 L399.4 370.0 L398.7 369.2 L398.0 368.2 L397.6 367.2 L397.3 366.0 L397.2 364.8 L397.2 363.4 L397.5 362.2 L397.9 361.0 L398.3 360.0 L398.8 359.0 L399.5 358.0 L400.1 357.2 L400.8 356.4 L401.5 355.7 L402.2 354.9 L403.0 354.2 L404.0 353.5 L404.8 352.9 L405.6 352.2 L406.5 351.5 L407.2 350.9 L408.0 350.2 L408.8 349.5 L409.5 348.8 L410.2 347.9 L410.9 347.0 L411.5 346.2 L412.2 345.2 L412.8 344.3 L413.3 343.5 L413.9 342.5 L414.5 341.5 L415.0 340.7 L415.6 339.8 L416.2 338.8 L416.8 338.0 L417.4 337.0 L418.0 336.1 L418.6 335.2 L419.2 334.3 L419.8 333.5 L420.5 332.5 L421.0 331.8 L421.8 330.8 L422.3 330.0 L423.0 329.1 L423.7 328.2 L424.3 327.5 L425.0 326.6 L425.7 325.8 L426.3 325.0 L427.0 324.1 L427.7 323.2 L428.4 322.5 L429.0 321.8 L429.8 320.9 L430.5 320.0 L431.2 319.2 L431.9 318.5 L432.6 317.8 L433.3 317.0 L434.0 316.2 L434.8 315.5 L435.5 314.8 L436.4 314.0 L437.2 313.2 L438.0 312.6 L438.8 312.0 L439.8 311.3 L440.6 310.8 L441.5 310.2 L442.5 309.6 L443.5 309.1 L444.5 308.7 L445.8 308.3 L446.8 308.0 L448.2 307.8 L449.5 307.7 L450.8 307.8 L452.0 308.0 L453.2 308.5 L454.1 309.0 L455.0 309.7 L455.7 310.5 L456.2 311.3 L456.8 312.2 L457.2 313.5 L457.5 314.6 L457.7 316.0 L457.7 317.5 L457.6 319.0 L457.4 320.2 L457.2 321.5 L456.8 322.8 L456.5 323.8 L456.0 324.9 L455.5 325.9 L455.0 326.9 L454.5 327.8 L453.9 328.8 L453.2 329.6 L452.6 330.5 L452.0 331.2 L451.2 332.1 L450.5 332.9 L449.8 333.7 L449.0 334.4 L448.2 335.2 L447.5 335.9 L446.8 336.5 L446.0 337.2 L445.1 338.0 L444.3 338.8 L443.5 339.5 L442.8 340.2 L442.0 340.9 L441.2 341.6 L440.5 342.3 L439.7 343.0 L439.0 343.8 L438.2 344.5 L437.4 345.2 L436.6 346.0 L435.8 346.8 L435.0 347.5 L434.2 348.2 L433.5 348.9 L432.8 349.6 L432.0 350.2 L431.1 351.0 L430.3 351.8 L429.5 352.4 L428.8 353.1 L427.9 353.8 L427.0 354.5 L426.2 355.2 L425.5 355.8 L424.7 356.5 L423.8 357.2 L423.0 358.0 L422.2 358.7 L421.5 359.4 L420.8 360.2 L420.0 361.0 L419.4 361.8 L418.7 362.5 L418.0 363.4 L417.3 364.2 L416.7 365.0 L416.0 365.8 L415.2 366.6 L414.5 367.3 L413.8 368.0 L412.9 368.8 L412.0 369.4 L411.1 370.0 L410.2 370.5 L409.1 371.0 L408.0 371.4 L406.8 371.7ZM406.8 370.5 L405.2 370.7 L403.8 370.6 L402.5 370.3 L401.5 369.9 L400.5 369.2 L399.8 368.5 L399.2 367.8 L398.8 366.7 L398.4 365.5 L398.4 364.0 L398.5 362.8 L398.9 361.5 L399.3 360.5 L399.8 359.5 L400.5 358.5 L401.1 357.8 L401.8 357.0 L402.6 356.2 L403.5 355.5 L404.2 354.9 L405.2 354.3 L406.0 353.8 L407.0 353.1 L408.0 352.5 L408.8 351.9 L409.6 351.2 L410.4 350.5 L411.1 349.8 L411.8 348.9 L412.3 348.0 L413.0 347.0 L413.5 346.1 L414.0 345.2 L414.5 344.2 L415.1 343.2 L415.6 342.2 L416.2 341.2 L416.8 340.3 L417.2 339.5 L417.9 338.5 L418.5 337.5 L419.0 336.7 L419.6 335.8 L420.2 334.8 L420.8 334.0 L421.5 333.0 L422.1 332.2 L422.8 331.3 L423.4 330.5 L424.0 329.7 L424.7 328.8 L425.3 328.0 L426.0 327.1 L426.7 326.2 L427.3 325.5 L428.0 324.7 L428.8 323.8 L429.5 323.0 L430.1 322.2 L430.8 321.5 L431.5 320.7 L432.2 319.9 L433.0 319.0 L433.7 318.2 L434.4 317.5 L435.2 316.8 L436.0 316.0 L436.8 315.3 L437.5 314.6 L438.2 313.9 L439.1 313.2 L440.0 312.6 L440.9 312.0 L441.8 311.5 L442.8 310.9 L443.8 310.4 L444.9 310.0 L446.0 309.7 L447.2 309.4 L448.8 309.3 L450.2 309.4 L451.5 309.7 L452.5 310.1 L453.5 310.7 L454.2 311.4 L454.9 312.2 L455.5 313.2 L455.9 314.2 L456.2 315.5 L456.4 316.8 L456.5 318.2 L456.4 319.8 L456.1 321.0 L455.8 322.2 L455.5 323.3 L455.0 324.5 L454.6 325.5 L454.0 326.5 L453.5 327.4 L452.9 328.2 L452.2 329.2 L451.6 330.0 L451.0 330.8 L450.2 331.6 L449.5 332.3 L448.8 333.1 L448.0 333.8 L447.2 334.5 L446.4 335.2 L445.5 336.0 L444.8 336.7 L444.0 337.3 L443.2 338.0 L442.4 338.8 L441.6 339.5 L440.9 340.2 L440.1 341.0 L439.3 341.8 L438.5 342.5 L437.8 343.2 L437.0 344.0 L436.2 344.7 L435.5 345.4 L434.8 346.1 L434.0 346.8 L433.2 347.5 L432.4 348.2 L431.5 349.0 L430.8 349.7 L430.0 350.3 L429.1 351.0 L428.2 351.7 L427.5 352.3 L426.6 353.0 L425.8 353.7 L425.0 354.2 L424.0 355.0 L423.2 355.6 L422.4 356.2 L421.5 357.0 L420.8 357.6 L420.0 358.3 L419.2 359.1 L418.5 359.9 L417.9 360.8 L417.2 361.6 L416.6 362.5 L416.0 363.4 L415.4 364.2 L414.8 365.0 L414.0 365.9 L413.2 366.7 L412.5 367.4 L411.8 368.1 L410.8 368.8 L410.0 369.2 L409.0 369.8 L407.8 370.2 L406.8 370.5ZM406.0 369.5 L404.5 369.5 L403.2 369.3 L402.2 368.9 L401.2 368.3 L400.5 367.5 L400.0 366.6 L399.6 365.5 L399.4 364.2 L399.5 363.0 L399.9 361.8 L400.3 360.8 L400.9 359.8 L401.5 358.9 L402.2 358.1 L403.0 357.4 L403.8 356.8 L404.8 356.1 L405.8 355.5 L406.7 355.0 L407.8 354.5 L408.8 354.1 L409.8 353.6 L410.8 353.0 L411.5 352.5 L412.2 351.7 L413.0 350.8 L413.5 349.9 L414.0 348.9 L414.5 347.8 L415.0 346.8 L415.4 345.8 L415.9 344.8 L416.3 343.8 L416.8 342.8 L417.3 341.8 L417.9 340.8 L418.4 339.8 L419.0 338.8 L419.5 337.9 L420.1 337.0 L420.7 336.0 L421.2 335.2 L421.9 334.2 L422.5 333.4 L423.1 332.5 L423.8 331.7 L424.4 330.8 L425.0 330.0 L425.8 329.1 L426.4 328.2 L427.0 327.5 L427.8 326.7 L428.5 325.8 L429.2 325.0 L429.8 324.2 L430.5 323.5 L431.2 322.6 L432.0 321.8 L432.7 321.0 L433.4 320.2 L434.1 319.5 L434.8 318.8 L435.5 318.0 L436.3 317.2 L437.1 316.5 L437.9 315.8 L438.7 315.0 L439.5 314.4 L440.4 313.8 L441.2 313.1 L442.2 312.5 L443.2 312.0 L444.2 311.6 L445.2 311.2 L446.5 310.9 L447.8 310.7 L449.2 310.7 L450.5 311.0 L451.5 311.4 L452.5 312.0 L453.2 312.6 L453.9 313.5 L454.5 314.5 L454.9 315.5 L455.2 316.8 L455.3 318.0 L455.3 319.5 L455.1 320.8 L454.9 322.0 L454.5 323.2 L454.1 324.2 L453.6 325.2 L453.1 326.2 L452.5 327.2 L451.9 328.0 L451.2 328.9 L450.5 329.8 L449.9 330.5 L449.1 331.2 L448.3 332.0 L447.5 332.7 L446.8 333.4 L446.0 334.0 L445.2 334.8 L444.3 335.5 L443.5 336.2 L442.8 336.9 L442.0 337.6 L441.2 338.3 L440.5 339.0 L439.7 339.8 L439.0 340.5 L438.2 341.2 L437.4 342.0 L436.7 342.8 L435.9 343.5 L435.1 344.2 L434.3 345.0 L433.5 345.7 L432.8 346.4 L432.0 347.1 L431.2 347.8 L430.3 348.5 L429.5 349.2 L428.8 349.8 L427.8 350.5 L427.0 351.1 L426.0 351.8 L425.2 352.3 L424.2 352.9 L423.4 353.5 L422.5 354.0 L421.5 354.7 L420.6 355.2 L419.8 355.8 L418.8 356.5 L418.0 357.2 L417.3 358.0 L416.7 358.8 L416.1 359.8 L415.6 360.8 L415.1 361.8 L414.6 362.8 L414.0 363.7 L413.5 364.5 L412.8 365.4 L412.0 366.2 L411.2 367.0 L410.5 367.6 L409.5 368.2 L408.6 368.8 L407.5 369.2 L406.2 369.5ZM419.0 353.3 L417.5 353.4 L416.5 353.0 L416.0 351.8 L416.0 350.5 L416.1 349.2 L416.4 348.0 L416.7 346.8 L417.0 345.8 L417.5 344.5 L417.9 343.5 L418.3 342.5 L418.8 341.5 L419.3 340.5 L419.8 339.5 L420.4 338.5 L420.9 337.5 L421.5 336.6 L422.0 335.8 L422.7 334.8 L423.2 334.0 L423.9 333.0 L424.5 332.2 L425.2 331.3 L425.8 330.5 L426.5 329.7 L427.2 328.8 L427.9 328.0 L428.5 327.2 L429.2 326.4 L430.0 325.6 L430.8 324.8 L431.4 324.0 L432.1 323.2 L432.8 322.5 L433.5 321.7 L434.2 320.9 L435.0 320.1 L435.8 319.3 L436.5 318.6 L437.2 317.8 L438.0 317.1 L438.8 316.4 L439.5 315.8 L440.5 315.0 L441.2 314.4 L442.2 313.8 L443.2 313.2 L444.2 312.8 L445.2 312.4 L446.5 312.1 L447.8 312.0 L449.0 312.1 L450.2 312.4 L451.2 312.8 L452.1 313.5 L452.8 314.2 L453.5 315.2 L453.9 316.2 L454.2 317.5 L454.3 318.8 L454.2 320.1 L454.0 321.5 L453.8 322.6 L453.3 323.8 L452.9 324.8 L452.4 325.8 L451.8 326.7 L451.2 327.5 L450.5 328.4 L449.8 329.2 L449.0 330.0 L448.2 330.7 L447.5 331.4 L446.8 332.0 L445.9 332.8 L445.0 333.4 L444.2 334.1 L443.4 334.8 L442.6 335.5 L441.8 336.2 L441.0 337.0 L440.2 337.7 L439.5 338.4 L438.8 339.2 L438.0 340.0 L437.2 340.7 L436.5 341.5 L435.8 342.2 L435.0 343.0 L434.2 343.7 L433.5 344.4 L432.8 345.1 L432.0 345.8 L431.1 346.5 L430.2 347.2 L429.5 347.8 L428.5 348.5 L427.8 349.1 L426.8 349.7 L425.9 350.2 L425.0 350.8 L424.0 351.4 L423.0 351.9 L422.0 352.3 L420.8 352.8 L419.8 353.1ZM405.2 368.5 L404.0 368.4 L402.9 368.0 L402.0 367.4 L401.2 366.6 L400.8 365.6 L400.5 364.4 L400.5 363.2 L400.8 362.0 L401.2 361.0 L401.9 360.0 L402.5 359.2 L403.2 358.5 L404.2 357.8 L405.0 357.2 L406.0 356.8 L407.2 356.3 L408.4 356.0 L409.8 355.8 L411.0 355.7 L412.2 355.8 L413.3 356.2 L413.8 357.2 L413.9 358.8 L413.8 360.0 L413.5 361.2 L413.0 362.5 L412.6 363.5 L412.0 364.5 L411.4 365.2 L410.7 366.0 L409.9 366.8 L409.0 367.4 L408.0 367.9 L407.0 368.2 L405.5 368.5ZM422.2 350.3 L420.8 350.4 L419.5 350.0 L418.8 349.2 L418.5 348.1 L418.5 346.8 L418.7 345.5 L419.0 344.2 L419.3 343.2 L419.8 342.1 L420.2 341.0 L420.7 340.0 L421.2 339.0 L421.8 338.0 L422.2 337.1 L422.8 336.2 L423.5 335.2 L424.0 334.4 L424.7 333.5 L425.2 332.7 L426.0 331.8 L426.6 331.0 L427.2 330.2 L428.0 329.3 L428.7 328.5 L429.3 327.8 L430.0 327.0 L430.8 326.2 L431.5 325.4 L432.2 324.6 L433.0 323.8 L433.8 323.0 L434.5 322.2 L435.2 321.5 L435.9 320.8 L436.6 320.0 L437.3 319.2 L438.0 318.5 L438.8 317.8 L439.6 317.0 L440.5 316.2 L441.2 315.7 L442.2 315.0 L443.1 314.5 L444.1 314.0 L445.2 313.6 L446.5 313.3 L447.8 313.2 L449.0 313.3 L450.2 313.7 L451.1 314.2 L451.9 315.0 L452.5 315.9 L453.0 317.0 L453.2 318.0 L453.4 319.5 L453.2 321.0 L453.0 322.2 L452.7 323.2 L452.2 324.2 L451.7 325.2 L451.1 326.2 L450.5 327.1 L449.8 328.0 L449.0 328.8 L448.3 329.5 L447.5 330.2 L446.8 330.8 L445.8 331.5 L445.0 332.1 L444.1 332.8 L443.2 333.5 L442.5 334.1 L441.8 334.8 L441.0 335.5 L440.2 336.2 L439.5 337.0 L438.8 337.8 L438.0 338.6 L437.2 339.3 L436.5 340.1 L435.8 340.9 L435.0 341.6 L434.2 342.4 L433.5 343.1 L432.8 343.8 L431.9 344.5 L431.0 345.2 L430.2 345.9 L429.5 346.5 L428.5 347.2 L427.7 347.8 L426.8 348.3 L425.8 348.9 L424.8 349.4 L423.8 349.8 L422.5 350.2ZM406.8 367.3 L405.2 367.5 L403.9 367.2 L402.9 366.8 L402.2 366.0 L401.7 365.0 L401.5 363.8 L401.7 362.5 L402.0 361.5 L402.6 360.5 L403.3 359.8 L404.2 359.0 L405.0 358.5 L406.0 358.0 L407.2 357.6 L408.8 357.6 L410.0 357.8 L411.0 358.5 L411.5 359.2 L411.8 360.5 L411.8 361.9 L411.4 363.0 L410.9 364.0 L410.2 365.0 L409.5 365.8 L408.8 366.4 L407.8 366.9 L406.8 367.3ZM423.2 348.3 L422.0 348.2 L421.0 347.7 L420.5 346.8 L420.3 345.2 L420.5 343.8 L420.8 342.7 L421.1 341.5 L421.6 340.5 L422.0 339.5 L422.5 338.5 L423.1 337.5 L423.7 336.5 L424.2 335.6 L424.8 334.8 L425.5 333.8 L426.1 333.0 L426.8 332.1 L427.5 331.2 L428.1 330.5 L428.8 329.7 L429.5 328.9 L430.2 328.1 L431.0 327.3 L431.8 326.5 L432.5 325.8 L433.2 325.0 L434.0 324.2 L434.7 323.5 L435.4 322.8 L436.1 322.0 L436.8 321.2 L437.5 320.5 L438.2 319.7 L439.0 318.9 L439.8 318.2 L440.5 317.5 L441.4 316.8 L442.2 316.1 L443.2 315.5 L444.2 315.0 L445.2 314.6 L446.5 314.3 L447.8 314.2 L449.0 314.5 L450.0 314.9 L450.9 315.5 L451.5 316.2 L452.1 317.2 L452.4 318.5 L452.5 319.8 L452.4 321.0 L452.2 322.2 L451.8 323.5 L451.3 324.5 L450.8 325.5 L450.2 326.2 L449.5 327.1 L448.8 327.9 L448.0 328.6 L447.2 329.2 L446.2 330.0 L445.5 330.5 L444.5 331.2 L443.7 331.8 L442.8 332.5 L442.0 333.1 L441.2 333.8 L440.5 334.5 L439.8 335.3 L439.0 336.1 L438.2 336.9 L437.5 337.7 L436.8 338.5 L436.1 339.2 L435.4 340.0 L434.6 340.8 L433.9 341.5 L433.1 342.2 L432.3 343.0 L431.5 343.7 L430.8 344.3 L429.9 345.0 L429.0 345.6 L428.1 346.2 L427.2 346.8 L426.2 347.3 L425.2 347.8 L424.0 348.1ZM406.8 366.3 L405.2 366.5 L404.0 366.1 L403.2 365.5 L402.6 364.5 L402.5 363.2 L402.8 362.2 L403.2 361.2 L404.0 360.4 L404.8 359.8 L405.8 359.2 L407.0 358.9 L408.3 359.0 L409.4 359.5 L410.0 360.2 L410.4 361.5 L410.2 362.8 L409.8 363.9 L409.1 364.8 L408.3 365.5 L407.5 366.0ZM425.2 346.3 L423.8 346.4 L422.7 346.0 L422.0 345.0 L421.9 343.8 L422.0 342.5 L422.4 341.2 L422.8 340.2 L423.2 339.1 L423.8 338.1 L424.2 337.2 L424.8 336.2 L425.4 335.2 L426.0 334.5 L426.7 333.5 L427.3 332.8 L428.0 331.9 L428.7 331.0 L429.4 330.2 L430.1 329.5 L430.8 328.8 L431.6 328.0 L432.3 327.2 L433.1 326.5 L433.9 325.8 L434.7 325.0 L435.4 324.2 L436.2 323.5 L436.9 322.8 L437.5 322.0 L438.2 321.2 L439.0 320.3 L439.7 319.5 L440.5 318.8 L441.2 318.0 L442.0 317.4 L442.8 316.8 L443.8 316.2 L444.8 315.7 L446.0 315.3 L447.2 315.2 L448.5 315.3 L449.5 315.8 L450.5 316.5 L451.0 317.2 L451.5 318.3 L451.8 319.7 L451.7 320.8 L451.5 322.1 L451.1 323.2 L450.7 324.2 L450.1 325.2 L449.5 326.0 L448.8 326.9 L448.0 327.6 L447.2 328.2 L446.2 328.9 L445.4 329.5 L444.5 330.0 L443.5 330.6 L442.5 331.2 L441.8 331.8 L441.0 332.5 L440.2 333.2 L439.5 334.0 L438.8 334.9 L438.0 335.8 L437.4 336.5 L436.7 337.2 L436.0 338.1 L435.2 338.9 L434.5 339.7 L433.8 340.5 L433.0 341.2 L432.2 341.9 L431.5 342.5 L430.6 343.2 L429.8 343.9 L428.9 344.5 L428.0 345.1 L427.0 345.6 L426.0 346.0ZM406.5 365.3 L405.0 365.3 L404.1 364.8 L403.6 363.8 L403.8 362.5 L404.3 361.5 L405.1 360.8 L406.2 360.3 L407.5 360.2 L408.4 360.8 L409.0 361.8 L408.9 362.8 L408.5 363.8 L407.8 364.6 L406.8 365.2ZM426.5 344.5 L425.0 344.7 L424.0 344.2 L423.4 343.2 L423.4 341.8 L423.7 340.5 L424.1 339.5 L424.5 338.5 L425.0 337.5 L425.6 336.5 L426.2 335.5 L426.8 334.8 L427.5 333.8 L428.1 333.0 L428.8 332.2 L429.5 331.3 L430.2 330.5 L431.0 329.8 L431.8 329.0 L432.5 328.3 L433.2 327.7 L434.0 327.0 L434.9 326.2 L435.7 325.5 L436.5 324.8 L437.2 324.0 L437.9 323.2 L438.5 322.5 L439.2 321.6 L439.9 320.8 L440.5 320.0 L441.2 319.2 L442.0 318.4 L442.8 317.8 L443.8 317.1 L444.8 316.6 L445.8 316.2 L447.2 316.1 L448.5 316.3 L449.5 316.8 L450.2 317.6 L450.8 318.6 L451.0 319.8 L451.0 321.2 L450.8 322.4 L450.3 323.5 L449.8 324.5 L449.2 325.3 L448.5 326.2 L447.8 326.9 L447.0 327.5 L446.0 328.1 L445.0 328.7 L444.0 329.2 L443.0 329.6 L442.0 330.2 L441.2 330.8 L440.4 331.5 L439.6 332.2 L439.0 333.0 L438.2 334.0 L437.6 334.8 L437.0 335.5 L436.2 336.5 L435.6 337.2 L435.0 338.0 L434.2 338.8 L433.5 339.6 L432.8 340.3 L432.0 341.0 L431.1 341.8 L430.2 342.4 L429.5 343.0 L428.5 343.6 L427.5 344.1 L426.5 344.5ZM406.2 363.8 L405.2 363.4 L405.5 362.3 L406.5 361.9 L407.2 362.8 L406.5 363.7ZM426.5 343.0 L425.5 342.8 L424.9 341.8 L425.0 340.2 L425.3 339.2 L425.8 338.0 L426.2 337.1 L426.8 336.2 L427.4 335.2 L428.0 334.4 L428.7 333.5 L429.3 332.8 L430.0 332.0 L430.8 331.2 L431.5 330.5 L432.3 329.8 L433.2 329.0 L434.0 328.4 L434.9 327.8 L435.8 327.1 L436.6 326.5 L437.5 325.8 L438.2 325.0 L438.8 324.2 L439.4 323.2 L440.0 322.3 L440.5 321.5 L441.2 320.5 L441.8 319.8 L442.5 319.0 L443.4 318.2 L444.2 317.7 L445.2 317.2 L446.5 316.9 L448.0 317.0 L449.0 317.5 L449.7 318.2 L450.2 319.2 L450.4 320.5 L450.3 322.0 L449.9 323.0 L449.4 324.0 L448.8 325.0 L448.1 325.8 L447.2 326.5 L446.5 327.0 L445.5 327.5 L444.3 328.0 L443.2 328.3 L442.0 328.7 L441.0 329.2 L440.2 329.8 L439.4 330.5 L438.8 331.4 L438.2 332.2 L437.5 333.2 L437.0 334.0 L436.3 335.0 L435.7 335.8 L435.0 336.7 L434.3 337.5 L433.6 338.2 L432.9 339.0 L432.1 339.8 L431.3 340.5 L430.5 341.1 L429.6 341.8 L428.8 342.3 L427.7 342.8 L426.5 343.0ZM444.5 327.0 L443.0 327.2 L441.5 327.1 L440.5 326.6 L440.2 325.5 L440.4 324.2 L440.8 323.1 L441.2 322.0 L441.8 321.1 L442.3 320.2 L443.0 319.5 L443.8 318.8 L444.8 318.1 L445.8 317.7 L447.2 317.6 L448.4 318.0 L449.2 318.8 L449.7 319.8 L449.8 321.0 L449.6 322.2 L449.2 323.2 L448.6 324.2 L448.0 325.0 L447.2 325.8 L446.2 326.4 L445.2 326.8ZM428.5 341.1 L427.0 341.1 L426.5 340.2 L426.5 339.0 L427.0 337.8 L427.5 336.8 L428.0 335.8 L428.6 335.0 L429.2 334.1 L430.0 333.2 L430.7 332.5 L431.5 331.8 L432.2 331.1 L433.1 330.5 L434.0 329.9 L435.0 329.4 L436.2 329.0 L437.2 329.2 L437.3 330.5 L437.0 331.5 L436.5 332.6 L436.0 333.5 L435.4 334.5 L434.8 335.5 L434.2 336.2 L433.5 337.1 L432.8 337.9 L432.0 338.7 L431.2 339.4 L430.4 340.0 L429.5 340.6 L428.5 341.1ZM445.2 326.1 L443.8 326.2 L442.5 325.8 L441.9 325.0 L441.7 323.8 L441.9 322.5 L442.3 321.5 L442.9 320.5 L443.6 319.8 L444.5 319.0 L445.5 318.5 L446.7 318.2 L447.8 318.4 L448.5 319.0 L449.1 320.0 L449.2 321.2 L449.0 322.5 L448.5 323.5 L448.0 324.2 L447.2 325.0 L446.2 325.7 L445.2 326.1ZM429.2 339.1 L428.3 338.5 L428.5 337.2 L429.0 336.2 L429.7 335.2 L430.2 334.5 L431.0 333.7 L431.8 333.0 L432.8 332.4 L433.8 332.0 L434.6 332.5 L434.4 333.8 L433.9 334.8 L433.3 335.8 L432.7 336.5 L432.0 337.2 L431.2 338.0 L430.2 338.7 L429.2 339.1ZM445.5 325.3 L444.0 325.3 L443.1 324.8 L442.7 323.8 L442.8 322.4 L443.2 321.2 L443.8 320.4 L444.5 319.7 L445.5 319.1 L446.8 318.9 L447.8 319.2 L448.5 320.1 L448.7 321.5 L448.4 322.8 L447.8 323.8 L447.0 324.5 L446.2 325.0ZM445.8 324.6 L444.2 324.5 L443.6 323.8 L443.4 322.5 L443.8 321.5 L444.5 320.5 L445.2 319.9 L446.5 319.5 L447.7 320.0 L448.1 321.0 L448.0 322.3 L447.5 323.3 L446.8 324.1 L445.8 324.6ZM446.0 323.8 L444.6 323.8 L444.1 322.8 L444.4 321.5 L445.0 320.8 L446.0 320.2 L447.2 320.5 L447.6 321.5 L447.2 322.7 L446.6 323.5ZM446.0 323.0 L445.0 322.7 L445.2 321.5 L446.2 321.0 L446.8 321.5 L446.5 322.6Z" fill="none" stroke="#000" stroke-width="1.25" stroke-linejoin="round"/></g>
<path d="M447.0 317.5 L447.8 317.5 L448.6 317.6 L449.4 317.9 L450.1 318.4 L450.7 318.9 L451.0 319.5 L451.1 320.2 L451.0 320.9 L450.8 321.8 L450.4 322.7 L449.8 323.8 L449.0 325.0 L447.9 326.4 L446.6 328.0 L445.1 329.7 L443.4 331.4 L441.7 333.2 L440.0 335.0 L438.2 336.9 L436.3 338.9 L434.2 340.9 L432.3 342.9 L430.5 344.6 L429.0 346.0 L427.8 347.0 L426.8 347.8 L426.0 348.3 L425.3 348.7 L424.6 348.9 L424.0 349.0 L423.4 349.0 L422.8 348.9 L422.3 348.6 L421.9 348.1 L421.6 347.6 L421.5 347.0 L421.6 346.3 L421.7 345.4 L422.0 344.5 L422.5 343.4 L423.1 342.3 L424.0 341.0 L425.1 339.6 L426.5 338.0 L428.1 336.2 L429.8 334.5 L431.4 332.7 L433.0 331.0 L434.5 329.3 L436.1 327.4 L437.8 325.6 L439.3 323.9 L440.7 322.3 L442.0 321.0 L443.1 320.0 L444.0 319.1 L444.8 318.5 L445.6 318.0 L446.3 317.7Z" fill="#000" stroke="#000" stroke-width="1.0" stroke-linejoin="round"/>
<line x1="428.5" y1="267.7" x2="428.5" y2="320.2" stroke="#000" stroke-width="1.1"/>
<line x1="326.8" y1="346.3" x2="378.8" y2="346.3" stroke="#000" stroke-width="1.1"/>
<polygon points="378.8,346.3 428.5,320.2 443.5,342.5 448.5,348.0 457.0,349.3 406.8,409.0" fill="none" stroke="#000" stroke-width="1.4" stroke-linejoin="miter"/>
<line x1="448.5" y1="348" x2="519.5" y2="341.2" stroke="#000" stroke-width="1.1"/>
<line x1="406.8" y1="409" x2="406.8" y2="438.2" stroke="#000" stroke-width="1.4"/>
<line x1="406.8" y1="449.2" x2="406.8" y2="460.2" stroke="#000" stroke-width="1.4"/>
<text transform="translate(288.37,262.70) scale(0.9762,1)" font-size="25.65" font-weight="bold" fill="#000">D</text>
<text transform="translate(347.51,297.00) scale(0.9485,1)" font-size="18.14" font-weight="bold" fill="#000">CMP</text>
<text x="515.7" y="278.2" font-size="8.8" text-anchor="end" fill="#222" >HOEbright</text>
<text x="515.7" y="288.4" font-size="8.8" text-anchor="end" fill="#222" >18</text>
<text x="480.5" y="417.0" font-size="9" text-anchor="middle" fill="#222" >HOEmedium</text>
<text x="481.0" y="427.4" font-size="9" text-anchor="middle" fill="#222" >69.6</text>
<text x="393" y="447.6" font-size="9" text-anchor="middle" fill="#222" >HOEneg</text>
<text x="393" y="458.2" font-size="9" text-anchor="middle" fill="#222" >10.7</text>
<polygon points="183.8,56.8 253.8,56.8 253.8,52.0 278.0,60.8 253.8,69.5 253.8,64.7 183.8,64.7" fill="#d4d4d4" stroke="#000" stroke-width="2.0" stroke-linejoin="miter"/>
<polygon points="70.7,181.5 78.8,181.5 78.8,250.5 83.8,250.5 74.6,274.2 65.4,250.5 70.7,250.5" fill="#d4d4d4" stroke="#000" stroke-width="2.0" stroke-linejoin="miter"/>
<polygon points="190.2,172.5 242.9,219.2 245.8,216.3 256.8,238.0 233.8,228.4 236.2,225.8 185.0,178.3" fill="#d4d4d4" stroke="#000" stroke-width="2.0" stroke-linejoin="miter"/>
<text transform="translate(1.35,541.80) scale(0.9262,1)" font-size="25.80" font-weight="bold" fill="#000">E</text>
<polyline points="65.5,815.0 65.5,553.0 284.8,553.0 284.8,815.0" fill="none" stroke="#000" stroke-width="1.5" stroke-linejoin="miter"/>
<line x1="62" y1="815" x2="285.5" y2="815" stroke="#000" stroke-width="1.5"/>
<line x1="61.6" y1="815" x2="65.9" y2="815" stroke="#000" stroke-width="1.3"/>
<text transform="translate(44.28,826.50) scale(1.1184,1)" font-size="16.00" fill="#111">0</text>
<line x1="61.6" y1="771.7" x2="65.9" y2="771.7" stroke="#000" stroke-width="1.3"/>
<text transform="translate(35.44,783.20) scale(1.1949,1)" font-size="16.00" fill="#111">20</text>
<line x1="61.6" y1="727.5" x2="65.9" y2="727.5" stroke="#000" stroke-width="1.3"/>
<text transform="translate(35.93,739.00) scale(1.1663,1)" font-size="16.00" fill="#111">40</text>
<line x1="61.6" y1="683" x2="65.9" y2="683" stroke="#000" stroke-width="1.3"/>
<text transform="translate(36.59,694.50) scale(1.1336,1)" font-size="16.00" fill="#111">60</text>
<line x1="61.6" y1="640.6" x2="65.9" y2="640.6" stroke="#000" stroke-width="1.3"/>
<text transform="translate(36.69,652.10) scale(1.1280,1)" font-size="16.00" fill="#111">80</text>
<line x1="61.6" y1="595.2" x2="65.9" y2="595.2" stroke="#000" stroke-width="1.3"/>
<text transform="translate(27.88,606.70) scale(1.0968,1)" font-size="16.00" fill="#111">100</text>
<line x1="61.6" y1="553.3" x2="65.9" y2="553.3" stroke="#000" stroke-width="1.3"/>
<text transform="translate(28.85,564.80) scale(1.0444,1)" font-size="16.00" fill="#111">120</text>
<line x1="65.8" y1="815" x2="65.8" y2="818.5" stroke="#000" stroke-width="1.3"/>
<line x1="138.5" y1="815" x2="138.5" y2="818.5" stroke="#000" stroke-width="1.3"/>
<line x1="211.5" y1="815" x2="211.5" y2="818.5" stroke="#000" stroke-width="1.3"/>
<line x1="284.6" y1="815" x2="284.6" y2="818.5" stroke="#000" stroke-width="1.3"/>
<rect x="87.0" y="596.25" width="30.200000000000003" height="30.625" fill="#fff" stroke="#000" stroke-width="2"/>
<rect x="87.0" y="626.875" width="30.200000000000003" height="160.34375" fill="#c4c4c4" stroke="#000" stroke-width="2"/>
<rect x="87.0" y="787.21875" width="30.200000000000003" height="27.78125" fill="#000" stroke="#000" stroke-width="2"/>
<line x1="102.1" y1="587.9" x2="102.1" y2="605.0" stroke="#000" stroke-width="1.6"/>
<line x1="98.6" y1="587.9" x2="105.6" y2="587.9" stroke="#000" stroke-width="1.6"/>
<line x1="98.6" y1="605.0" x2="105.6" y2="605.0" stroke="#000" stroke-width="1.6"/>
<line x1="102.1" y1="619.2" x2="102.1" y2="635.6" stroke="#000" stroke-width="1.6"/>
<line x1="98.6" y1="619.2" x2="105.6" y2="619.2" stroke="#000" stroke-width="1.6"/>
<line x1="98.6" y1="635.6" x2="105.6" y2="635.6" stroke="#000" stroke-width="1.6"/>
<line x1="102.1" y1="783.0" x2="102.1" y2="792" stroke="#000" stroke-width="1.6"/>
<line x1="98.6" y1="783.0" x2="105.6" y2="783.0" stroke="#000" stroke-width="1.6"/>
<line x1="98.6" y1="792" x2="105.6" y2="792" stroke="#000" stroke-width="1.6"/>
<text transform="translate(89.92,840.20) scale(0.9827,1)" font-size="18.00" fill="#111">CMP</text>
<rect x="160.0" y="596.25" width="30.900000000000006" height="9.1875" fill="#fff" stroke="#000" stroke-width="2"/>
<rect x="160.0" y="605.4375" width="30.900000000000006" height="174.5625" fill="#c4c4c4" stroke="#000" stroke-width="2"/>
<rect x="160.0" y="780.0" width="30.900000000000006" height="35.0" fill="#000" stroke="#000" stroke-width="2"/>
<line x1="175.45" y1="594.2" x2="175.45" y2="599.2" stroke="#000" stroke-width="1.6"/>
<line x1="171.95" y1="594.2" x2="178.95" y2="594.2" stroke="#000" stroke-width="1.6"/>
<line x1="171.95" y1="599.2" x2="178.95" y2="599.2" stroke="#000" stroke-width="1.6"/>
<line x1="175.45" y1="601.9" x2="175.45" y2="610.3" stroke="#000" stroke-width="1.6"/>
<line x1="171.95" y1="601.9" x2="178.95" y2="601.9" stroke="#000" stroke-width="1.6"/>
<line x1="171.95" y1="610.3" x2="178.95" y2="610.3" stroke="#000" stroke-width="1.6"/>
<line x1="175.45" y1="776.3" x2="175.45" y2="784" stroke="#000" stroke-width="1.6"/>
<line x1="171.95" y1="776.3" x2="178.95" y2="776.3" stroke="#000" stroke-width="1.6"/>
<line x1="171.95" y1="784" x2="178.95" y2="784" stroke="#000" stroke-width="1.6"/>
<text transform="translate(162.81,840.20) scale(0.9860,1)" font-size="18.00" fill="#111">GMP</text>
<rect x="234.0" y="596.25" width="29.19999999999999" height="43.75" fill="#fff" stroke="#000" stroke-width="2"/>
<rect x="234.0" y="640.0" width="29.19999999999999" height="155.75" fill="#c4c4c4" stroke="#000" stroke-width="2"/>
<rect x="234.0" y="795.75" width="29.19999999999999" height="19.25" fill="#000" stroke="#000" stroke-width="2"/>
<line x1="248.6" y1="583.8" x2="248.6" y2="608.3" stroke="#000" stroke-width="1.6"/>
<line x1="245.1" y1="583.8" x2="252.1" y2="583.8" stroke="#000" stroke-width="1.6"/>
<line x1="245.1" y1="608.3" x2="252.1" y2="608.3" stroke="#000" stroke-width="1.6"/>
<line x1="248.6" y1="629.0" x2="248.6" y2="651.5" stroke="#000" stroke-width="1.6"/>
<line x1="245.1" y1="629.0" x2="252.1" y2="629.0" stroke="#000" stroke-width="1.6"/>
<line x1="245.1" y1="651.5" x2="252.1" y2="651.5" stroke="#000" stroke-width="1.6"/>
<line x1="248.6" y1="793.6" x2="248.6" y2="798" stroke="#000" stroke-width="1.6"/>
<line x1="245.1" y1="793.6" x2="252.1" y2="793.6" stroke="#000" stroke-width="1.6"/>
<line x1="245.1" y1="798" x2="252.1" y2="798" stroke="#000" stroke-width="1.6"/>
<text transform="translate(236.07,840.20) scale(0.9822,1)" font-size="18.26" fill="#111">MEP</text>
<text transform="translate(14.60,781.83) rotate(-90) scale(0.9725,1)" font-size="18.34" fill="#111">Percentage of population</text>
<polygon points="291.7,597.9 312.5,597.9 312.5,815.0" fill="#d2d2d2" stroke="#000" stroke-width="1.8" stroke-linejoin="miter"/>
<text transform="translate(328.90,768.17) rotate(-90) scale(1.0011,1)" font-size="14.90" font-weight="bold" fill="#000">blood perfusion</text>
<rect x="356.5" y="662" width="134" height="87.5" fill="#fff" stroke="#000" stroke-width="1.2"/>
<rect x="364.9" y="674.0" width="10" height="8.399999999999977" fill="#fff" stroke="#000" stroke-width="1.2"/>
<text transform="translate(381.29,682.90) scale(1.0989,1)" font-size="16.00" fill="#111">Ho bright</text>
<rect x="364.9" y="703.6" width="10" height="8.399999999999977" fill="#c0c0c0" stroke="#000" stroke-width="1.2"/>
<text transform="translate(381.28,712.00) scale(1.1090,1)" font-size="16.00" fill="#111">Ho medium</text>
<rect x="364.9" y="731.7" width="10" height="9.699999999999932" fill="#000" stroke="#000" stroke-width="1.2"/>
<text transform="translate(381.29,741.90) scale(1.0592,1)" font-size="16.69" fill="#111">Ho negative</text>
</svg></body></html>
